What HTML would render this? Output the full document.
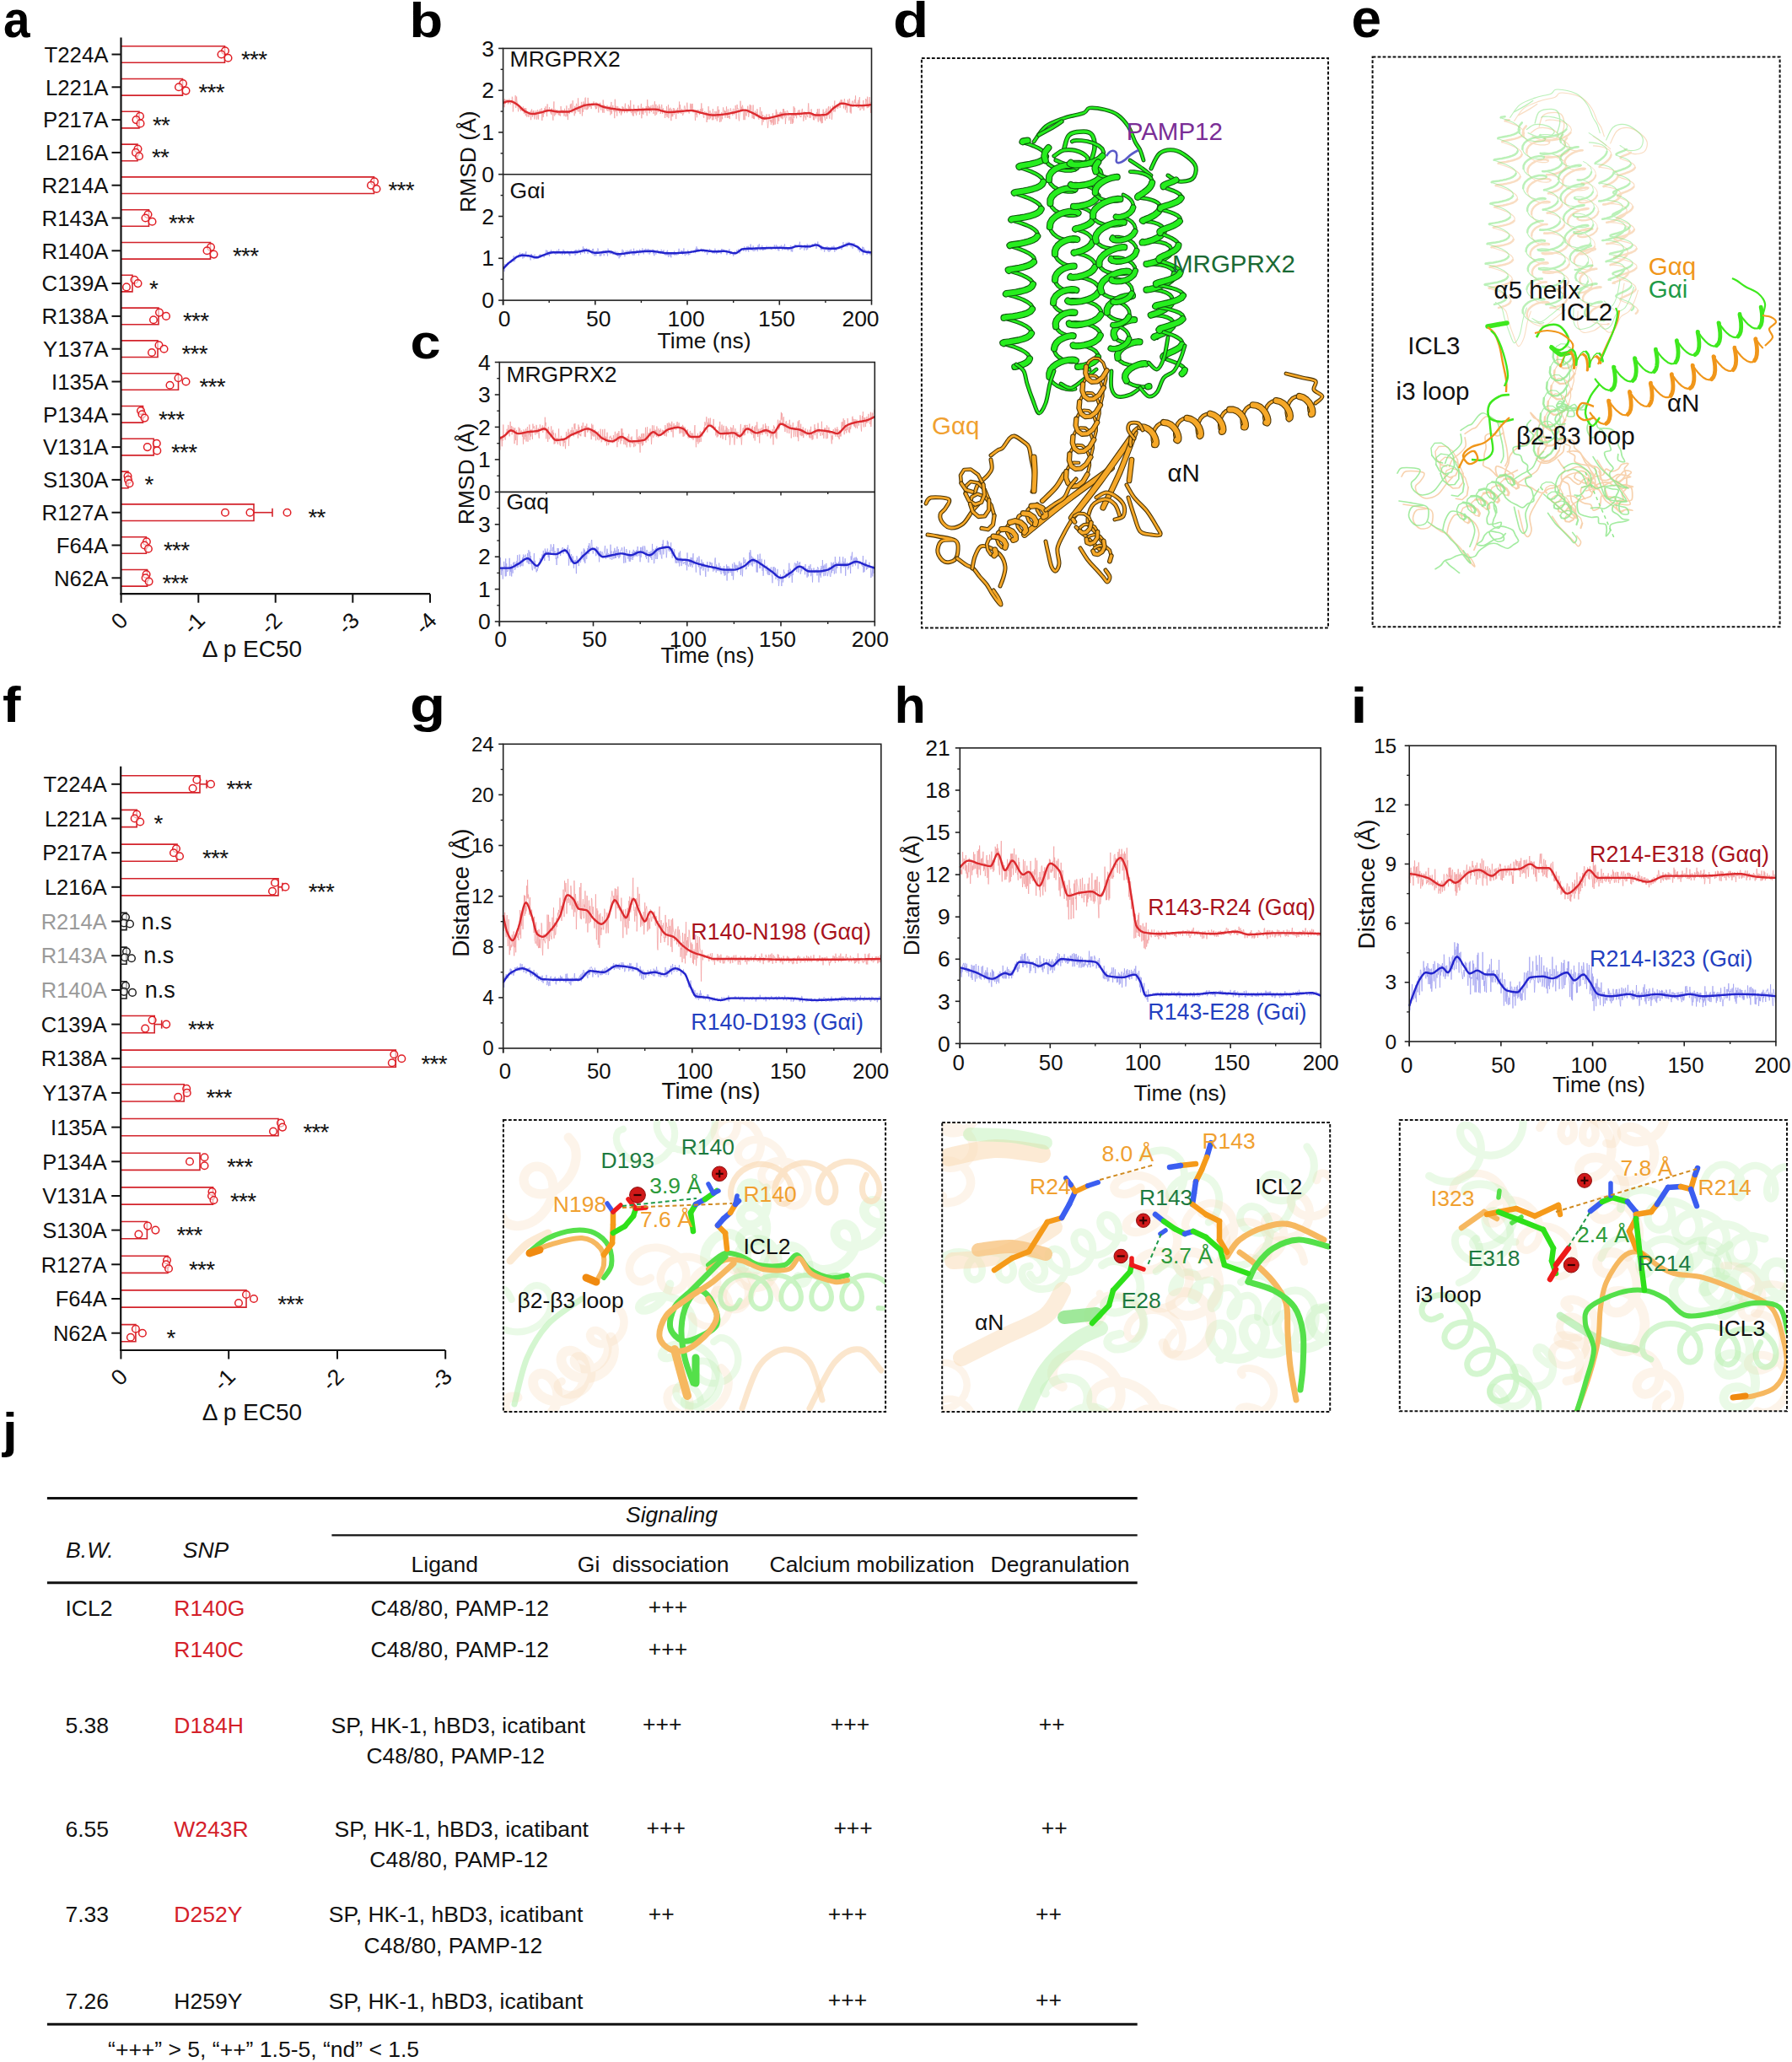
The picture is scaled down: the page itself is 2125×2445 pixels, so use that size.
<!DOCTYPE html>
<html><head><meta charset="utf-8"><title>Figure</title>
<style>html,body{margin:0;padding:0;background:#fff;overflow:hidden;}svg{display:block;}
text{font-family:'Liberation Sans', Arial, sans-serif;}</style></head>
<body><svg width="2125" height="2445" viewBox="0 0 2125 2445" fill="#111">
<rect width="2125" height="2445" fill="#fff"/>
<text x="0" y="0" font-size="61" font-weight="bold" fill="#000" transform="translate(4.0,43.7) scale(0.93,1)">a</text>
<text x="128.5" y="73.7" font-size="25.8" text-anchor="end">T224A</text>
<line x1="132.5" y1="64.5" x2="143.5" y2="64.5" stroke="#111" stroke-width="2"/>
<path d="M143.5,54.7 H266.5 V74.3 H143.5" stroke="#d3232b" stroke-width="1.6" fill="none"/>
<circle cx="267.0" cy="60.2" r="4.3" stroke="#e01f26" stroke-width="1.5" fill="#fff" fill-opacity="0.6"/>
<circle cx="262.5" cy="64.5" r="4.3" stroke="#e01f26" stroke-width="1.5" fill="#fff" fill-opacity="0.6"/>
<circle cx="270.5" cy="68.8" r="4.3" stroke="#e01f26" stroke-width="1.5" fill="#fff" fill-opacity="0.6"/>
<text x="286.0" y="80.0" font-size="28" letter-spacing="-0.8">***</text>
<text x="128.5" y="112.5" font-size="25.8" text-anchor="end">L221A</text>
<line x1="132.5" y1="103.3" x2="143.5" y2="103.3" stroke="#111" stroke-width="2"/>
<path d="M143.5,93.5 H216.5 V113.1 H143.5" stroke="#d3232b" stroke-width="1.6" fill="none"/>
<circle cx="217.0" cy="99.0" r="4.3" stroke="#e01f26" stroke-width="1.5" fill="#fff" fill-opacity="0.6"/>
<circle cx="212.0" cy="103.3" r="4.3" stroke="#e01f26" stroke-width="1.5" fill="#fff" fill-opacity="0.6"/>
<circle cx="220.5" cy="107.6" r="4.3" stroke="#e01f26" stroke-width="1.5" fill="#fff" fill-opacity="0.6"/>
<text x="235.5" y="118.8" font-size="28" letter-spacing="-0.8">***</text>
<text x="128.5" y="151.3" font-size="25.8" text-anchor="end">P217A</text>
<line x1="132.5" y1="142.1" x2="143.5" y2="142.1" stroke="#111" stroke-width="2"/>
<path d="M143.5,132.3 H165.0 V151.9 H143.5" stroke="#d3232b" stroke-width="1.6" fill="none"/>
<circle cx="166.0" cy="137.8" r="4.3" stroke="#e01f26" stroke-width="1.5" fill="#fff" fill-opacity="0.6"/>
<circle cx="161.5" cy="142.1" r="4.3" stroke="#e01f26" stroke-width="1.5" fill="#fff" fill-opacity="0.6"/>
<circle cx="166.5" cy="146.4" r="4.3" stroke="#e01f26" stroke-width="1.5" fill="#fff" fill-opacity="0.6"/>
<text x="181.0" y="157.6" font-size="28" letter-spacing="-0.8">**</text>
<text x="128.5" y="190.1" font-size="25.8" text-anchor="end">L216A</text>
<line x1="132.5" y1="180.9" x2="143.5" y2="180.9" stroke="#111" stroke-width="2"/>
<path d="M143.5,171.1 H163.0 V190.7 H143.5" stroke="#d3232b" stroke-width="1.6" fill="none"/>
<circle cx="163.5" cy="176.6" r="4.3" stroke="#e01f26" stroke-width="1.5" fill="#fff" fill-opacity="0.6"/>
<circle cx="161.0" cy="180.9" r="4.3" stroke="#e01f26" stroke-width="1.5" fill="#fff" fill-opacity="0.6"/>
<circle cx="165.0" cy="185.2" r="4.3" stroke="#e01f26" stroke-width="1.5" fill="#fff" fill-opacity="0.6"/>
<text x="180.0" y="196.4" font-size="28" letter-spacing="-0.8">**</text>
<text x="128.5" y="228.9" font-size="25.8" text-anchor="end">R214A</text>
<line x1="132.5" y1="219.7" x2="143.5" y2="219.7" stroke="#111" stroke-width="2"/>
<path d="M143.5,209.9 H443.5 V229.5 H143.5" stroke="#d3232b" stroke-width="1.6" fill="none"/>
<circle cx="444.0" cy="215.4" r="4.3" stroke="#e01f26" stroke-width="1.5" fill="#fff" fill-opacity="0.6"/>
<circle cx="440.0" cy="219.7" r="4.3" stroke="#e01f26" stroke-width="1.5" fill="#fff" fill-opacity="0.6"/>
<circle cx="446.5" cy="224.0" r="4.3" stroke="#e01f26" stroke-width="1.5" fill="#fff" fill-opacity="0.6"/>
<text x="460.5" y="235.2" font-size="28" letter-spacing="-0.8">***</text>
<text x="128.5" y="267.7" font-size="25.8" text-anchor="end">R143A</text>
<line x1="132.5" y1="258.5" x2="143.5" y2="258.5" stroke="#111" stroke-width="2"/>
<path d="M143.5,248.7 H176.5 V268.3 H143.5" stroke="#d3232b" stroke-width="1.6" fill="none"/>
<circle cx="175.5" cy="254.2" r="4.3" stroke="#e01f26" stroke-width="1.5" fill="#fff" fill-opacity="0.6"/>
<circle cx="172.5" cy="258.5" r="4.3" stroke="#e01f26" stroke-width="1.5" fill="#fff" fill-opacity="0.6"/>
<circle cx="180.5" cy="262.8" r="4.3" stroke="#e01f26" stroke-width="1.5" fill="#fff" fill-opacity="0.6"/>
<text x="200.0" y="274.0" font-size="28" letter-spacing="-0.8">***</text>
<text x="128.5" y="306.5" font-size="25.8" text-anchor="end">R140A</text>
<line x1="132.5" y1="297.3" x2="143.5" y2="297.3" stroke="#111" stroke-width="2"/>
<path d="M143.5,287.5 H249.5 V307.1 H143.5" stroke="#d3232b" stroke-width="1.6" fill="none"/>
<circle cx="250.0" cy="293.0" r="4.3" stroke="#e01f26" stroke-width="1.5" fill="#fff" fill-opacity="0.6"/>
<circle cx="245.5" cy="297.3" r="4.3" stroke="#e01f26" stroke-width="1.5" fill="#fff" fill-opacity="0.6"/>
<circle cx="253.5" cy="301.6" r="4.3" stroke="#e01f26" stroke-width="1.5" fill="#fff" fill-opacity="0.6"/>
<text x="276.0" y="312.8" font-size="28" letter-spacing="-0.8">***</text>
<text x="128.5" y="345.3" font-size="25.8" text-anchor="end">C139A</text>
<line x1="132.5" y1="336.1" x2="143.5" y2="336.1" stroke="#111" stroke-width="2"/>
<path d="M143.5,326.3 H157.0 V345.9 H143.5" stroke="#d3232b" stroke-width="1.6" fill="none"/>
<circle cx="159.5" cy="331.8" r="4.3" stroke="#e01f26" stroke-width="1.5" fill="#fff" fill-opacity="0.6"/>
<circle cx="163.5" cy="336.1" r="4.3" stroke="#e01f26" stroke-width="1.5" fill="#fff" fill-opacity="0.6"/>
<circle cx="150.0" cy="340.4" r="4.3" stroke="#e01f26" stroke-width="1.5" fill="#fff" fill-opacity="0.6"/>
<text x="177.0" y="351.6" font-size="28" letter-spacing="-0.8">*</text>
<text x="128.5" y="384.1" font-size="25.8" text-anchor="end">R138A</text>
<line x1="132.5" y1="374.9" x2="143.5" y2="374.9" stroke="#111" stroke-width="2"/>
<path d="M143.5,365.1 H188.0 V384.7 H143.5" stroke="#d3232b" stroke-width="1.6" fill="none"/>
<circle cx="189.0" cy="370.6" r="4.3" stroke="#e01f26" stroke-width="1.5" fill="#fff" fill-opacity="0.6"/>
<circle cx="197.0" cy="374.9" r="4.3" stroke="#e01f26" stroke-width="1.5" fill="#fff" fill-opacity="0.6"/>
<circle cx="182.0" cy="379.2" r="4.3" stroke="#e01f26" stroke-width="1.5" fill="#fff" fill-opacity="0.6"/>
<text x="217.0" y="390.4" font-size="28" letter-spacing="-0.8">***</text>
<text x="128.5" y="422.9" font-size="25.8" text-anchor="end">Y137A</text>
<line x1="132.5" y1="413.7" x2="143.5" y2="413.7" stroke="#111" stroke-width="2"/>
<path d="M143.5,403.9 H187.0 V423.5 H143.5" stroke="#d3232b" stroke-width="1.6" fill="none"/>
<circle cx="188.5" cy="409.4" r="4.3" stroke="#e01f26" stroke-width="1.5" fill="#fff" fill-opacity="0.6"/>
<circle cx="194.5" cy="413.7" r="4.3" stroke="#e01f26" stroke-width="1.5" fill="#fff" fill-opacity="0.6"/>
<circle cx="180.0" cy="418.0" r="4.3" stroke="#e01f26" stroke-width="1.5" fill="#fff" fill-opacity="0.6"/>
<text x="215.5" y="429.2" font-size="28" letter-spacing="-0.8">***</text>
<text x="128.5" y="461.7" font-size="25.8" text-anchor="end">I135A</text>
<line x1="132.5" y1="452.5" x2="143.5" y2="452.5" stroke="#111" stroke-width="2"/>
<path d="M143.5,442.7 H211.5 V462.3 H143.5" stroke="#d3232b" stroke-width="1.6" fill="none"/>
<circle cx="211.5" cy="448.2" r="4.3" stroke="#e01f26" stroke-width="1.5" fill="#fff" fill-opacity="0.6"/>
<circle cx="220.5" cy="452.5" r="4.3" stroke="#e01f26" stroke-width="1.5" fill="#fff" fill-opacity="0.6"/>
<circle cx="201.5" cy="456.8" r="4.3" stroke="#e01f26" stroke-width="1.5" fill="#fff" fill-opacity="0.6"/>
<text x="236.5" y="468.0" font-size="28" letter-spacing="-0.8">***</text>
<text x="128.5" y="500.5" font-size="25.8" text-anchor="end">P134A</text>
<line x1="132.5" y1="491.3" x2="143.5" y2="491.3" stroke="#111" stroke-width="2"/>
<path d="M143.5,481.5 H169.5 V501.1 H143.5" stroke="#d3232b" stroke-width="1.6" fill="none"/>
<circle cx="167.0" cy="487.0" r="4.3" stroke="#e01f26" stroke-width="1.5" fill="#fff" fill-opacity="0.6"/>
<circle cx="168.5" cy="491.3" r="4.3" stroke="#e01f26" stroke-width="1.5" fill="#fff" fill-opacity="0.6"/>
<circle cx="171.5" cy="495.6" r="4.3" stroke="#e01f26" stroke-width="1.5" fill="#fff" fill-opacity="0.6"/>
<text x="188.0" y="506.8" font-size="28" letter-spacing="-0.8">***</text>
<text x="128.5" y="539.3" font-size="25.8" text-anchor="end">V131A</text>
<line x1="132.5" y1="530.1" x2="143.5" y2="530.1" stroke="#111" stroke-width="2"/>
<path d="M143.5,520.3 H182.3 V539.9 H143.5" stroke="#d3232b" stroke-width="1.6" fill="none"/>
<circle cx="185.8" cy="525.8" r="4.3" stroke="#e01f26" stroke-width="1.5" fill="#fff" fill-opacity="0.6"/>
<circle cx="174.8" cy="530.1" r="4.3" stroke="#e01f26" stroke-width="1.5" fill="#fff" fill-opacity="0.6"/>
<circle cx="186.3" cy="534.4" r="4.3" stroke="#e01f26" stroke-width="1.5" fill="#fff" fill-opacity="0.6"/>
<text x="203.0" y="545.6" font-size="28" letter-spacing="-0.8">***</text>
<text x="128.5" y="578.1" font-size="25.8" text-anchor="end">S130A</text>
<line x1="132.5" y1="568.9" x2="143.5" y2="568.9" stroke="#111" stroke-width="2"/>
<path d="M143.5,559.1 H152.0 V578.7 H143.5" stroke="#d3232b" stroke-width="1.6" fill="none"/>
<circle cx="151.5" cy="564.6" r="4.3" stroke="#e01f26" stroke-width="1.5" fill="#fff" fill-opacity="0.6"/>
<circle cx="152.0" cy="568.9" r="4.3" stroke="#e01f26" stroke-width="1.5" fill="#fff" fill-opacity="0.6"/>
<circle cx="153.5" cy="573.2" r="4.3" stroke="#e01f26" stroke-width="1.5" fill="#fff" fill-opacity="0.6"/>
<text x="171.5" y="584.4" font-size="28" letter-spacing="-0.8">*</text>
<text x="128.5" y="616.9" font-size="25.8" text-anchor="end">R127A</text>
<line x1="132.5" y1="607.7" x2="143.5" y2="607.7" stroke="#111" stroke-width="2"/>
<path d="M143.5,597.9 H301.0 V617.5 H143.5" stroke="#d3232b" stroke-width="1.6" fill="none"/>
<line x1="301.0" y1="607.7" x2="323.0" y2="607.7" stroke="#d3232b" stroke-width="1.6"/>
<line x1="323.0" y1="602.7" x2="323.0" y2="612.7" stroke="#d3232b" stroke-width="1.6"/>
<circle cx="267.0" cy="607.7" r="4.3" stroke="#e01f26" stroke-width="1.5" fill="#fff" fill-opacity="0.6"/>
<circle cx="296.5" cy="607.7" r="4.3" stroke="#e01f26" stroke-width="1.5" fill="#fff" fill-opacity="0.6"/>
<circle cx="340.5" cy="607.7" r="4.3" stroke="#e01f26" stroke-width="1.5" fill="#fff" fill-opacity="0.6"/>
<text x="365.5" y="623.2" font-size="28" letter-spacing="-0.8">**</text>
<text x="128.5" y="655.7" font-size="25.8" text-anchor="end">F64A</text>
<line x1="132.5" y1="646.5" x2="143.5" y2="646.5" stroke="#111" stroke-width="2"/>
<path d="M143.5,636.7 H173.4 V656.3 H143.5" stroke="#d3232b" stroke-width="1.6" fill="none"/>
<circle cx="173.9" cy="642.2" r="4.3" stroke="#e01f26" stroke-width="1.5" fill="#fff" fill-opacity="0.6"/>
<circle cx="171.4" cy="646.5" r="4.3" stroke="#e01f26" stroke-width="1.5" fill="#fff" fill-opacity="0.6"/>
<circle cx="175.9" cy="650.8" r="4.3" stroke="#e01f26" stroke-width="1.5" fill="#fff" fill-opacity="0.6"/>
<text x="194.0" y="662.0" font-size="28" letter-spacing="-0.8">***</text>
<text x="128.5" y="694.5" font-size="25.8" text-anchor="end">N62A</text>
<line x1="132.5" y1="685.3" x2="143.5" y2="685.3" stroke="#111" stroke-width="2"/>
<path d="M143.5,675.5 H174.6 V695.1 H143.5" stroke="#d3232b" stroke-width="1.6" fill="none"/>
<circle cx="173.6" cy="681.0" r="4.3" stroke="#e01f26" stroke-width="1.5" fill="#fff" fill-opacity="0.6"/>
<circle cx="172.6" cy="685.3" r="4.3" stroke="#e01f26" stroke-width="1.5" fill="#fff" fill-opacity="0.6"/>
<circle cx="176.6" cy="689.6" r="4.3" stroke="#e01f26" stroke-width="1.5" fill="#fff" fill-opacity="0.6"/>
<text x="192.5" y="700.8" font-size="28" letter-spacing="-0.8">***</text>
<line x1="143.5" y1="44.4" x2="143.5" y2="705.2" stroke="#111" stroke-width="2.2"/>
<line x1="142.5" y1="704.2" x2="510.0" y2="704.2" stroke="#111" stroke-width="2.2"/>
<line x1="143.6" y1="704.2" x2="143.6" y2="714.7" stroke="#111" stroke-width="2"/>
<text x="0" y="0" font-size="26.5" text-anchor="end" transform="translate(153.1,737.2) rotate(-45)">0</text>
<line x1="235.3" y1="704.2" x2="235.3" y2="714.7" stroke="#111" stroke-width="2"/>
<text x="0" y="0" font-size="26.5" text-anchor="end" transform="translate(244.8,737.2) rotate(-45)">-1</text>
<line x1="326.7" y1="704.2" x2="326.7" y2="714.7" stroke="#111" stroke-width="2"/>
<text x="0" y="0" font-size="26.5" text-anchor="end" transform="translate(336.2,737.2) rotate(-45)">-2</text>
<line x1="418.3" y1="704.2" x2="418.3" y2="714.7" stroke="#111" stroke-width="2"/>
<text x="0" y="0" font-size="26.5" text-anchor="end" transform="translate(427.8,737.2) rotate(-45)">-3</text>
<line x1="510.0" y1="704.2" x2="510.0" y2="714.7" stroke="#111" stroke-width="2"/>
<text x="0" y="0" font-size="26.5" text-anchor="end" transform="translate(519.5,737.2) rotate(-45)">-4</text>
<text x="299.0" y="778.5" font-size="28" text-anchor="middle">Δ p EC50</text>
<text x="0" y="0" font-size="60" font-weight="bold" fill="#000" transform="translate(3.0,856.2) scale(1.08,1)">f</text>
<text x="126.7" y="939.0" font-size="25.5" text-anchor="end">T224A</text>
<line x1="132.2" y1="929.8" x2="143.2" y2="929.8" stroke="#111" stroke-width="2"/>
<path d="M143.2,919.7 H237.0 V939.9 H143.2" stroke="#d3232b" stroke-width="1.6" fill="none"/>
<line x1="237.0" y1="929.8" x2="245.0" y2="929.8" stroke="#d3232b" stroke-width="1.6"/>
<line x1="245.0" y1="924.8" x2="245.0" y2="934.8" stroke="#d3232b" stroke-width="1.6"/>
<circle cx="233.4" cy="924.8" r="4.3" stroke="#e01f26" stroke-width="1.5" fill="#fff" fill-opacity="0.6"/>
<circle cx="228.6" cy="934.8" r="4.3" stroke="#e01f26" stroke-width="1.5" fill="#fff" fill-opacity="0.6"/>
<circle cx="250.0" cy="929.8" r="4.3" stroke="#e01f26" stroke-width="1.5" fill="#fff" fill-opacity="0.6"/>
<text x="268.4" y="945.3" font-size="28" letter-spacing="-0.8">***</text>
<text x="126.7" y="979.7" font-size="25.5" text-anchor="end">L221A</text>
<line x1="132.2" y1="970.5" x2="143.2" y2="970.5" stroke="#111" stroke-width="2"/>
<path d="M143.2,960.4 H162.2 V980.6 H143.2" stroke="#d3232b" stroke-width="1.6" fill="none"/>
<circle cx="162.2" cy="965.5" r="4.3" stroke="#e01f26" stroke-width="1.5" fill="#fff" fill-opacity="0.6"/>
<circle cx="159.7" cy="970.5" r="4.3" stroke="#e01f26" stroke-width="1.5" fill="#fff" fill-opacity="0.6"/>
<circle cx="166.2" cy="974.5" r="4.3" stroke="#e01f26" stroke-width="1.5" fill="#fff" fill-opacity="0.6"/>
<text x="182.5" y="986.0" font-size="28" letter-spacing="-0.8">*</text>
<text x="126.7" y="1020.4" font-size="25.5" text-anchor="end">P217A</text>
<line x1="132.2" y1="1011.2" x2="143.2" y2="1011.2" stroke="#111" stroke-width="2"/>
<path d="M143.2,1001.1 H210.0 V1021.3 H143.2" stroke="#d3232b" stroke-width="1.6" fill="none"/>
<circle cx="209.0" cy="1006.2" r="4.3" stroke="#e01f26" stroke-width="1.5" fill="#fff" fill-opacity="0.6"/>
<circle cx="206.0" cy="1011.2" r="4.3" stroke="#e01f26" stroke-width="1.5" fill="#fff" fill-opacity="0.6"/>
<circle cx="213.0" cy="1015.2" r="4.3" stroke="#e01f26" stroke-width="1.5" fill="#fff" fill-opacity="0.6"/>
<text x="240.0" y="1026.7" font-size="28" letter-spacing="-0.8">***</text>
<text x="126.7" y="1061.0" font-size="25.5" text-anchor="end">L216A</text>
<line x1="132.2" y1="1051.8" x2="143.2" y2="1051.8" stroke="#111" stroke-width="2"/>
<path d="M143.2,1041.7 H330.0 V1061.9 H143.2" stroke="#d3232b" stroke-width="1.6" fill="none"/>
<line x1="330.0" y1="1051.8" x2="335.0" y2="1051.8" stroke="#d3232b" stroke-width="1.6"/>
<line x1="335.0" y1="1046.8" x2="335.0" y2="1056.8" stroke="#d3232b" stroke-width="1.6"/>
<circle cx="326.0" cy="1046.8" r="4.3" stroke="#e01f26" stroke-width="1.5" fill="#fff" fill-opacity="0.6"/>
<circle cx="323.0" cy="1056.8" r="4.3" stroke="#e01f26" stroke-width="1.5" fill="#fff" fill-opacity="0.6"/>
<circle cx="338.4" cy="1051.8" r="4.3" stroke="#e01f26" stroke-width="1.5" fill="#fff" fill-opacity="0.6"/>
<text x="365.7" y="1067.3" font-size="28" letter-spacing="-0.8">***</text>
<text x="126.7" y="1101.7" font-size="25.5" text-anchor="end" fill="#9a9a9a">R214A</text>
<line x1="132.2" y1="1092.5" x2="143.2" y2="1092.5" stroke="#111" stroke-width="2"/>
<path d="M143.2,1082.4 H150.0 V1102.6 H143.2" stroke="#222" stroke-width="1.6" fill="none"/>
<circle cx="149.0" cy="1087.5" r="4.3" stroke="#222" stroke-width="1.5" fill="#fff" fill-opacity="0.6"/>
<circle cx="147.0" cy="1094.5" r="4.3" stroke="#222" stroke-width="1.5" fill="#fff" fill-opacity="0.6"/>
<circle cx="154.0" cy="1095.5" r="4.3" stroke="#222" stroke-width="1.5" fill="#fff" fill-opacity="0.6"/>
<text x="167.7" y="1101.5" font-size="27">n.s</text>
<text x="126.7" y="1142.4" font-size="25.5" text-anchor="end" fill="#9a9a9a">R143A</text>
<line x1="132.2" y1="1133.2" x2="143.2" y2="1133.2" stroke="#111" stroke-width="2"/>
<path d="M143.2,1123.1 H150.0 V1143.3 H143.2" stroke="#222" stroke-width="1.6" fill="none"/>
<circle cx="150.0" cy="1128.2" r="4.3" stroke="#222" stroke-width="1.5" fill="#fff" fill-opacity="0.6"/>
<circle cx="148.0" cy="1135.2" r="4.3" stroke="#222" stroke-width="1.5" fill="#fff" fill-opacity="0.6"/>
<circle cx="156.0" cy="1136.2" r="4.3" stroke="#222" stroke-width="1.5" fill="#fff" fill-opacity="0.6"/>
<text x="170.3" y="1142.2" font-size="27">n.s</text>
<text x="126.7" y="1183.1" font-size="25.5" text-anchor="end" fill="#9a9a9a">R140A</text>
<line x1="132.2" y1="1173.9" x2="143.2" y2="1173.9" stroke="#111" stroke-width="2"/>
<path d="M143.2,1163.8 H150.0 V1184.0 H143.2" stroke="#222" stroke-width="1.6" fill="none"/>
<circle cx="149.0" cy="1168.9" r="4.3" stroke="#222" stroke-width="1.5" fill="#fff" fill-opacity="0.6"/>
<circle cx="147.0" cy="1175.9" r="4.3" stroke="#222" stroke-width="1.5" fill="#fff" fill-opacity="0.6"/>
<circle cx="157.0" cy="1176.9" r="4.3" stroke="#222" stroke-width="1.5" fill="#fff" fill-opacity="0.6"/>
<text x="171.8" y="1182.9" font-size="27">n.s</text>
<text x="126.7" y="1223.8" font-size="25.5" text-anchor="end">C139A</text>
<line x1="132.2" y1="1214.6" x2="143.2" y2="1214.6" stroke="#111" stroke-width="2"/>
<path d="M143.2,1204.5 H183.2 V1224.7 H143.2" stroke="#d3232b" stroke-width="1.6" fill="none"/>
<line x1="183.2" y1="1214.6" x2="191.7" y2="1214.6" stroke="#d3232b" stroke-width="1.6"/>
<line x1="191.7" y1="1209.6" x2="191.7" y2="1219.6" stroke="#d3232b" stroke-width="1.6"/>
<circle cx="180.6" cy="1209.6" r="4.3" stroke="#e01f26" stroke-width="1.5" fill="#fff" fill-opacity="0.6"/>
<circle cx="172.2" cy="1219.6" r="4.3" stroke="#e01f26" stroke-width="1.5" fill="#fff" fill-opacity="0.6"/>
<circle cx="197.2" cy="1214.6" r="4.3" stroke="#e01f26" stroke-width="1.5" fill="#fff" fill-opacity="0.6"/>
<text x="223.0" y="1230.1" font-size="28" letter-spacing="-0.8">***</text>
<text x="126.7" y="1264.4" font-size="25.5" text-anchor="end">R138A</text>
<line x1="132.2" y1="1255.2" x2="143.2" y2="1255.2" stroke="#111" stroke-width="2"/>
<path d="M143.2,1245.1 H469.3 V1265.3 H143.2" stroke="#d3232b" stroke-width="1.6" fill="none"/>
<circle cx="467.3" cy="1250.2" r="4.3" stroke="#e01f26" stroke-width="1.5" fill="#fff" fill-opacity="0.6"/>
<circle cx="464.8" cy="1260.2" r="4.3" stroke="#e01f26" stroke-width="1.5" fill="#fff" fill-opacity="0.6"/>
<circle cx="476.3" cy="1255.2" r="4.3" stroke="#e01f26" stroke-width="1.5" fill="#fff" fill-opacity="0.6"/>
<text x="499.5" y="1270.7" font-size="28" letter-spacing="-0.8">***</text>
<text x="126.7" y="1305.1" font-size="25.5" text-anchor="end">Y137A</text>
<line x1="132.2" y1="1295.9" x2="143.2" y2="1295.9" stroke="#111" stroke-width="2"/>
<path d="M143.2,1285.8 H218.2 V1306.0 H143.2" stroke="#d3232b" stroke-width="1.6" fill="none"/>
<circle cx="221.2" cy="1290.9" r="4.3" stroke="#e01f26" stroke-width="1.5" fill="#fff" fill-opacity="0.6"/>
<circle cx="211.2" cy="1300.9" r="4.3" stroke="#e01f26" stroke-width="1.5" fill="#fff" fill-opacity="0.6"/>
<circle cx="221.7" cy="1295.9" r="4.3" stroke="#e01f26" stroke-width="1.5" fill="#fff" fill-opacity="0.6"/>
<text x="244.4" y="1311.4" font-size="28" letter-spacing="-0.8">***</text>
<text x="126.7" y="1345.8" font-size="25.5" text-anchor="end">I135A</text>
<line x1="132.2" y1="1336.6" x2="143.2" y2="1336.6" stroke="#111" stroke-width="2"/>
<path d="M143.2,1326.5 H330.0 V1346.7 H143.2" stroke="#d3232b" stroke-width="1.6" fill="none"/>
<circle cx="333.0" cy="1331.6" r="4.3" stroke="#e01f26" stroke-width="1.5" fill="#fff" fill-opacity="0.6"/>
<circle cx="324.0" cy="1341.6" r="4.3" stroke="#e01f26" stroke-width="1.5" fill="#fff" fill-opacity="0.6"/>
<circle cx="335.0" cy="1336.6" r="4.3" stroke="#e01f26" stroke-width="1.5" fill="#fff" fill-opacity="0.6"/>
<text x="359.4" y="1352.1" font-size="28" letter-spacing="-0.8">***</text>
<text x="126.7" y="1386.5" font-size="25.5" text-anchor="end">P134A</text>
<line x1="132.2" y1="1377.3" x2="143.2" y2="1377.3" stroke="#111" stroke-width="2"/>
<path d="M143.2,1367.2 H237.0 V1387.4 H143.2" stroke="#d3232b" stroke-width="1.6" fill="none"/>
<circle cx="242.5" cy="1372.3" r="4.3" stroke="#e01f26" stroke-width="1.5" fill="#fff" fill-opacity="0.6"/>
<circle cx="225.0" cy="1377.3" r="4.3" stroke="#e01f26" stroke-width="1.5" fill="#fff" fill-opacity="0.6"/>
<circle cx="242.5" cy="1382.3" r="4.3" stroke="#e01f26" stroke-width="1.5" fill="#fff" fill-opacity="0.6"/>
<text x="269.0" y="1392.8" font-size="28" letter-spacing="-0.8">***</text>
<text x="126.7" y="1427.2" font-size="25.5" text-anchor="end">V131A</text>
<line x1="132.2" y1="1418.0" x2="143.2" y2="1418.0" stroke="#111" stroke-width="2"/>
<path d="M143.2,1407.9 H252.5 V1428.1 H143.2" stroke="#d3232b" stroke-width="1.6" fill="none"/>
<circle cx="251.5" cy="1413.0" r="4.3" stroke="#e01f26" stroke-width="1.5" fill="#fff" fill-opacity="0.6"/>
<circle cx="251.0" cy="1418.0" r="4.3" stroke="#e01f26" stroke-width="1.5" fill="#fff" fill-opacity="0.6"/>
<circle cx="253.5" cy="1423.0" r="4.3" stroke="#e01f26" stroke-width="1.5" fill="#fff" fill-opacity="0.6"/>
<text x="273.0" y="1433.5" font-size="28" letter-spacing="-0.8">***</text>
<text x="126.7" y="1467.8" font-size="25.5" text-anchor="end">S130A</text>
<line x1="132.2" y1="1458.6" x2="143.2" y2="1458.6" stroke="#111" stroke-width="2"/>
<path d="M143.2,1448.5 H174.4 V1468.7 H143.2" stroke="#d3232b" stroke-width="1.6" fill="none"/>
<circle cx="175.2" cy="1453.6" r="4.3" stroke="#e01f26" stroke-width="1.5" fill="#fff" fill-opacity="0.6"/>
<circle cx="164.4" cy="1463.6" r="4.3" stroke="#e01f26" stroke-width="1.5" fill="#fff" fill-opacity="0.6"/>
<circle cx="184.4" cy="1458.6" r="4.3" stroke="#e01f26" stroke-width="1.5" fill="#fff" fill-opacity="0.6"/>
<text x="209.4" y="1474.1" font-size="28" letter-spacing="-0.8">***</text>
<text x="126.7" y="1508.5" font-size="25.5" text-anchor="end">R127A</text>
<line x1="132.2" y1="1499.3" x2="143.2" y2="1499.3" stroke="#111" stroke-width="2"/>
<path d="M143.2,1489.2 H199.0 V1509.4 H143.2" stroke="#d3232b" stroke-width="1.6" fill="none"/>
<circle cx="198.0" cy="1494.3" r="4.3" stroke="#e01f26" stroke-width="1.5" fill="#fff" fill-opacity="0.6"/>
<circle cx="197.0" cy="1499.3" r="4.3" stroke="#e01f26" stroke-width="1.5" fill="#fff" fill-opacity="0.6"/>
<circle cx="200.0" cy="1504.3" r="4.3" stroke="#e01f26" stroke-width="1.5" fill="#fff" fill-opacity="0.6"/>
<text x="224.0" y="1514.8" font-size="28" letter-spacing="-0.8">***</text>
<text x="126.7" y="1549.2" font-size="25.5" text-anchor="end">F64A</text>
<line x1="132.2" y1="1540.0" x2="143.2" y2="1540.0" stroke="#111" stroke-width="2"/>
<path d="M143.2,1529.9 H292.0 V1550.1 H143.2" stroke="#d3232b" stroke-width="1.6" fill="none"/>
<circle cx="292.0" cy="1535.0" r="4.3" stroke="#e01f26" stroke-width="1.5" fill="#fff" fill-opacity="0.6"/>
<circle cx="283.0" cy="1545.0" r="4.3" stroke="#e01f26" stroke-width="1.5" fill="#fff" fill-opacity="0.6"/>
<circle cx="301.0" cy="1540.0" r="4.3" stroke="#e01f26" stroke-width="1.5" fill="#fff" fill-opacity="0.6"/>
<text x="329.2" y="1555.5" font-size="28" letter-spacing="-0.8">***</text>
<text x="126.7" y="1589.9" font-size="25.5" text-anchor="end">N62A</text>
<line x1="132.2" y1="1580.7" x2="143.2" y2="1580.7" stroke="#111" stroke-width="2"/>
<path d="M143.2,1570.6 H160.9 V1590.8 H143.2" stroke="#d3232b" stroke-width="1.6" fill="none"/>
<circle cx="160.9" cy="1575.7" r="4.3" stroke="#e01f26" stroke-width="1.5" fill="#fff" fill-opacity="0.6"/>
<circle cx="154.9" cy="1585.7" r="4.3" stroke="#e01f26" stroke-width="1.5" fill="#fff" fill-opacity="0.6"/>
<circle cx="168.9" cy="1580.7" r="4.3" stroke="#e01f26" stroke-width="1.5" fill="#fff" fill-opacity="0.6"/>
<text x="197.4" y="1596.2" font-size="28" letter-spacing="-0.8">*</text>
<line x1="143.2" y1="908.8" x2="143.2" y2="1602.0" stroke="#111" stroke-width="2.2"/>
<line x1="142.2" y1="1601.0" x2="528.2" y2="1601.0" stroke="#111" stroke-width="2.2"/>
<line x1="143.4" y1="1601.0" x2="143.4" y2="1611.5" stroke="#111" stroke-width="2"/>
<text x="0" y="0" font-size="26.5" text-anchor="end" transform="translate(152.9,1634.0) rotate(-45)">0</text>
<line x1="271.2" y1="1601.0" x2="271.2" y2="1611.5" stroke="#111" stroke-width="2"/>
<text x="0" y="0" font-size="26.5" text-anchor="end" transform="translate(280.7,1634.0) rotate(-45)">-1</text>
<line x1="400.0" y1="1601.0" x2="400.0" y2="1611.5" stroke="#111" stroke-width="2"/>
<text x="0" y="0" font-size="26.5" text-anchor="end" transform="translate(409.5,1634.0) rotate(-45)">-2</text>
<line x1="528.2" y1="1601.0" x2="528.2" y2="1611.5" stroke="#111" stroke-width="2"/>
<text x="0" y="0" font-size="26.5" text-anchor="end" transform="translate(537.7,1634.0) rotate(-45)">-3</text>
<text x="299.0" y="1684.0" font-size="28" text-anchor="middle">Δ p EC50</text>
<text x="0" y="0" font-size="58" font-weight="bold" fill="#000" transform="translate(485.5,43.5) scale(1.12,1)">b</text>
<path d="M596.6,120.5l0.5,-2.4 0.5,2 0.5,7.1 0.4,-10.1 0.5,1.9 0.5,4.2 0.5,-5.1 0.5,0.8 0.5,0.2 0.5,1.1 0.4,-2.4 0.5,5.7 0.5,-2.6 0.5,1.4 0.5,-4.9 0.5,2.5 0.5,1.5 0.4,2.2 0.5,-2.3 0.5,-1.1 0.5,1.3 0.5,-6.8 0.5,1.4 0.5,16.4 0.4,-2.9 0.5,-7.4 0.5,1.3 0.5,-2.5 0.5,0.3 0.5,-8.2 0.5,14.8 0.5,-2.9 0.4,-10.5 0.5,6.6 0.5,0.2 0.5,5.6 0.5,5.4 0.5,-7.7 0.5,0.6 0.4,3.3 0.5,1.1 0.5,-2.2 0.5,4.4 0.5,-3.3 0.5,1 0.5,1.5 0.4,0.7 0.5,-4.4 0.5,-0.9 0.5,2.9 0.5,5.5 0.5,-6.6 0.5,5.9 0.4,-6 0.5,9 0.5,-8.7 0.5,4.5 0.5,5.7 0.5,-3.9 0.5,-1.5 0.4,-0.7 0.5,5.8 0.5,0.7 0.5,-5.6 0.5,3.1 0.5,-3 0.5,-2.2 0.4,10.9 0.5,-8.4 0.5,-4.3 0.5,6.9 0.5,2.3 0.5,-7 0.5,2.2 0.4,-3 0.5,5.6 0.5,5 0.5,-6.2 0.5,1.4 0.5,-5.6 0.5,2.5 0.5,8.1 0.4,-2.1 0.5,-9.4 0.5,0.8 0.5,10.6 0.5,-7.8 0.5,-2.1 0.5,-0.2 0.4,-1.9 0.5,2.7 0.5,1.4 0.5,0.7 0.5,-6.1 0.5,14.7 0.5,-9.6 0.4,-0.9 0.5,6.4 0.5,-8 0.5,4.2 0.5,-6.9 0.5,4.3 0.5,-3.7 0.4,-2.6 0.5,3.6 0.5,5.5 0.5,2.8 0.5,-14.7 0.5,8.3 0.5,-2 0.4,0.7 0.5,1.5 0.5,-4.7 0.5,3.7 0.5,0.1 0.5,3.4 0.5,-5.3 0.4,6.8 0.5,-7.5 0.5,2.4 0.5,7.6 0.5,4.3 0.5,-13.7 0.5,-8.6 0.4,16 0.5,1.2 0.5,-8.1 0.5,6.5 0.5,-1.4 0.5,-0.7 0.5,-3.9 0.4,4.3 0.5,-3 0.5,2 0.5,3 0.5,-2.3 0.5,2.8 0.5,-4.3 0.5,5.1 0.4,-0.2 0.5,-11.4 0.5,6.8 0.5,0 0.5,-2.5 0.5,4.1 0.5,-0.8 0.4,-3 0.5,0.7 0.5,6.4 0.5,-8.9 0.5,6.4 0.5,2.1 0.5,1.1 0.4,-4.1 0.5,-9 0.5,12.5 0.5,-6 0.5,10.3 0.5,-9.6 0.5,-4.1 0.4,5 0.5,1.7 0.5,-4 0.5,-7.4 0.5,5.1 0.5,-6 0.5,7.7 0.4,3.3 0.5,-2.3 0.5,-12.3 0.5,10.8 0.5,0.4 0.5,-1.2 0.5,8.1 0.4,-11.5 0.5,6.1 0.5,2.5 0.5,-8.3 0.5,-3.3 0.5,3.5 0.5,1.3 0.4,4.7 0.5,-16 0.5,7.5 0.5,8.8 0.5,-1.8 0.5,-4.1 0.5,8.5 0.5,-9.3 0.4,2.6 0.5,-7.7 0.5,1 0.5,15.7 0.5,-12 0.5,7.3 0.5,-12.4 0.4,4 0.5,-1.8 0.5,7.1 0.5,-13.1 0.5,-1 0.5,13.8 0.5,0.8 0.4,-2.7 0.5,-3 0.5,5.5 0.5,-14.1 0.5,12.6 0.5,-3 0.5,-3.7 0.4,5.1 0.5,-1.9 0.5,1.4 0.5,-1.9 0.5,4.6 0.5,-3.4 0.5,-1 0.4,0.5 0.5,-1.8 0.5,1.6 0.5,-4.7 0.5,4.8 0.5,-0.9 0.5,2.4 0.4,-0.7 0.5,3.4 0.5,-8 0.5,7.6 0.5,-1.7 0.5,-4.8 0.5,-0.1 0.4,3.8 0.5,7.4 0.5,-10.8 0.5,1 0.5,3.9 0.5,-5.8 0.5,6.8 0.5,2.1 0.4,-5.3 0.5,1.5 0.5,-1.6 0.5,8.3 0.5,-15.1 0.5,11 0.5,4.3 0.4,-9.5 0.5,4.4 0.5,-2.9 0.5,3.1 0.5,-1.2 0.5,1.9 0.5,1.4 0.4,-6.3 0.5,5.3 0.5,1.9 0.5,-4.2 0.5,-1.5 0.5,3.1 0.5,2.9 0.4,-6.6 0.5,10.8 0.5,-3.2 0.5,-12.3 0.5,13.9 0.5,-6.1 0.5,0.4 0.4,-4.2 0.5,6.7 0.5,0.3 0.5,-4.2 0.5,12.5 0.5,-22.5 0.5,14.8 0.4,0.2 0.5,-7 0.5,4.1 0.5,7.8 0.5,-10.7 0.5,-0.9 0.5,5.5 0.4,-0.3 0.5,-3.3 0.5,6.3 0.5,-6 0.5,1.1 0.5,4 0.5,3.3 0.4,-5.2 0.5,2.9 0.5,-8.3 0.5,3.8 0.5,-2.8 0.5,2.9 0.5,-0.5 0.5,4.7 0.4,-6.5 0.5,-5 0.5,9.3 0.5,-3.6 0.5,3 0.5,2.5 0.5,-0.1 0.4,-3.8 0.5,1.9 0.5,-7.7 0.5,6.4 0.5,-1.5 0.5,-2.8 0.5,5.6 0.4,-12.9 0.5,14.4 0.5,0.8 0.5,-2 0.5,-1.2 0.5,5.8 0.5,-6.2 0.4,7.3 0.5,-13.7 0.5,6.6 0.5,2.5 0.5,1.2 0.5,-2.4 0.5,-0.7 0.4,5.4 0.5,-2.3 0.5,-3.3 0.5,1.4 0.5,-6.5 0.5,-0.9 0.5,5 0.4,-2.1 0.5,8.1 0.5,-3.5 0.5,-2.4 0.5,-2.3 0.5,-5 0.5,17.4 0.4,-11.4 0.5,6 0.5,-7.6 0.5,8.6 0.5,-3.7 0.5,-3.2 0.5,-0.5 0.5,1.1 0.4,3.8 0.5,-1.1 0.5,-6.4 0.5,3.9 0.5,7.5 0.5,-19.2 0.5,9.8 0.4,-2.1 0.5,5.4 0.5,-5.2 0.5,8.4 0.5,-7.3 0.5,4.7 0.5,-5.2 0.4,-1.5 0.5,7.8 0.5,-3.1 0.5,-0.4 0.5,-5.2 0.5,2.2 0.5,8.6 0.4,-7.5 0.5,-1.3 0.5,-6.1 0.5,17 0.5,-5 0.5,-8.4 0.5,12.1 0.4,-0.6 0.5,-7.6 0.5,-2.1 0.5,7.6 0.5,-5.3 0.5,2.1 0.5,-6.2 0.4,7 0.5,-4.3 0.5,8.6 0.5,-3.1 0.5,-0.2 0.5,-7.8 0.5,5 0.4,6.1 0.5,-6.3 0.5,-0.2 0.5,4.1 0.5,0.8 0.5,-0.2 0.5,6.8 0.4,-8.3 0.5,-0.1 0.5,5 0.5,-10.6 0.5,13 0.5,-3.6 0.5,-0.3 0.5,-11 0.4,16.1 0.5,-9.5 0.5,-1.9 0.5,2.5 0.5,-3.6 0.5,9.8 0.5,5.7 0.4,-13.7 0.5,8.8 0.5,-4 0.5,3.8 0.5,-10 0.5,0.8 0.5,7 0.4,-7.3 0.5,3.5 0.5,1.1 0.5,-0.9 0.5,8.8 0.5,-11.4 0.5,1.3 0.4,2.9 0.5,-6.1 0.5,7.2 0.5,-4.1 0.5,-0.6 0.5,-9.8 0.5,13.8 0.4,-10.1 0.5,7 0.5,1.6 0.5,2.1 0.5,-5.7 0.5,2.4 0.5,5.1 0.4,0.1 0.5,-2.6 0.5,0.4 0.5,-7.9 0.5,-1.3 0.5,2.2 0.5,2.2 0.4,3.5 0.5,-2.2 0.5,-3.8 0.5,-5.6 0.5,5.4 0.5,5.3 0.5,-1.4 0.5,2.3 0.4,1.3 0.5,-2.7 0.5,-1.7 0.5,-7.4 0.5,8 0.5,-5.8 0.5,-1.8 0.4,7.6 0.5,-7.9 0.5,5.1 0.5,5.2 0.5,-3 0.5,1.2 0.5,1.2 0.4,0 0.5,10.4 0.5,-13 0.5,6 0.5,-3.7 0.5,6.9 0.5,-7.9 0.4,-1.4 0.5,2.2 0.5,-0.4 0.5,-1.3 0.5,5.8 0.5,-1.8 0.5,-3.2 0.4,-2 0.5,2.8 0.5,-9.6 0.5,12 0.5,-4.8 0.5,-1.1 0.5,6.4 0.4,3.2 0.5,1.7 0.5,-5.9 0.5,-2 0.5,1.8 0.5,0.6 0.5,2.6 0.4,-4.1 0.5,12.2 0.5,-10.5 0.5,1 0.5,6.4 0.5,-15.8 0.5,11.4 0.5,3.4 0.4,0.6 0.5,-10.3 0.5,9.1 0.5,-2.8 0.5,-3.7 0.5,1.5 0.5,7 0.4,-3 0.5,-10.3 0.5,13.3 0.5,-2.1 0.5,-3 0.5,-4.3 0.5,-1 0.4,1.2 0.5,8.1 0.5,-9 0.5,1.6 0.5,9.7 0.5,-14.1 0.5,-3.4 0.4,13.7 0.5,-3.7 0.5,-6.1 0.5,12.9 0.5,2.2 0.5,-8.3 0.5,1.8 0.4,5.7 0.5,-11 0.5,1.4 0.5,6.7 0.5,-8.1 0.5,-5.9 0.5,2.9 0.4,0.9 0.5,4.3 0.5,-4.4 0.5,8.7 0.5,-7.8 0.5,3.7 0.5,-9.3 0.4,6.7 0.5,6.9 0.5,-5.6 0.5,-4.9 0.5,10.4 0.5,-2.7 0.5,0.9 0.4,3.1 0.5,-11.1 0.5,-1.6 0.5,2.1 0.5,2.4 0.5,1.3 0.5,-1.5 0.5,4.3 0.4,-7.4 0.5,-0.8 0.5,0.4 0.5,6.5 0.5,-2.9 0.5,1 0.5,-8.8 0.4,7.1 0.5,9.1 0.5,-10.4 0.5,-6.8 0.5,5.3 0.5,-1 0.5,6 0.4,6.4 0.5,2.7 0.5,-6.2 0.5,-5.2 0.5,-12.3 0.5,8.4 0.5,4.5 0.4,-5.9 0.5,5.4 0.5,-7.4 0.5,2.2 0.5,7.8 0.5,7.5 0.5,-6.9 0.4,-5.2 0.5,12.1 0.5,-10 0.5,0 0.5,5 0.5,0.4 0.5,-4.5 0.4,0.6 0.5,-8 0.5,4.2 0.5,8.9 0.5,-3 0.5,-6.8 0.5,-5.1 0.4,7 0.5,0.6 0.5,-6.7 0.5,8.7 0.5,1.5 0.5,5.2 0.5,-3.8 0.5,-11.9 0.4,16.3 0.5,-6.2 0.5,6.6 0.5,-6.6 0.5,-3.2 0.5,5.3 0.5,1.4 0.4,-5.1 0.5,1.5 0.5,-5.4 0.5,4.5 0.5,5.1 0.5,2 0.5,1 0.4,-5.6 0.5,2.2 0.5,-11.2 0.5,3.7 0.5,9.4 0.5,0.8 0.5,-8.9 0.4,16.2 0.5,-6.2 0.5,-6.1 0.5,8.4 0.5,-1.8 0.5,-0.5 0.5,-4.6 0.4,2.4 0.5,-1.2 0.5,-0.9 0.5,2.5 0.5,-4.9 0.5,8.2 0.5,3.1 0.4,5.1 0.5,-4.4 0.5,-4.9 0.5,-7.2 0.5,3.7 0.5,3.4 0.5,2 0.4,-2.6 0.5,6 0.5,-6 0.5,3.7 0.5,-4.4 0.5,-6.8 0.5,14.2 0.4,-8.8 0.5,8.3 0.5,-10.4 0.5,4 0.5,5.9 0.5,-9.9 0.5,-7.8 0.5,7.5 0.4,-4.8 0.5,5.4 0.5,9.2 0.5,-12 0.5,4 0.5,4.5 0.5,-10.2 0.4,2.1 0.5,3.5 0.5,-6.4 0.5,7.7 0.5,-6.9 0.5,6.9 0.5,-6.7 0.4,7.7 0.5,-12.1 0.5,5.4 0.5,-5.4 0.5,10.1 0.5,-1.6 0.5,-5.9 0.4,15.3 0.5,-6.8 0.5,-0.5 0.5,-6.5 0.5,-2.3 0.5,1 0.5,0.8 0.4,5.8 0.5,2.9 0.5,1.4 0.5,-1.6 0.5,-3.5 0.5,0.3 0.5,8.8 0.4,-2.7 0.5,-6.6 0.5,-3.6 0.5,12.9 0.5,-6.1 0.5,4.7 0.5,-19.4 0.4,14 0.5,-12.5 0.5,0.6 0.5,5.7 0.5,3.8 0.5,-3.2 0.5,5.8 0.5,-6.4 0.4,1.1 0.5,-2.3 0.5,-1.9 0.5,0.9 0.5,5 0.5,-6.5 0.5,8.2 0.4,0.4 0.5,-1.2 0.5,1.5 0.5,-2.8 0.5,-5.8 0.5,-1.6 0.5,5.8 0.4,-1.4 0.5,10.4 0.5,-4.1 0.5,-7.3 0.5,0.8 0.5,6.1 0.5,-0.8 0.4,3.6 0.5,-7 0.5,1.9 0.5,-0.4 0.5,2.4 0.5,-9.1 0.5,-7.4 0.4,6.3 0.5,4.8 0.5,6.4 0.5,-4 0.5,3.8 0.5,-7.2 0.5,-3.2 0.4,4.1 0.5,4.4 0.5,-0.8 0.5,-2.4 0.5,7.6 0.5,-6.9 0.5,7.1 0.4,-3.7 0.5,-0.4 0.5,-2.6 0.5,4.6 0.5,0 0.5,-7.2 0.5,2.5 0.5,-6.5 0.4,11.9 0.5,3.6 0.5,-12.2 0.5,-3.5 0.5,11 0.5,3.2 0.5,-6.3 0.4,7.6 0.5,-6.4 0.5,8.3 0.5,-8.8 0.5,8.4 0.5,-8.4 0.5,-7.9 0.4,8 0.5,-4.7 0.5,6.3 0.5,1.1 0.5,2.6 0.5,-11.4 0.5,4.8 0.4,-7.6 0.5,12.3 0.5,-4.6 0.5,-1.7 0.5,-6.3 0.5,-2.2 0.5,10.6 0.4,1.7 0.5,2.2 0.5,-14.3 0.5,5.9 0.5,2 0.5,-3.2 0.5,10.7 0.4,-4.2 0.5,-12.4 0.5,1.9 0.5,0.7 0.5,4.7 0.5,-7.5 0.5,-5.6 0.4,13.1 0.5,-5.9 0.5,1.7 0.5,-3.9 0.5,1.2 0.5,0.4 0.5,3 0.4,-4.2 0.5,2.4 0.5,-2.4 0.5,0.9 0.5,-5 0.5,7.2 0.5,-3.2 0.5,-6.4 0.4,5.6 0.5,-5.7 0.5,0.8 0.5,2.6 0.5,0.9 0.5,-0.6 0.5,6.6 0.4,-7.5 0.5,-3.8 0.5,3.4 0.5,9.7 0.5,-8.1 0.5,5.4 0.5,-2.9 0.4,8.9 0.5,-4.3 0.5,-11.2 0.5,6.4 0.5,-3.7 0.5,0.8 0.5,-4.7 0.4,2.5 0.5,14 0.5,-8.7 0.5,9.9 0.5,-7.5 0.5,-5.1 0.5,-2.3 0.4,-0.2 0.5,7.4 0.5,-3.1 0.5,1 0.5,-5.2 0.5,-1.5 0.5,4.5 0.4,-9.2 0.5,11.8 0.5,1.7 0.5,-4.4 0.5,-0.7 0.5,1 0.5,5.3 0.4,-9.5 0.5,9 0.5,-9.3 0.5,-3.2 0.5,15.8 0.5,-1.3 0.5,0.1 0.5,-5.6 0.4,0.8 0.5,-0.9 0.5,4.8 0.5,-5.5 0.5,-4.4 0.5,12.2 0.5,-5.1 0.4,-2 0.5,1.6 0.5,0.3 0.5,-8.9 0.5,2.2 0.5,-0.6 0.5,9.6 0.4,-13.5 0.5,8.4 0.5,4.7 0.5,-1.7 0.5,0.6 0.5,-11.7 0.5,8.5 0.4,0.7 0.5,9.7 0.5,-13 0.5,8" stroke="#f29a9c" stroke-width="0.9" fill="none" stroke-linejoin="round" opacity="0.8"/>
<path d="M596.6,122.1l1.5,-0.8 1.4,-0.5 1.5,-0.4 1.4,-0.2 1.5,-0.1 1.5,0 1.4,0.2 1.5,0.6 1.5,0.8 1.4,0.9 1.5,1 1.4,1 1.5,1.1 1.5,1.4 1.4,1.5 1.5,1.4 1.4,1.2 1.5,0.9 1.5,0.7 1.4,0.7 1.5,0.6 1.4,0.5 1.5,0.3 1.5,0.1 1.4,0 1.5,-0.2 1.5,-0.3 1.4,-0.3 1.5,-0.4 1.4,-0.3 1.5,-0.3 1.5,-0.4 1.4,-0.5 1.5,-0.4 1.4,-0.4 1.5,-0.3 1.5,-0.1 1.4,0 1.5,0.1 1.4,0.3 1.5,0.3 1.5,0.3 1.4,0.2 1.5,0.2 1.5,0 1.4,0 1.5,0 1.4,0 1.5,0 1.5,0 1.4,0 1.5,0 1.4,0 1.5,-0.3 1.5,-0.5 1.4,-0.6 1.5,-0.7 1.4,-0.7 1.5,-0.7 1.5,-0.5 1.4,-0.6 1.5,-0.7 1.5,-0.6 1.4,-0.6 1.5,-0.6 1.4,-0.4 1.5,-0.4 1.5,-0.2 1.4,-0.2 1.5,-0.1 1.4,-0.2 1.5,-0.1 1.5,-0.1 1.4,-0.1 1.5,0 1.5,0.2 1.4,0.4 1.5,0.5 1.4,0.6 1.5,0.7 1.5,0.5 1.4,0.5 1.5,0.3 1.4,0.3 1.5,0.3 1.5,0.3 1.4,0.3 1.5,0.2 1.4,0.2 1.5,0.2 1.5,0.2 1.4,0.3 1.5,0.2 1.5,0.2 1.4,0.2 1.5,0.2 1.4,0.1 1.5,0 1.5,0.1 1.4,-0.1 1.5,0 1.4,0 1.5,0 1.5,-0.1 1.4,0 1.5,0 1.4,-0.1 1.5,0 1.5,-0.1 1.4,0 1.5,-0.1 1.5,0 1.4,-0.1 1.5,0 1.4,-0.1 1.5,-0.1 1.5,0 1.4,-0.1 1.5,0 1.4,-0.1 1.5,0 1.5,0 1.4,0 1.5,0.1 1.5,0.2 1.4,0.3 1.5,0.4 1.4,0.5 1.5,0.4 1.5,0.4 1.4,0.4 1.5,0.3 1.4,0.3 1.5,0.1 1.5,0 1.4,0 1.5,-0.1 1.4,-0.1 1.5,-0.1 1.5,-0.2 1.4,-0.1 1.5,-0.2 1.5,-0.1 1.4,-0.1 1.5,-0.1 1.4,-0.2 1.5,-0.1 1.5,-0.2 1.4,-0.1 1.5,-0.1 1.4,-0.1 1.5,0 1.5,0 1.4,0.1 1.5,0.3 1.4,0.3 1.5,0.4 1.5,0.5 1.4,0.4 1.5,0.4 1.5,0.4 1.4,0.3 1.5,0.4 1.4,0.3 1.5,0.4 1.5,0.3 1.4,0.4 1.5,0.2 1.4,0.2 1.5,0.1 1.5,0 1.4,0 1.5,-0.1 1.4,-0.1 1.5,-0.1 1.5,-0.1 1.4,-0.2 1.5,-0.1 1.5,-0.2 1.4,-0.2 1.5,-0.2 1.4,-0.2 1.5,-0.3 1.5,-0.3 1.4,-0.3 1.5,-0.3 1.4,-0.3 1.5,-0.3 1.5,-0.4 1.4,-0.4 1.5,-0.4 1.5,-0.4 1.4,-0.4 1.5,-0.4 1.4,-0.2 1.5,0 1.5,0.1 1.4,0.4 1.5,0.5 1.4,0.7 1.5,0.7 1.5,0.7 1.4,0.6 1.5,0.7 1.4,0.7 1.5,0.9 1.5,0.9 1.4,0.9 1.5,0.7 1.5,0.7 1.4,0.5 1.5,0.2 1.4,0 1.5,-0.1 1.5,-0.3 1.4,-0.2 1.5,-0.4 1.4,-0.3 1.5,-0.4 1.5,-0.4 1.4,-0.3 1.5,-0.3 1.4,-0.4 1.5,-0.4 1.5,-0.4 1.4,-0.4 1.5,-0.3 1.5,-0.3 1.4,-0.1 1.5,-0.1 1.4,0 1.5,-0.1 1.5,0 1.4,0 1.5,-0.1 1.4,0 1.5,0 1.5,-0.1 1.4,-0.1 1.5,0 1.5,-0.1 1.4,-0.2 1.5,-0.1 1.4,-0.2 1.5,-0.1 1.5,-0.1 1.4,-0.1 1.5,-0.1 1.4,0.2 1.5,0.4 1.5,0.6 1.4,0.6 1.5,0.5 1.4,0.2 1.5,0 1.5,0 1.4,0 1.5,-0.1 1.5,-0.1 1.4,-0.1 1.5,-0.1 1.4,-0.2 1.5,-0.6 1.5,-1.1 1.4,-1.4 1.5,-1.5 1.4,-1.6 1.5,-1.4 1.5,-1.1 1.4,-1 1.5,-1 1.4,-1 1.5,-0.8 1.5,-0.6 1.4,-0.2 1.5,0.1 1.5,0.2 1.4,0.3 1.5,0.4 1.4,0.4 1.5,0.4 1.5,0.4 1.4,0.2 1.5,0.1 1.4,0 1.5,0 1.5,0 1.4,0 1.5,0 1.4,0 1.5,0 1.5,0 1.4,-0.1 1.5,-0.1 1.5,-0.1 1.4,-0.1 1.5,-0.2 1.4,-0.2 1.5,-0.2" stroke="#dc2a2e" stroke-width="2.4" fill="none" stroke-linejoin="round"/>
<path d="M596.6,318.4l0.5,0.8 0.5,-0.7 0.5,3.5 0.4,-9 0.5,0.8 0.5,2.4 0.5,-2.7 0.5,0.5 0.5,1.2 0.5,-3.5 0.4,2.1 0.5,-1.6 0.5,1.6 0.5,-2.9 0.5,0.7 0.5,-1.7 0.5,1.9 0.4,-1.8 0.5,1.7 0.5,-3.8 0.5,0.9 0.5,-0.7 0.5,-0.5 0.5,2.5 0.4,-4 0.5,-2.9 0.5,7 0.5,-0.2 0.5,-0.8 0.5,-5 0.5,1 0.5,-2.2 0.4,0.4 0.5,0.8 0.5,-0.5 0.5,0.7 0.5,-2.3 0.5,3.7 0.5,-1.6 0.4,-1.5 0.5,-3.2 0.5,5 0.5,0.5 0.5,-1 0.5,-3.1 0.5,2.4 0.4,-3.1 0.5,6.4 0.5,-6 0.5,0.2 0.5,4.9 0.5,-3.1 0.5,-2.1 0.4,2.3 0.5,-1.8 0.5,-2.7 0.5,4.2 0.5,1.2 0.5,0.5 0.5,-2.3 0.4,1.7 0.5,0 0.5,-0.1 0.5,-1.4 0.5,3.5 0.5,1 0.5,1.9 0.4,-7.1 0.5,2.4 0.5,-2.7 0.5,5 0.5,-0.2 0.5,-2.3 0.5,1.3 0.4,2.5 0.5,-0.7 0.5,-5.1 0.5,2.9 0.5,-0.1 0.5,1.4 0.5,0.9 0.5,-3.2 0.4,1.9 0.5,1.2 0.5,-1.3 0.5,1.4 0.5,-2.4 0.5,-2 0.5,3.7 0.4,-4.7 0.5,3.9 0.5,-1.8 0.5,1.7 0.5,-1.4 0.5,-0.8 0.5,0.8 0.4,0.3 0.5,-0.2 0.5,0.1 0.5,1.4 0.5,-2.8 0.5,-1.5 0.5,-1.2 0.4,0.4 0.5,-3.8 0.5,4.1 0.5,1.3 0.5,-4.8 0.5,5.7 0.5,-4.2 0.4,3.7 0.5,-2.8 0.5,4.5 0.5,-5.9 0.5,2 0.5,1.5 0.5,-5.3 0.4,1.7 0.5,1.4 0.5,1.5 0.5,-1.4 0.5,0.3 0.5,-1.8 0.5,-0.2 0.4,3 0.5,-0.3 0.5,0 0.5,1.6 0.5,-0.6 0.5,-1.9 0.5,-1.5 0.4,-1.3 0.5,4.2 0.5,-2.7 0.5,2 0.5,-5 0.5,4.2 0.5,-1.1 0.5,2.9 0.4,-0.3 0.5,-2 0.5,1.2 0.5,-1.8 0.5,4.1 0.5,-4.4 0.5,3.1 0.4,-5.2 0.5,4 0.5,-2.8 0.5,5 0.5,-3.6 0.5,2.6 0.5,-0.8 0.4,-1 0.5,0.7 0.5,0 0.5,-2.7 0.5,0.7 0.5,1.5 0.5,2.5 0.4,-1.1 0.5,-1.2 0.5,3.8 0.5,-5.7 0.5,1.5 0.5,0.4 0.5,-2.4 0.4,0.6 0.5,0.8 0.5,2.4 0.5,-2.6 0.5,-0.1 0.5,2.4 0.5,-3.9 0.4,1.1 0.5,4.9 0.5,-6.7 0.5,5.2 0.5,-4.8 0.5,-0.6 0.5,5 0.4,-0.5 0.5,-2.1 0.5,0.6 0.5,-3.6 0.5,1.5 0.5,1.9 0.5,-1.8 0.5,5 0.4,-4.8 0.5,-1.2 0.5,2 0.5,1.7 0.5,-3.4 0.5,-4 0.5,4.5 0.4,2.5 0.5,-5.2 0.5,6.6 0.5,-4.8 0.5,2.1 0.5,-3 0.5,3.5 0.4,-4.2 0.5,2.1 0.5,4.1 0.5,0.6 0.5,-3.1 0.5,-3.1 0.5,2.5 0.4,0.3 0.5,0.8 0.5,-1.7 0.5,0.9 0.5,0.4 0.5,2.7 0.5,-4.2 0.4,-1.3 0.5,6.6 0.5,-7 0.5,3.3 0.5,2.5 0.5,2.9 0.5,-5.1 0.4,0.2 0.5,2.3 0.5,2.4 0.5,-5.8 0.5,3.3 0.5,-0.2 0.5,-6.2 0.4,0.9 0.5,2.3 0.5,2.8 0.5,-2.3 0.5,5.8 0.5,-4.8 0.5,1.7 0.5,2.6 0.4,-1.1 0.5,-4.3 0.5,2.5 0.5,-1.9 0.5,-1.4 0.5,3.3 0.5,2.7 0.4,-0.9 0.5,-3 0.5,-2.2 0.5,1.7 0.5,-1.6 0.5,3.6 0.5,-1.5 0.4,0.6 0.5,3.6 0.5,-8.9 0.5,2 0.5,3.2 0.5,0 0.5,-1.5 0.4,2.8 0.5,-3.7 0.5,3.5 0.5,-1.7 0.5,1.5 0.5,-0.9 0.5,1.9 0.4,-0.4 0.5,0.2 0.5,-0.3 0.5,-0.6 0.5,-0.5 0.5,-2.6 0.5,1.6 0.4,2.3 0.5,-1.8 0.5,2.9 0.5,-4.2 0.5,1.8 0.5,3.8 0.5,-4.2 0.4,-0.1 0.5,6.7 0.5,-3.7 0.5,-0.6 0.5,2.9 0.5,-1.8 0.5,-0.2 0.4,-3 0.5,0.4 0.5,-4.7 0.5,5.9 0.5,-3.1 0.5,-1.2 0.5,2.8 0.5,2.8 0.4,1.4 0.5,-2.4 0.5,-3.1 0.5,-1.7 0.5,1.9 0.5,1.6 0.5,1.1 0.4,-4.8 0.5,0.3 0.5,3.7 0.5,-1 0.5,1.8 0.5,-5 0.5,2.1 0.4,0.9 0.5,-4 0.5,4.5 0.5,0 0.5,1.6 0.5,0 0.5,0.9 0.4,-4.4 0.5,-3.6 0.5,8 0.5,-3.9 0.5,-0.6 0.5,2.7 0.5,-2.4 0.4,2.6 0.5,-4.7 0.5,3.6 0.5,-1.5 0.5,-1.2 0.5,2.2 0.5,3.4 0.4,-3.3 0.5,-4 0.5,3 0.5,-1.9 0.5,3.7 0.5,-2.3 0.5,-1.2 0.4,1.3 0.5,-3.8 0.5,4.2 0.5,1.6 0.5,1.2 0.5,-5.6 0.5,2.4 0.5,-2.2 0.4,1.1 0.5,-2.3 0.5,0.6 0.5,3.3 0.5,-1.3 0.5,-1.7 0.5,4.6 0.4,-5.3 0.5,0.4 0.5,0.5 0.5,5.8 0.5,-4.5 0.5,2.9 0.5,-2.4 0.4,1.3 0.5,-1.3 0.5,1.2 0.5,-2.6 0.5,-0.7 0.5,5 0.5,-4.4 0.4,5.8 0.5,1.3 0.5,-4.9 0.5,-0.2 0.5,-0.8 0.5,4.2 0.5,-3 0.4,-0.3 0.5,-2.2 0.5,2.8 0.5,-0.6 0.5,2.5 0.5,-1.5 0.5,0.6 0.4,-2.2 0.5,3.4 0.5,-0.2 0.5,-2.7 0.5,-2.4 0.5,1 0.5,2.2 0.4,1.3 0.5,-2.8 0.5,1.2 0.5,-2.3 0.5,2.9 0.5,3 0.5,-1.1 0.4,-1 0.5,2.4 0.5,-4.9 0.5,0.9 0.5,4.1 0.5,-6 0.5,3.1 0.5,5 0.4,-5.2 0.5,0.9 0.5,1.4 0.5,2.3 0.5,-4 0.5,-0.5 0.5,5.7 0.4,-6.2 0.5,-0.1 0.5,2.1 0.5,-1.2 0.5,0.8 0.5,1.1 0.5,-1 0.4,-3.4 0.5,5.6 0.5,-3.4 0.5,0.1 0.5,1.7 0.5,-0.5 0.5,1.9 0.4,-1.1 0.5,-1.8 0.5,-0.6 0.5,2.4 0.5,-7 0.5,6.3 0.5,-1.4 0.4,0.6 0.5,0.4 0.5,-3.5 0.5,3.6 0.5,-3.7 0.5,0.4 0.5,4.3 0.4,-4.2 0.5,3.3 0.5,-6.5 0.5,5.9 0.5,1.1 0.5,1.9 0.5,-1.2 0.4,-1.5 0.5,0.8 0.5,0.4 0.5,-1.1 0.5,-1 0.5,-3.3 0.5,6.2 0.5,-2.3 0.4,0.7 0.5,1.1 0.5,-0.6 0.5,-0.8 0.5,-3.3 0.5,1.7 0.5,0.6 0.4,-2.4 0.5,0.6 0.5,0.9 0.5,-1.3 0.5,2.3 0.5,-3 0.5,0.2 0.4,1.7 0.5,1.5 0.5,-5.5 0.5,2.7 0.5,-5.1 0.5,6.4 0.5,-4.5 0.4,3.9 0.5,-1.4 0.5,-1.2 0.5,3.2 0.5,-1.5 0.5,-0.6 0.5,0.1 0.4,-1 0.5,-0.9 0.5,0.4 0.5,1.1 0.5,1.2 0.5,1.6 0.5,-0.8 0.4,-0.4 0.5,-2.3 0.5,2.1 0.5,1.8 0.5,-3.7 0.5,2.9 0.5,0 0.4,-1 0.5,-1.3 0.5,5.8 0.5,-2.5 0.5,-2.5 0.5,1.1 0.5,1.1 0.5,-0.6 0.4,-3.8 0.5,3.8 0.5,-2.3 0.5,-0.1 0.5,0.5 0.5,0.3 0.5,1.8 0.4,0.4 0.5,1.1 0.5,-3.4 0.5,2 0.5,0.3 0.5,1.2 0.5,-5.9 0.4,2.2 0.5,1.7 0.5,1.1 0.5,1.6 0.5,-3.6 0.5,0 0.5,2.2 0.4,-4 0.5,0.7 0.5,3.4 0.5,-0.8 0.5,-0.3 0.5,-1.2 0.5,0.6 0.4,2.9 0.5,-6.2 0.5,2.3 0.5,-1.9 0.5,0 0.5,2.9 0.5,-1.1 0.4,-0.9 0.5,0 0.5,1.9 0.5,0.9 0.5,-1.2 0.5,1.7 0.5,-0.4 0.4,3.1 0.5,-4.2 0.5,2.4 0.5,-0.8 0.5,-0.9 0.5,-0.6 0.5,-3 0.4,3.5 0.5,3.3 0.5,-2.9 0.5,1.6 0.5,-1.9 0.5,2.3 0.5,0.2 0.5,-0.3 0.4,0.3 0.5,2.5 0.5,-2.3 0.5,-1.2 0.5,-2.4 0.5,3 0.5,0.1 0.4,-1.9 0.5,-0.1 0.5,-2.4 0.5,1.8 0.5,0.9 0.5,-3.1 0.5,-0.8 0.4,3.6 0.5,-1.6 0.5,3.2 0.5,-3 0.5,0.7 0.5,-1.7 0.5,0.3 0.4,-0.8 0.5,-0.4 0.5,-1.3 0.5,0.5 0.5,1.5 0.5,1.4 0.5,-5.1 0.4,-0.4 0.5,3.7 0.5,-2 0.5,4.1 0.5,0 0.5,-2.6 0.5,-3.5 0.4,5 0.5,-0.5 0.5,-4.8 0.5,6.9 0.5,-5.1 0.5,0.3 0.5,1.4 0.4,-0.8 0.5,-4.9 0.5,7.4 0.5,-0.5 0.5,-1.3 0.5,0.9 0.5,1.3 0.5,-5.9 0.4,2.8 0.5,3.9 0.5,-2.1 0.5,-2.3 0.5,0 0.5,3.7 0.5,-2.7 0.4,-0.7 0.5,-0.3 0.5,0 0.5,4.4 0.5,-7.3 0.5,3.2 0.5,-3.2 0.4,-1.6 0.5,5.5 0.5,2.1 0.5,-4.2 0.5,2.1 0.5,0.5 0.5,1.2 0.4,-5.5 0.5,4.3 0.5,1.9 0.5,-1.9 0.5,1.4 0.5,-2.7 0.5,1.2 0.4,1.2 0.5,-3.3 0.5,2.5 0.5,-2.8 0.5,-1.1 0.5,3.2 0.5,0.6 0.4,-1.7 0.5,-1.4 0.5,1.8 0.5,-0.3 0.5,0.3 0.5,-0.7 0.5,-0.6 0.4,2.6 0.5,-0.5 0.5,-1 0.5,2.3 0.5,-2.5 0.5,-0.8 0.5,1.1 0.4,1.1 0.5,0.4 0.5,-5.1 0.5,1.7 0.5,4 0.5,-0.5 0.5,-5.3 0.5,0.6 0.4,2.7 0.5,-2 0.5,5.2 0.5,-2.9 0.5,-1.5 0.5,5.2 0.5,-2.2 0.4,-3.1 0.5,-0.7 0.5,3.5 0.5,-1.8 0.5,-2.6 0.5,4 0.5,1.9 0.4,-2.5 0.5,0.7 0.5,-3.3 0.5,2.3 0.5,1.9 0.5,-6.3 0.5,5.8 0.4,-1.9 0.5,-0.4 0.5,-0.2 0.5,1.2 0.5,-0.8 0.5,1.4 0.5,2.8 0.4,-2.5 0.5,-0.1 0.5,0 0.5,-0.7 0.5,1.4 0.5,-3.9 0.5,-0.6 0.4,7.4 0.5,-4.6 0.5,1.3 0.5,3.6 0.5,-6.2 0.5,1.9 0.5,-0.6 0.4,0.4 0.5,-3.7 0.5,-0.4 0.5,1.8 0.5,-1.4 0.5,1.9 0.5,-0.6 0.5,1.7 0.4,-1.6 0.5,1.5 0.5,-2.2 0.5,-0.9 0.5,-0.4 0.5,-0.3 0.5,-2.8 0.4,9.4 0.5,-4.2 0.5,-1.1 0.5,2.1 0.5,1.8 0.5,-2.8 0.5,0.7 0.4,0.7 0.5,-0.7 0.5,0.7 0.5,3.5 0.5,-6.7 0.5,2.7 0.5,1.3 0.4,-2.4 0.5,4.5 0.5,0.4 0.5,-7.6 0.5,6.7 0.5,-2.9 0.5,-0.7 0.4,-2.4 0.5,0.3 0.5,2 0.5,1.7 0.5,-0.7 0.5,-2.8 0.5,-0.4 0.4,0.8 0.5,2.2 0.5,-3.5 0.5,2.7 0.5,-0.1 0.5,-0.4 0.5,-1.9 0.4,0.5 0.5,-1.6 0.5,-0.6 0.5,1.5 0.5,5.6 0.5,-1.2 0.5,-3.6 0.5,0.5 0.4,-4.2 0.5,4.6 0.5,0.5 0.5,-1.9 0.5,0.1 0.5,1 0.5,0.8 0.4,4.7 0.5,-1.2 0.5,-4.1 0.5,5.5 0.5,-4.4 0.5,0.9 0.5,-0.3 0.4,-0.2 0.5,0.8 0.5,5.4 0.5,-2.3 0.5,-0.7 0.5,-3 0.5,3 0.4,0.3 0.5,-0.7 0.5,-3.3 0.5,5.5 0.5,-0.1 0.5,-4 0.5,5.5 0.4,-4.8 0.5,1.5 0.5,2.3 0.5,-2.3 0.5,1.2 0.5,-2.3 0.5,-0.4 0.4,-2.2 0.5,3 0.5,-0.3 0.5,1.4 0.5,-4.6 0.5,1.4 0.5,5.9 0.4,-5.2 0.5,2.4 0.5,-1.3 0.5,2.6 0.5,-4.4 0.5,1.1 0.5,1.2 0.4,-1.6 0.5,-0.4 0.5,1.1 0.5,-1 0.5,-1.5 0.5,2.7 0.5,-1.7 0.5,1.9 0.4,-1.7 0.5,3.3 0.5,-5.3 0.5,3.2 0.5,-4.7 0.5,-2.4 0.5,5.4 0.4,-1 0.5,-1 0.5,1.7 0.5,0.3 0.5,-3 0.5,-1.8 0.5,1.8 0.4,3.6 0.5,-1.1 0.5,-1.8 0.5,-3.3 0.5,2.1 0.5,-0.2 0.5,-1.7 0.4,2.8 0.5,-0.2 0.5,0.3 0.5,3.2 0.5,-4.3 0.5,0.2 0.5,-0.9 0.4,6.7 0.5,-2.8 0.5,-3.3 0.5,1.4 0.5,-1.9 0.5,4.7 0.5,-1.9 0.4,2 0.5,-1.7 0.5,1.8 0.5,-1.8 0.5,0.4 0.5,-0.2 0.5,5.3 0.4,-5.1 0.5,1.4 0.5,3.3 0.5,2.8 0.5,-4 0.5,-0.7 0.5,2.4 0.5,1.5 0.4,-2.1 0.5,0.5 0.5,-4.2 0.5,9.9 0.5,-9.5 0.5,1.7 0.5,3 0.4,-2.6 0.5,3.2 0.5,-1.6 0.5,3.4 0.5,-1.5 0.5,2.3 0.5,1.2 0.4,-2.6 0.5,0.9 0.5,-2.4 0.5,-1.4 0.5,2.9 0.5,-0.4 0.5,-0.2 0.4,3.7 0.5,-3.8 0.5,0.5 0.5,0.1" stroke="#9c9cf0" stroke-width="0.9" fill="none" stroke-linejoin="round" opacity="0.8"/>
<path d="M596.6,318.8l1.5,-1.7 1.4,-1.5 1.5,-1.5 1.4,-1.4 1.5,-1.3 1.5,-1.1 1.4,-1.1 1.5,-1.2 1.5,-1.1 1.4,-1.1 1.5,-1 1.4,-0.8 1.5,-0.6 1.5,-0.4 1.4,-0.2 1.5,0 1.4,0.1 1.5,0.1 1.5,0.1 1.4,0.1 1.5,0.1 1.4,0.3 1.5,0.4 1.5,0.4 1.4,0.5 1.5,0.3 1.5,0.1 1.4,-0.2 1.5,-0.4 1.4,-0.6 1.5,-0.7 1.5,-0.6 1.4,-0.5 1.5,-0.5 1.4,-0.5 1.5,-0.6 1.5,-0.5 1.4,-0.4 1.5,-0.3 1.4,-0.2 1.5,0 1.5,0 1.4,0 1.5,0 1.5,0 1.4,0 1.5,0 1.4,0 1.5,0 1.5,0 1.4,0 1.5,0 1.4,0 1.5,0 1.5,-0.1 1.4,0 1.5,-0.1 1.4,-0.1 1.5,-0.1 1.5,-0.1 1.4,-0.2 1.5,-0.3 1.5,-0.4 1.4,-0.3 1.5,-0.4 1.4,-0.2 1.5,-0.2 1.5,0.1 1.4,0.3 1.5,0.5 1.4,0.6 1.5,0.6 1.5,0.5 1.4,0.3 1.5,0.1 1.5,0 1.4,-0.1 1.5,-0.1 1.4,-0.2 1.5,-0.2 1.5,-0.2 1.4,-0.2 1.5,-0.1 1.4,-0.2 1.5,-0.1 1.5,-0.1 1.4,0.1 1.5,0.3 1.4,0.6 1.5,0.8 1.5,0.6 1.4,0.5 1.5,0.1 1.5,0 1.4,-0.1 1.5,-0.2 1.4,-0.1 1.5,-0.2 1.5,-0.3 1.4,-0.2 1.5,-0.2 1.4,-0.2 1.5,-0.2 1.5,-0.2 1.4,-0.1 1.5,-0.1 1.4,-0.2 1.5,-0.1 1.5,-0.2 1.4,-0.1 1.5,-0.1 1.5,-0.1 1.4,-0.2 1.5,-0.1 1.4,-0.1 1.5,0 1.5,-0.1 1.4,0 1.5,-0.1 1.4,0 1.5,0.1 1.5,0.1 1.4,0.2 1.5,0.2 1.5,0.2 1.4,0.2 1.5,0.3 1.4,0.2 1.5,0.2 1.5,0.3 1.4,0.2 1.5,0.1 1.4,0.1 1.5,0.1 1.5,0 1.4,0 1.5,0 1.4,0 1.5,-0.1 1.5,0 1.4,-0.1 1.5,-0.1 1.5,-0.1 1.4,0 1.5,-0.1 1.4,-0.1 1.5,-0.1 1.5,-0.1 1.4,-0.1 1.5,-0.1 1.4,-0.2 1.5,-0.2 1.5,-0.3 1.4,-0.2 1.5,-0.3 1.4,-0.3 1.5,-0.3 1.5,-0.2 1.4,-0.2 1.5,-0.2 1.5,-0.1 1.4,0 1.5,0.1 1.4,0.2 1.5,0.1 1.5,0.2 1.4,0.3 1.5,0.2 1.4,0.1 1.5,0.2 1.5,0.1 1.4,0 1.5,0 1.4,-0.1 1.5,-0.1 1.5,-0.1 1.4,0 1.5,-0.1 1.5,-0.1 1.4,0.1 1.5,0.1 1.4,0.3 1.5,0.4 1.5,0.4 1.4,0.4 1.5,0.4 1.4,0.3 1.5,0.1 1.5,-0.1 1.4,-0.7 1.5,-1.1 1.5,-1.2 1.4,-1.1 1.5,-0.7 1.4,-0.1 1.5,-0.2 1.5,-0.1 1.4,-0.1 1.5,-0.1 1.4,0 1.5,-0.1 1.5,0 1.4,-0.1 1.5,0 1.4,-0.1 1.5,0 1.5,-0.1 1.4,0 1.5,0 1.5,-0.1 1.4,0 1.5,-0.1 1.4,0 1.5,-0.1 1.5,0 1.4,-0.1 1.5,0 1.4,0 1.5,-0.1 1.5,0 1.4,0 1.5,0 1.4,0 1.5,0 1.5,0 1.4,0 1.5,0.1 1.5,0.1 1.4,0.1 1.5,0.1 1.4,0 1.5,0 1.5,-0.1 1.4,-0.4 1.5,-0.5 1.4,-0.5 1.5,-0.4 1.5,-0.4 1.4,-0.1 1.5,0 1.5,0 1.4,0.1 1.5,0.1 1.4,0 1.5,0.1 1.5,0.1 1.4,0 1.5,0.1 1.4,-0.1 1.5,-0.4 1.5,-0.5 1.4,-0.4 1.5,-0.4 1.4,-0.2 1.5,0.2 1.5,0.6 1.4,0.9 1.5,1 1.5,0.8 1.4,0.4 1.5,0.1 1.4,0.1 1.5,0.1 1.5,0.1 1.4,0 1.5,0.1 1.4,0 1.5,0 1.5,0 1.4,-0.1 1.5,-0.3 1.4,-0.4 1.5,-0.5 1.5,-0.6 1.4,-0.5 1.5,-0.5 1.5,-0.7 1.4,-0.6 1.5,-0.6 1.4,-0.5 1.5,-0.1 1.5,0.1 1.4,0.3 1.5,0.5 1.4,0.7 1.5,0.6 1.5,0.7 1.4,0.9 1.5,1.1 1.4,1.3 1.5,1.2 1.5,1 1.4,0.5 1.5,0.3 1.5,0.2 1.4,0.2 1.5,0.2 1.4,0.1 1.5,0" stroke="#2224cc" stroke-width="2.4" fill="none" stroke-linejoin="round"/>
<rect x="596.6" y="57.4" width="436.9" height="298.7" fill="none" stroke="#222" stroke-width="1.6"/>
<line x1="596.6" y1="206.7" x2="1033.5" y2="206.7" stroke="#222" stroke-width="1.6"/>
<line x1="591.1" y1="206.7" x2="596.6" y2="206.7" stroke="#222" stroke-width="1.6"/>
<text x="586.1" y="215.8" font-size="26.5" text-anchor="end">0</text>
<line x1="591.1" y1="156.9" x2="596.6" y2="156.9" stroke="#222" stroke-width="1.6"/>
<text x="586.1" y="166.1" font-size="26.5" text-anchor="end">1</text>
<line x1="591.1" y1="107.2" x2="596.6" y2="107.2" stroke="#222" stroke-width="1.6"/>
<text x="586.1" y="116.3" font-size="26.5" text-anchor="end">2</text>
<line x1="591.1" y1="57.4" x2="596.6" y2="57.4" stroke="#222" stroke-width="1.6"/>
<text x="586.1" y="66.5" font-size="26.5" text-anchor="end">3</text>
<line x1="593.6" y1="181.8" x2="596.6" y2="181.8" stroke="#222" stroke-width="1.4"/>
<line x1="593.6" y1="132.1" x2="596.6" y2="132.1" stroke="#222" stroke-width="1.4"/>
<line x1="593.6" y1="82.3" x2="596.6" y2="82.3" stroke="#222" stroke-width="1.4"/>
<line x1="591.1" y1="356.1" x2="596.6" y2="356.1" stroke="#222" stroke-width="1.6"/>
<text x="586.1" y="365.2" font-size="26.5" text-anchor="end">0</text>
<line x1="591.1" y1="306.3" x2="596.6" y2="306.3" stroke="#222" stroke-width="1.6"/>
<text x="586.1" y="315.4" font-size="26.5" text-anchor="end">1</text>
<line x1="591.1" y1="256.5" x2="596.6" y2="256.5" stroke="#222" stroke-width="1.6"/>
<text x="586.1" y="265.6" font-size="26.5" text-anchor="end">2</text>
<line x1="593.6" y1="331.2" x2="596.6" y2="331.2" stroke="#222" stroke-width="1.4"/>
<line x1="593.6" y1="281.4" x2="596.6" y2="281.4" stroke="#222" stroke-width="1.4"/>
<line x1="593.6" y1="231.6" x2="596.6" y2="231.6" stroke="#222" stroke-width="1.4"/>
<line x1="596.6" y1="356.1" x2="596.6" y2="361.6" stroke="#222" stroke-width="1.6"/>
<line x1="705.8" y1="356.1" x2="705.8" y2="361.6" stroke="#222" stroke-width="1.6"/>
<line x1="815.0" y1="356.1" x2="815.0" y2="361.6" stroke="#222" stroke-width="1.6"/>
<line x1="924.3" y1="356.1" x2="924.3" y2="361.6" stroke="#222" stroke-width="1.6"/>
<line x1="1033.5" y1="356.1" x2="1033.5" y2="361.6" stroke="#222" stroke-width="1.6"/>
<line x1="651.2" y1="356.1" x2="651.2" y2="359.1" stroke="#222" stroke-width="1.4"/>
<line x1="760.4" y1="356.1" x2="760.4" y2="359.1" stroke="#222" stroke-width="1.4"/>
<line x1="869.7" y1="356.1" x2="869.7" y2="359.1" stroke="#222" stroke-width="1.4"/>
<line x1="978.9" y1="356.1" x2="978.9" y2="359.1" stroke="#222" stroke-width="1.4"/>
<text x="598.0" y="386.8" font-size="26.5" text-anchor="middle">0</text>
<text x="709.8" y="386.8" font-size="26.5" text-anchor="middle">50</text>
<text x="813.6" y="386.8" font-size="26.5" text-anchor="middle">100</text>
<text x="921.0" y="386.8" font-size="26.5" text-anchor="middle">150</text>
<text x="1020.5" y="386.8" font-size="26.5" text-anchor="middle">200</text>
<line x1="596.6" y1="356.1" x2="596.6" y2="361.6" stroke="#222" stroke-width="1.6"/>
<text x="835.0" y="413.3" font-size="26.5" text-anchor="middle">Time (ns)</text>
<text x="564.5" y="191.7" font-size="26.5" text-anchor="middle" transform="rotate(-90 564.5 191.7)">RMSD (Å)</text>
<text x="604.6" y="78.6" font-size="26.5">MRGPRX2</text>
<text x="604.6" y="234.6" font-size="26.5">Gαi</text>
<text x="0" y="0" font-size="58" font-weight="bold" fill="#000" transform="translate(486.5,424.8) scale(1.12,1)">c</text>
<path d="M592.3,508.9l0.5,24.6 0.5,-16.3 0.5,5.1 0.5,-0.9 0.5,-1.5 0.5,9.4 0.5,-9.9 0.5,3.1 0.5,-19 0.4,12.5 0.5,2.8 0.5,-0.7 0.5,1.7 0.5,1.8 0.5,-4 0.5,-5.2 0.5,3.3 0.5,-7 0.5,5.7 0.5,-1.8 0.5,-8.7 0.5,4.8 0.5,5.2 0.5,3.5 0.5,-9.8 0.5,-7.7 0.5,11.8 0.5,-0.1 0.5,-6.6 0.4,10.4 0.5,-3 0.5,-6.1 0.5,1.9 0.5,2.9 0.5,-2.8 0.5,17.9 0.5,-19.1 0.5,4.7 0.5,10.3 0.5,-10.2 0.5,-2 0.5,18 0.5,-8.1 0.5,-5.8 0.5,0.4 0.5,-7.8 0.5,3.5 0.5,2.9 0.5,-5 0.4,7.1 0.5,-2.4 0.5,-2.1 0.5,0 0.5,4.2 0.5,2.9 0.5,-5.5 0.5,14.5 0.5,-17.3 0.5,1 0.5,10.8 0.5,-9.2 0.5,5.9 0.5,-9.4 0.5,15 0.5,-6.2 0.5,-8.8 0.5,-2.5 0.5,17.8 0.5,-9 0.4,-4.5 0.5,5 0.5,-11.9 0.5,18.4 0.5,-11.8 0.5,7.5 0.5,-8.5 0.5,2.9 0.5,1.8 0.5,7.2 0.5,-18.3 0.5,4.9 0.5,0 0.5,-2.1 0.5,4.2 0.5,5.2 0.5,0.8 0.5,-5.3 0.5,-6.5 0.5,0.5 0.4,10 0.5,-1.6 0.5,-3.1 0.5,-2 0.5,9.6 0.5,2.5 0.5,-9.5 0.5,-6.8 0.5,2.3 0.5,2.7 0.5,2.6 0.5,-3.5 0.5,2.8 0.5,-5.9 0.5,8.5 0.5,-5.1 0.5,1.2 0.5,-3.5 0.5,5.2 0.5,-16 0.4,10.1 0.5,-3.9 0.5,19.5 0.5,-8.7 0.5,2 0.5,-5.5 0.5,15.7 0.5,-17.9 0.5,1.2 0.5,13.4 0.5,-1.2 0.5,-0.4 0.5,-4 0.5,-2.6 0.5,-7 0.5,12.8 0.5,-6.7 0.5,6.1 0.5,-7.9 0.5,6.1 0.4,-2.8 0.5,13.7 0.5,-4.4 0.5,3.7 0.5,-12.3 0.5,4.6 0.5,5.2 0.5,0.8 0.5,-5.1 0.5,6.4 0.5,1.2 0.5,-7.7 0.5,-10.7 0.5,14.6 0.5,1.6 0.5,3.3 0.5,0.8 0.5,-10.1 0.5,-1.8 0.5,4.5 0.4,-1.8 0.5,1.1 0.5,-0.2 0.5,8.9 0.5,-5.9 0.5,-3.2 0.5,4.6 0.5,-1.8 0.5,9.2 0.5,-10.6 0.5,-9.7 0.5,9.5 0.5,-1.7 0.5,-5.5 0.5,0.5 0.5,-6 0.5,20.1 0.5,-16.2 0.5,6.9 0.5,-0.9 0.4,-6.8 0.5,-1.6 0.5,0 0.5,4.5 0.5,-8.1 0.5,10 0.5,-1 0.5,-5.3 0.5,7.1 0.5,-14.8 0.5,5.9 0.5,-6.4 0.5,11.6 0.5,1.7 0.5,-3.1 0.5,-3.3 0.5,3 0.5,-1.5 0.5,9.2 0.5,-16.2 0.4,12.1 0.5,-9.5 0.5,8.9 0.5,1.5 0.5,-1.6 0.5,2.4 0.5,-7.4 0.5,-5 0.5,4.4 0.5,-2.7 0.5,-5.6 0.5,7.1 0.5,0.2 0.5,2.4 0.5,7 0.5,-12.9 0.5,13.4 0.5,-13.1 0.5,3.5 0.5,-6.2 0.4,6.4 0.5,4 0.5,-6.3 0.5,4.9 0.5,-1.9 0.5,-1.1 0.5,1.1 0.5,0.5 0.5,3.6 0.5,-3.2 0.5,10.7 0.5,-18.6 0.5,14.1 0.5,-12.2 0.5,-0.6 0.5,13.8 0.5,-7.1 0.5,1.7 0.5,5.3 0.5,-8.2 0.4,5.6 0.5,7.4 0.5,-7.7 0.5,-0.2 0.5,-0.9 0.5,7.7 0.5,-9.5 0.5,-0.1 0.5,10.6 0.5,-2.1 0.5,-2.6 0.5,3.1 0.5,-11.9 0.5,8.7 0.5,6.9 0.5,-0.8 0.5,-3.6 0.5,-10.7 0.5,11.9 0.5,-1.5 0.4,-1.8 0.5,3.2 0.5,-12.3 0.5,15.4 0.5,-6.7 0.5,3.4 0.5,-2.3 0.5,9.9 0.5,-15.7 0.5,10.3 0.5,-0.6 0.5,5.3 0.5,-0.9 0.5,-6.9 0.5,-2.1 0.5,1.3 0.5,-2.4 0.5,2.8 0.5,3.7 0.5,-4.3 0.4,1.3 0.5,3.7 0.5,1.4 0.5,-9.2 0.5,5.5 0.5,2.9 0.5,-6 0.5,-6.7 0.5,11.1 0.5,-1 0.5,-0.1 0.5,-7.7 0.5,16.1 0.5,-12.2 0.5,-4.8 0.5,10.5 0.5,-12.7 0.5,4.8 0.5,5.6 0.5,-4.2 0.4,9.2 0.5,-5.3 0.5,-12.9 0.5,14.6 0.5,-14.6 0.5,10.5 0.5,-5.7 0.5,5.4 0.5,8.5 0.5,-4.6 0.5,-3.8 0.5,7.5 0.5,1.4 0.5,-8.8 0.5,5.8 0.5,6 0.5,-5.1 0.5,-8 0.5,7.5 0.5,-7.3 0.4,-2.9 0.5,8.2 0.5,6.5 0.5,1 0.5,-0.7 0.5,-11 0.5,3.3 0.5,-4.4 0.5,8.2 0.5,-4 0.5,4.2 0.5,-0.8 0.5,5.1 0.5,-5.5 0.5,1.1 0.5,3.4 0.5,-0.9 0.5,-3.6 0.5,-1 0.5,-14.7 0.4,9 0.5,8.3 0.5,-7.6 0.5,2.2 0.5,5.6 0.5,-9.7 0.5,10 0.5,9.8 0.5,-18.4 0.5,7.6 0.5,-11.4 0.5,11.4 0.5,2.8 0.5,-14.8 0.5,14 0.5,-7 0.5,-6.8 0.5,7.1 0.5,0.8 0.5,-1.2 0.4,-13.9 0.5,17.9 0.5,-8.1 0.5,-0.3 0.5,-10.1 0.5,13.8 0.5,2.5 0.5,-9.5 0.5,5.5 0.5,-4.3 0.5,0.3 0.5,-6.2 0.5,9.3 0.5,-3.5 0.5,12.8 0.5,-9.3 0.5,-13.3 0.5,11.7 0.5,2.5 0.5,0.3 0.4,-14.3 0.5,7.1 0.5,4.8 0.5,-6.8 0.5,2.6 0.5,-2.3 0.5,8 0.5,-12.4 0.5,7.5 0.5,3.2 0.5,2.4 0.5,-10.5 0.5,3.3 0.5,6.1 0.5,-7.4 0.5,2.6 0.5,-4.4 0.5,2.7 0.5,4.4 0.5,0 0.4,-2.6 0.5,-3.1 0.5,3 0.5,-2.5 0.5,5.1 0.5,-0.9 0.5,2.6 0.5,-12.9 0.5,6.1 0.5,3.1 0.5,4.2 0.5,-6.7 0.5,-8.9 0.5,5.1 0.5,6.1 0.5,-11.7 0.5,-0.2 0.5,7.6 0.5,-4.4 0.5,-2.2 0.4,3.2 0.5,-1.4 0.5,8.2 0.5,-12.4 0.5,6.7 0.5,4.1 0.5,7.9 0.5,-14.9 0.5,-1.6 0.5,7.1 0.5,-4.4 0.5,2.7 0.5,-3.5 0.5,5.9 0.5,-2.1 0.5,-6.3 0.5,-1.4 0.5,6.3 0.5,0.1 0.5,-0.6 0.4,-4.5 0.5,11.4 0.5,1.6 0.5,-7.8 0.5,6.8 0.5,-2.7 0.5,-3.5 0.5,-1.9 0.5,8.5 0.5,-9.9 0.5,14 0.5,-12.3 0.5,11.8 0.5,-0.7 0.5,-10.3 0.5,6.2 0.5,2.8 0.5,-1.2 0.5,-4.1 0.5,3.5 0.4,0.6 0.5,-5.1 0.5,10.3 0.5,-0.7 0.5,0.9 0.5,-1.1 0.5,-6.2 0.5,-1.3 0.5,7.3 0.5,0.6 0.5,-5.4 0.5,6.7 0.5,-6.6 0.5,0.6 0.5,7.7 0.5,-3.4 0.5,0.2 0.5,-9.9 0.5,-4.6 0.5,14.4 0.4,-0.6 0.5,12.4 0.5,-13.4 0.5,1.1 0.5,5.8 0.5,-10 0.5,12.6 0.5,-7.3 0.5,-2 0.5,7.3 0.5,-11.7 0.5,-1.4 0.5,12.7 0.5,-0.4 0.5,-11.4 0.5,2.8 0.5,2.6 0.5,-2.6 0.5,-1.7 0.5,-0.6 0.4,-5.9 0.5,1.6 0.5,-8.2 0.5,1.4 0.5,3.1 0.5,-2.8 0.5,-7.7 0.5,8.5 0.5,9.9 0.5,-11.7 0.5,3.8 0.5,-8.6 0.5,8 0.5,-2.4 0.5,1.1 0.5,-7.2 0.5,8.2 0.5,2.6 0.5,-2.8 0.5,4.4 0.4,-2.9 0.5,1.3 0.5,-1 0.5,-8.5 0.5,13.1 0.5,-1.9 0.5,1.8 0.5,-4.1 0.5,10.5 0.5,-2.1 0.5,-3 0.5,7.3 0.5,-6.3 0.5,2.9 0.5,2.3 0.5,-7 0.5,-4.7 0.5,6.3 0.5,-12.1 0.5,11.8 0.4,7.5 0.5,-3.4 0.5,-9.1 0.5,-3.2 0.5,10.8 0.5,6.4 0.5,-12.7 0.5,-3.2 0.5,10.6 0.5,-3.5 0.5,0.6 0.5,-2.8 0.5,12.2 0.5,-16.7 0.5,11.2 0.5,-9.4 0.5,6.3 0.5,2.5 0.5,-1.4 0.5,-5.6 0.4,9.5 0.5,-2.7 0.5,12 0.5,-4.8 0.5,-16.3 0.5,3.9 0.5,3.2 0.5,-6.4 0.5,11.4 0.5,-4.8 0.5,-9.7 0.5,4 0.5,17.3 0.5,2.1 0.5,-8.3 0.5,-11 0.5,8.6 0.5,-1 0.5,-4 0.5,8.4 0.4,-5.5 0.5,-2.7 0.5,2.1 0.5,0.7 0.5,2.1 0.5,-2 0.5,4.6 0.5,-9.5 0.5,-7.1 0.5,17.4 0.5,7.2 0.5,-10.1 0.5,-4.9 0.5,-4.4 0.5,-0.9 0.5,9.3 0.5,-0.6 0.5,-11.8 0.5,12 0.5,-12.3 0.4,5.6 0.5,-4.7 0.5,0 0.5,-0.5 0.5,-0.2 0.5,9.8 0.5,-6.8 0.5,1.7 0.5,-1.4 0.5,-4.8 0.5,8.4 0.5,2.7 0.5,0.4 0.5,-1 0.5,-6.4 0.5,8.8 0.5,-10.3 0.5,5 0.5,3.1 0.5,6.2 0.4,-8.2 0.5,-5.1 0.5,16.4 0.5,-15.8 0.5,-2.3 0.5,7.1 0.5,-0.8 0.5,-10.4 0.5,6.4 0.5,11.3 0.5,-9.4 0.5,5.2 0.5,-0.2 0.5,11.8 0.5,-17 0.5,7.3 0.5,-4.5 0.5,1.4 0.5,-5.6 0.5,6 0.4,2.5 0.5,-7.3 0.5,-4.9 0.5,9.2 0.5,-0.7 0.5,-2.7 0.5,4.2 0.5,-11.2 0.5,12.6 0.5,-9.9 0.5,8.3 0.5,-5 0.5,9.2 0.5,-2 0.5,-10 0.5,6.8 0.5,-0.8 0.5,2.8 0.5,-4.5 0.5,10.2 0.4,-1.3 0.5,-4.9 0.5,3.8 0.5,-0.5 0.5,-8.1 0.5,5.3 0.5,13.3 0.5,-23 0.5,3.2 0.5,-1.5 0.5,6.2 0.5,1.9 0.5,4.4 0.5,-6.7 0.5,8.5 0.5,-9 0.5,-10.2 0.5,-3.5 0.5,2.7 0.5,9.1 0.4,-8 0.5,6.3 0.5,-9.2 0.5,4.8 0.5,-5.4 0.5,-9.2 0.5,8.9 0.5,-7.5 0.5,15 0.5,-0.3 0.5,-8.8 0.5,-1.9 0.5,12.5 0.5,-3.1 0.5,8.4 0.5,-6.3 0.5,-5.6 0.5,-0.8 0.5,9.3 0.5,4.8 0.4,-9.3 0.5,-2 0.5,1.4 0.5,2 0.5,8.5 0.5,-16.2 0.5,10 0.5,0.6 0.5,-4.6 0.5,15.7 0.5,-11.2 0.5,0.5 0.5,-2.7 0.5,-5.1 0.5,4.8 0.5,12.4 0.5,-7.9 0.5,-2.9 0.5,0.4 0.5,7.7 0.4,2.2 0.5,-11.9 0.5,1.2 0.5,2 0.5,9.3 0.5,-18.8 0.5,23.7 0.5,-12 0.5,-13.1 0.5,12.3 0.5,-2 0.5,7.7 0.5,-13.4 0.5,14.5 0.5,-8.1 0.5,0.9 0.5,6.6 0.5,-10.2 0.5,12.7 0.5,-3.6 0.4,-3.3 0.5,2.4 0.5,-4.5 0.5,-2.2 0.5,6.8 0.5,1.6 0.5,0 0.5,-0.6 0.5,-6.2 0.5,5.7 0.5,-3.3 0.5,2.7 0.5,4.1 0.5,-9.2 0.5,10.1 0.5,-5.7 0.5,-8.1 0.5,13.7 0.5,-5.8 0.5,8 0.4,-6 0.5,5.1 0.5,-6.4 0.5,0.7 0.5,-3.9 0.5,-8 0.5,13 0.5,-8.5 0.5,3.6 0.5,0.8 0.5,3 0.5,5.1 0.5,-10.2 0.5,-8.4 0.5,6.1 0.5,5.5 0.5,-4.8 0.5,4.3 0.5,1 0.5,3.2 0.4,-1.3 0.5,-3.8 0.5,-12.1 0.5,11.9 0.5,4.5 0.5,-2.2 0.5,-2 0.5,8 0.5,-9.8 0.5,-3 0.5,2.1 0.5,-1.5 0.5,10.3 0.5,2.3 0.5,-16 0.5,1.1 0.5,14.3 0.5,-9.4 0.5,1.1 0.5,-4.7 0.4,3.9 0.5,3.9 0.5,-3.7 0.5,0.3 0.5,1.2 0.5,9.8 0.5,4.2 0.5,-9.7 0.5,4.7 0.5,-10 0.5,-2.3 0.5,2.7 0.5,3.6 0.5,-2.6 0.5,-5.4 0.5,10.4 0.5,-8.7 0.5,1.2 0.5,2.5 0.5,-6.4 0.4,11.7 0.5,-9.1 0.5,9.9 0.5,-1.2 0.5,3.4 0.5,-10.6 0.5,7 0.5,-5.8 0.5,5.9 0.5,-12.5 0.5,-4.7 0.5,8.1 0.5,-8.2 0.5,5.2 0.5,-9.2 0.5,10.6 0.5,8.4 0.5,-17 0.5,8.3 0.5,4.4 0.4,-2.4 0.5,4.9 0.5,-8.1 0.5,4.7 0.5,-14 0.5,4.2 0.5,12.3 0.5,-1.1 0.5,-5.2 0.5,7.1 0.5,-10 0.5,5.6 0.5,-2.4 0.5,-1.4 0.5,-1.5 0.5,-9.4 0.5,-0.5 0.5,5.6 0.5,-2.5 0.5,8.5 0.4,-6.3 0.5,7.2 0.5,-9.2 0.5,10.5 0.5,-1.6 0.5,-5.3 0.5,-3.1 0.5,10.6 0.5,-4.9 0.5,-3.7 0.5,-0.6 0.5,5.7 0.5,-5.2 0.5,1.9 0.5,-9 0.5,4.5 0.5,10 0.5,4.7 0.5,-12.5 0.5,-5.9 0.4,5.4 0.5,-10.5 0.5,13.8 0.5,4.7 0.5,-11.5 0.5,3.4 0.5,-3.3 0.5,11 0.5,-8.5 0.5,4.2 0.5,-7.9 0.5,7.3 0.5,0 0.5,-0.3 0.5,-10.1 0.5,6.5 0.5,0.7 0.5,4.5 0.5,0.6 0.5,-14.4 0.4,17.4 0.5,-5.4 0.5,-8.2 0.5,-3.2 0.5,6.9 0.5,-5.3 0.5,-0.1 0.5,-1.5 0.5,-2.5 0.5,-1.6" stroke="#f29a9c" stroke-width="0.9" fill="none" stroke-linejoin="round" opacity="0.8"/>
<path d="M592.3,519.9l1.5,-0.7 1.5,-0.8 1.5,-0.9 1.5,-0.9 1.4,-1.2 1.5,-1.5 1.5,-1.7 1.5,-1.4 1.5,-0.5 1.5,0.3 1.5,0.7 1.5,1 1.4,0.9 1.5,0.7 1.5,0.2 1.5,0 1.5,-0.2 1.5,-0.3 1.5,-0.3 1.5,-0.4 1.5,-0.3 1.4,-0.3 1.5,-0.2 1.5,-0.1 1.5,-0.2 1.5,-0.1 1.5,-0.1 1.5,-0.2 1.5,-0.1 1.4,-0.3 1.5,-0.3 1.5,-0.6 1.5,-0.6 1.5,-0.6 1.5,-0.4 1.5,-0.1 1.5,0.7 1.5,1.5 1.4,1.9 1.5,1.8 1.5,1.7 1.5,2 1.5,1.9 1.5,1.5 1.5,0.4 1.5,0 1.4,-0.1 1.5,-0.1 1.5,-0.2 1.5,-0.2 1.5,-0.2 1.5,-0.5 1.5,-0.8 1.5,-0.9 1.5,-1.1 1.4,-1 1.5,-0.8 1.5,-0.7 1.5,-0.6 1.5,-0.7 1.5,-0.6 1.5,-0.6 1.5,-0.6 1.5,-0.6 1.4,-0.7 1.5,-0.7 1.5,-0.6 1.5,-0.6 1.5,-0.3 1.5,-0.2 1.5,0.1 1.5,0.4 1.4,0.6 1.5,0.8 1.5,0.8 1.5,0.9 1.5,1 1.5,1.3 1.5,1.5 1.5,1.6 1.5,1.3 1.4,1 1.5,0.8 1.5,0.6 1.5,0.7 1.5,0.5 1.5,0.5 1.5,0.3 1.5,0.2 1.4,0.1 1.5,-0.5 1.5,-0.7 1.5,-1 1.5,-1.1 1.5,-1 1.5,-0.8 1.5,-0.3 1.5,0.2 1.4,0.6 1.5,0.9 1.5,1.1 1.5,1 1.5,0.9 1.5,0.6 1.5,0.1 1.5,0 1.4,-0.1 1.5,-0.1 1.5,-0.1 1.5,-0.1 1.5,-0.2 1.5,-0.2 1.5,-0.2 1.5,-0.3 1.5,-0.2 1.4,-0.6 1.5,-1.3 1.5,-1.7 1.5,-1.8 1.5,-1.8 1.5,-1.4 1.5,-0.9 1.5,-0.1 1.4,0.8 1.5,1.3 1.5,1.1 1.5,0.6 1.5,-0.3 1.5,-0.7 1.5,-1.1 1.5,-1.2 1.5,-1.3 1.4,-1.1 1.5,-0.9 1.5,-0.6 1.5,-0.4 1.5,-0.5 1.5,-0.3 1.5,-0.4 1.5,-0.2 1.4,-0.2 1.5,-0.1 1.5,0.1 1.5,0.3 1.5,0.4 1.5,0.5 1.5,0.7 1.5,1.5 1.5,2.2 1.4,2.2 1.5,2 1.5,1.1 1.5,0.2 1.5,0 1.5,0 1.5,0 1.5,0 1.5,0 1.4,-0.1 1.5,-0.9 1.5,-1.6 1.5,-2 1.5,-2.2 1.5,-2.3 1.5,-1.9 1.5,-1.5 1.4,-0.9 1.5,0 1.5,0.7 1.5,1.1 1.5,1.5 1.5,1.6 1.5,1.5 1.5,1.4 1.5,1.1 1.4,0.6 1.5,0 1.5,0 1.5,-0.1 1.5,-0.1 1.5,-0.1 1.5,-0.1 1.5,-0.1 1.4,-0.1 1.5,-0.1 1.5,0 1.5,0 1.5,0.6 1.5,1.1 1.5,1.3 1.5,0.8 1.5,-0.3 1.4,-1.3 1.5,-2 1.5,-2.2 1.5,-1.9 1.5,-1 1.5,0 1.5,0.5 1.5,0.8 1.4,1 1.5,1 1.5,0.8 1.5,0.6 1.5,0.2 1.5,-0.2 1.5,-0.5 1.5,-0.5 1.5,-0.6 1.4,-0.6 1.5,-0.5 1.5,-0.2 1.5,0.1 1.5,0.5 1.5,0.7 1.5,0.8 1.5,0.6 1.4,0.4 1.5,-0.5 1.5,-1.7 1.5,-2.5 1.5,-2.7 1.5,-2.2 1.5,-1.1 1.5,0 1.5,0.5 1.4,0.7 1.5,0.9 1.5,0.9 1.5,0.8 1.5,0.8 1.5,0.4 1.5,0.3 1.5,0.3 1.4,0.2 1.5,0.2 1.5,0.2 1.5,0.2 1.5,0.4 1.5,0.4 1.5,0.7 1.5,0.8 1.5,0.8 1.4,0.8 1.5,0.7 1.5,0.4 1.5,0 1.5,-0.3 1.5,-0.5 1.5,-0.8 1.5,-0.7 1.5,-0.7 1.4,-0.6 1.5,-0.2 1.5,0 1.5,0.1 1.5,0.1 1.5,0.1 1.5,0.2 1.5,0.2 1.4,0.3 1.5,0.2 1.5,0.3 1.5,0.3 1.5,0.2 1.5,0.5 1.5,0.6 1.5,0.5 1.5,0.2 1.4,-0.3 1.5,-0.9 1.5,-1.5 1.5,-1.7 1.5,-1.7 1.5,-1.7 1.5,-1.3 1.5,-0.8 1.4,-0.7 1.5,-0.6 1.5,-0.5 1.5,-0.5 1.5,-0.4 1.5,-0.4 1.5,-0.4 1.5,-0.3 1.5,-0.3 1.4,-0.2 1.5,-0.2 1.5,-0.2 1.5,-0.3 1.5,-0.3 1.5,-0.3 1.5,-0.5 1.5,-0.5 1.4,-0.6 1.5,-0.6 1.5,-0.7 1.5,-0.8 1.5,-0.8" stroke="#dc2a2e" stroke-width="2.4" fill="none" stroke-linejoin="round"/>
<path d="M592.3,676.9l0.5,-2.4 0.5,-13.5 0.5,9.3 0.5,11.5 0.5,-8.1 0.5,3.1 0.5,-3.9 0.5,13.7 0.5,-14.2 0.4,0.1 0.5,-6.7 0.5,6.3 0.5,-1 0.5,12.4 0.5,-21.1 0.5,20.8 0.5,-15.1 0.5,7.2 0.5,2.7 0.5,-1.1 0.5,0.1 0.5,-5.3 0.5,2.5 0.5,-12.4 0.5,20.9 0.5,-9.3 0.5,4.4 0.5,-8.5 0.5,14.2 0.4,-9 0.5,-3 0.5,8.2 0.5,-12.6 0.5,3.8 0.5,-4.4 0.5,-0.1 0.5,9.4 0.5,-1.2 0.5,-3.3 0.5,-5 0.5,-0.8 0.5,7.5 0.5,-14.8 0.5,14.7 0.5,-1.3 0.5,-2 0.5,-0.9 0.5,-11.2 0.5,12.4 0.4,2.4 0.5,-7.9 0.5,6.6 0.5,-3.3 0.5,-2.3 0.5,-4.1 0.5,10 0.5,-13.8 0.5,8.3 0.5,-3 0.5,-3.7 0.5,0.7 0.5,-2.3 0.5,4.2 0.5,0.8 0.5,-1.8 0.5,6.4 0.5,-11 0.5,9.9 0.5,2.5 0.4,-16.3 0.5,11.2 0.5,5.6 0.5,-14.8 0.5,11.4 0.5,-6.4 0.5,9.9 0.5,-2.3 0.5,7.8 0.5,1.7 0.5,-4.1 0.5,-3.9 0.5,-3.8 0.5,-8.5 0.5,18.6 0.5,-9.8 0.5,8.5 0.5,-2 0.5,6.9 0.5,0.1 0.4,-3.5 0.5,2 0.5,-6.2 0.5,3.1 0.5,-6.5 0.5,1.1 0.5,-0.8 0.5,-5.7 0.5,2.2 0.5,1.9 0.5,-0.7 0.5,-0.8 0.5,-7 0.5,0.5 0.5,1.2 0.5,-6.2 0.5,9 0.5,-6 0.5,9 0.5,-14.4 0.4,5.9 0.5,-0.8 0.5,-2.2 0.5,3 0.5,1.2 0.5,-7.2 0.5,5.4 0.5,5.2 0.5,-6.7 0.5,10.7 0.5,-6.8 0.5,-5.7 0.5,3.9 0.5,-11 0.5,3.7 0.5,4.2 0.5,0.4 0.5,-2.2 0.5,-2.9 0.5,9.1 0.4,-12.5 0.5,8 0.5,2.5 0.5,-2.4 0.5,0.8 0.5,8.7 0.5,-1.4 0.5,8.6 0.5,-11.8 0.5,-8.2 0.5,12.1 0.5,-12 0.5,4.7 0.5,1.2 0.5,-0.5 0.5,-0.8 0.5,4.4 0.5,-3.1 0.5,-1.5 0.5,-3.6 0.4,-1.2 0.5,0.4 0.5,-1 0.5,7.7 0.5,-3.2 0.5,-2.8 0.5,-0.7 0.5,3.1 0.5,-2 0.5,4.3 0.5,0.9 0.5,-1.8 0.5,-5.2 0.5,6.1 0.5,-9.2 0.5,9.3 0.5,15 0.5,-9.8 0.5,-9.5 0.5,9.3 0.4,3.3 0.5,3.1 0.5,-10 0.5,2.5 0.5,2.5 0.5,1.9 0.5,-4.4 0.5,3.6 0.5,10.6 0.5,-9.7 0.5,3 0.5,1.4 0.5,-4.5 0.5,3.5 0.5,12.8 0.5,-21 0.5,2.2 0.5,5.4 0.5,0.8 0.5,-3.5 0.4,7 0.5,-8.5 0.5,2.2 0.5,0 0.5,2.3 0.5,-1.8 0.5,-9.5 0.5,-1.7 0.5,3.6 0.5,2.3 0.5,3.6 0.5,-8.4 0.5,-4.9 0.5,15.8 0.5,-14.4 0.5,16.3 0.5,-9.6 0.5,-4 0.5,8.2 0.5,0.3 0.4,-8.9 0.5,-3.9 0.5,6.3 0.5,-9.5 0.5,10.2 0.5,-13.1 0.5,3.6 0.5,3.3 0.5,-2.2 0.5,1.1 0.5,-7.8 0.5,-2 0.5,8.1 0.5,3.4 0.5,5 0.5,-2.1 0.5,-3.8 0.5,0.8 0.5,0 0.5,0.1 0.4,-2 0.5,9.7 0.5,-1.1 0.5,-10.2 0.5,2.1 0.5,7.4 0.5,-8.5 0.5,10.5 0.5,-1.5 0.5,8.5 0.5,-12.8 0.5,4.8 0.5,-4.9 0.5,2.3 0.5,3.4 0.5,-0.1 0.5,-5 0.5,6.9 0.5,-0.1 0.5,-1.1 0.4,-3.7 0.5,-0.7 0.5,-5 0.5,-3.4 0.5,6.5 0.5,9.4 0.5,-6.3 0.5,2.2 0.5,-8.1 0.5,5.5 0.5,5.1 0.5,-5.2 0.5,1 0.5,3.2 0.5,-0.2 0.5,3.1 0.5,-17.5 0.5,11.9 0.5,-4.3 0.5,10.6 0.4,-0.5 0.5,-4.7 0.5,-0.1 0.5,-4.9 0.5,8.9 0.5,-7.8 0.5,-5 0.5,12 0.5,-9.2 0.5,9.2 0.5,-6.6 0.5,-0.2 0.5,-7 0.5,12.1 0.5,-4.4 0.5,-4.5 0.5,11 0.5,-5.9 0.5,4.3 0.5,-0.9 0.4,-7 0.5,-0.1 0.5,-0.2 0.5,-3.2 0.5,0.5 0.5,7.3 0.5,0.8 0.5,-2.1 0.5,12.1 0.5,-19.5 0.5,11.7 0.5,2.1 0.5,5.2 0.5,-14.6 0.5,-1.7 0.5,3 0.5,1.3 0.5,2.6 0.5,4.8 0.5,-5.9 0.4,1 0.5,7.9 0.5,-13.1 0.5,13.4 0.5,-9 0.5,6.4 0.5,-1.2 0.5,-0.7 0.5,-7.1 0.5,9.6 0.5,-5.4 0.5,-6.8 0.5,8.8 0.5,-3.5 0.5,-3.7 0.5,6 0.5,-5.5 0.5,5.4 0.5,-7.1 0.5,3 0.4,4.7 0.5,-11.9 0.5,7.3 0.5,0.8 0.5,3.1 0.5,-2.4 0.5,-1.9 0.5,11.4 0.5,-17.4 0.5,12.1 0.5,-4.7 0.5,-7.6 0.5,5.2 0.5,-0.9 0.5,-5.7 0.5,6.5 0.5,-0.4 0.5,2.8 0.5,-8.8 0.5,3.8 0.4,9.1 0.5,-6.1 0.5,8.7 0.5,-10.9 0.5,2.3 0.5,4.3 0.5,1.4 0.5,7.1 0.5,-12.7 0.5,4.4 0.5,1 0.5,-5.2 0.5,6.8 0.5,-8.2 0.5,7.9 0.5,2.9 0.5,-19.1 0.5,12.6 0.5,0.4 0.5,-6.7 0.4,17 0.5,-0.5 0.5,-13.5 0.5,4.5 0.5,-8.6 0.5,12.9 0.5,-10.5 0.5,-4.8 0.5,15.2 0.5,-4.1 0.5,-6.7 0.5,-0.9 0.5,3 0.5,-5.1 0.5,0.6 0.5,7.8 0.5,-6.3 0.5,5.8 0.5,3.9 0.5,1.6 0.4,-17.3 0.5,5.7 0.5,-10.5 0.5,17 0.5,-5.6 0.5,-3.5 0.5,2.3 0.5,-3.3 0.5,1.7 0.5,3.7 0.5,8.6 0.5,-6.7 0.5,-13.7 0.5,4.8 0.5,-3.1 0.5,9.8 0.5,-1.9 0.5,3.7 0.5,-5.9 0.5,2.2 0.4,-1.3 0.5,-5.8 0.5,13.7 0.5,-7 0.5,11.6 0.5,-11.6 0.5,8.7 0.5,-0.9 0.5,-0.1 0.5,-6.6 0.5,9.2 0.5,3.2 0.5,4.1 0.5,-6.6 0.5,6.2 0.5,0.6 0.5,-4 0.5,-3.4 0.5,7 0.5,-6.9 0.4,-5.4 0.5,16.3 0.5,-14.2 0.5,-3.9 0.5,13.7 0.5,-6 0.5,10 0.5,-8.5 0.5,3.3 0.5,-3.1 0.5,6.1 0.5,-0.4 0.5,-1.9 0.5,1.4 0.5,-0.5 0.5,-2 0.5,4.6 0.5,-4.8 0.5,-3 0.5,14 0.4,-20.9 0.5,13.2 0.5,2 0.5,1.2 0.5,-2.3 0.5,-0.3 0.5,-5.3 0.5,8.2 0.5,-11.3 0.5,9.5 0.5,-7.4 0.5,-1.8 0.5,11.7 0.5,-11.2 0.5,-5.4 0.5,13.2 0.5,-4.9 0.5,3.7 0.5,-0.9 0.5,1.4 0.4,1.8 0.5,8.2 0.5,-14.9 0.5,4.5 0.5,-7.4 0.5,2.2 0.5,2.1 0.5,7.2 0.5,-13 0.5,3.1 0.5,17.4 0.5,2.3 0.5,-10.4 0.5,2.8 0.5,-11.1 0.5,9.1 0.5,-3.9 0.5,-2.1 0.5,10 0.5,-9.2 0.4,4.6 0.5,-2.4 0.5,1.3 0.5,5.8 0.5,7.2 0.5,-13.1 0.5,-0.3 0.5,2.1 0.5,-6.6 0.5,7.3 0.5,4.3 0.5,-4.2 0.5,-0.7 0.5,-0.2 0.5,-6.3 0.5,3.3 0.5,-2.6 0.5,2.3 0.5,4 0.5,-5.9 0.4,6.6 0.5,-2.5 0.5,6.3 0.5,-5.4 0.5,2.3 0.5,1.8 0.5,-12.3 0.5,-2.7 0.5,6.9 0.5,10.6 0.5,-9.5 0.5,3.1 0.5,4.4 0.5,-2.6 0.5,1 0.5,1.9 0.5,-9.7 0.5,9.7 0.5,-0.1 0.5,-5.9 0.4,7.1 0.5,2.6 0.5,-1.6 0.5,-6.5 0.5,0.6 0.5,0.5 0.5,3.8 0.5,2.3 0.5,-9 0.5,11.7 0.5,-6.1 0.5,5.5 0.5,-4.6 0.5,-1.2 0.5,-6.9 0.5,19.1 0.5,-17.1 0.5,8.5 0.5,-5.9 0.5,-2.6 0.4,7.9 0.5,-3.4 0.5,-2.9 0.5,3.1 0.5,3 0.5,-4.6 0.5,0.4 0.5,8 0.5,-14.3 0.5,5.7 0.5,13.2 0.5,-7.9 0.5,-12.8 0.5,0.7 0.5,6.5 0.5,-4.3 0.5,6.7 0.5,-6.6 0.5,3.2 0.5,-1 0.4,6.3 0.5,-7.9 0.5,5 0.5,-2.9 0.5,-6.2 0.5,-0.8 0.5,7 0.5,-4.1 0.5,13.5 0.5,-14.7 0.5,0.9 0.5,4.3 0.5,11 0.5,-8.8 0.5,-3.4 0.5,-10.3 0.5,7.2 0.5,-1.3 0.5,0.7 0.5,-4.2 0.4,12 0.5,-1.9 0.5,1.2 0.5,-4.9 0.5,-0.1 0.5,-2.8 0.5,5.2 0.5,-6 0.5,4.3 0.5,-15.3 0.5,12.9 0.5,-15.7 0.5,4.2 0.5,13.9 0.5,-10.9 0.5,1.6 0.5,10.6 0.5,-10.8 0.5,3.6 0.5,-2.2 0.4,6.2 0.5,-3.9 0.5,-2.2 0.5,3.2 0.5,2.4 0.5,-2 0.5,12.6 0.5,-14.6 0.5,14.8 0.5,-21.2 0.5,8.8 0.5,-1.7 0.5,-1.6 0.5,10.8 0.5,-17.2 0.5,17.3 0.5,-7.6 0.5,1 0.5,-4.6 0.5,6.9 0.4,7.3 0.5,-8.3 0.5,14.2 0.5,-11 0.5,1.7 0.5,-9.8 0.5,9.5 0.5,1.2 0.5,1.9 0.5,0.9 0.5,-1.2 0.5,-5.4 0.5,9.9 0.5,-5.1 0.5,6.6 0.5,-6.1 0.5,-1.3 0.5,7.3 0.5,-2.9 0.5,-3 0.4,-3 0.5,-0.6 0.5,10.8 0.5,-0.3 0.5,8.4 0.5,-16.5 0.5,-2.6 0.5,5.6 0.5,-5.6 0.5,10.6 0.5,0.1 0.5,-9.4 0.5,13.4 0.5,-7.6 0.5,1.5 0.5,1.5 0.5,-7.5 0.5,13.4 0.5,-1.9 0.5,8.6 0.4,-5 0.5,-2.5 0.5,-0.4 0.5,-5.9 0.5,2.6 0.5,4.8 0.5,6.5 0.5,-10.7 0.5,-1.5 0.5,7.8 0.5,-2.1 0.5,-13 0.5,3.4 0.5,-0.5 0.5,1.8 0.5,2.3 0.5,3 0.5,-5.7 0.5,3.5 0.5,0.7 0.4,-2.3 0.5,0 0.5,-5.8 0.5,9.5 0.5,-17.7 0.5,17.3 0.5,-3.2 0.5,-7.2 0.5,8.6 0.5,-2.1 0.5,-3 0.5,12.7 0.5,-10.8 0.5,1.8 0.5,-4 0.5,-4.2 0.5,-1.2 0.5,-4.8 0.5,-0.1 0.5,1.6 0.4,5 0.5,-5.9 0.5,9.9 0.5,-4.8 0.5,-8.1 0.5,3.1 0.5,10.7 0.5,-4.2 0.5,-7.6 0.5,1.4 0.5,-2.3 0.5,14.4 0.5,-2.4 0.5,-4.9 0.5,3.9 0.5,-1.9 0.5,-2.5 0.5,-1.4 0.5,2.8 0.5,-3.2 0.4,3.5 0.5,-0.6 0.5,7.3 0.5,-12.3 0.5,5.7 0.5,-0.7 0.5,1.6 0.5,9.2 0.5,-10.7 0.5,6.4 0.5,2.9 0.5,-12.5 0.5,8 0.5,-3 0.5,-3 0.5,-3.7 0.5,14 0.5,-2.1 0.5,-7.1 0.5,6.8 0.4,9.7 0.5,-13.8 0.5,-0.4 0.5,-2.9 0.5,2.8 0.5,3.4 0.5,-3.3 0.5,1.3 0.5,-1.9 0.5,0.4 0.5,-0.5 0.5,6.9 0.5,-10.3 0.5,1 0.5,0.2 0.5,17.1 0.5,-13.7 0.5,1.2 0.5,4.3 0.5,-7.9 0.4,10.4 0.5,-13.8 0.5,4.2 0.5,4.4 0.5,-15.6 0.5,10.5 0.5,-3.7 0.5,12.4 0.5,-9.3 0.5,-4.5 0.5,1.4 0.5,11.9 0.5,-13.6 0.5,-1.2 0.5,3.7 0.5,6.1 0.5,5.5 0.5,-3.1 0.5,-1.9 0.5,-4.4 0.4,-1.7 0.5,6.3 0.5,4.2 0.5,1.3 0.5,-3.5 0.5,-13.7 0.5,12.6 0.5,-9 0.5,-2.1 0.5,8.8 0.5,-10.3 0.5,5.4 0.5,8.5 0.5,-5 0.5,-15.5 0.5,4.9 0.5,14.8 0.5,-12.7 0.5,3.7 0.5,3 0.4,-3.2 0.5,-0.5 0.5,0.2 0.5,-4.3 0.5,2.3 0.5,-8.2 0.5,5.4 0.5,7.5 0.5,6.7 0.5,-9.6 0.5,2 0.5,-5.9 0.5,0.1 0.5,-6 0.5,12.3 0.5,-6.6 0.5,6.1 0.5,-0.3 0.5,-9.6 0.5,20.6 0.4,-12.4 0.5,1.3 0.5,-3.5 0.5,-1.4 0.5,3.5 0.5,5.1 0.5,-7.1 0.5,5.1 0.5,-4 0.5,-1.7 0.5,-0.4 0.5,12.7 0.5,-20.5 0.5,4.3 0.5,-6 0.5,-3.2 0.5,17.2 0.5,-2.1 0.5,-4.3 0.5,-3.6 0.4,7.1 0.5,-1.1 0.5,-7.1 0.5,9.8 0.5,-5.5 0.5,-4.4 0.5,6.9 0.5,-5.2 0.5,4.6 0.5,7.6 0.5,-5.1 0.5,-1.6 0.5,0.9 0.5,-1.6 0.5,-1.7 0.5,0.8 0.5,0.8 0.5,3.3 0.5,-0.8 0.5,1 0.4,1.3 0.5,-12.8 0.5,19.9 0.5,-10.5 0.5,9.7 0.5,-5 0.5,-6.8 0.5,5.6 0.5,-8.2 0.5,12 0.5,-3.1 0.5,1.9 0.5,-3.1 0.5,1.9 0.5,0.5 0.5,-2.2 0.5,-4.9 0.5,5 0.5,0.7 0.5,2 0.4,10.7 0.5,-2.4 0.5,-3.9 0.5,-5.3 0.5,10 0.5,-12.7 0.5,9.1 0.5,-0.7 0.5,-1.8 0.5,-5.9" stroke="#9c9cf0" stroke-width="0.9" fill="none" stroke-linejoin="round" opacity="0.8"/>
<path d="M592.3,673.6l1.5,0 1.5,0 1.5,0 1.5,0 1.4,0 1.5,0 1.5,0 1.5,0 1.5,-0.3 1.5,-0.6 1.5,-0.7 1.5,-0.8 1.4,-0.9 1.5,-0.9 1.5,-0.8 1.5,-0.9 1.5,-1.1 1.5,-1.1 1.5,-1.2 1.5,-1 1.5,-0.7 1.4,-0.4 1.5,0.1 1.5,0.8 1.5,1.4 1.5,1.7 1.5,1.8 1.5,1.5 1.5,1.1 1.4,0.3 1.5,-0.8 1.5,-2 1.5,-2.6 1.5,-2.9 1.5,-2.8 1.5,-2.1 1.5,-1.2 1.5,-0.1 1.4,0.1 1.5,0.1 1.5,0.1 1.5,0.2 1.5,0.1 1.5,0.1 1.5,0 1.5,-0.3 1.4,-0.6 1.5,-0.8 1.5,-1 1.5,-0.8 1.5,-0.7 1.5,-0.4 1.5,0.4 1.5,1.6 1.5,2.5 1.4,3 1.5,3 1.5,2.6 1.5,1.8 1.5,0.5 1.5,-0.5 1.5,-1 1.5,-1.4 1.5,-1.6 1.4,-1.7 1.5,-1.7 1.5,-1.4 1.5,-1.2 1.5,-1.3 1.5,-1.4 1.5,-1.3 1.5,-1.2 1.4,-0.9 1.5,-0.6 1.5,-0.1 1.5,0.7 1.5,1.4 1.5,1.8 1.5,1.9 1.5,1.8 1.5,1.3 1.4,0.7 1.5,0 1.5,-0.2 1.5,-0.2 1.5,-0.3 1.5,-0.4 1.5,-0.3 1.5,-0.3 1.4,-0.3 1.5,-0.3 1.5,-0.3 1.5,-0.4 1.5,-0.3 1.5,-0.3 1.5,-0.2 1.5,0 1.5,0 1.4,0.2 1.5,0.4 1.5,0.4 1.5,0.3 1.5,0.3 1.5,0.2 1.5,0.1 1.5,-0.4 1.4,-0.5 1.5,-0.7 1.5,-0.8 1.5,-0.7 1.5,-0.5 1.5,-0.3 1.5,0.2 1.5,0.4 1.5,0.7 1.4,0.8 1.5,0.7 1.5,0.6 1.5,0.4 1.5,0 1.5,-0.5 1.5,-1.1 1.5,-1.3 1.4,-1.4 1.5,-1.4 1.5,-1.1 1.5,-0.8 1.5,-0.4 1.5,-0.4 1.5,-0.3 1.5,-0.3 1.5,-0.2 1.4,-0.2 1.5,-0.1 1.5,0.1 1.5,1.3 1.5,2.1 1.5,2.8 1.5,2.8 1.5,2.6 1.4,2 1.5,0.9 1.5,0.1 1.5,0.1 1.5,0.1 1.5,0.1 1.5,0.1 1.5,0 1.5,0.2 1.4,0.1 1.5,0.4 1.5,0.5 1.5,0.5 1.5,0.7 1.5,0.6 1.5,0.6 1.5,0.5 1.5,0.4 1.4,0.5 1.5,0.4 1.5,0.4 1.5,0.4 1.5,0.4 1.5,0.4 1.5,0.3 1.5,0.4 1.4,0.3 1.5,0.3 1.5,0.3 1.5,0.3 1.5,0.3 1.5,0.3 1.5,0.3 1.5,0.4 1.5,0.4 1.4,0.4 1.5,0.4 1.5,0.2 1.5,0.1 1.5,0.1 1.5,0 1.5,0 1.5,0 1.4,0 1.5,0 1.5,0 1.5,0 1.5,-0.2 1.5,-0.3 1.5,-0.5 1.5,-0.6 1.5,-0.6 1.4,-0.7 1.5,-0.7 1.5,-0.8 1.5,-1.1 1.5,-1.3 1.5,-1.4 1.5,-1.4 1.5,-1 1.4,-0.8 1.5,-0.2 1.5,0.3 1.5,0.5 1.5,0.8 1.5,0.9 1.5,1 1.5,1.1 1.5,0.9 1.4,0.9 1.5,1 1.5,1 1.5,1.1 1.5,1 1.5,1.1 1.5,1.1 1.5,1 1.4,1.2 1.5,1.3 1.5,1.4 1.5,1.3 1.5,1.1 1.5,0.8 1.5,0.3 1.5,0 1.5,-0.5 1.4,-0.6 1.5,-0.9 1.5,-1 1.5,-1 1.5,-1 1.5,-1 1.5,-1.1 1.5,-1.3 1.4,-1.3 1.5,-1.4 1.5,-1.1 1.5,-0.8 1.5,-0.4 1.5,0.2 1.5,0.7 1.5,0.9 1.5,1.2 1.4,1.1 1.5,0.9 1.5,0.6 1.5,0.2 1.5,0 1.5,0 1.5,0 1.5,0 1.5,0 1.4,0 1.5,0 1.5,-0.1 1.5,-0.1 1.5,-0.2 1.5,-0.3 1.5,-0.3 1.5,-0.3 1.4,-0.4 1.5,-0.4 1.5,-0.7 1.5,-0.9 1.5,-1.1 1.5,-1 1.5,-1 1.5,-0.6 1.5,-0.3 1.4,0 1.5,0 1.5,0 1.5,0 1.5,0 1.5,0 1.5,0 1.5,0 1.4,-0.4 1.5,-0.6 1.5,-0.7 1.5,-0.7 1.5,-0.7 1.5,-0.5 1.5,-0.2 1.5,0.1 1.5,0.3 1.4,0.5 1.5,0.6 1.5,0.7 1.5,0.7 1.5,0.6 1.5,0.5 1.5,0.6 1.5,0.5 1.4,0.5 1.5,0.5 1.5,0.5 1.5,0.5 1.5,0.5" stroke="#2224cc" stroke-width="2.4" fill="none" stroke-linejoin="round"/>
<rect x="592.3" y="429.5" width="445.0" height="307.5" fill="none" stroke="#222" stroke-width="1.6"/>
<line x1="592.3" y1="583.4" x2="1037.3" y2="583.4" stroke="#222" stroke-width="1.6"/>
<line x1="586.8" y1="583.4" x2="592.3" y2="583.4" stroke="#222" stroke-width="1.6"/>
<text x="581.8" y="592.5" font-size="26.5" text-anchor="end">0</text>
<line x1="586.8" y1="544.9" x2="592.3" y2="544.9" stroke="#222" stroke-width="1.6"/>
<text x="581.8" y="554.1" font-size="26.5" text-anchor="end">1</text>
<line x1="586.8" y1="506.4" x2="592.3" y2="506.4" stroke="#222" stroke-width="1.6"/>
<text x="581.8" y="515.6" font-size="26.5" text-anchor="end">2</text>
<line x1="586.8" y1="468.0" x2="592.3" y2="468.0" stroke="#222" stroke-width="1.6"/>
<text x="581.8" y="477.1" font-size="26.5" text-anchor="end">3</text>
<line x1="586.8" y1="429.5" x2="592.3" y2="429.5" stroke="#222" stroke-width="1.6"/>
<text x="581.8" y="438.6" font-size="26.5" text-anchor="end">4</text>
<line x1="589.3" y1="564.2" x2="592.3" y2="564.2" stroke="#222" stroke-width="1.4"/>
<line x1="589.3" y1="525.7" x2="592.3" y2="525.7" stroke="#222" stroke-width="1.4"/>
<line x1="589.3" y1="487.2" x2="592.3" y2="487.2" stroke="#222" stroke-width="1.4"/>
<line x1="589.3" y1="448.7" x2="592.3" y2="448.7" stroke="#222" stroke-width="1.4"/>
<line x1="586.8" y1="737.0" x2="592.3" y2="737.0" stroke="#222" stroke-width="1.6"/>
<text x="581.8" y="746.1" font-size="26.5" text-anchor="end">0</text>
<line x1="586.8" y1="698.6" x2="592.3" y2="698.6" stroke="#222" stroke-width="1.6"/>
<text x="581.8" y="707.7" font-size="26.5" text-anchor="end">1</text>
<line x1="586.8" y1="660.2" x2="592.3" y2="660.2" stroke="#222" stroke-width="1.6"/>
<text x="581.8" y="669.3" font-size="26.5" text-anchor="end">2</text>
<line x1="586.8" y1="621.8" x2="592.3" y2="621.8" stroke="#222" stroke-width="1.6"/>
<text x="581.8" y="630.9" font-size="26.5" text-anchor="end">3</text>
<line x1="589.3" y1="717.8" x2="592.3" y2="717.8" stroke="#222" stroke-width="1.4"/>
<line x1="589.3" y1="679.4" x2="592.3" y2="679.4" stroke="#222" stroke-width="1.4"/>
<line x1="589.3" y1="641.0" x2="592.3" y2="641.0" stroke="#222" stroke-width="1.4"/>
<line x1="589.3" y1="602.6" x2="592.3" y2="602.6" stroke="#222" stroke-width="1.4"/>
<line x1="647.9" y1="583.4" x2="647.9" y2="585.9" stroke="#222" stroke-width="1.4"/>
<line x1="703.5" y1="583.4" x2="703.5" y2="587.4" stroke="#222" stroke-width="1.4"/>
<line x1="759.2" y1="583.4" x2="759.2" y2="585.9" stroke="#222" stroke-width="1.4"/>
<line x1="814.8" y1="583.4" x2="814.8" y2="587.4" stroke="#222" stroke-width="1.4"/>
<line x1="870.4" y1="583.4" x2="870.4" y2="585.9" stroke="#222" stroke-width="1.4"/>
<line x1="926.0" y1="583.4" x2="926.0" y2="587.4" stroke="#222" stroke-width="1.4"/>
<line x1="981.7" y1="583.4" x2="981.7" y2="585.9" stroke="#222" stroke-width="1.4"/>
<line x1="592.3" y1="737.0" x2="592.3" y2="742.5" stroke="#222" stroke-width="1.6"/>
<line x1="703.5" y1="737.0" x2="703.5" y2="742.5" stroke="#222" stroke-width="1.6"/>
<line x1="814.8" y1="737.0" x2="814.8" y2="742.5" stroke="#222" stroke-width="1.6"/>
<line x1="926.0" y1="737.0" x2="926.0" y2="742.5" stroke="#222" stroke-width="1.6"/>
<line x1="1037.3" y1="737.0" x2="1037.3" y2="742.5" stroke="#222" stroke-width="1.6"/>
<line x1="647.9" y1="737.0" x2="647.9" y2="740.0" stroke="#222" stroke-width="1.4"/>
<line x1="759.2" y1="737.0" x2="759.2" y2="740.0" stroke="#222" stroke-width="1.4"/>
<line x1="870.4" y1="737.0" x2="870.4" y2="740.0" stroke="#222" stroke-width="1.4"/>
<line x1="981.7" y1="737.0" x2="981.7" y2="740.0" stroke="#222" stroke-width="1.4"/>
<text x="593.6" y="766.8" font-size="26.5" text-anchor="middle">0</text>
<text x="705.0" y="766.8" font-size="26.5" text-anchor="middle">50</text>
<text x="815.8" y="766.8" font-size="26.5" text-anchor="middle">100</text>
<text x="921.8" y="766.8" font-size="26.5" text-anchor="middle">150</text>
<text x="1031.8" y="766.8" font-size="26.5" text-anchor="middle">200</text>
<line x1="592.3" y1="737.0" x2="592.3" y2="742.5" stroke="#222" stroke-width="1.6"/>
<text x="839.0" y="786.2" font-size="26.5" text-anchor="middle">Time (ns)</text>
<text x="561.5" y="562.0" font-size="26.5" text-anchor="middle" transform="rotate(-90 561.5 562.0)">RMSD (Å)</text>
<text x="600.4" y="452.8" font-size="26.5">MRGPRX2</text>
<text x="600.4" y="604.3" font-size="26.5">Gαq</text>
<text x="0" y="0" font-size="60" font-weight="bold" fill="#000" transform="translate(486.0,856.3) scale(1.15,1)">g</text>
<path d="M596.7,1094.8l0.5,9 0.5,-10.3 0.5,-5.4 0.5,-6.2 0.5,14.6 0.5,10.1 0.5,4.6 0.5,-16.8 0.5,-9.3 0.5,20.3 0.5,16.5 0.5,-2.2 0.5,-29.6 0.5,17.8 0.5,24.3 0.5,-19 0.5,13.8 0.5,-5.7 0.5,-1.1 0.5,3.1 0.5,-14.9 0.5,7.6 0.5,6.3 0.5,-12.3 0.5,-5.6 0.5,29 0.5,-17.7 0.5,7.6 0.5,-11 0.5,17 0.5,-22.1 0.5,-0.8 0.4,1.7 0.5,4 0.5,-5.8 0.5,7 0.5,1.7 0.5,-20.7 0.5,14.2 0.5,-29.4 0.5,3.3 0.5,30.4 0.5,-29.5 0.5,14.3 0.5,-15.9 0.5,-2.2 0.5,22.4 0.5,-23 0.5,-1.4 0.5,-16.1 0.5,24.6 0.5,-24 0.5,21.6 0.5,-9.5 0.5,6.3 0.5,-30.1 0.5,14.3 0.5,-21.5 0.5,22.5 0.5,-5 0.5,6 0.5,18 0.5,-5 0.5,-15.6 0.5,22.5 0.5,-5.6 0.5,4 0.5,-6.2 0.5,13.3 0.5,-0.7 0.5,-2.8 0.5,3.7 0.5,13.8 0.5,-19.1 0.5,28.5 0.5,0.7 0.5,2.8 0.5,-25.5 0.5,17.2 0.5,8.3 0.5,2.5 0.5,-18.3 0.5,18.1 0.5,3 0.5,-22.4 0.5,22.1 0.5,-10.3 0.5,10.6 0.5,-8.7 0.5,-4.5 0.5,-16.6 0.5,4.7 0.5,26.7 0.5,7 0.5,-19.6 0.5,1.7 0.4,-7.6 0.5,8.5 0.5,-0.1 0.5,2.6 0.5,-2.8 0.5,-8.6 0.5,6 0.5,-6.2 0.5,-22.2 0.5,16.5 0.5,24.2 0.5,-40.4 0.5,16.1 0.5,15 0.5,-22.8 0.5,10.1 0.5,7.1 0.5,-0.3 0.5,3.7 0.5,-13.1 0.5,-12.8 0.5,16.1 0.5,-9.6 0.5,-18.1 0.5,36.5 0.5,-18.4 0.5,6.1 0.5,8.3 0.5,-1.2 0.5,-12.9 0.5,-6.2 0.5,10.8 0.5,-7.8 0.5,-8.9 0.5,4.2 0.5,-7.8 0.5,4 0.5,-1.2 0.5,-17.1 0.5,17.2 0.5,0.7 0.5,-8.5 0.5,17.9 0.5,-8.8 0.5,-15.5 0.5,0.1 0.5,-13 0.5,16.6 0.5,15.9 0.5,-42.8 0.5,8.7 0.5,4.4 0.5,-10.5 0.5,15.1 0.5,21.4 0.5,-17.2 0.5,1 0.5,-25.2 0.5,28.7 0.5,-6.3 0.5,0.6 0.5,1.5 0.5,6.8 0.5,-3.3 0.4,-19.9 0.5,5.9 0.5,19.1 0.5,3.2 0.5,-14.8 0.5,10.4 0.5,-0.4 0.5,13.4 0.5,-42.8 0.5,13.5 0.5,23.8 0.5,-21.5 0.5,6.4 0.5,35.6 0.5,-21 0.5,-0.9 0.5,-11.6 0.5,9.9 0.5,-6.8 0.5,6.8 0.5,-5.5 0.5,-20.9 0.5,32.4 0.5,4.9 0.5,-42.3 0.5,43.1 0.5,-4.8 0.5,-7.3 0.5,-5.3 0.5,-6.6 0.5,7.8 0.5,15.2 0.5,-16.5 0.5,3.2 0.5,-19.5 0.5,22.8 0.5,16 0.5,-3.3 0.5,-29.8 0.5,0.4 0.5,43.1 0.5,-17.8 0.5,-6.4 0.5,-13.7 0.5,27.1 0.5,-19.5 0.5,-0.8 0.5,18.7 0.5,-5.4 0.5,-22.8 0.5,1.3 0.5,11.1 0.5,7 0.5,-9.2 0.5,15.9 0.5,-0.1 0.5,9.7 0.5,-10 0.5,1.5 0.5,-31.8 0.5,34.1 0.5,19.9 0.5,-37.2 0.5,18.5 0.4,-15.9 0.5,40.6 0.5,-27 0.5,-8.8 0.5,39.4 0.5,-14.7 0.5,-26.4 0.5,15.9 0.5,10.2 0.5,-8.7 0.5,2 0.5,-15.4 0.5,3 0.5,8.5 0.5,4.2 0.5,-7.8 0.5,-17.1 0.5,2.8 0.5,4.3 0.5,8.9 0.5,13.1 0.5,-7.7 0.5,-17 0.5,5.9 0.5,11.1 0.5,7.4 0.5,-22.1 0.5,3.9 0.5,-1.5 0.5,-1.9 0.5,-11.2 0.5,0.2 0.5,-9.7 0.5,-1.3 0.5,-6.4 0.5,4.9 0.5,1.6 0.5,6.5 0.5,-7.4 0.5,9.1 0.5,-10.5 0.5,-7.2 0.5,23.7 0.5,12.2 0.5,-35.1 0.5,14.9 0.5,-7.4 0.5,15.5 0.5,-25.9 0.5,13 0.5,11.4 0.5,3.8 0.5,-4.7 0.5,4.3 0.5,2.2 0.5,11 0.5,-27.7 0.5,16.6 0.5,-0.3 0.5,0.8 0.5,30.5 0.5,-33.7 0.5,11.2 0.5,0.3 0.4,-3.7 0.5,13.1 0.5,-21.5 0.5,18.7 0.5,2.3 0.5,9.4 0.5,-23.5 0.5,-8.2 0.5,14.8 0.5,9.4 0.5,-32.7 0.5,23.8 0.5,-29 0.5,13.1 0.5,5.9 0.5,-2.4 0.5,-14.9 0.5,8.4 0.5,-3.1 0.5,-14.7 0.5,-14.4 0.5,27.4 0.5,11.4 0.5,-0.7 0.5,13.8 0.5,-17.2 0.5,2.2 0.5,8.5 0.5,-20.9 0.5,39.1 0.5,-13.9 0.5,-38.7 0.5,13.2 0.5,7.5 0.5,2 0.5,-14.7 0.5,15.9 0.5,6.6 0.5,16.9 0.5,-12.7 0.5,9.1 0.5,0.8 0.5,1.2 0.5,-7 0.5,4.3 0.5,-13.8 0.5,27 0.5,-13.5 0.5,-24.3 0.5,21.8 0.5,-14.4 0.5,-0.1 0.5,-3.1 0.5,5.8 0.5,24.1 0.5,-14.7 0.5,0.1 0.5,12.8 0.5,-14.2 0.5,8.5 0.5,4.3 0.5,-23 0.5,3 0.5,7.9 0.5,3.5 0.4,-4.4 0.5,-1.1 0.5,0.9 0.5,-3.4 0.5,5.5 0.5,-8.9 0.5,-0.5 0.5,3.1 0.5,13.3 0.5,0.6 0.5,-11.5 0.5,8.6 0.5,-0.8 0.5,30.4 0.5,2.1 0.5,-34.5 0.5,0.8 0.5,-12 0.5,-6 0.5,21.7 0.5,3.3 0.5,18.1 0.5,-26.9 0.5,18.6 0.5,-12.5 0.5,4.3 0.5,-0.2 0.5,-6.8 0.5,17.3 0.5,-0.7 0.5,6.1 0.5,-5.3 0.5,-26.9 0.5,27.3 0.5,-18.4 0.5,4.6 0.5,1.3 0.5,-0.7 0.5,22 0.5,-16.5 0.5,-14.5 0.5,15.7 0.5,4.2 0.5,-12 0.5,7.9 0.5,16.9 0.5,-32.2 0.5,24.1 0.5,14.2 0.5,-39.9 0.5,10 0.5,5.7 0.5,0.1 0.5,11.1 0.5,-1.3 0.5,-11 0.5,-1.9 0.5,0.3 0.5,9.2 0.5,8.6 0.5,-2.8 0.5,-15.1 0.5,-3.4 0.5,22 0.4,2.1 0.5,-20.1 0.5,6.8 0.5,0.8 0.5,24.7 0.5,-10.7 0.5,2.1 0.5,-8.2 0.5,23.2 0.5,-35.1 0.5,12 0.5,-1.2 0.5,19.9 0.5,-13.6 0.5,-16 0.5,35.3 0.5,-22.1 0.5,-27.2 0.5,39.9 0.5,-17.8 0.5,14.2 0.5,-18.4 0.5,8.7 0.5,4 0.5,-21.1 0.5,2.5 0.5,6.5 0.5,6.7 0.5,17.4 0.5,-17.6 0.5,-0.6 0.5,11.8 0.5,-9.8 0.5,22.3 0.5,-12.8 0.5,14.3 0.5,-17.7 0.5,10.2 0.5,2 0.5,-8.2 0.5,-21 0.5,36.6 0.5,-7.2 0.5,-19.9 0.5,18.1 0.5,-26.2 0.5,18.8 0.5,1.7 0.5,-3.1 0.5,-16.4 0.5,13.2 0.5,1.8 0.5,3.3 0.5,34.4 0.5,-28.7 0.5,-8.5 0.5,4.2 0.5,7.7 0.5,-6.9 0.5,3.3 0.5,-2.2 0.5,3.5 0.5,-3.3 0.5,1.1 0.4,0.9 0.5,-1.6 0.5,2.3 0.5,-2.5 0.5,0.7 0.5,0.5 0.5,-2.4 0.5,7.7 0.5,0.5 0.5,-5.8 0.5,-0.7 0.5,-2.8 0.5,3.6 0.5,-0.1 0.5,4.8 0.5,-8.9 0.5,4.9 0.5,4.7 0.5,-0.3 0.5,-2.1 0.5,-1.1 0.5,7.9 0.5,-8.2 0.5,0.5 0.5,1.1 0.5,-1.2 0.5,-0.5 0.5,4 0.5,-8.6 0.5,6.5 0.5,1.9 0.5,-3.1 0.5,-3.5 0.5,8 0.5,0.5 0.5,0 0.5,-9.8 0.5,6 0.5,-0.5 0.5,2 0.5,0.4 0.5,2.9 0.5,-5.9 0.5,-0.3 0.5,6.1 0.5,-2.5 0.5,-0.8 0.5,-2 0.5,-0.7 0.5,-2.4 0.5,-0.6 0.5,0.8 0.5,-0.8 0.5,6.8 0.5,-1.7 0.5,-4.5 0.5,2.3 0.5,0.7 0.5,5.4 0.5,-0.3 0.5,-7 0.5,1 0.5,-1.5 0.5,3.6 0.4,3.5 0.5,-5.7 0.5,-1.8 0.5,-1.6 0.5,4.3 0.5,0.7 0.5,2.4 0.5,-6.3 0.5,-1.3 0.5,6.3 0.5,-2.4 0.5,0.5 0.5,1.8 0.5,5.2 0.5,-5.8 0.5,-2.6 0.5,5.5 0.5,-1.6 0.5,4.8 0.5,-10.5 0.5,2.1 0.5,1.2 0.5,0 0.5,1.9 0.5,-1.5 0.5,0.6 0.5,-0.2 0.5,-0.6 0.5,-0.4 0.5,-3.8 0.5,8.1 0.5,-4.7 0.5,2.4 0.5,1.4 0.5,3.4 0.5,-8.1 0.5,4.3 0.5,-0.6 0.5,-3.3 0.5,4.2 0.5,-3 0.5,0.3 0.5,-2.4 0.5,-0.6 0.5,5.1 0.5,-4.8 0.5,2.7 0.5,-0.5 0.5,0.8 0.5,-2.6 0.5,5.4 0.5,-4 0.5,-2.5 0.5,4 0.5,-6.3 0.5,7.3 0.5,-2.3 0.5,1.9 0.5,0.3 0.5,1.4 0.5,-1.6 0.5,-1.3 0.5,2.1 0.5,-4.6 0.5,-1 0.4,7.6 0.5,-6.4 0.5,1.7 0.5,-0.1 0.5,-6 0.5,3.4 0.5,2.4 0.5,0.4 0.5,6.4 0.5,-8 0.5,4.1 0.5,-2.4 0.5,0.2 0.5,-2.3 0.5,-2.9 0.5,2.8 0.5,-0.8 0.5,4.1 0.5,-1.8 0.5,0.1 0.5,5 0.5,-9.4 0.5,7.5 0.5,1.5 0.5,-7.8 0.5,-1.3 0.5,7.6 0.5,-0.2 0.5,-8.7 0.5,6.7 0.5,5.7 0.5,-3.7 0.5,-7 0.5,3.6 0.5,-0.2 0.5,-1.3 0.5,1.5 0.5,2.7 0.5,3.5 0.5,-5.5 0.5,0.3 0.5,1 0.5,-6.4 0.5,4.9 0.5,-4.4 0.5,5.6 0.5,-1.8 0.5,-0.5 0.5,6.1 0.5,-4.1 0.5,3.3 0.5,-5.2 0.5,4.5 0.5,-0.2 0.5,3.8 0.5,-3.5 0.5,-6.5 0.5,4.6 0.5,2.1 0.5,-0.8 0.5,-1.2 0.5,0 0.5,0.7 0.5,1.1 0.4,-3.8 0.5,-2.5 0.5,5.4 0.5,0.3 0.5,-4.7 0.5,7.2 0.5,-2.4 0.5,-0.6 0.5,1 0.5,-1.3 0.5,1.7 0.5,-3.2 0.5,4 0.5,1.5 0.5,0.8 0.5,-7.5 0.5,6.7 0.5,-5.9 0.5,-0.6 0.5,-0.4 0.5,2.7 0.5,1 0.5,-1.7 0.5,1.8 0.5,3.5 0.5,-8.5 0.5,2 0.5,-3.5 0.5,3.5 0.5,2.6 0.5,-2.4 0.5,-2.1 0.5,7 0.5,-1.2 0.5,0.3 0.5,-3.9 0.5,0 0.5,1 0.5,2.1 0.5,-0.6 0.5,-4.6 0.5,0.2 0.5,2.6 0.5,3.9 0.5,-5.2 0.5,0.9 0.5,0.1 0.5,-4 0.5,2.5 0.5,4.8 0.5,0 0.5,-6.3 0.5,3.1 0.5,-1.8 0.5,2.7 0.5,2.3 0.5,-3.5 0.5,-3.5 0.5,3.3 0.5,4 0.5,-2.2 0.5,0.5 0.5,-1.9 0.5,-2.3 0.4,-2.6 0.5,4.7 0.5,1.8 0.5,-1.4 0.5,0.2 0.5,1.2 0.5,-1.2 0.5,0 0.5,3.2 0.5,-4.6 0.5,2.4 0.5,1.7 0.5,-4 0.5,2.7 0.5,-6.1 0.5,3.5 0.5,1 0.5,2.3 0.5,-0.9 0.5,-3.4 0.5,4.7 0.5,-4.5 0.5,8.9 0.5,-5.4 0.5,-3.6 0.5,1.3 0.5,0.9 0.5,-2.7 0.5,5 0.5,-0.8 0.5,-1.8 0.5,-3 0.5,2.1 0.5,1.7 0.5,-1.3 0.5,2.1 0.5,2.1 0.5,3.8 0.5,-4.4 0.5,1.2 0.5,-2.5 0.5,1.7 0.5,-0.9 0.5,-3.5 0.5,0.9 0.5,0.3 0.5,-4.5 0.5,5.7 0.5,-0.2 0.5,-4.5 0.5,6.4 0.5,1.4 0.5,-11.2 0.5,5.9 0.5,-0.7 0.5,-0.1 0.5,-0.8 0.5,3.8 0.5,-1.1 0.5,2.8 0.5,-7.2 0.5,3.5 0.5,1.9 0.5,-3.1 0.4,-4.9 0.5,9.8 0.5,-5.3 0.5,-0.4 0.5,-0.3 0.5,5 0.5,-5.4 0.5,1.5 0.5,2.1 0.5,0.5 0.5,-1.6 0.5,-1.8 0.5,0.1 0.5,-3.8 0.5,5.3 0.5,-0.8 0.5,2.8 0.5,-3.3 0.5,1.8 0.5,1.9 0.5,2 0.5,-1.5 0.5,-2.8 0.5,-3.3 0.5,1.9 0.5,5.3 0.5,-1.9 0.5,-1.4 0.5,0.4 0.5,-0.4 0.5,-1.9 0.5,1.5 0.5,2.5 0.5,3.3 0.5,-4.2 0.5,3.6 0.5,-4.1 0.5,-1.3 0.5,4.5 0.5,-3.2 0.5,0.6 0.5,-7.9 0.5,5.8 0.5,6.3 0.5,-6.3 0.5,0.1 0.5,1.7 0.5,0.5 0.5,-2.7 0.5,-0.1 0.5,0.6 0.5,3.9 0.5,-0.9 0.5,2.4 0.5,-0.2 0.5,-2.5 0.5,1.3 0.5,-1.7 0.5,-7.8 0.5,5.4 0.5,3.7 0.5,3.5 0.5,-7.6 0.5,5.6 0.4,2.1 0.5,-12 0.5,7.3 0.5,-2.5 0.5,-6.1 0.5,6.6 0.5,0.4 0.5,-0.6 0.5,-0.7 0.5,3.8 0.5,-1.7 0.5,-3.6 0.5,3.8 0.5,2.9 0.5,-0.3 0.5,-0.9 0.5,-2.5 0.5,-1.3 0.5,0 0.5,-2 0.5,3.8 0.5,-3.8 0.5,2.3 0.5,-1.1 0.5,6.9 0.5,-8.4 0.5,7.5 0.5,-1.1 0.5,-5.2 0.5,6.1 0.5,-8.8 0.5,4.3 0.5,3.2" stroke="#f29a9c" stroke-width="0.9" fill="none" stroke-linejoin="round" opacity="0.8"/>
<path d="M596.7,1085.2l1.5,7.9 1.5,6.8 1.5,4.9 1.5,3.5 1.5,3.1 1.5,2.3 1.5,1.4 1.5,-0.2 1.5,-2.3 1.5,-3.8 1.5,-4.4 1.5,-4.3 1.5,-5.1 1.5,-6.4 1.5,-6.7 1.5,-6 1.5,-4.2 1.5,-1.5 1.5,1.3 1.5,3.2 1.5,4.2 1.5,4.5 1.5,4.5 1.5,5.9 1.5,6.3 1.5,5.1 1.5,2.6 1.5,1.1 1.5,0.9 1.5,0.6 1.5,0.3 1.5,-0.1 1.5,-0.7 1.5,-1.2 1.5,-1.5 1.5,-1.7 1.5,-1.7 1.4,-1.6 1.5,-1.7 1.5,-1.9 1.5,-2.1 1.5,-2.3 1.5,-2.4 1.5,-2.7 1.5,-2.9 1.5,-4.2 1.5,-5.4 1.5,-5.8 1.5,-5.1 1.5,-3.5 1.5,-1 1.5,0.4 1.5,0.9 1.5,1.3 1.5,1.4 1.5,1.9 1.5,3.1 1.5,3.5 1.5,2.9 1.5,1.2 1.5,0.3 1.5,0.2 1.5,0.2 1.5,0.2 1.5,0.2 1.5,0.4 1.5,1.1 1.5,1.8 1.5,2.1 1.5,2.2 1.5,2 1.5,1.5 1.5,1.4 1.5,1.3 1.5,1.3 1.5,0.9 1.5,0.7 1.5,0.1 1.5,-0.7 1.5,-1.2 1.5,-1.7 1.5,-2 1.5,-2.6 1.5,-4.3 1.5,-5.1 1.5,-5 1.5,-3.9 1.5,-2 1.5,0.6 1.5,2.1 1.5,2.9 1.5,3 1.5,2.7 1.5,2.9 1.5,3.1 1.5,2.4 1.5,1.3 1.5,-1.2 1.5,-3.8 1.5,-5.3 1.5,-5.6 1.5,-4.4 1.5,-2.2 1.5,1 1.5,3.2 1.5,4.3 1.5,4.3 1.5,3.3 1.5,3.5 1.5,3.4 1.5,2.7 1.5,1.3 1.4,-1.2 1.5,-3.3 1.5,-4 1.5,-2.9 1.5,-0.5 1.5,1.4 1.5,2.5 1.5,3.1 1.5,3.4 1.5,3 1.5,2.4 1.5,2.4 1.5,2.5 1.5,2.2 1.5,2 1.5,1.5 1.5,0.9 1.5,0.5 1.5,0.5 1.5,0.4 1.5,0.4 1.5,0.5 1.5,0.7 1.5,1.1 1.5,1.4 1.5,1.5 1.5,1.7 1.5,1.6 1.5,1.5 1.5,1.3 1.5,1.2 1.5,1.2 1.5,1.1 1.5,1 1.5,1 1.5,0.9 1.5,0.8 1.5,0.7 1.5,0.6 1.5,0.6 1.5,0.5 1.5,0.5 1.5,0.4 1.5,0.5 1.5,0.4 1.5,0.5 1.5,0.4 1.5,0.6 1.5,0.5 1.5,0.6 1.5,0.5 1.5,0.5 1.5,0.4 1.5,0.3 1.5,0.1 1.5,0 1.5,0 1.5,0 1.5,0 1.5,0 1.5,0 1.5,0 1.5,0 1.5,0 1.5,0 1.5,0 1.5,0 1.5,0 1.5,0 1.5,0 1.5,0 1.5,0 1.5,0 1.5,0 1.4,0 1.5,0 1.5,0 1.5,0 1.5,0 1.5,0 1.5,0 1.5,0 1.5,0 1.5,0.1 1.5,0 1.5,0 1.5,0 1.5,0 1.5,0 1.5,0.1 1.5,0 1.5,0 1.5,0.1 1.5,0 1.5,0 1.5,0.1 1.5,0 1.5,0 1.5,0.1 1.5,0 1.5,0.1 1.5,0 1.5,0 1.5,0.1 1.5,0 1.5,0 1.5,0 1.5,0.1 1.5,0 1.5,0 1.5,0 1.5,0 1.5,0 1.5,0 1.5,0 1.5,0 1.5,0 1.5,0 1.5,0 1.5,0 1.5,0 1.5,0 1.5,0 1.5,0 1.5,0 1.5,0 1.5,0 1.5,0 1.5,0 1.5,0 1.5,0 1.5,0 1.5,0 1.5,0 1.5,0 1.5,0 1.5,0 1.5,0 1.5,0 1.5,0 1.5,0 1.5,0 1.5,0 1.5,0 1.5,0 1.5,0 1.5,0 1.5,0 1.5,0 1.4,0 1.5,0 1.5,-0.1 1.5,0 1.5,0 1.5,0 1.5,0 1.5,0 1.5,0 1.5,0 1.5,-0.1 1.5,0 1.5,0 1.5,0 1.5,0 1.5,0 1.5,-0.1 1.5,0 1.5,0 1.5,0 1.5,0 1.5,-0.1 1.5,0 1.5,0 1.5,0 1.5,-0.1 1.5,0 1.5,0 1.5,0 1.5,0 1.5,-0.1 1.5,0 1.5,0 1.5,0 1.5,-0.1 1.5,0 1.5,0 1.5,-0.1" stroke="#dc2a2e" stroke-width="2.4" fill="none" stroke-linejoin="round"/>
<path d="M596.7,1161.7l0.5,-3 0.5,12.2 0.5,-8 0.5,-4.2 0.5,-1.8 0.5,1.3 0.5,-3.2 0.5,2.9 0.5,-1.5 0.5,0.5 0.5,3.2 0.5,-1.3 0.5,-4.2 0.5,2.3 0.5,-6 0.5,-0.5 0.5,-1.9 0.5,5.1 0.5,-4.5 0.5,6.6 0.5,-2.1 0.5,-1.5 0.5,-0.9 0.5,5.4 0.5,0.1 0.5,-6.5 0.5,3.4 0.5,-6.5 0.5,2.2 0.5,0 0.5,-2.4 0.5,0.2 0.4,3 0.5,-4 0.5,4.7 0.5,-1.1 0.5,1.3 0.5,-4 0.5,1.5 0.5,2.6 0.5,-8.6 0.5,7 0.5,1.2 0.5,-3.6 0.5,-4 0.5,5.7 0.5,-2.5 0.5,2 0.5,4.7 0.5,-6.7 0.5,-0.5 0.5,3.9 0.5,-0.5 0.5,4.7 0.5,0.3 0.5,-3.2 0.5,-2.8 0.5,3.6 0.5,-2.1 0.5,-1.7 0.5,2.9 0.5,-1.2 0.5,-2.4 0.5,8.4 0.5,-5.7 0.5,7.9 0.5,-6.5 0.5,1 0.5,2.5 0.5,1.9 0.5,-2.8 0.5,1.4 0.5,-5.4 0.5,7.6 0.5,-3.9 0.5,5.1 0.5,-1.8 0.5,0.7 0.5,-4.6 0.5,8.7 0.5,-2.9 0.5,-4.4 0.5,5.9 0.5,2.6 0.5,-4.7 0.5,2 0.5,-3 0.5,5.5 0.5,-3.1 0.5,-1.2 0.5,-0.9 0.5,6.6 0.5,-7.5 0.5,7.1 0.5,1.9 0.5,-1.7 0.4,-3.3 0.5,1.5 0.5,-2.3 0.5,-0.1 0.5,0.6 0.5,1.7 0.5,-6.2 0.5,12.2 0.5,-1.5 0.5,-3.6 0.5,2.3 0.5,3.9 0.5,-5.3 0.5,-0.1 0.5,5.1 0.5,-9.9 0.5,-1.3 0.5,0.2 0.5,5.3 0.5,-2 0.5,0.8 0.5,-0.9 0.5,2.7 0.5,-3.3 0.5,2.3 0.5,-4 0.5,0.5 0.5,-1.2 0.5,8.5 0.5,0.7 0.5,-6.7 0.5,3 0.5,-3 0.5,0.3 0.5,0.4 0.5,-2.2 0.5,1.1 0.5,0.2 0.5,4.1 0.5,-7.8 0.5,4.8 0.5,-3 0.5,2.4 0.5,-2.9 0.5,3.4 0.5,-0.2 0.5,0.2 0.5,2.6 0.5,-0.4 0.5,-1.3 0.5,-0.1 0.5,2.6 0.5,-10 0.5,10 0.5,-2 0.5,-8.3 0.5,9.3 0.5,-4.3 0.5,0.4 0.5,2.6 0.5,3.6 0.5,0.4 0.5,-4.6 0.5,-1.3 0.4,7.7 0.5,-6.9 0.5,2.4 0.5,-4.6 0.5,2.1 0.5,3 0.5,-1.2 0.5,-1.4 0.5,-3.9 0.5,-3.8 0.5,9.5 0.5,-2 0.5,-1.8 0.5,2 0.5,-2 0.5,0.7 0.5,1.2 0.5,2.4 0.5,-2.9 0.5,-2.2 0.5,2.4 0.5,-4.5 0.5,1.5 0.5,3 0.5,-6 0.5,8.2 0.5,-7.3 0.5,-2.6 0.5,5.9 0.5,-1 0.5,-8.4 0.5,2.6 0.5,2.4 0.5,0 0.5,-2.6 0.5,1.4 0.5,3.8 0.5,-3.6 0.5,-1 0.5,3.9 0.5,3.1 0.5,-6 0.5,-4.8 0.5,6.5 0.5,-4.2 0.5,3.8 0.5,-8.3 0.5,0 0.5,-0.5 0.5,0 0.5,1.7 0.5,0.1 0.5,10.2 0.5,-8.4 0.5,2.5 0.5,-0.5 0.5,2.8 0.5,-7.5 0.5,3.5 0.5,5 0.5,-5.9 0.5,1.8 0.5,3.1 0.5,-2.2 0.4,1.6 0.5,4.6 0.5,-2.2 0.5,-6 0.5,0.6 0.5,0.3 0.5,4.4 0.5,-1.6 0.5,1.9 0.5,-5.7 0.5,4.6 0.5,0.7 0.5,-6.6 0.5,3.2 0.5,1.4 0.5,1 0.5,-5.5 0.5,-1.7 0.5,5.4 0.5,0.2 0.5,2.3 0.5,-9.1 0.5,0.1 0.5,0.8 0.5,0.8 0.5,7.8 0.5,-1.5 0.5,-6.5 0.5,2.2 0.5,-2 0.5,2 0.5,0 0.5,-4.8 0.5,3.4 0.5,-1.6 0.5,-1.1 0.5,-0.2 0.5,-3 0.5,-0.9 0.5,8 0.5,-3.5 0.5,0.9 0.5,-4.3 0.5,5.4 0.5,-5.6 0.5,0.2 0.5,5.2 0.5,-0.1 0.5,-2.3 0.5,2.6 0.5,-4.4 0.5,-1.7 0.5,7.5 0.5,-2.1 0.5,-1.9 0.5,1.1 0.5,-6 0.5,4.9 0.5,-1.1 0.5,4.1 0.5,-7.9 0.5,4.2 0.5,-1.8 0.5,2.1 0.4,6.7 0.5,-1.5 0.5,-0.8 0.5,-5.3 0.5,3.1 0.5,-2.8 0.5,0.5 0.5,0.2 0.5,-1.9 0.5,2.3 0.5,5.6 0.5,-2.9 0.5,-6.9 0.5,8.3 0.5,-7.2 0.5,-0.8 0.5,6.9 0.5,-2.8 0.5,5.4 0.5,-6.4 0.5,4.7 0.5,1.7 0.5,-2.6 0.5,0.3 0.5,0.5 0.5,-2.2 0.5,1.2 0.5,1.6 0.5,-4.6 0.5,-4.2 0.5,3 0.5,6.9 0.5,1.2 0.5,-4.4 0.5,2.9 0.5,-0.4 0.5,6.4 0.5,-11.5 0.5,9.7 0.5,-5.9 0.5,11 0.5,-0.1 0.5,-8.6 0.5,-1.7 0.5,-0.3 0.5,12 0.5,-8.2 0.5,-1.8 0.5,0.6 0.5,2.5 0.5,4.7 0.5,-4.1 0.5,-0.4 0.5,-2.8 0.5,-0.5 0.5,-1.8 0.5,1.3 0.5,5.6 0.5,-1.2 0.5,-2.1 0.5,-1.9 0.5,2.6 0.5,-4.8 0.5,4.9 0.5,1.5 0.4,-3.2 0.5,1.9 0.5,1.1 0.5,1.4 0.5,-8.6 0.5,1.5 0.5,7.5 0.5,-7.4 0.5,-0.2 0.5,4.1 0.5,-2.6 0.5,-5.1 0.5,6 0.5,-0.3 0.5,-1.9 0.5,6.6 0.5,0.8 0.5,0.6 0.5,-3.8 0.5,-2.7 0.5,5.3 0.5,1.7 0.5,-4.7 0.5,1.8 0.5,-2.8 0.5,2.3 0.5,0.2 0.5,-0.3 0.5,-0.3 0.5,2.9 0.5,0.4 0.5,-8.2 0.5,-3.1 0.5,4.1 0.5,8 0.5,-5.3 0.5,-3.8 0.5,8.2 0.5,-3.8 0.5,-0.6 0.5,1.2 0.5,-0.6 0.5,-6 0.5,4.1 0.5,-1.1 0.5,-6.2 0.5,7.4 0.5,2.9 0.5,-8.1 0.5,-4.3 0.5,5.1 0.5,-0.5 0.5,4.7 0.5,-1.2 0.5,-2.6 0.5,-4.1 0.5,2 0.5,3.7 0.5,1.8 0.5,-0.4 0.5,0.6 0.5,-5.2 0.5,4.4 0.5,-0.7 0.4,-3.3 0.5,-3.2 0.5,5.6 0.5,-0.9 0.5,1.7 0.5,6.2 0.5,-5.2 0.5,1.4 0.5,0.1 0.5,-1.4 0.5,2.9 0.5,-5 0.5,4.7 0.5,-0.6 0.5,0 0.5,2.1 0.5,-1.6 0.5,0.6 0.5,1.5 0.5,5.3 0.5,1.8 0.5,0.5 0.5,-0.5 0.5,7 0.5,-1.8 0.5,2.2 0.5,-0.3 0.5,1.8 0.5,-9.6 0.5,7.6 0.5,-0.4 0.5,7 0.5,0.5 0.5,-0.3 0.5,-4.8 0.5,1.6 0.5,7.1 0.5,-2.9 0.5,-3.9 0.5,10 0.5,-2.2 0.5,-4.3 0.5,1.8 0.5,5.3 0.5,-7.5 0.5,1.7 0.5,0.9 0.5,5.9 0.5,-3.2 0.5,-4.4 0.5,2.6 0.5,-6.3 0.5,8.6 0.5,-5.3 0.5,5 0.5,-1.8 0.5,1 0.5,2 0.5,-3.7 0.5,4.2 0.5,-0.8 0.5,-1.3 0.5,2.4 0.5,0.7 0.4,-2.5 0.5,0.5 0.5,-0.2 0.5,-1.1 0.5,-3.1 0.5,4.6 0.5,-4.2 0.5,3.4 0.5,0.7 0.5,3.8 0.5,-1.5 0.5,-2.5 0.5,-0.4 0.5,2.3 0.5,-1.6 0.5,-0.8 0.5,3.9 0.5,0.2 0.5,-0.9 0.5,-0.9 0.5,-2.4 0.5,1.1 0.5,2.7 0.5,-1.4 0.5,0.6 0.5,-0.4 0.5,-1.5 0.5,-0.2 0.5,2.8 0.5,0.2 0.5,0.2 0.5,-0.2 0.5,-0.1 0.5,-0.3 0.5,0.5 0.5,0.9 0.5,0.1 0.5,-1.9 0.5,-3.6 0.5,2.7 0.5,-0.2 0.5,0.3 0.5,0.7 0.5,-3.4 0.5,3.3 0.5,0.9 0.5,0.2 0.5,-2.3 0.5,1.6 0.5,-0.3 0.5,-0.1 0.5,0.5 0.5,-2.3 0.5,2.6 0.5,-6 0.5,7.2 0.5,-1.8 0.5,-2.2 0.5,-0.6 0.5,1.2 0.5,-1 0.5,0.2 0.5,0.1 0.5,-0.7 0.4,0.5 0.5,0.5 0.5,0.1 0.5,-1.6 0.5,1.6 0.5,-1.1 0.5,-1.5 0.5,1.8 0.5,-1.3 0.5,2.5 0.5,-1.1 0.5,0.7 0.5,-0.6 0.5,-0.4 0.5,-1.4 0.5,2.6 0.5,0.5 0.5,-1.5 0.5,2.7 0.5,-2.1 0.5,-1.9 0.5,1.9 0.5,-0.3 0.5,-0.3 0.5,-1.3 0.5,2.1 0.5,-0.6 0.5,4.2 0.5,-3.1 0.5,-1.8 0.5,1.3 0.5,0.9 0.5,-2.5 0.5,2.7 0.5,-0.8 0.5,-1.6 0.5,1.9 0.5,-1.1 0.5,0.3 0.5,1.8 0.5,-1 0.5,-0.2 0.5,0.4 0.5,-2.6 0.5,1.7 0.5,0.9 0.5,1.1 0.5,-1.6 0.5,-2.4 0.5,2.4 0.5,-1.6 0.5,0.5 0.5,1.4 0.5,0.7 0.5,-2.3 0.5,4.6 0.5,-4.6 0.5,2.6 0.5,-3.1 0.5,1.9 0.5,-0.4 0.5,-1.8 0.5,3.1 0.5,-1.6 0.5,0.6 0.4,-4.5 0.5,2.9 0.5,0.7 0.5,0.1 0.5,0.9 0.5,-1.5 0.5,1.3 0.5,-0.6 0.5,-0.1 0.5,2.3 0.5,-0.3 0.5,-2 0.5,0.3 0.5,-1.9 0.5,5.5 0.5,-3.9 0.5,-1.3 0.5,1.5 0.5,0.6 0.5,-0.5 0.5,0.1 0.5,-1.5 0.5,3.3 0.5,0.1 0.5,-2.7 0.5,0.5 0.5,0 0.5,-2.6 0.5,1.8 0.5,1.7 0.5,-1.4 0.5,0.2 0.5,2.2 0.5,-1.5 0.5,-0.6 0.5,1.6 0.5,-2.8 0.5,2 0.5,-1.6 0.5,-1 0.5,4.4 0.5,-0.3 0.5,-2.8 0.5,1.1 0.5,-1 0.5,-1.8 0.5,3.3 0.5,-2 0.5,1.6 0.5,0.6 0.5,-1.7 0.5,0.4 0.5,-1.3 0.5,1.2 0.5,-0.9 0.5,0.6 0.5,3.3 0.5,-2 0.5,-0.1 0.5,-3.6 0.5,4.7 0.5,-1.8 0.5,0.9 0.5,2.1 0.4,-0.9 0.5,-2.8 0.5,1.5 0.5,-1.9 0.5,0.8 0.5,0.1 0.5,1.3 0.5,-0.5 0.5,-1 0.5,0.7 0.5,3.8 0.5,-3.4 0.5,-0.9 0.5,-1 0.5,0.4 0.5,5.3 0.5,-5 0.5,3.5 0.5,-1.4 0.5,-2.8 0.5,-0.3 0.5,1.3 0.5,0.6 0.5,1.4 0.5,-2.7 0.5,2.2 0.5,0 0.5,-1.9 0.5,2.2 0.5,-1.3 0.5,3.9 0.5,-3.8 0.5,3.4 0.5,-3.1 0.5,0.3 0.5,-3.3 0.5,0.3 0.5,7.3 0.5,-4.4 0.5,1.3 0.5,-1.6 0.5,0.7 0.5,0.3 0.5,1 0.5,-1.9 0.5,0.7 0.5,2.8 0.5,-3.8 0.5,2.5 0.5,-2.2 0.5,3.2 0.5,-2.4 0.5,1 0.5,-1.4 0.5,-0.7 0.5,2.5 0.5,-0.8 0.5,-0.1 0.5,-1.8 0.5,4.1 0.5,-2.8 0.5,0.9 0.5,1.8 0.5,-1.3 0.4,0.5 0.5,-2.6 0.5,3.1 0.5,-3 0.5,2.2 0.5,-1.7 0.5,3.6 0.5,-1.4 0.5,-1.4 0.5,1.6 0.5,0.9 0.5,-2.3 0.5,-1.2 0.5,-1.6 0.5,3.1 0.5,0.7 0.5,-0.4 0.5,-2.1 0.5,-0.2 0.5,3.5 0.5,-3.5 0.5,0.5 0.5,0.6 0.5,-0.6 0.5,-2.4 0.5,0.5 0.5,0.4 0.5,2.8 0.5,-2.4 0.5,4.5 0.5,-3.9 0.5,0.3 0.5,-0.4 0.5,2.8 0.5,-3.6 0.5,0.2 0.5,1.6 0.5,2.4 0.5,-2.6 0.5,1.7 0.5,1.1 0.5,-1.3 0.5,-4.6 0.5,5.7 0.5,-1.7 0.5,-0.8 0.5,-1.2 0.5,2.9 0.5,0 0.5,0.2 0.5,-2.2 0.5,-1.4 0.5,3.6 0.5,-1.6 0.5,-1.6 0.5,1.2 0.5,1.8 0.5,-1.9 0.5,3 0.5,-1.7 0.5,-2.3 0.5,-0.2 0.5,0.7 0.5,-0.5 0.4,3.3 0.5,-1.3 0.5,-2.5 0.5,-1.9 0.5,2.7 0.5,2 0.5,0.1 0.5,-3.3 0.5,-1.2 0.5,4.8 0.5,-2 0.5,-1.9 0.5,-0.1 0.5,2.9 0.5,-0.5 0.5,-1 0.5,2.3 0.5,0.8 0.5,-1.4 0.5,-2.9 0.5,0.2 0.5,0.9 0.5,2.5 0.5,1.2 0.5,-1.4 0.5,-1.6 0.5,-1.5 0.5,2.9 0.5,-1.4 0.5,2.8 0.5,0.4 0.5,-3.1 0.5,1.8 0.5,-0.2 0.5,1.8 0.5,-6.2 0.5,5.5 0.5,-2.7 0.5,2.3 0.5,-1.7 0.5,-2.5 0.5,1.6 0.5,0.2 0.5,-1.2 0.5,0.6 0.5,-1.3 0.5,4.3 0.5,-6.3 0.5,4 0.5,0.5 0.5,-1.3 0.5,0.1 0.5,0.8 0.5,-1.3 0.5,3.2 0.5,0.5 0.5,-1.6 0.5,-3.7 0.5,2 0.5,0.8 0.5,1 0.5,-1 0.5,-1.7 0.5,2.5 0.4,0.1 0.5,-1.6 0.5,-0.3 0.5,0.8 0.5,-2.1 0.5,2 0.5,1.7 0.5,1.9 0.5,-0.5 0.5,-2.6 0.5,-3 0.5,2 0.5,-1.3 0.5,0.5 0.5,0 0.5,1.1 0.5,0.7 0.5,2 0.5,-1.1 0.5,-1.8 0.5,-1 0.5,0.5 0.5,0.8 0.5,4.2 0.5,-5.2 0.5,2.3 0.5,-0.4 0.5,-1.3 0.5,-2.6 0.5,0.5 0.5,1.2 0.5,3 0.5,-1.1" stroke="#9c9cf0" stroke-width="0.9" fill="none" stroke-linejoin="round" opacity="0.8"/>
<path d="M596.7,1164.8l1.5,-2.3 1.5,-2.3 1.5,-2.1 1.5,-1.9 1.5,-1.5 1.5,-1.1 1.5,-1 1.5,-0.8 1.5,-0.8 1.5,-0.8 1.5,-0.6 1.5,-0.6 1.5,-0.4 1.5,-0.2 1.5,-0.1 1.5,0.2 1.5,0.4 1.5,0.5 1.5,0.7 1.5,0.8 1.5,0.8 1.5,0.8 1.5,0.8 1.5,1 1.5,1.1 1.5,1.2 1.5,1.2 1.5,1.1 1.5,0.9 1.5,0.8 1.5,0.4 1.5,0.2 1.5,0.1 1.5,0.1 1.5,0 1.5,0.1 1.5,0.1 1.4,0 1.5,0.1 1.5,0 1.5,0.1 1.5,0 1.5,0 1.5,0 1.5,0 1.5,0 1.5,0 1.5,0 1.5,0 1.5,0 1.5,0 1.5,0 1.5,0 1.5,0 1.5,0 1.5,0 1.5,0 1.5,0 1.5,0 1.5,0 1.5,-0.5 1.5,-1 1.5,-1.5 1.5,-1.7 1.5,-1.8 1.5,-1.6 1.5,-1.3 1.5,-0.9 1.5,-0.2 1.5,0.1 1.5,0.1 1.5,0.2 1.5,0.2 1.5,0.2 1.5,0.2 1.5,0.2 1.5,0.1 1.5,0.2 1.5,0 1.5,-0.1 1.5,-0.4 1.5,-0.8 1.5,-0.9 1.5,-1 1.5,-1.1 1.5,-1 1.5,-0.9 1.5,-0.8 1.5,-0.4 1.5,-0.1 1.5,0 1.5,0.1 1.5,0.1 1.5,0.1 1.5,0.2 1.5,0.1 1.5,0.2 1.5,0.3 1.5,0.2 1.5,0.3 1.5,0.2 1.5,0.3 1.5,0.4 1.5,0.3 1.5,0.4 1.5,0.6 1.5,1 1.5,1.1 1.5,1.1 1.5,1 1.5,0.7 1.5,0.3 1.4,0 1.5,-0.2 1.5,-0.3 1.5,-0.3 1.5,-0.3 1.5,-0.2 1.5,-0.1 1.5,-0.1 1.5,0.2 1.5,0.4 1.5,0.4 1.5,0.4 1.5,0.5 1.5,0.3 1.5,0.1 1.5,-0.2 1.5,-0.6 1.5,-0.9 1.5,-1.1 1.5,-1.1 1.5,-1.1 1.5,-0.9 1.5,-0.6 1.5,-0.3 1.5,0.1 1.5,0.4 1.5,0.6 1.5,0.8 1.5,1 1.5,1.2 1.5,1.2 1.5,1.6 1.5,2.9 1.5,3.8 1.5,4 1.5,3.4 1.5,3.3 1.5,3.4 1.5,3 1.5,2 1.5,0.5 1.5,0.3 1.5,0.2 1.5,0.2 1.5,0.1 1.5,0.1 1.5,0.1 1.5,0.1 1.5,0.2 1.5,0.2 1.5,0.3 1.5,0.3 1.5,0.4 1.5,0.4 1.5,0.4 1.5,0.3 1.5,0.3 1.5,0.3 1.5,0.1 1.5,0.1 1.5,-0.1 1.5,-0.3 1.5,-0.4 1.5,-0.5 1.5,-0.4 1.5,-0.4 1.5,-0.1 1.5,-0.1 1.5,0 1.5,0 1.5,0 1.5,0 1.5,0 1.5,0 1.4,0 1.5,0 1.5,0 1.5,0 1.5,0 1.5,0 1.5,0 1.5,0 1.5,0 1.5,0 1.5,0 1.5,0 1.5,0 1.5,0 1.5,0 1.5,0 1.5,0 1.5,0 1.5,0 1.5,0 1.5,0 1.5,0 1.5,0 1.5,0 1.5,0 1.5,0 1.5,0 1.5,0 1.5,0 1.5,0 1.5,0 1.5,0 1.5,0 1.5,0 1.5,0 1.5,0 1.5,0 1.5,0 1.5,0 1.5,0.1 1.5,0 1.5,0.1 1.5,0.1 1.5,0.1 1.5,0.1 1.5,0.2 1.5,0.1 1.5,0.1 1.5,0.2 1.5,0.1 1.5,0.2 1.5,0.1 1.5,0.2 1.5,0.1 1.5,0.1 1.5,0.1 1.5,0.1 1.5,0.1 1.5,0.1 1.5,0 1.5,0 1.5,0 1.5,0 1.5,-0.1 1.5,0 1.5,0 1.5,-0.1 1.5,0 1.5,-0.1 1.5,-0.1 1.5,0 1.5,-0.1 1.5,-0.1 1.5,0 1.5,-0.1 1.4,-0.1 1.5,-0.1 1.5,0 1.5,-0.1 1.5,-0.1 1.5,-0.1 1.5,0 1.5,-0.1 1.5,0 1.5,-0.1 1.5,0 1.5,-0.1 1.5,0 1.5,0 1.5,0 1.5,0 1.5,0 1.5,0 1.5,0 1.5,0 1.5,0 1.5,0 1.5,0 1.5,0 1.5,0 1.5,0 1.5,0 1.5,0 1.5,0 1.5,0 1.5,0 1.5,0 1.5,0 1.5,0 1.5,0 1.5,0 1.5,0 1.5,0" stroke="#2224cc" stroke-width="2.4" fill="none" stroke-linejoin="round"/>
<rect x="596.7" y="882.3" width="448.1" height="360.7" fill="none" stroke="#222" stroke-width="1.6"/>
<line x1="591.2" y1="1243.0" x2="596.7" y2="1243.0" stroke="#222" stroke-width="1.6"/>
<text x="585.7" y="1251.3" font-size="24" text-anchor="end">0</text>
<line x1="591.2" y1="1182.9" x2="596.7" y2="1182.9" stroke="#222" stroke-width="1.6"/>
<text x="585.7" y="1191.2" font-size="24" text-anchor="end">4</text>
<line x1="591.2" y1="1122.8" x2="596.7" y2="1122.8" stroke="#222" stroke-width="1.6"/>
<text x="585.7" y="1131.0" font-size="24" text-anchor="end">8</text>
<line x1="591.2" y1="1062.7" x2="596.7" y2="1062.7" stroke="#222" stroke-width="1.6"/>
<text x="585.7" y="1070.9" font-size="24" text-anchor="end">12</text>
<line x1="591.2" y1="1002.5" x2="596.7" y2="1002.5" stroke="#222" stroke-width="1.6"/>
<text x="585.7" y="1010.8" font-size="24" text-anchor="end">16</text>
<line x1="591.2" y1="942.4" x2="596.7" y2="942.4" stroke="#222" stroke-width="1.6"/>
<text x="585.7" y="950.7" font-size="24" text-anchor="end">20</text>
<line x1="591.2" y1="882.3" x2="596.7" y2="882.3" stroke="#222" stroke-width="1.6"/>
<text x="585.7" y="890.6" font-size="24" text-anchor="end">24</text>
<line x1="593.7" y1="1212.9" x2="596.7" y2="1212.9" stroke="#222" stroke-width="1.4"/>
<line x1="593.7" y1="1152.8" x2="596.7" y2="1152.8" stroke="#222" stroke-width="1.4"/>
<line x1="593.7" y1="1092.7" x2="596.7" y2="1092.7" stroke="#222" stroke-width="1.4"/>
<line x1="593.7" y1="1032.6" x2="596.7" y2="1032.6" stroke="#222" stroke-width="1.4"/>
<line x1="593.7" y1="972.5" x2="596.7" y2="972.5" stroke="#222" stroke-width="1.4"/>
<line x1="593.7" y1="912.4" x2="596.7" y2="912.4" stroke="#222" stroke-width="1.4"/>
<line x1="596.7" y1="1243.0" x2="596.7" y2="1248.5" stroke="#222" stroke-width="1.6"/>
<line x1="708.7" y1="1243.0" x2="708.7" y2="1248.5" stroke="#222" stroke-width="1.6"/>
<line x1="820.8" y1="1243.0" x2="820.8" y2="1248.5" stroke="#222" stroke-width="1.6"/>
<line x1="932.8" y1="1243.0" x2="932.8" y2="1248.5" stroke="#222" stroke-width="1.6"/>
<line x1="1044.8" y1="1243.0" x2="1044.8" y2="1248.5" stroke="#222" stroke-width="1.6"/>
<line x1="652.7" y1="1243.0" x2="652.7" y2="1246.0" stroke="#222" stroke-width="1.4"/>
<line x1="764.7" y1="1243.0" x2="764.7" y2="1246.0" stroke="#222" stroke-width="1.4"/>
<line x1="876.8" y1="1243.0" x2="876.8" y2="1246.0" stroke="#222" stroke-width="1.4"/>
<line x1="988.8" y1="1243.0" x2="988.8" y2="1246.0" stroke="#222" stroke-width="1.4"/>
<text x="598.9" y="1278.9" font-size="25.8" text-anchor="middle">0</text>
<text x="710.3" y="1278.9" font-size="25.8" text-anchor="middle">50</text>
<text x="823.9" y="1278.9" font-size="25.8" text-anchor="middle">100</text>
<text x="934.4" y="1278.9" font-size="25.8" text-anchor="middle">150</text>
<text x="1032.6" y="1278.9" font-size="25.8" text-anchor="middle">200</text>
<line x1="596.7" y1="1243.0" x2="596.7" y2="1248.5" stroke="#222" stroke-width="1.6"/>
<text x="843.0" y="1303.4" font-size="28" text-anchor="middle">Time (ns)</text>
<text x="556.0" y="1058.6" font-size="27.7" text-anchor="middle" transform="rotate(-90 556.0 1058.6)">Distance (Å)</text>
<text x="819.3" y="1113.6" font-size="26.8" fill="#a8121c">R140-N198 (Gαq)</text>
<text x="819.3" y="1220.6" font-size="26.8" fill="#2340c0">R140-D193 (Gαi)</text>
<text x="0" y="0" font-size="61" font-weight="bold" fill="#000" transform="translate(1060.5,857.4) scale(1.0,1)">h</text>
<path d="M1138.3,1028.8l0.5,-3.9 0.5,5.6 0.4,6.1 0.5,-5.3 0.5,5.3 0.5,-13.9 0.4,-12.5 0.5,19.4 0.5,0.9 0.5,-12.5 0.4,1 0.5,2.4 0.5,10.9 0.5,-10.2 0.4,-8.1 0.5,21.8 0.5,-9.8 0.5,15.5 0.4,-6.8 0.5,5.8 0.5,-17.5 0.5,11.2 0.4,-16.7 0.5,1.3 0.5,3.7 0.5,25.4 0.5,-21.4 0.4,-5.2 0.5,-1.6 0.5,18 0.5,-11.3 0.4,5.6 0.5,-1.6 0.5,-20.1 0.5,20.4 0.4,-8.2 0.5,-9.7 0.5,16.1 0.5,1.1 0.4,-8.3 0.5,0.7 0.5,14.2 0.5,-14 0.4,-13.7 0.5,31.7 0.5,-26 0.5,-7.4 0.4,23.9 0.5,-28.5 0.5,13.6 0.5,21.4 0.5,-13.7 0.4,-5.4 0.5,8.5 0.5,-9.4 0.5,8.3 0.4,-7.9 0.5,-8.2 0.5,23 0.5,-9.4 0.4,7.4 0.5,-6.3 0.5,14.4 0.5,-6.5 0.4,-4.1 0.5,-11.7 0.5,-2.6 0.5,26.9 0.4,-5.6 0.5,-15.5 0.5,28.7 0.5,-16.5 0.4,-3.9 0.5,-14.7 0.5,6.2 0.5,11 0.4,0.5 0.5,-1.6 0.5,-19.8 0.5,20.5 0.5,-2.2 0.4,-8.2 0.5,14.1 0.5,-10.4 0.5,8.7 0.4,-13.2 0.5,3.4 0.5,-18.6 0.5,4.4 0.4,6.4 0.5,-8.4 0.5,10.3 0.5,-15.6 0.4,11.3 0.5,-6.4 0.5,20.7 0.5,-17 0.4,23 0.5,4.9 0.5,-11.6 0.5,-4.5 0.4,-3.3 0.5,-20.9 0.5,35 0.5,13.3 0.5,-21.3 0.4,-1.6 0.5,8.5 0.5,1.5 0.5,-6.8 0.4,0.4 0.5,17.2 0.5,-10.4 0.5,-1.4 0.4,11.4 0.5,-14.8 0.5,11.4 0.5,-20.7 0.4,7.6 0.5,0.2 0.5,6.4 0.5,-6.1 0.4,19.5 0.5,-10.4 0.5,-17 0.5,26.2 0.4,-32.9 0.5,27.6 0.5,-27.5 0.5,17.2 0.5,-17.6 0.4,7.2 0.5,18.3 0.5,-16 0.5,-15.4 0.4,16.9 0.5,2.9 0.5,-0.5 0.5,9.6 0.4,-21.6 0.5,18.7 0.5,-4.5 0.5,9 0.4,-0.9 0.5,8 0.5,-26.6 0.5,16.2 0.4,-11.3 0.5,11.2 0.5,8.4 0.5,-3.3 0.4,3.2 0.5,-5.6 0.5,4.6 0.5,-0.5 0.5,12 0.4,-6.1 0.5,-26.8 0.5,25.2 0.5,3.9 0.4,-15.4 0.5,-11.9 0.5,30.7 0.5,-13.9 0.4,4.3 0.5,11.9 0.5,-27.4 0.5,24.1 0.4,-17.4 0.5,8.8 0.5,17.9 0.5,-20.2 0.4,-4.1 0.5,10.8 0.5,1.7 0.5,-27.2 0.4,20.6 0.5,-8 0.5,4.3 0.5,5.3 0.5,1.5 0.4,-11.4 0.5,11 0.5,-0.7 0.5,-1 0.4,-11.6 0.5,6.3 0.5,-19.9 0.5,35.1 0.4,9.7 0.5,-24.6 0.5,-17.2 0.5,30.3 0.4,-6.9 0.5,-2.2 0.5,-0.3 0.5,-0.8 0.4,15 0.5,-21.5 0.5,29.6 0.5,-23.4 0.4,3.3 0.5,-14.9 0.5,-2 0.5,3.1 0.5,27.4 0.4,4.6 0.5,-28.6 0.5,18.5 0.5,-12.4 0.4,-10.7 0.5,25.5 0.5,3.5 0.5,-23.8 0.4,-2.4 0.5,1.8 0.5,-4.3 0.5,8.6 0.4,6 0.5,-15.5 0.5,7.9 0.5,6.7 0.4,-23.8 0.5,5.9 0.5,-5.1 0.5,15.1 0.4,-3.5 0.5,3.8 0.5,-1 0.5,-11.6 0.4,10.9 0.5,-12.1 0.5,0.5 0.5,-17.9 0.5,37.4 0.4,-24.3 0.5,11 0.5,-0.4 0.5,16.1 0.4,-9.6 0.5,-13.2 0.5,9.5 0.5,-1.3 0.4,4.6 0.5,-15.1 0.5,13.3 0.5,24.2 0.4,-15.7 0.5,14.8 0.5,7.9 0.5,-21.2 0.4,-18.7 0.5,15.5 0.5,14.9 0.5,-0.8 0.4,-20.6 0.5,12.4 0.5,3.1 0.5,2.9 0.5,15.5 0.4,-21.2 0.5,4.4 0.5,5.2 0.5,2.4 0.4,-2.9 0.5,14 0.5,-18.4 0.5,26.2 0.4,-11.9 0.5,-1.4 0.5,28.1 0.5,-46.9 0.4,2.8 0.5,20.8 0.5,-13.5 0.5,4.2 0.4,32.2 0.5,-31.1 0.5,3.3 0.5,-1.8 0.4,12.5 0.5,-8.9 0.5,25.1 0.5,-41.3 0.5,9.1 0.4,3.5 0.5,-16.8 0.5,22.4 0.5,-1.9 0.4,15.3 0.5,-36.9 0.5,6.5 0.5,0.3 0.4,2.6 0.5,6 0.5,-1.3 0.5,5 0.4,0.6 0.5,-4.1 0.5,-15.8 0.5,10.3 0.4,6.5 0.5,1.5 0.5,4.6 0.5,-24.3 0.4,11.8 0.5,4.7 0.5,4.4 0.5,8.2 0.5,-11.3 0.4,-10.3 0.5,13.7 0.5,-1.9 0.5,-0.1 0.4,-3.7 0.5,18.5 0.5,-14.8 0.5,10.1 0.4,-22.4 0.5,18 0.5,-14.7 0.5,-10.3 0.4,19.9 0.5,3.1 0.5,-8.6 0.5,2.1 0.4,10.7 0.5,-15.8 0.5,-16.8 0.5,24.7 0.4,-0.4 0.5,9.3 0.5,-14.6 0.5,17.2 0.5,-1.2 0.4,-26.9 0.5,25.3 0.5,-21.2 0.5,-4.5 0.4,14 0.5,-2.8 0.5,-14.9 0.5,23.7 0.4,4.5 0.5,8.6 0.5,12.5 0.5,-42.8 0.4,5.8 0.5,20.7 0.5,-0.9 0.5,-3.8 0.4,-8.8 0.5,5 0.5,-5.1 0.5,-1.6 0.4,5.5 0.5,-3.8 0.5,-3.8 0.5,2 0.5,-7.7 0.4,-21.7 0.5,17.9 0.5,4.4 0.5,17.4 0.4,-24 0.5,23.8 0.5,-7.3 0.5,-26 0.4,0.3 0.5,8 0.5,25.4 0.5,-25.3 0.4,23.2 0.5,-36 0.5,-18.5 0.5,21.1 0.4,9.9 0.5,-1.3 0.5,-8.6 0.5,0.3 0.4,9.6 0.5,-3.7 0.5,1.7 0.5,-25.5 0.4,-0.4 0.5,-1.2 0.5,16 0.5,-11.5 0.5,6.2 0.4,2 0.5,-1.3 0.5,9.8 0.5,0.9 0.4,-24.8 0.5,10.2 0.5,-4.8 0.5,-8.8 0.4,29.4 0.5,-10.5 0.5,-10.4 0.5,-2.3 0.4,8.6 0.5,-14.8 0.5,9.5 0.5,16.1 0.4,-2.2 0.5,-17.9 0.5,4.8 0.5,26.7 0.4,-34 0.5,9.3 0.5,-6.8 0.5,20 0.5,0.4 0.4,10.6 0.5,-37.9 0.5,31.6 0.5,-16.8 0.4,26.7 0.5,-6.1 0.5,22.7 0.5,-11.2 0.4,-11.9 0.5,26.8 0.5,-22.1 0.5,10.8 0.4,22 0.5,-7.5 0.5,2.5 0.5,-1.2 0.4,8.6 0.5,6.6 0.5,-2.3 0.5,28.2 0.4,-11.1 0.5,-10.5 0.5,-7.5 0.5,28.4 0.5,-14.9 0.4,8.4 0.5,-11.8 0.5,-3.1 0.5,15.5 0.4,-21.3 0.5,25.2 0.5,-27.7 0.5,22.7 0.4,6.1 0.5,-14.1 0.5,8.4 0.5,-7.9 0.4,7.4 0.5,11.5 0.5,-10.4 0.5,-1.5 0.4,-9.7 0.5,20.4 0.5,-9.3 0.5,18.4 0.4,-25.7 0.5,18.9 0.5,7.9 0.5,-18.8 0.5,-12.6 0.4,28.6 0.5,-4.6 0.5,-3.7 0.5,4.3 0.4,-16.4 0.5,13 0.5,-0.9 0.5,-9.2 0.4,3.4 0.5,-2.9 0.5,3.5 0.5,0.7 0.4,1.6 0.5,-9.2 0.5,5.5 0.5,-1.4 0.4,0.8 0.5,-0.5 0.5,0.3 0.5,-4.6 0.4,7.4 0.5,1.3 0.5,-1.3 0.5,0.8 0.5,-5.2 0.4,-0.2 0.5,4.5 0.5,1.1 0.5,-2.6 0.4,-4.4 0.5,10 0.5,-7.8 0.5,4 0.4,-5.3 0.5,5.3 0.5,-2 0.5,3 0.4,-1.3 0.5,-6.1 0.5,1.6 0.5,3 0.4,1.2 0.5,2.5 0.5,-3.8 0.5,-0.9 0.4,0.1 0.5,0 0.5,6.2 0.5,-6.3 0.5,-0.1 0.4,-3.4 0.5,1.9 0.5,1.6 0.5,1.6 0.4,-1.8 0.5,1.3 0.5,0.3 0.5,-1.7 0.4,2.4 0.5,-4.2 0.5,1.8 0.5,-1 0.4,1.1 0.5,1.3 0.5,0.5 0.5,-1.8 0.4,0.7 0.5,-1.9 0.5,0.5 0.5,3.4 0.4,-3.6 0.5,3.5 0.5,-1.9 0.5,-0.8 0.4,4.4 0.5,-5.5 0.5,-0.2 0.5,0.8 0.5,0.6 0.4,-0.1 0.5,1.5 0.5,-1.8 0.5,0.6 0.4,-1.6 0.5,3.2 0.5,-3.6 0.5,0.2 0.4,0.7 0.5,0.7 0.5,-2.5 0.5,5.6 0.4,-6.7 0.5,1.9 0.5,-0.1 0.5,-0.3 0.4,2.6 0.5,-1 0.5,-2.2 0.5,0.5 0.4,0.5 0.5,4.3 0.5,-5.1 0.5,-1.6 0.5,0.5 0.4,1.9 0.5,4.5 0.5,-6.2 0.5,1.4 0.4,7.3 0.5,-1.8 0.5,-0.8 0.5,-0.4 0.4,-1.7 0.5,-4.7 0.5,4.1 0.5,-1.5 0.4,-3.7 0.5,-1.6 0.5,6.3 0.5,0.4 0.4,2.6 0.5,-1.4 0.5,-2.8 0.5,0.1 0.4,0.8 0.5,-2.2 0.5,4.4 0.5,-2.4 0.5,-1.2 0.4,0.4 0.5,-1.2 0.5,1.7 0.5,1.8 0.4,-1.6 0.5,3.4 0.5,1.6 0.5,-5.5 0.4,1.7 0.5,-0.9 0.5,7.3 0.5,-8.9 0.4,4 0.5,0.7 0.5,3.5 0.5,-4.8 0.4,-3.1 0.5,-0.7 0.5,4.5 0.5,-1.4 0.4,-0.7 0.5,7.2 0.5,-6.1 0.5,-1.7 0.5,-0.3 0.4,-2.5 0.5,1.4 0.5,2.1 0.5,0 0.4,-1.2 0.5,3.3 0.5,-1.2 0.5,-2.4 0.4,-2.6 0.5,5.3 0.5,-0.3 0.5,-0.6 0.4,-2.9 0.5,3.5 0.5,-3.8 0.5,6.1 0.4,0.9 0.5,-2.9 0.5,-2.5 0.5,-0.7 0.4,6.4 0.5,-1.5 0.5,-3.2 0.5,2.5 0.5,2.1 0.4,-6.5 0.5,1.3 0.5,0 0.5,2.4 0.4,-3.9 0.5,3.2 0.5,-3.5 0.5,5 0.4,-2.4 0.5,-0.5 0.5,2.2 0.5,-3.5 0.4,1 0.5,2.9 0.5,-2.6 0.5,1 0.4,-3.2 0.5,3.8 0.5,-0.6 0.5,-4.2 0.4,-2.6 0.5,0.5 0.5,4.8 0.5,-0.4 0.5,-3.4 0.4,4.1 0.5,2.1 0.5,-2.8 0.5,-0.9 0.4,3.2 0.5,2 0.5,-0.6 0.5,-5.3 0.4,3.5 0.5,-1.6 0.5,-0.9 0.5,-1 0.4,2.3 0.5,-2.1 0.5,4 0.5,-1.9 0.4,1.7 0.5,-5.4 0.5,2.9 0.5,1.8 0.4,-1 0.5,2.8 0.5,-5.3 0.5,5.8 0.4,-1.3 0.5,-1.6 0.5,-7.2 0.5,4.1 0.5,1 0.4,-0.1 0.5,-3.3 0.5,5.9 0.5,0.5 0.4,-3.8 0.5,2 0.5,-0.3 0.5,3.1 0.4,-5.9 0.5,0.7 0.5,3 0.5,-0.2 0.4,6.9 0.5,-6.5 0.5,2.2 0.5,-1.5 0.4,-0.5 0.5,2.6 0.5,3.5 0.5,-5.1 0.4,2.8 0.5,-1 0.5,0.7 0.5,-0.7 0.5,1.2 0.4,-5.1 0.5,2.4 0.5,-2.2 0.5,-2.2 0.4,4.9 0.5,4.6 0.5,-2.3 0.5,0.8 0.4,-1.8 0.5,-1.5 0.5,5.2 0.5,-5.9 0.4,4.7 0.5,-4.7 0.5,1 0.5,0.5 0.4,-0.6 0.5,-2.5 0.5,3.8 0.5,2.8 0.4,-4.4 0.5,-4.7 0.5,0.5 0.5,0.8 0.5,1.5 0.4,3.4 0.5,-4.2 0.5,2.6 0.5,0 0.4,0.5 0.5,-1 0.5,1.3 0.5,-1 0.4,2.5 0.5,-1.8 0.5,-6.7 0.5,-0.8 0.4,7.1 0.5,-2 0.5,-0.5 0.5,4.5 0.4,-2.3 0.5,-4.1 0.5,10.1 0.5,-6.9 0.4,-3.6 0.5,5.6 0.5,-2 0.5,1.5 0.5,-5 0.4,8.5 0.5,-3.2 0.5,-0.4 0.5,-3 0.4,0.2 0.5,-2 0.5,7.4 0.5,-5.9 0.4,2.6 0.5,-0.7 0.5,-1.4 0.5,3.7 0.4,2.9 0.5,-4.3 0.5,2.8 0.5,-2.1 0.4,-2.6 0.5,0.2 0.5,-3.2 0.5,4.5 0.4,3.3 0.5,-1.9 0.5,-5.2 0.5,6.3 0.5,-4.1 0.4,2.7 0.5,3.3 0.5,-6.7 0.5,2.1 0.4,-1.2 0.5,0.6 0.5,-1.3 0.5,1.5 0.4,-3 0.5,0 0.5,2.1 0.5,0 0.4,4.4 0.5,0.6 0.5,-3.4 0.5,-1.1 0.4,3.9 0.5,-7.5 0.5,3.8 0.5,3.3 0.4,1.3 0.5,-3.6 0.5,-3.8 0.5,4.9 0.5,-2 0.4,1.8 0.5,-3 0.5,3.2 0.5,-1.7 0.4,-2.5 0.5,-4 0.5,8.9 0.5,-1.3 0.4,0.9 0.5,-4 0.5,4.8 0.5,-1.6 0.4,-1.2 0.5,3.2 0.5,0 0.5,-2 0.4,4 0.5,-1.6 0.5,-2.6 0.5,-1.4 0.4,0.9 0.5,3.9 0.5,-3.2 0.5,-3.2 0.4,0.6 0.5,1.9 0.5,1.7 0.5,-3.8 0.5,3.1 0.4,1.5 0.5,-0.9 0.5,-5.7 0.5,3.1 0.4,-2.3 0.5,4.1 0.5,-3.6 0.5,5.4 0.4,-4 0.5,-5.2 0.5,4.3 0.5,3.2 0.4,-1 0.5,-1.1 0.5,-2.2 0.5,4.3 0.4,3.2 0.5,-3.7 0.5,-0.7 0.5,-0.2 0.4,-3.1 0.5,2.6 0.5,-1.3 0.5,4.8 0.5,-4.9 0.4,-3 0.5,3.3 0.5,1.3 0.5,0.3 0.4,-4.1 0.5,6.8 0.5,-2 0.5,-1.4 0.4,-0.7 0.5,3 0.5,-1.9 0.5,1.5 0.4,-1 0.5,0.7 0.5,2.5 0.5,-2.8 0.4,-2.2 0.5,4.6 0.5,-1.8 0.5,-2.2 0.4,4.3 0.5,-3.1 0.5,3.2" stroke="#f29a9c" stroke-width="0.9" fill="none" stroke-linejoin="round" opacity="0.8"/>
<path d="M1138.3,1028.8l1.4,-1.9 1.5,-1.6 1.4,-1.5 1.4,-1.3 1.5,-1 1.4,-0.7 1.4,-0.3 1.4,0 1.5,0.2 1.4,0.4 1.4,0.5 1.5,0.6 1.4,0.6 1.4,0.5 1.5,0.5 1.4,0.4 1.4,0.4 1.5,0.3 1.4,0.4 1.4,0.3 1.5,0.4 1.4,0.4 1.4,0.3 1.4,0.2 1.5,0.2 1.4,-0.4 1.4,-2.2 1.5,-3.4 1.4,-3.7 1.4,-3.3 1.5,-1.8 1.4,0.4 1.4,2.9 1.5,4.6 1.4,4.9 1.4,4.3 1.5,2.5 1.4,-0.1 1.4,-1.8 1.4,-2.7 1.5,-2.9 1.4,-2.4 1.4,-1.5 1.5,0.2 1.4,1.2 1.4,2 1.5,2.6 1.4,2.7 1.4,2.7 1.5,2.4 1.4,1.8 1.4,1 1.4,-0.2 1.5,-0.8 1.4,-1.1 1.4,-0.9 1.5,-0.3 1.4,0.8 1.4,1.7 1.5,2.3 1.4,2.7 1.4,2.8 1.5,2.6 1.4,2.1 1.4,1.3 1.5,0.3 1.4,-1.3 1.4,-2.7 1.4,-3.8 1.5,-4.3 1.4,-4.4 1.4,-4.1 1.5,-3.4 1.4,-2.1 1.4,-0.5 1.5,0.3 1.4,0.6 1.4,1 1.5,1.3 1.4,1.4 1.4,1.6 1.5,1.7 1.4,2.4 1.4,4.1 1.4,5.2 1.5,5.6 1.4,5.3 1.4,4.4 1.5,2.8 1.4,0.6 1.4,-0.1 1.5,-0.3 1.4,-0.4 1.4,-0.5 1.5,-0.5 1.4,-0.5 1.4,-0.4 1.4,-0.4 1.5,-0.3 1.4,-0.2 1.4,-0.2 1.5,-0.2 1.4,-0.2 1.4,-0.2 1.5,-0.2 1.4,-0.1 1.4,-0.2 1.5,0 1.4,-0.1 1.4,0.2 1.5,0.6 1.4,0.9 1.4,1 1.4,0.9 1.5,0.9 1.4,0.5 1.4,-0.1 1.5,-1.6 1.4,-2.9 1.4,-3.9 1.5,-4.3 1.4,-4.5 1.4,-4.1 1.5,-3.4 1.4,-2.8 1.4,-2.9 1.5,-3 1.4,-3 1.4,-2.6 1.4,-2.4 1.5,-1.8 1.4,-1.2 1.4,-0.5 1.5,0.7 1.4,2.1 1.4,3.1 1.5,3.7 1.4,4.2 1.4,6.2 1.5,8 1.4,8.6 1.4,8.3 1.4,8.9 1.5,10.2 1.4,9.4 1.4,6.6 1.5,2.7 1.4,1.7 1.4,1.4 1.5,1.1 1.4,0.8 1.4,0.6 1.5,0.3 1.4,0.2 1.4,0.3 1.5,0.2 1.4,0.2 1.4,0.1 1.4,0.2 1.5,0.1 1.4,0.1 1.4,0 1.5,0.1 1.4,0 1.4,0 1.5,0 1.4,0 1.4,-0.1 1.5,-0.1 1.4,0 1.4,-0.1 1.4,-0.1 1.5,-0.1 1.4,-0.1 1.4,-0.1 1.5,-0.2 1.4,-0.1 1.4,-0.1 1.5,-0.1 1.4,-0.1 1.4,-0.1 1.5,-0.1 1.4,0 1.4,-0.1 1.5,0 1.4,0 1.4,-0.1 1.4,0.1 1.5,0 1.4,0 1.4,0.1 1.5,0.1 1.4,0.1 1.4,0 1.5,0.1 1.4,0.1 1.4,0.2 1.5,0.1 1.4,0.1 1.4,0.1 1.5,0.1 1.4,0.1 1.4,0.1 1.4,0.1 1.5,0.1 1.4,0 1.4,0.1 1.5,0 1.4,0 1.4,0 1.5,0 1.4,-0.1 1.4,-0.1 1.5,-0.2 1.4,-0.1 1.4,-0.2 1.4,-0.2 1.5,-0.1 1.4,-0.2 1.4,-0.2 1.5,-0.2 1.4,-0.2 1.4,-0.2 1.5,-0.1 1.4,-0.1 1.4,-0.2 1.5,0 1.4,-0.1 1.4,0 1.5,0.1 1.4,0.3 1.4,0.4 1.4,0.4 1.5,0.5 1.4,0.5 1.4,0.4 1.5,0.4 1.4,0.2 1.4,0.1 1.5,0 1.4,0 1.4,0 1.5,-0.1 1.4,0 1.4,-0.1 1.5,-0.1 1.4,-0.1 1.4,-0.1 1.4,-0.1 1.5,-0.1 1.4,-0.2 1.4,-0.1 1.5,-0.1 1.4,-0.1 1.4,-0.1 1.5,-0.1 1.4,0 1.4,-0.1 1.5,-0.1 1.4,0 1.4,0 1.4,0 1.5,0 1.4,0 1.4,0 1.5,0 1.4,0 1.4,0 1.5,0 1.4,0 1.4,0 1.5,0 1.4,0 1.4,0 1.5,0 1.4,0 1.4,0 1.4,0 1.5,0.1 1.4,0 1.4,0 1.5,0 1.4,0 1.4,0.1 1.5,0 1.4,0 1.4,0 1.5,0.1 1.4,0 1.4,0 1.5,0.1 1.4,0 1.4,0.1 1.4,0 1.5,0.1 1.4,0 1.4,0.1 1.5,0 1.4,0.1" stroke="#dc2a2e" stroke-width="2.4" fill="none" stroke-linejoin="round"/>
<path d="M1138.3,1155.4l0.5,-1.8 0.5,0.3 0.4,-4.6 0.5,9.3 0.5,-9.8 0.5,3.7 0.4,-8.5 0.5,-0.2 0.5,-1.9 0.5,3 0.4,4 0.5,-4.1 0.5,-2.9 0.5,10.2 0.4,-5.8 0.5,3.2 0.5,-6.8 0.5,10.8 0.4,-2.4 0.5,-2.9 0.5,0.6 0.5,9 0.4,-9.2 0.5,2.4 0.5,0.7 0.5,-0.2 0.5,-1.6 0.4,9.6 0.5,-15.6 0.5,11.5 0.5,6.6 0.4,-10 0.5,-7 0.5,9.4 0.5,-9.5 0.4,0.1 0.5,11.5 0.5,7.6 0.5,-5.5 0.4,-15.5 0.5,13.9 0.5,3.5 0.5,-0.6 0.4,-6.1 0.5,0.4 0.5,-9.2 0.5,4.9 0.4,9.2 0.5,-3.3 0.5,4.8 0.5,-5.4 0.5,4.6 0.4,1.8 0.5,-15.3 0.5,10.1 0.5,-2.7 0.4,-8.6 0.5,8.5 0.5,4.4 0.5,-0.5 0.4,3.9 0.5,-8.3 0.5,6.8 0.5,-9.5 0.4,10 0.5,-7.6 0.5,8.4 0.5,-14 0.4,11.5 0.5,-5.4 0.5,9.1 0.5,-3.8 0.4,6.9 0.5,-4.1 0.5,-3.6 0.5,-4.7 0.4,4.8 0.5,5.6 0.5,6.7 0.5,-20.8 0.5,9.2 0.4,-7.9 0.5,12.1 0.5,-10.9 0.5,6 0.4,2 0.5,4.3 0.5,-6.2 0.5,3.8 0.4,-1.5 0.5,6.3 0.5,-5.6 0.5,-3.3 0.4,6.3 0.5,-6.5 0.5,-3.1 0.5,11.6 0.4,-6.2 0.5,-0.4 0.5,-7.6 0.5,5.8 0.4,-0.5 0.5,0.2 0.5,-2.9 0.5,0.8 0.5,4.6 0.4,-14.9 0.5,8.6 0.5,6.9 0.5,-2.2 0.4,-4.7 0.5,-2.4 0.5,9.1 0.5,-9.5 0.4,9.8 0.5,-2.5 0.5,-7.6 0.5,-3.8 0.4,8.6 0.5,1.2 0.5,-7.2 0.5,11.1 0.4,-6.2 0.5,0.3 0.5,-3.5 0.5,3.3 0.4,2.5 0.5,-4.3 0.5,7.7 0.5,-9.6 0.5,6.3 0.4,0.3 0.5,-3.4 0.5,-2.8 0.5,-4 0.4,3.3 0.5,-5.4 0.5,-2.2 0.5,4.1 0.4,3.1 0.5,-9.7 0.5,2.1 0.5,10.4 0.4,-5.9 0.5,5.4 0.5,-4.6 0.5,-3.6 0.4,4.7 0.5,-9.9 0.5,0.8 0.5,0.3 0.4,-5.9 0.5,8.4 0.5,-0.3 0.5,-10.7 0.5,15.5 0.4,-9.5 0.5,9.6 0.5,-7.2 0.5,-8.7 0.4,8.7 0.5,4.9 0.5,-14.7 0.5,13.7 0.4,-1.5 0.5,-2.3 0.5,7.7 0.5,-11.4 0.4,-2.3 0.5,4.1 0.5,2.1 0.5,2.3 0.4,-4.7 0.5,16.3 0.5,-11.5 0.5,-1.7 0.4,10.6 0.5,-11.2 0.5,2.7 0.5,-0.4 0.5,-0.5 0.4,-2 0.5,0.7 0.5,7.2 0.5,-4.1 0.4,0.6 0.5,-0.8 0.5,10.5 0.5,-6.9 0.4,-8.8 0.5,-0.7 0.5,-1.6 0.5,2.1 0.4,9.3 0.5,0.9 0.5,-0.9 0.5,-4.4 0.4,3.2 0.5,-12.8 0.5,4.3 0.5,9.6 0.4,-6.7 0.5,6.2 0.5,-3.2 0.5,6.7 0.5,-4.7 0.4,7.1 0.5,-11.4 0.5,-5 0.5,12.2 0.4,-4.1 0.5,-2.9 0.5,-0.6 0.5,0.5 0.4,2.1 0.5,-6 0.5,3.3 0.5,6.8 0.4,6.5 0.5,1.1 0.5,-14.9 0.5,4.7 0.4,-7.6 0.5,4.7 0.5,8.7 0.5,-7 0.4,-4 0.5,9.9 0.5,-1.7 0.5,-10.6 0.4,16.2 0.5,-3.2 0.5,-10.3 0.5,3.6 0.5,5.9 0.4,1 0.5,-9.5 0.5,-4 0.5,1.3 0.4,1.4 0.5,-5.6 0.5,4.9 0.5,4.8 0.4,-13.9 0.5,14.8 0.5,-5.6 0.5,-0.7 0.4,-7.3 0.5,10 0.5,-2.5 0.5,6.9 0.4,-9.9 0.5,-0.5 0.5,-1 0.5,7.4 0.4,-5.4 0.5,-0.6 0.5,2.5 0.5,-0.4 0.5,-6.4 0.4,8.2 0.5,-2.9 0.5,4.8 0.5,-1.2 0.4,0.7 0.5,-2.5 0.5,1.2 0.5,3.3 0.4,-8.5 0.5,7.9 0.5,-6 0.5,4.2 0.4,-1.1 0.5,0.5 0.5,-6.9 0.5,4 0.4,-3.8 0.5,6.8 0.5,-0.5 0.5,-8.6 0.4,15.3 0.5,-3.5 0.5,-3.3 0.5,-9.3 0.5,11.5 0.4,4.5 0.5,-14.7 0.5,8.6 0.5,-0.3 0.4,-8.6 0.5,10.5 0.5,2.4 0.5,-8.8 0.4,6.3 0.5,-8.4 0.5,3.6 0.5,10.7 0.4,-4.7 0.5,-3.5 0.5,3.2 0.5,-8.2 0.4,13.4 0.5,-2.3 0.5,-3.6 0.5,-6 0.4,11 0.5,-4.2 0.5,0.4 0.5,3.7 0.5,-5.2 0.4,3.6 0.5,-3.2 0.5,-3.4 0.5,5.6 0.4,-0.1 0.5,0.5 0.5,-0.6 0.5,3.4 0.4,-1.8 0.5,-6 0.5,4.7 0.5,-16.5 0.4,16.3 0.5,-6 0.5,9.3 0.5,-12.9 0.4,6.4 0.5,-0.1 0.5,-6.6 0.5,7.1 0.4,4.9 0.5,-1.2 0.5,0.2 0.5,-3.9 0.5,-8 0.4,3.1 0.5,-0.6 0.5,2.7 0.5,2.7 0.4,7.4 0.5,-4.7 0.5,0.7 0.5,-3.5 0.4,-2.7 0.5,3 0.5,6.5 0.5,-11.7 0.4,2.7 0.5,8.3 0.5,-1.2 0.5,-1.3 0.4,3.3 0.5,1.7 0.5,-2.1 0.5,4.9 0.4,-2 0.5,9.2 0.5,0.7 0.5,-15 0.5,15.9 0.4,-8.8 0.5,1.3 0.5,1 0.5,6.5 0.4,-9.4 0.5,3.4 0.5,3.5 0.5,5.2 0.4,-5.4 0.5,1.8 0.5,3.2 0.5,-7.6 0.4,-0.9 0.5,-1.1 0.5,3.4 0.5,0.4 0.4,-5 0.5,1.8 0.5,-7.2 0.5,8.2 0.4,9.5 0.5,-11.3 0.5,-6.3 0.5,9.7 0.4,2.2 0.5,1.9 0.5,-11.7 0.5,9.9 0.5,0.3 0.4,-2.5 0.5,8.1 0.5,-5.4 0.5,4.7 0.4,-5.2 0.5,-6.2 0.5,1.2 0.5,13.3 0.4,-12.8 0.5,5.7 0.5,5.9 0.5,-10.4 0.4,3.7 0.5,-7.7 0.5,19 0.5,-13.3 0.4,-0.2 0.5,-0.1 0.5,-3.7 0.5,6.4 0.4,-11.8 0.5,6.5 0.5,0.8 0.5,14.1 0.5,-2.6 0.4,-16.4 0.5,5 0.5,-6.6 0.5,9.9 0.4,-1.4 0.5,-3.5 0.5,6.3 0.5,-10.1 0.4,11.3 0.5,-6.4 0.5,2.1 0.5,-3.1 0.4,-4.3 0.5,10.9 0.5,-7.5 0.5,1.4 0.4,-3.4 0.5,3.9 0.5,2.1 0.5,-4.7 0.4,-3.9 0.5,2.4 0.5,3.2 0.5,-9 0.5,17.5 0.4,-4.3 0.5,-0.8 0.5,-4.1 0.5,7.5 0.4,-2.2 0.5,-1.3 0.5,-6.4 0.5,13.2 0.4,6.1 0.5,-12.3 0.5,18.4 0.5,-7.6 0.4,-10 0.5,9.6 0.5,2.2 0.5,3 0.4,3.1 0.5,-3.1 0.5,6.5 0.5,-14.6 0.4,11.1 0.5,3.6 0.5,3 0.5,-4.5 0.5,-3.5 0.4,3.5 0.5,6.5 0.5,-4.3 0.5,6.9 0.4,-14.7 0.5,3.4 0.5,2.2 0.5,0.7 0.4,1.4 0.5,-0.8 0.5,-1.9 0.5,1.6 0.4,-1.1 0.5,0.5 0.5,-0.1 0.5,-0.2 0.4,-1.3 0.5,2.2 0.5,-2.4 0.5,3 0.4,-0.4 0.5,0.2 0.5,-2.7 0.5,1.9 0.5,-2.6 0.4,3.7 0.5,-2.4 0.5,-0.4 0.5,-0.9 0.4,3 0.5,-1.9 0.5,1.9 0.5,0.2 0.4,-1.7 0.5,3.2 0.5,-0.8 0.5,-4.5 0.4,3.8 0.5,-2.7 0.5,2.2 0.5,1.9 0.4,-2 0.5,-2.2 0.5,1.5 0.5,0.5 0.4,-0.6 0.5,1.4 0.5,-2.5 0.5,0.7 0.5,2.2 0.4,-3.3 0.5,-0.3 0.5,2.3 0.5,-0.6 0.4,0.9 0.5,1.5 0.5,-3.5 0.5,3 0.4,-2.6 0.5,1.8 0.5,0.8 0.5,-2.7 0.4,0.6 0.5,-2.7 0.5,3.2 0.5,-0.3 0.4,0 0.5,0.6 0.5,-2.6 0.5,-0.3 0.4,1.4 0.5,2.8 0.5,-2.4 0.5,0.6 0.4,0.9 0.5,2 0.5,-4.3 0.5,-0.5 0.5,1.5 0.4,-0.3 0.5,-2.1 0.5,-0.3 0.5,2.8 0.4,4.9 0.5,-5.7 0.5,1 0.5,-1.7 0.4,2.8 0.5,0.8 0.5,-2.5 0.5,1.3 0.4,2 0.5,-3.2 0.5,0.5 0.5,2.6 0.4,-3.3 0.5,1.7 0.5,-0.4 0.5,-1.1 0.4,3.2 0.5,-2 0.5,2.6 0.5,-2.1 0.5,-1.5 0.4,0.8 0.5,0.3 0.5,-1.5 0.5,1.7 0.4,2 0.5,-4.4 0.5,1.4 0.5,-1 0.4,2 0.5,-0.5 0.5,1.1 0.5,2 0.4,-2.4 0.5,0.2 0.5,-3.6 0.5,5.8 0.4,-3.2 0.5,0.3 0.5,-0.1 0.5,0.1 0.4,-0.6 0.5,-1.1 0.5,4.1 0.5,-4.1 0.5,1.8 0.4,1.2 0.5,1.4 0.5,-0.1 0.5,-3 0.4,1.7 0.5,0 0.5,-1.1 0.5,-0.9 0.4,0.8 0.5,1 0.5,-0.9 0.5,-0.8 0.4,1.4 0.5,-3.3 0.5,-0.7 0.5,-0.1 0.4,2.6 0.5,0 0.5,0.9 0.5,-3.9 0.4,3.1 0.5,-4.5 0.5,7 0.5,-3.9 0.5,2 0.4,-2.2 0.5,-0.5 0.5,-2.4 0.5,3.4 0.4,-1.5 0.5,2.1 0.5,1.3 0.5,-0.8 0.4,-2.7 0.5,0.9 0.5,2.9 0.5,-2.9 0.4,-0.5 0.5,3 0.5,-3.9 0.5,4.3 0.4,-0.9 0.5,2.8 0.5,-4.6 0.5,-1.9 0.4,2.9 0.5,-1.3 0.5,-0.8 0.5,2.2 0.5,-2.1 0.4,1.5 0.5,-2.5 0.5,0 0.5,3.1 0.4,0.2 0.5,-4 0.5,4.6 0.5,-3.4 0.4,2.6 0.5,1.3 0.5,-4.8 0.5,2.2 0.4,2.4 0.5,-1.3 0.5,0.9 0.5,0.4 0.4,-1.4 0.5,-1.2 0.5,3.4 0.5,-3.1 0.4,3.2 0.5,-2.2 0.5,2.3 0.5,-0.2 0.5,-3.1 0.4,-0.7 0.5,0.3 0.5,1.7 0.5,0.3 0.4,-0.7 0.5,-4.1 0.5,3.8 0.5,0.8 0.4,0.6 0.5,-0.2 0.5,-1.5 0.5,0.1 0.4,4.9 0.5,-7.4 0.5,2.8 0.5,0.9 0.4,-4.5 0.5,7 0.5,-0.5 0.5,-3.9 0.4,1.9 0.5,-1.5 0.5,-0.5 0.5,-1 0.4,1.9 0.5,2.2 0.5,3.2 0.5,-4.4 0.5,3.2 0.4,-3 0.5,1.5 0.5,-2 0.5,0.8 0.4,-0.1 0.5,2.3 0.5,-2.6 0.5,1.5 0.4,-1.7 0.5,1.3 0.5,-4.7 0.5,4.9 0.4,2.3 0.5,-1.7 0.5,2.1 0.5,-8 0.4,2 0.5,3.4 0.5,-1 0.5,2 0.4,-0.2 0.5,-3.4 0.5,0.9 0.5,2 0.5,-0.1 0.4,-1.9 0.5,-0.4 0.5,2.5 0.5,1.5 0.4,-4.4 0.5,2.7 0.5,1.9 0.5,-2.8 0.4,-0.7 0.5,-1.2 0.5,2.3 0.5,-1.2 0.4,2.6 0.5,-2 0.5,2.5 0.5,-3.6 0.4,0.7 0.5,2.9 0.5,-1.5 0.5,-3.9 0.4,4.6 0.5,1 0.5,-2.3 0.5,-0.8 0.5,-1.1 0.4,1.6 0.5,0.6 0.5,-0.4 0.5,-2.7 0.4,2.6 0.5,-1.2 0.5,3.9 0.5,-2.4 0.4,-0.4 0.5,-1.9 0.5,0.9 0.5,0.4 0.4,-1.4 0.5,1.5 0.5,-4.1 0.5,5.9 0.4,-1.7 0.5,-2.9 0.5,1.8 0.5,0.8 0.4,-1.2 0.5,-1.4 0.5,2.9 0.5,0.6 0.5,-3.7 0.4,2.7 0.5,-2.9 0.5,3.5 0.5,-0.5 0.4,3.3 0.5,-3.9 0.5,4.4 0.5,-2 0.4,-3 0.5,1 0.5,2.4 0.5,-1.2 0.4,3.8 0.5,-3.1 0.5,1 0.5,-2.2 0.4,0.6 0.5,-2.8 0.5,1.6 0.5,0.6 0.4,-0.3 0.5,2.1 0.5,-1.5 0.5,3 0.5,1 0.4,-3.7 0.5,-2.1 0.5,3.7 0.5,-2.8 0.4,3.6 0.5,-2.9 0.5,-0.1 0.5,0 0.4,2.5 0.5,-3.4 0.5,-0.2 0.5,0.2 0.4,-2.9 0.5,4.4 0.5,-0.9 0.5,-1.7 0.4,4.2 0.5,-0.7 0.5,-3.4 0.5,2.4 0.4,0.8 0.5,-2.2 0.5,3.1 0.5,-2.6 0.5,2 0.4,-0.7 0.5,3.2 0.5,-4.7 0.5,-0.1 0.4,0.7 0.5,0.8 0.5,-1.5 0.5,-2.2 0.4,1 0.5,2.6 0.5,-1.6 0.5,0.8 0.4,-1.4 0.5,2.2 0.5,-3.8 0.5,5.1 0.4,-1 0.5,-2.3 0.5,-2.3 0.5,5.6 0.4,-3 0.5,-1 0.5,-3.3 0.5,6.8 0.4,-4.4 0.5,3.1 0.5,-0.8 0.5,-2.1 0.5,1.4 0.4,2.4 0.5,-2 0.5,0.3 0.5,-1 0.4,1.8 0.5,-0.4 0.5,-0.6 0.5,-0.7 0.4,0.3 0.5,-1 0.5,-0.4 0.5,0.5 0.4,1.7 0.5,1.5 0.5,-1.2 0.5,-0.3 0.4,-0.7 0.5,-2 0.5,1.3 0.5,3.3 0.4,-0.9 0.5,-2 0.5,0.2 0.5,1.4 0.5,1 0.4,-2.2 0.5,-1.2 0.5,0.3 0.5,2.9 0.4,-1.6 0.5,-0.3 0.5,1.3 0.5,-1.3 0.4,1.1 0.5,-2.5 0.5,-1 0.5,0.2 0.4,1.2 0.5,1.2 0.5,0.4 0.5,-1.7 0.4,3.1 0.5,-1.1 0.5,1.3 0.5,-2.8 0.4,3.3 0.5,0.1 0.5,4.1" stroke="#9c9cf0" stroke-width="0.9" fill="none" stroke-linejoin="round" opacity="0.8"/>
<path d="M1138.3,1147.3l1.4,0.3 1.5,0.4 1.4,0.4 1.4,0.4 1.5,0.4 1.4,0.4 1.4,0.4 1.4,0.5 1.5,0.4 1.4,0.5 1.4,0.4 1.5,0.5 1.4,0.5 1.4,0.6 1.5,0.7 1.4,0.7 1.4,0.7 1.5,0.8 1.4,0.7 1.4,0.7 1.5,0.7 1.4,0.6 1.4,0.6 1.4,0.4 1.5,0.4 1.4,0.2 1.4,0 1.5,-0.2 1.4,-0.5 1.4,-0.7 1.5,-0.8 1.4,-1 1.4,-0.9 1.5,-0.9 1.4,-0.8 1.4,-0.5 1.5,-0.3 1.4,0 1.4,0.4 1.4,0.6 1.5,0.5 1.4,0.1 1.4,-0.9 1.5,-2.1 1.4,-2.7 1.4,-3 1.5,-2.8 1.4,-2.2 1.4,-1.2 1.5,-0.1 1.4,0.1 1.4,0 1.4,0.1 1.5,0.2 1.4,0.2 1.4,0.2 1.5,0.2 1.4,0.2 1.4,0.3 1.5,0.2 1.4,0.5 1.4,0.7 1.5,0.8 1.4,0.7 1.4,0.5 1.5,0.1 1.4,-0.4 1.4,-0.6 1.4,-0.9 1.5,-0.7 1.4,-0.6 1.4,-0.1 1.5,0.6 1.4,1 1.4,1.1 1.5,0.6 1.4,-0.2 1.4,-1 1.5,-1.4 1.4,-1.6 1.4,-1.6 1.5,-1.4 1.4,-0.9 1.4,-0.2 1.4,0 1.5,0 1.4,0.1 1.4,0.1 1.5,0.2 1.4,0.1 1.4,0.2 1.5,0.1 1.4,0.2 1.4,0.2 1.5,0.1 1.4,0.2 1.4,0.1 1.4,0.1 1.5,0.1 1.4,0.1 1.4,0.1 1.5,0.1 1.4,0 1.4,0.1 1.5,0.1 1.4,0.1 1.4,0.1 1.5,0.1 1.4,0.1 1.4,0.2 1.5,0.2 1.4,0.2 1.4,0.5 1.4,1.1 1.5,1.7 1.4,2 1.4,2.2 1.5,2.2 1.4,2.2 1.4,1.9 1.5,1.6 1.4,1 1.4,0.4 1.5,0.2 1.4,0.3 1.4,0.2 1.5,0.2 1.4,0.1 1.4,0.2 1.4,0.1 1.5,0.1 1.4,0.1 1.4,0 1.5,0.1 1.4,-0.1 1.4,-0.1 1.5,-0.3 1.4,-0.4 1.4,-0.4 1.5,-0.5 1.4,-0.5 1.4,-0.4 1.4,-0.4 1.5,-0.2 1.4,-0.1 1.4,0.6 1.5,1.7 1.4,2.2 1.4,2.6 1.5,2.8 1.4,4.5 1.4,5 1.5,4 1.4,1.7 1.4,-0.1 1.5,-0.1 1.4,-0.2 1.4,-0.2 1.4,-0.2 1.5,-0.3 1.4,-0.2 1.4,-0.2 1.5,-0.1 1.4,-0.1 1.4,0 1.5,0 1.4,0 1.4,0 1.5,0 1.4,0 1.4,0 1.4,0 1.5,0 1.4,0 1.4,0 1.5,0 1.4,0 1.4,0 1.5,0 1.4,0 1.4,0 1.5,0 1.4,0 1.4,0 1.5,0 1.4,0 1.4,0 1.4,0 1.5,0 1.4,0 1.4,0 1.5,0 1.4,0 1.4,0 1.5,0 1.4,-0.1 1.4,-0.1 1.5,-0.1 1.4,-0.1 1.4,-0.2 1.5,-0.1 1.4,-0.2 1.4,-0.1 1.4,-0.2 1.5,-0.2 1.4,-0.1 1.4,-0.1 1.5,-0.1 1.4,0 1.4,0 1.5,0 1.4,0.1 1.4,0 1.5,0 1.4,0.1 1.4,0 1.4,0.1 1.5,0.1 1.4,0 1.4,0.1 1.5,0.1 1.4,0.1 1.4,0 1.5,0.1 1.4,0.1 1.4,0.1 1.5,0.1 1.4,0.1 1.4,0 1.5,0.1 1.4,0.1 1.4,0 1.4,0.1 1.5,0 1.4,0.1 1.4,0 1.5,0.1 1.4,0 1.4,0 1.5,0 1.4,0 1.4,0 1.5,0 1.4,0 1.4,0 1.5,0 1.4,0 1.4,0 1.4,0 1.5,0 1.4,0 1.4,0 1.5,0 1.4,0 1.4,0 1.5,0 1.4,0 1.4,0 1.5,0 1.4,0 1.4,0 1.4,0 1.5,0 1.4,0 1.4,0 1.5,0 1.4,0 1.4,0 1.5,0 1.4,0 1.4,-0.1 1.5,0 1.4,-0.1 1.4,0 1.5,-0.1 1.4,-0.1 1.4,-0.1 1.4,-0.1 1.5,-0.1 1.4,-0.1 1.4,-0.1 1.5,-0.1 1.4,-0.1 1.4,-0.1 1.5,-0.1 1.4,-0.1 1.4,-0.1 1.5,-0.1 1.4,0 1.4,-0.1 1.5,0 1.4,0 1.4,0.2 1.4,0.4 1.5,0.4 1.4,0.6 1.4,0.5 1.5,0.7 1.4,0.6" stroke="#2224cc" stroke-width="2.4" fill="none" stroke-linejoin="round"/>
<rect x="1138.3" y="886.9" width="427.9" height="350.5" fill="none" stroke="#222" stroke-width="1.6"/>
<line x1="1132.8" y1="1237.4" x2="1138.3" y2="1237.4" stroke="#222" stroke-width="1.6"/>
<text x="1126.8" y="1246.5" font-size="26.5" text-anchor="end">0</text>
<line x1="1132.8" y1="1187.3" x2="1138.3" y2="1187.3" stroke="#222" stroke-width="1.6"/>
<text x="1126.8" y="1196.5" font-size="26.5" text-anchor="end">3</text>
<line x1="1132.8" y1="1137.3" x2="1138.3" y2="1137.3" stroke="#222" stroke-width="1.6"/>
<text x="1126.8" y="1146.4" font-size="26.5" text-anchor="end">6</text>
<line x1="1132.8" y1="1087.2" x2="1138.3" y2="1087.2" stroke="#222" stroke-width="1.6"/>
<text x="1126.8" y="1096.3" font-size="26.5" text-anchor="end">9</text>
<line x1="1132.8" y1="1037.1" x2="1138.3" y2="1037.1" stroke="#222" stroke-width="1.6"/>
<text x="1126.8" y="1046.3" font-size="26.5" text-anchor="end">12</text>
<line x1="1132.8" y1="987.0" x2="1138.3" y2="987.0" stroke="#222" stroke-width="1.6"/>
<text x="1126.8" y="996.2" font-size="26.5" text-anchor="end">15</text>
<line x1="1132.8" y1="937.0" x2="1138.3" y2="937.0" stroke="#222" stroke-width="1.6"/>
<text x="1126.8" y="946.1" font-size="26.5" text-anchor="end">18</text>
<line x1="1132.8" y1="886.9" x2="1138.3" y2="886.9" stroke="#222" stroke-width="1.6"/>
<text x="1126.8" y="896.0" font-size="26.5" text-anchor="end">21</text>
<line x1="1135.3" y1="1212.4" x2="1138.3" y2="1212.4" stroke="#222" stroke-width="1.4"/>
<line x1="1135.3" y1="1162.3" x2="1138.3" y2="1162.3" stroke="#222" stroke-width="1.4"/>
<line x1="1135.3" y1="1112.2" x2="1138.3" y2="1112.2" stroke="#222" stroke-width="1.4"/>
<line x1="1135.3" y1="1062.2" x2="1138.3" y2="1062.2" stroke="#222" stroke-width="1.4"/>
<line x1="1135.3" y1="1012.1" x2="1138.3" y2="1012.1" stroke="#222" stroke-width="1.4"/>
<line x1="1135.3" y1="962.0" x2="1138.3" y2="962.0" stroke="#222" stroke-width="1.4"/>
<line x1="1135.3" y1="911.9" x2="1138.3" y2="911.9" stroke="#222" stroke-width="1.4"/>
<line x1="1138.3" y1="1237.4" x2="1138.3" y2="1242.9" stroke="#222" stroke-width="1.6"/>
<line x1="1245.3" y1="1237.4" x2="1245.3" y2="1242.9" stroke="#222" stroke-width="1.6"/>
<line x1="1352.2" y1="1237.4" x2="1352.2" y2="1242.9" stroke="#222" stroke-width="1.6"/>
<line x1="1459.2" y1="1237.4" x2="1459.2" y2="1242.9" stroke="#222" stroke-width="1.6"/>
<line x1="1566.2" y1="1237.4" x2="1566.2" y2="1242.9" stroke="#222" stroke-width="1.6"/>
<line x1="1191.8" y1="1237.4" x2="1191.8" y2="1240.4" stroke="#222" stroke-width="1.4"/>
<line x1="1298.8" y1="1237.4" x2="1298.8" y2="1240.4" stroke="#222" stroke-width="1.4"/>
<line x1="1405.7" y1="1237.4" x2="1405.7" y2="1240.4" stroke="#222" stroke-width="1.4"/>
<line x1="1512.7" y1="1237.4" x2="1512.7" y2="1240.4" stroke="#222" stroke-width="1.4"/>
<text x="1136.8" y="1269.0" font-size="25.8" text-anchor="middle">0</text>
<text x="1246.2" y="1269.0" font-size="25.8" text-anchor="middle">50</text>
<text x="1355.3" y="1269.0" font-size="25.8" text-anchor="middle">100</text>
<text x="1460.8" y="1269.0" font-size="25.8" text-anchor="middle">150</text>
<text x="1566.2" y="1269.0" font-size="25.8" text-anchor="middle">200</text>
<line x1="1138.3" y1="1237.4" x2="1138.3" y2="1242.9" stroke="#222" stroke-width="1.6"/>
<text x="1399.5" y="1305.2" font-size="26.3" text-anchor="middle">Time (ns)</text>
<text x="1090.5" y="1061.6" font-size="26" text-anchor="middle" transform="rotate(-90 1090.5 1061.6)">Distance (Å)</text>
<text x="1361.3" y="1084.6" font-size="26.8" fill="#a8121c">R143-R24 (Gαq)</text>
<text x="1361.3" y="1208.7" font-size="26.8" fill="#2340c0">R143-E28 (Gαi)</text>
<text x="0" y="0" font-size="60" font-weight="bold" fill="#000" transform="translate(1601.5,856.6) scale(1.2,1)">i</text>
<path d="M1671.2,1041.5l0.5,-6.9 0.5,12.5 0.5,-15.1 0.4,-3.2 0.5,10.5 0.5,-5.7 0.5,1.2 0.5,4.3 0.5,3.1 0.4,7.8 0.5,-22.5 0.5,9.6 0.5,-16.7 0.5,11.1 0.5,3.7 0.4,0.7 0.5,-7.8 0.5,12.5 0.5,-13.5 0.5,13 0.5,-3.7 0.4,11.3 0.5,-25.2 0.5,16.1 0.5,2 0.5,-7.7 0.5,11.3 0.4,9.4 0.5,-7.3 0.5,-11.1 0.5,10.5 0.5,5.3 0.5,-8 0.4,5.9 0.5,-13.1 0.5,3.6 0.5,-3 0.5,2.9 0.5,3 0.4,-2.3 0.5,-6.6 0.5,14.9 0.5,-2.7 0.5,1.5 0.5,-4.7 0.4,3.6 0.5,-17.1 0.5,20.3 0.5,-0.4 0.5,-4.8 0.5,-6 0.4,6.3 0.5,4.8 0.5,-0.7 0.5,-2.6 0.5,-8.4 0.5,13.1 0.4,-5.4 0.5,3.8 0.5,-5.8 0.5,-0.1 0.5,12.5 0.5,-24.9 0.4,14.8 0.5,4.9 0.5,2.9 0.5,-3.9 0.5,-1.6 0.5,-3.4 0.4,4.2 0.5,-2.9 0.5,14 0.5,-5.4 0.5,1.9 0.5,-7.5 0.4,-1.7 0.5,12.7 0.5,-8.4 0.5,-5.8 0.5,-1.2 0.5,13.3 0.5,-11 0.4,1.3 0.5,4.7 0.5,-16 0.5,19.7 0.5,-6 0.5,-5.3 0.4,0.8 0.5,2.1 0.5,-10.7 0.5,-1 0.5,2.9 0.5,-1.1 0.4,6.5 0.5,6.9 0.5,-22.2 0.5,11.1 0.5,-11.6 0.5,15.5 0.4,-15.3 0.5,16 0.5,-7.1 0.5,10 0.5,-15 0.5,-1.6 0.4,13.3 0.5,4.1 0.5,-4.1 0.5,2.1 0.5,-12.3 0.5,6.4 0.4,16.3 0.5,-20.2 0.5,25.4 0.5,-25.8 0.5,22.3 0.5,-12.6 0.4,-5.6 0.5,-10 0.5,21.9 0.5,-15.6 0.5,19.3 0.5,-1.1 0.4,-20.4 0.5,14.3 0.5,-7.8 0.5,-4.1 0.5,5.5 0.5,-3 0.4,0.5 0.5,-1.1 0.5,-6.9 0.5,1.2 0.5,3.5 0.5,-4.4 0.4,9.1 0.5,1 0.5,4.1 0.5,-15.1 0.5,-6 0.5,9.7 0.4,13.2 0.5,-10 0.5,-6.7 0.5,0.9 0.5,1.1 0.5,-6 0.4,0.2 0.5,14.7 0.5,-11.8 0.5,7.6 0.5,-6.6 0.5,-6.7 0.4,-4 0.5,7.2 0.5,-1.6 0.5,8.3 0.5,-6 0.5,9.9 0.4,-6.1 0.5,-4.6 0.5,-2.1 0.5,23 0.5,-19.6 0.5,-6.5 0.5,6.8 0.4,13.2 0.5,-12.6 0.5,-0.3 0.5,4.4 0.5,-3 0.5,10 0.4,-17.7 0.5,5.5 0.5,6.5 0.5,-4.9 0.5,-12.7 0.5,30.7 0.4,1.3 0.5,0.3 0.5,-30 0.5,20.9 0.5,-5.1 0.5,-5.3 0.4,6.4 0.5,-9.8 0.5,14.3 0.5,-9.5 0.5,17.6 0.5,-0.1 0.4,-22.4 0.5,7.4 0.5,0.7 0.5,0.4 0.5,-3.6 0.5,-2.8 0.4,15 0.5,-13 0.5,13.3 0.5,-7.3 0.5,2.8 0.5,-16 0.4,16.4 0.5,-5 0.5,5.6 0.5,2.9 0.5,-13.6 0.5,2.9 0.4,0 0.5,-3.4 0.5,12.8 0.5,-13.4 0.5,12.5 0.5,-9.9 0.4,3.2 0.5,-3.3 0.5,-3.2 0.5,4 0.5,5.8 0.5,-12.4 0.4,-1.9 0.5,3 0.5,-2.4 0.5,18.3 0.5,-12.1 0.5,1.2 0.4,12 0.5,-13.6 0.5,0.8 0.5,9.7 0.5,-4.4 0.5,-6.1 0.4,-3.4 0.5,-0.7 0.5,1.7 0.5,10 0.5,-3.8 0.5,-3 0.4,3.4 0.5,-2.5 0.5,-5.9 0.5,0.1 0.5,3.6 0.5,8.3 0.5,-4.2 0.4,-7 0.5,-2 0.5,-1.2 0.5,13.8 0.5,-3.9 0.5,4.9 0.4,9.1 0.5,-9.9 0.5,9.8 0.5,-26.1 0.5,6 0.5,5.3 0.4,-2.7 0.5,-2.3 0.5,-8.8 0.5,6.4 0.5,-5 0.5,6.8 0.4,-5.4 0.5,-1 0.5,3.4 0.5,5.8 0.5,-7 0.5,9.7 0.4,-12 0.5,19 0.5,-5.5 0.5,-17 0.5,14.9 0.5,-4 0.4,7.7 0.5,-2.6 0.5,-2.7 0.5,4 0.5,-14.8 0.5,12.4 0.4,3.2 0.5,-15.8 0.5,2.3 0.5,19.6 0.5,-11.8 0.5,-10.5 0.4,11.3 0.5,-3.5 0.5,-0.4 0.5,13 0.5,-9.2 0.5,-10.9 0.4,-4.6 0.5,9.9 0.5,0.2 0.5,-4.2 0.5,2.6 0.5,-2 0.4,9.3 0.5,-5.6 0.5,-2.8 0.5,-0.2 0.5,14.5 0.5,-15.2 0.4,5 0.5,0.1 0.5,13 0.5,-11.6 0.5,10.9 0.5,6.4 0.4,-17 0.5,0.8 0.5,-0.4 0.5,-0.8 0.5,5.8 0.5,1.2 0.4,-11.2 0.5,-5.4 0.5,-5.9 0.5,11.5 0.5,-0.2 0.5,-11.5 0.4,22.4 0.5,-3.6 0.5,-3.8 0.5,11.9 0.5,-16.5 0.5,-4 0.5,18.5 0.4,-2.9 0.5,-11.2 0.5,-2.9 0.5,19.7 0.5,-14.4 0.5,5 0.4,10.7 0.5,-9.3 0.5,1 0.5,-4.4 0.5,0.5 0.5,2.2 0.4,-0.7 0.5,0.5 0.5,-3.9 0.5,-2.5 0.5,-1 0.5,14.6 0.4,0.1 0.5,0 0.5,-16.4 0.5,10.7 0.5,9.1 0.5,3.5 0.4,0 0.5,-5.8 0.5,5 0.5,-2.9 0.5,-7.9 0.5,11.4 0.4,-6.5 0.5,16.4 0.5,-11.6 0.5,1.1 0.5,8.7 0.5,-14.3 0.4,9.8 0.5,5.3 0.5,-1.8 0.5,-7.3 0.5,16.1 0.5,-9.2 0.4,8.1 0.5,-7 0.5,5.7 0.5,-2.2 0.5,-4.8 0.5,5.4 0.4,-2.8 0.5,-0.4 0.5,12.7 0.5,-8.8 0.5,1.5 0.5,-3.7 0.4,-3.6 0.5,-4.2 0.5,0.5 0.5,18 0.5,-8.6 0.5,-1.4 0.4,-4.9 0.5,0.7 0.5,16.1 0.5,-11.4 0.5,12.7 0.5,-8.5 0.4,2.6 0.5,-2.4 0.5,-14.8 0.5,13.5 0.5,-0.7 0.5,-4.5 0.4,-6.6 0.5,17.7 0.5,-22.3 0.5,15.2 0.5,1 0.5,-7.8 0.5,4.6 0.4,-21.8 0.5,10.7 0.5,9.3 0.5,-3 0.5,15.1 0.5,-21.9 0.4,15.3 0.5,-10.2 0.5,-10.4 0.5,17.6 0.5,-8.8 0.5,2 0.4,-3.1 0.5,6 0.5,-18 0.5,11.6 0.5,-6.3 0.5,-9.5 0.4,-3.7 0.5,1.9 0.5,21.6 0.5,-13.4 0.5,-0.4 0.5,1.5 0.4,0.1 0.5,-2 0.5,-7.9 0.5,6.5 0.5,5.6 0.5,1.4 0.4,-11.3 0.5,12.3 0.5,-15.7 0.5,8.2 0.5,0.4 0.5,-4.4 0.4,4.4 0.5,6.1 0.5,1 0.5,9.2 0.5,-30.6 0.5,13.7 0.4,18.7 0.5,-27.5 0.5,21 0.5,-22.2 0.5,2 0.5,6.6 0.4,6.2 0.5,6.1 0.5,-11.8 0.5,9.1 0.5,-9.8 0.5,9 0.4,8.5 0.5,-5.7 0.5,-5 0.5,3.6 0.5,-4.1 0.5,6.9 0.4,-16.7 0.5,12.6 0.5,-3.9 0.5,8.3 0.5,-9.5 0.5,-2.7 0.4,3.6 0.5,3.2 0.5,2.5 0.5,-5.7 0.5,0.1 0.5,7 0.4,-4.9 0.5,-2 0.5,5 0.5,-5.3 0.5,3.3 0.5,-6.4 0.4,10.2 0.5,-6.7 0.5,1.5 0.5,7.5 0.5,-3.6 0.5,-0.3 0.5,-6.7 0.4,6.6 0.5,-3 0.5,-0.6 0.5,-9.1 0.5,10.5 0.5,-8.1 0.4,7.9 0.5,5.3 0.5,-2.9 0.5,-9.3 0.5,7.6 0.5,4.2 0.4,-2.1 0.5,-10.6 0.5,6.3 0.5,-0.4 0.5,-5.6 0.5,13.1 0.4,-8.4 0.5,3.9 0.5,-1.6 0.5,2.4 0.5,-3 0.5,-4.2 0.4,0.1 0.5,-2.9 0.5,4.4 0.5,7.5 0.5,5.3 0.5,-13.7 0.4,-3.7 0.5,5.9 0.5,4.1 0.5,-2.5 0.5,-4.4 0.5,8.9 0.4,-4.6 0.5,4.2 0.5,-0.1 0.5,-9.7 0.5,2.8 0.5,-3.2 0.4,4.3 0.5,1.1 0.5,-4.9 0.5,4.1 0.5,-3 0.5,11.7 0.4,-6.6 0.5,7.3 0.5,-5.6 0.5,-5.5 0.5,4.2 0.5,4.4 0.4,-5.7 0.5,-1.2 0.5,2.9 0.5,-3.2 0.5,-1.1 0.5,-0.3 0.4,6.1 0.5,0.2 0.5,1.2 0.5,-1.9 0.5,-4.2 0.5,4.6 0.4,-10 0.5,12.1 0.5,-4 0.5,-3.9 0.5,2.7 0.5,4.5 0.4,-3.7 0.5,3.1 0.5,-5.3 0.5,8.1 0.5,-5.8 0.5,5 0.5,0.7 0.4,-6.7 0.5,2.8 0.5,1.8 0.5,-4.7 0.5,4.6 0.5,3.9 0.4,-6.6 0.5,6.9 0.5,-7.3 0.5,5.4 0.5,-1 0.5,-3.9 0.4,4.6 0.5,5.4 0.5,-4.7 0.5,-3.4 0.5,1.5 0.5,-0.1 0.4,3.9 0.5,-3.2 0.5,-3.8 0.5,-0.6 0.5,5.9 0.5,-1 0.4,0.7 0.5,-7.3 0.5,6.1 0.5,-2 0.5,1.8 0.5,0.1 0.4,-3.1 0.5,-0.9 0.5,2.1 0.5,-6.8 0.5,4.4 0.5,-3.2 0.4,-6.8 0.5,0.6 0.5,7.2 0.5,0.5 0.5,0.7 0.5,-3.4 0.4,9.4 0.5,-4.5 0.5,-2.3 0.5,2.2 0.5,0.7 0.5,-8.7 0.4,10.2 0.5,-4 0.5,0.5 0.5,-0.5 0.5,2.1 0.5,-6.8 0.4,7.4 0.5,-6.6 0.5,7.2 0.5,-5.6 0.5,4.6 0.5,-5 0.4,-3.5 0.5,8.6 0.5,-8 0.5,6.8 0.5,1.2 0.5,-5.5 0.4,-1.5 0.5,2.3 0.5,-0.7 0.5,1.3 0.5,1.8 0.5,6.1 0.4,-6.7 0.5,1.3 0.5,-12.4 0.5,12.8 0.5,-10.6 0.5,5.2 0.4,3.9 0.5,-4 0.5,3.4 0.5,-5.8 0.5,6.4 0.5,-6.9 0.5,9.3 0.4,-4.4 0.5,0.7 0.5,3.1 0.5,-2.2 0.5,-1.2 0.5,4.5 0.4,2.7 0.5,-9 0.5,4.7 0.5,-8.8 0.5,0 0.5,7.7 0.4,-3.1 0.5,-0.7 0.5,-0.7 0.5,0.8 0.5,-0.9 0.5,4.8 0.4,-1.6 0.5,-5 0.5,-5.1 0.5,13.3 0.5,-1.4 0.5,-3.4 0.4,4.1 0.5,0.8 0.5,-4.2 0.5,4.1 0.5,-11.4 0.5,10.3 0.4,-5 0.5,8 0.5,-4.2 0.5,-4.3 0.5,1 0.5,-0.4 0.4,4.6 0.5,-2.9 0.5,1.5 0.5,4.5 0.5,-9.5 0.5,6.8 0.4,-1.7 0.5,-4.1 0.5,0.8 0.5,-7.3 0.5,10 0.5,-5.7 0.4,5.8 0.5,-0.5 0.5,-3.9 0.5,1.5 0.5,4.4 0.5,-1.6 0.4,-1 0.5,-5.6 0.5,9.2 0.5,-3.7 0.5,-1.5 0.5,1.8 0.4,2.4 0.5,-5 0.5,6.6 0.5,-10.8 0.5,17.1 0.5,-2.5 0.4,-7.9 0.5,-1.8 0.5,0.6 0.5,3.9 0.5,-1.6 0.5,-0.7 0.4,3.4 0.5,-1.9 0.5,2.1 0.5,-7.9 0.5,2.7 0.5,11.3 0.5,-8.4 0.4,0.3 0.5,-0.5 0.5,-2.3 0.5,2.4 0.5,0.5 0.5,-3.4 0.4,2 0.5,-0.6 0.5,-0.3 0.5,0.9 0.5,3.5 0.5,-3.3 0.4,-5.5 0.5,7.7 0.5,-0.2 0.5,-1.5 0.5,-0.2 0.5,-6.6 0.4,6.2 0.5,-5.5 0.5,1.4 0.5,1.3 0.5,8.5 0.5,-8.3 0.4,-0.7 0.5,-2.6 0.5,12.1 0.5,-9 0.5,-3 0.5,6.7 0.4,-2.3 0.5,-3.4 0.5,5 0.5,-3 0.5,5.2 0.5,-5 0.4,-0.5 0.5,0.4 0.5,8 0.5,-7.2 0.5,2.4 0.5,-3.6 0.4,2.5 0.5,1.8 0.5,-6.7 0.5,8 0.5,-2.7 0.5,-6 0.4,2.7 0.5,-1.9 0.5,6.9 0.5,-4.4 0.5,8.1 0.5,-0.8 0.4,-8.9 0.5,6.1 0.5,-4.3 0.5,3.9 0.5,-5.6 0.5,-0.1 0.4,5.9 0.5,0 0.5,5.9 0.5,-8 0.5,-0.8 0.5,1.8 0.4,-5.3 0.5,2.9 0.5,-0.4 0.5,2.4 0.5,3.3 0.5,-5.9 0.4,-2.9 0.5,-1.4 0.5,4 0.5,5.4 0.5,0.7 0.5,-5.9 0.4,4.7 0.5,-2.6 0.5,1 0.5,0.7 0.5,0.9 0.5,-4.9 0.5,-0.8 0.4,-2.5 0.5,5.7 0.5,-1.1 0.5,6.8 0.5,-7.4 0.5,-4 0.4,8.1 0.5,-4.6 0.5,3.9 0.5,-3.8 0.5,-0.7 0.5,8.3 0.4,-2 0.5,-0.4 0.5,-2 0.5,-0.9 0.5,0.2 0.5,-0.2 0.4,-0.1 0.5,3.2 0.5,-6.4 0.5,2.2 0.5,-0.9 0.5,2.1 0.4,6.1 0.5,-7 0.5,4.4 0.5,1.1 0.5,-13.1 0.5,6.4 0.4,5 0.5,-4.6 0.5,-1 0.5,3.3 0.5,2.4 0.5,-5.2 0.4,0.9 0.5,0.3 0.5,7 0.5,-6 0.5,-6 0.5,11.8 0.4,-6.7 0.5,5.7 0.5,-1 0.5,-1.3 0.5,-8.2 0.5,8.8 0.4,-7.1 0.5,9.6 0.5,-5.9 0.5,2.6 0.5,1.4 0.5,-0.7 0.4,-5.9 0.5,3.6 0.5,-1 0.5,2.2 0.5,-1.5 0.5,0.3 0.4,-1.5 0.5,3.6 0.5,1.7 0.5,-0.4 0.5,0.1 0.5,-3.9 0.4,5.1 0.5,-5.8 0.5,-5.8 0.5,5.3 0.5,2.5 0.5,-3.3 0.4,2.4 0.5,1 0.5,1.8 0.5,-2.9" stroke="#f29a9c" stroke-width="0.9" fill="none" stroke-linejoin="round" opacity="0.8"/>
<path d="M1671.2,1036.2l1.5,0.1 1.4,0.1 1.5,0.2 1.4,0.2 1.5,0.2 1.4,0.3 1.5,0.3 1.4,0.4 1.5,0.4 1.4,0.3 1.5,0.5 1.4,0.4 1.5,0.4 1.5,0.5 1.4,0.4 1.5,0.6 1.4,0.8 1.5,0.9 1.4,1 1.5,1.1 1.4,1 1.5,1 1.4,1 1.5,0.8 1.4,0.6 1.5,0.4 1.5,0.1 1.4,-0.6 1.5,-1.3 1.4,-1.7 1.5,-1.7 1.4,-1.3 1.5,-0.4 1.4,0.6 1.5,1 1.4,1.2 1.5,0.7 1.4,0 1.5,-0.5 1.5,-0.8 1.4,-1.1 1.5,-1.3 1.4,-1.5 1.5,-1.5 1.4,-1.5 1.5,-1.4 1.4,-1.2 1.5,-1.1 1.4,-0.7 1.5,-0.5 1.4,-0.5 1.5,-0.4 1.5,-0.4 1.4,-0.3 1.5,-0.3 1.4,-0.1 1.5,-0.1 1.4,0.3 1.5,0.5 1.4,0.8 1.5,0.9 1.4,1 1.5,1 1.4,0.9 1.5,0.8 1.5,0.6 1.4,0.2 1.5,-0.1 1.4,-0.7 1.5,-1.2 1.4,-1.3 1.5,-1.3 1.4,-1.2 1.5,-0.9 1.4,-0.3 1.5,-0.1 1.4,-0.2 1.5,0 1.5,-0.1 1.4,-0.1 1.5,0 1.4,-0.1 1.5,0 1.4,0 1.5,-0.1 1.4,-0.1 1.5,0 1.4,-0.1 1.5,-0.1 1.4,-0.2 1.5,-0.4 1.5,-0.7 1.4,-0.8 1.5,-1 1.4,-0.9 1.5,-0.8 1.4,-0.7 1.5,-0.4 1.4,0 1.5,0.5 1.4,1 1.5,1.2 1.4,1 1.5,0.7 1.5,0.2 1.4,0 1.5,0 1.4,0 1.5,0 1.4,0 1.5,0 1.4,0 1.5,0 1.4,0.1 1.5,0.9 1.4,1.9 1.5,2.4 1.5,2.8 1.4,2.9 1.5,2.8 1.4,2.4 1.5,2.1 1.4,2.5 1.5,2.5 1.4,2.4 1.5,2 1.4,1.6 1.5,0.9 1.4,0.2 1.5,-0.4 1.5,-0.6 1.4,-0.9 1.5,-1.2 1.4,-1.2 1.5,-1.4 1.4,-1.5 1.5,-1.4 1.4,-1.5 1.5,-2 1.4,-2.5 1.5,-2.8 1.4,-2.8 1.5,-2.7 1.5,-2.3 1.4,-1.7 1.5,-1 1.4,0 1.5,0.8 1.4,1.5 1.5,1.7 1.4,1.9 1.5,1.7 1.4,1.1 1.5,0.5 1.4,0 1.5,0 1.5,0 1.4,0 1.5,0 1.4,0 1.5,0 1.4,0 1.5,0 1.4,0 1.5,0 1.4,0 1.5,0 1.4,0 1.5,0 1.5,0 1.4,0 1.5,0 1.4,0 1.5,0 1.4,0 1.5,0 1.4,0 1.5,0 1.4,0 1.5,0 1.4,0.1 1.5,0.3 1.5,0.3 1.4,0.3 1.5,0.5 1.4,0.4 1.5,0.5 1.4,0.5 1.5,0.4 1.4,0.4 1.5,0.4 1.4,0.3 1.5,0.2 1.4,0.1 1.5,-0.1 1.5,-0.2 1.4,-0.3 1.5,-0.5 1.4,-0.5 1.5,-0.7 1.4,-0.7 1.5,-0.7 1.4,-0.7 1.5,-0.6 1.4,-0.6 1.5,-0.6 1.4,-0.4 1.5,-0.3 1.5,-0.1 1.4,0 1.5,0 1.4,0 1.5,0 1.4,0 1.5,0 1.4,0 1.5,0 1.4,0 1.5,0 1.4,0 1.5,0 1.5,0 1.4,0 1.5,0 1.4,0 1.5,0 1.4,0 1.5,0 1.4,0 1.5,0 1.4,0 1.5,0 1.4,0 1.5,0 1.5,0 1.4,0 1.5,0 1.4,0 1.5,0 1.4,-0.1 1.5,0 1.4,0 1.5,-0.1 1.4,0 1.5,-0.1 1.4,-0.1 1.5,0 1.5,-0.1 1.4,-0.1 1.5,-0.1 1.4,-0.2 1.5,-0.1 1.4,-0.1 1.5,-0.1 1.4,-0.1 1.5,-0.1 1.4,-0.1 1.5,-0.2 1.4,-0.1 1.5,-0.1 1.5,-0.1 1.4,-0.1 1.5,0 1.4,-0.1 1.5,-0.1 1.4,0 1.5,-0.1 1.4,0 1.5,0 1.4,0 1.5,0.1 1.4,0.2 1.5,0.2 1.5,0.3 1.4,0.3 1.5,0.3 1.4,0.3 1.5,0.3 1.4,0.3 1.5,0.3 1.4,0.3 1.5,0.3 1.4,0.2 1.5,0.1 1.4,0.1 1.5,0.1 1.5,0.2 1.4,0.1 1.5,0.1 1.4,0.1 1.5,0.1 1.4,0.1 1.5,0 1.4,0.1 1.5,0.1 1.4,0 1.5,0.1 1.4,0 1.5,0" stroke="#dc2a2e" stroke-width="2.4" fill="none" stroke-linejoin="round"/>
<path d="M1671.2,1203.7l0.5,-5.2 0.5,-1 0.5,-11.8 0.4,3.6 0.5,-5.1 0.5,-8.5 0.5,-8.7 0.5,9.5 0.5,7.8 0.4,-0.3 0.5,1.3 0.5,-5.9 0.5,-4.1 0.5,7.8 0.5,0.4 0.4,-15.3 0.5,20 0.5,-17.6 0.5,-7.1 0.5,12.8 0.5,0.1 0.4,-4.5 0.5,-14.8 0.5,6.7 0.5,16.2 0.5,-15 0.5,-14.8 0.4,-0.4 0.5,2.7 0.5,11.7 0.5,11.2 0.5,-20.5 0.5,2.8 0.4,-3.1 0.5,-15 0.5,12.9 0.5,-1.4 0.5,-3.5 0.5,8.2 0.4,3.9 0.5,0.7 0.5,-14.7 0.5,2.6 0.5,9.9 0.5,-16.1 0.4,9.7 0.5,15.1 0.5,-19 0.5,7.4 0.5,11.8 0.5,-18 0.4,8.5 0.5,14.7 0.5,-23.8 0.5,27.3 0.5,-9.1 0.5,-8.5 0.4,-6.8 0.5,-8.4 0.5,20.2 0.5,0.3 0.5,-23.8 0.5,6.1 0.4,20.6 0.5,5.8 0.5,-17.9 0.5,0.4 0.5,4.8 0.5,-15.3 0.4,-2.3 0.5,13.7 0.5,-3.1 0.5,-9.3 0.5,9.5 0.5,18.4 0.4,-22.5 0.5,8 0.5,-12.3 0.5,8.1 0.5,-3.2 0.5,-7 0.5,6.4 0.4,5.3 0.5,4.1 0.5,-26.3 0.5,6.6 0.5,15.9 0.5,6.6 0.4,-15.4 0.5,12.1 0.5,-5.4 0.5,-7.4 0.5,7 0.5,2.7 0.4,3.4 0.5,-4.1 0.5,0.8 0.5,-19.7 0.5,5.9 0.5,11.5 0.4,-12 0.5,6.8 0.5,14.6 0.5,-14.7 0.5,-12.1 0.5,14.4 0.4,-16.3 0.5,11 0.5,-4.4 0.5,10.8 0.5,-33 0.5,14.9 0.4,-6.2 0.5,13.7 0.5,9.5 0.5,-26.6 0.5,18.8 0.5,-23.1 0.4,18.1 0.5,-17.3 0.5,23.6 0.5,10.7 0.5,-23.5 0.5,8.2 0.4,0.1 0.5,-9.5 0.5,19.8 0.5,4.9 0.5,-0.4 0.5,5.9 0.4,2.1 0.5,-4.3 0.5,-2.3 0.5,-4.3 0.5,8.1 0.5,-9.8 0.4,-7.9 0.5,10.4 0.5,-5.4 0.5,-3.9 0.5,6.9 0.5,-0.9 0.4,11.7 0.5,9.5 0.5,-12.6 0.5,-1.2 0.5,-13.6 0.5,18.2 0.4,-19.9 0.5,39.5 0.5,-20.5 0.5,1.7 0.5,-1.2 0.5,1.2 0.4,-4.9 0.5,-16.7 0.5,29.6 0.5,-25.7 0.5,12.2 0.5,-2.3 0.4,23.9 0.5,-24.1 0.5,-5.2 0.5,29.3 0.5,-17.8 0.5,2.3 0.5,-28.8 0.4,30.2 0.5,-32.7 0.5,47 0.5,-8.1 0.5,-17 0.5,25.7 0.4,0.3 0.5,-20.3 0.5,-3.5 0.5,-1.3 0.5,-0.7 0.5,9.8 0.4,-32.7 0.5,32.8 0.5,-9.4 0.5,16.8 0.5,-6 0.5,12.7 0.4,-20.5 0.5,6.1 0.5,5.9 0.5,9.7 0.5,-24.8 0.5,1.8 0.4,-4.5 0.5,8.9 0.5,-7.6 0.5,-2.2 0.5,3.9 0.5,-9 0.4,15.4 0.5,-3.6 0.5,20.8 0.5,-39.2 0.5,27.6 0.5,-10.5 0.4,-3 0.5,13.9 0.5,-7.5 0.5,-7.1 0.5,9 0.5,0.9 0.4,0.5 0.5,4.2 0.5,-4.7 0.5,-4.6 0.5,-0.1 0.5,-5.5 0.4,10.9 0.5,6.3 0.5,-12.3 0.5,5.6 0.5,-22.4 0.5,25.7 0.4,-2.6 0.5,2.1 0.5,-2.7 0.5,17.2 0.5,-7.9 0.5,-2.1 0.4,-14.3 0.5,18 0.5,-4.6 0.5,6.8 0.5,18.9 0.5,-31.5 0.4,0.7 0.5,0.2 0.5,25.7 0.5,-15.6 0.5,1.3 0.5,17 0.4,-19.5 0.5,10.5 0.5,-0.1 0.5,10.6 0.5,-7.4 0.5,-1.5 0.5,8 0.4,-15.2 0.5,-12.1 0.5,13 0.5,-6.2 0.5,-0.7 0.5,1.6 0.4,9.1 0.5,15.1 0.5,-22 0.5,6.7 0.5,1.3 0.5,-11.5 0.4,1.8 0.5,20.6 0.5,-17.5 0.5,5.5 0.5,-10.5 0.5,7.6 0.4,-9.2 0.5,15.4 0.5,-10.5 0.5,8.8 0.5,-3.9 0.5,-13.3 0.4,-1.1 0.5,20.5 0.5,-11 0.5,11.4 0.5,2 0.5,-8.9 0.4,8.2 0.5,-17 0.5,8.3 0.5,-2.5 0.5,-10.3 0.5,-11.4 0.4,19.6 0.5,13.1 0.5,-15.9 0.5,-4.6 0.5,-11.9 0.5,10.7 0.4,7.5 0.5,-18.3 0.5,-2.2 0.5,11.9 0.5,-5.2 0.5,-1.1 0.4,-22 0.5,30.8 0.5,-2 0.5,-3.1 0.5,-8.1 0.5,9.8 0.4,-0.8 0.5,-11 0.5,-10.6 0.5,20.7 0.5,1.5 0.5,0.1 0.4,14.8 0.5,-6.7 0.5,-13 0.5,0 0.5,-23.8 0.5,13.1 0.4,4.5 0.5,-6.8 0.5,20.6 0.5,-0.8 0.5,1.7 0.5,-5.8 0.4,-27.4 0.5,28.4 0.5,3.7 0.5,-6.7 0.5,-7.8 0.5,-15 0.4,14.8 0.5,20 0.5,-3.3 0.5,-6.2 0.5,-3.2 0.5,-12.3 0.5,25.7 0.4,-18.6 0.5,8.6 0.5,-8.1 0.5,12.5 0.5,7.3 0.5,-24.9 0.4,8.8 0.5,21.9 0.5,-25.6 0.5,16.8 0.5,-8.6 0.5,-0.7 0.4,13.1 0.5,-23.8 0.5,16 0.5,-8.6 0.5,-1.1 0.5,-0.2 0.4,2.4 0.5,-23.1 0.5,35.7 0.5,-2.4 0.5,-1.3 0.5,-17.8 0.4,0.8 0.5,9.3 0.5,-2 0.5,18.5 0.5,-30.8 0.5,16.4 0.4,-3.6 0.5,3.9 0.5,-9.6 0.5,8.2 0.5,-3.6 0.5,0 0.4,16.4 0.5,-10.1 0.5,-10.1 0.5,-0.2 0.5,2.1 0.5,-13.2 0.4,26.1 0.5,5.6 0.5,-14.3 0.5,-16.6 0.5,12.6 0.5,17.2 0.4,-33.6 0.5,10.5 0.5,19.4 0.5,-6.6 0.5,-9.2 0.5,6.4 0.4,-4.2 0.5,-6.4 0.5,5.2 0.5,-13.3 0.5,15.9 0.5,-15.9 0.4,21 0.5,6.3 0.5,14.9 0.5,-16.3 0.5,-8.6 0.5,-7.7 0.4,35.6 0.5,-24.4 0.5,25.7 0.5,-31.8 0.5,12.4 0.5,-7.7 0.4,-14.5 0.5,16.6 0.5,2.6 0.5,-11.4 0.5,1.3 0.5,9.8 0.5,13.5 0.4,-12.7 0.5,12.5 0.5,-18.7 0.5,-4.1 0.5,4.6 0.5,-17.9 0.4,28.7 0.5,-15.6 0.5,3.2 0.5,11.5 0.5,-16.8 0.5,-3.6 0.4,-3.1 0.5,12.3 0.5,-8 0.5,12.5 0.5,-21 0.5,3.5 0.4,9.7 0.5,-0.4 0.5,13 0.5,-10.1 0.5,4.3 0.5,-5.2 0.4,16.7 0.5,-30.4 0.5,16.1 0.5,-8 0.5,6.4 0.5,8.3 0.4,-21 0.5,8.5 0.5,26.2 0.5,-13.5 0.5,2.8 0.5,6.5 0.4,-28.1 0.5,34 0.5,-25.9 0.5,32.6 0.5,-29.3 0.5,19.5 0.4,21.3 0.5,-27.4 0.5,-1.2 0.5,14.3 0.5,-18.7 0.5,27.6 0.4,-26.9 0.5,5.8 0.5,-11.4 0.5,21.7 0.5,-12.3 0.5,14.4 0.4,-13.6 0.5,5.8 0.5,-5.3 0.5,20.4 0.5,-17.2 0.5,1.3 0.4,-11 0.5,16.7 0.5,-0.7 0.5,-4.1 0.5,0.7 0.5,15.7 0.4,-11.4 0.5,-5.8 0.5,6.3 0.5,7.8 0.5,-7.7 0.5,-1.5 0.4,4.8 0.5,-5.2 0.5,6.1 0.5,-4.6 0.5,0.3 0.5,-10.3 0.4,7.3 0.5,-4.7 0.5,5.4 0.5,7 0.5,0.1 0.5,-9.9 0.5,12.2 0.4,0 0.5,-9.5 0.5,5.5 0.5,1.6 0.5,-14.3 0.5,12.9 0.4,-7.7 0.5,3.3 0.5,-0.9 0.5,0.4 0.5,-5 0.5,-2.5 0.4,12.3 0.5,-12.6 0.5,8.8 0.5,-0.3 0.5,-4.4 0.5,6.2 0.4,1.8 0.5,-12.5 0.5,10.6 0.5,7.8 0.5,2.4 0.5,-15 0.4,2.3 0.5,-9.7 0.5,14.8 0.5,0.1 0.5,-6.4 0.5,-6.7 0.4,-0.5 0.5,7 0.5,3.4 0.5,-4.1 0.5,-7.1 0.5,8.1 0.4,-1.2 0.5,-1.6 0.5,6.9 0.5,-9.9 0.5,-5.9 0.5,7.7 0.4,2.8 0.5,2.3 0.5,-0.4 0.5,-3.9 0.5,-1.1 0.5,7 0.4,-0.5 0.5,-1.1 0.5,3.5 0.5,-10.3 0.5,11.7 0.5,-6.6 0.4,-4.1 0.5,10.3 0.5,-0.6 0.5,-3.4 0.5,-3.2 0.5,1.8 0.4,0.8 0.5,-12.5 0.5,15.9 0.5,0.6 0.5,-6.7 0.5,2.7 0.4,-4.2 0.5,-0.7 0.5,17.1 0.5,-0.9 0.5,-13.6 0.5,3.1 0.4,-1.7 0.5,6 0.5,-8.8 0.5,5.2 0.5,-4 0.5,-1.9 0.5,-5.6 0.4,10.6 0.5,-4.5 0.5,-9.4 0.5,20.2 0.5,-10.7 0.5,11.3 0.4,2.5 0.5,-17.6 0.5,10.9 0.5,-4.3 0.5,2.4 0.5,-6.6 0.4,11.7 0.5,-1.5 0.5,-13.3 0.5,5.7 0.5,6.9 0.5,-2.9 0.4,10.9 0.5,-11.8 0.5,5.1 0.5,-1.9 0.5,-12.7 0.5,10.4 0.4,0.4 0.5,2.5 0.5,-9.2 0.5,0.6 0.5,7.1 0.5,4.2 0.4,-7.4 0.5,-1.8 0.5,10.9 0.5,-16.1 0.5,10.6 0.5,-5.2 0.4,4.6 0.5,-0.1 0.5,-8.6 0.5,4.3 0.5,8.3 0.5,-9.5 0.4,-2.4 0.5,5.2 0.5,-6.4 0.5,10.4 0.5,-9.6 0.5,3.8 0.4,0.4 0.5,-1.6 0.5,-1 0.5,5.3 0.5,-4.2 0.5,6.2 0.4,-6 0.5,-4.1 0.5,0.6 0.5,9.9 0.5,-2.3 0.5,-4.4 0.4,0.3 0.5,6.9 0.5,-4.8 0.5,-0.8 0.5,-5.8 0.5,6.7 0.4,1.7 0.5,5.1 0.5,1.6 0.5,-11.7 0.5,4.4 0.5,2.7 0.4,-7.3 0.5,2.6 0.5,3 0.5,-4.2 0.5,5.8 0.5,-5.8 0.4,1.7 0.5,4.1 0.5,-0.2 0.5,1.7 0.5,-8.4 0.5,5.2 0.5,4.5 0.4,-9 0.5,-0.8 0.5,4.3 0.5,-1.1 0.5,2.9 0.5,1.1 0.4,-7.5 0.5,10 0.5,2 0.5,-1.1 0.5,-11.3 0.5,9.8 0.4,-4.1 0.5,4.9 0.5,-1.3 0.5,-4.4 0.5,-0.3 0.5,-10.8 0.4,11.1 0.5,-2.6 0.5,-9 0.5,3 0.5,3.9 0.5,-1.5 0.4,4.8 0.5,0.3 0.5,-2 0.5,5.6 0.5,-13.1 0.5,8.9 0.4,-2.9 0.5,5.5 0.5,3.7 0.5,2.8 0.5,4.4 0.5,-16.3 0.4,12.1 0.5,-6.1 0.5,-2.6 0.5,-5 0.5,7.9 0.5,1.2 0.4,-2.4 0.5,-4.1 0.5,16.3 0.5,-16.1 0.5,-1.3 0.5,11.4 0.4,-10.7 0.5,6 0.5,-0.6 0.5,-4.1 0.5,10.6 0.5,-11.8 0.4,8 0.5,-7.6 0.5,4.4 0.5,-1.8 0.5,5.7 0.5,-4 0.4,12.5 0.5,-9.2 0.5,3.7 0.5,-6.9 0.5,4.8 0.5,-17.1 0.4,16.5 0.5,6.6 0.5,-16.8 0.5,7.5 0.5,-4.4 0.5,2.2 0.4,4.3 0.5,-1 0.5,2.5 0.5,-4.9 0.5,-4 0.5,10.1 0.5,-11.8 0.4,2 0.5,10 0.5,-2.9 0.5,-6.2 0.5,0.5 0.5,-10.4 0.4,11.9 0.5,-5 0.5,7.4 0.5,-7.7 0.5,5.1 0.5,0.3 0.4,-1.4 0.5,0.6 0.5,8.8 0.5,-12 0.5,9.4 0.5,-10.1 0.4,0.8 0.5,-0.3 0.5,6.6 0.5,-4.6 0.5,-2.2 0.5,6.3 0.4,4.8 0.5,-16.4 0.5,10 0.5,1.3 0.5,2.5 0.5,1.2 0.4,6.7 0.5,-7.6 0.5,0 0.5,-1.1 0.5,-14.5 0.5,10.5 0.4,-0.7 0.5,-0.4 0.5,4.3 0.5,-10.7 0.5,0.3 0.5,10.1 0.4,-10.5 0.5,2.7 0.5,-9.6 0.5,6.9 0.5,13.6 0.5,-5.1 0.4,-6.3 0.5,1.1 0.5,-3.5 0.5,7.1 0.5,-2 0.5,-6.3 0.4,4.5 0.5,3.2 0.5,-12.5 0.5,12.6 0.5,-1.2 0.5,6.3 0.4,-6.9 0.5,10.2 0.5,-16.8 0.5,19.3 0.5,-15.9 0.5,8.9 0.4,-6.2 0.5,-5.9 0.5,7.7 0.5,-2.5 0.5,5.9 0.5,-9.3 0.4,-0.3 0.5,10 0.5,-9 0.5,4.3 0.5,3 0.5,-6.9 0.4,9.8 0.5,-6.6 0.5,8.5 0.5,-5.5 0.5,5.3 0.5,-7.5 0.5,-3.7 0.4,-0.5 0.5,2.9 0.5,1.1 0.5,3.5 0.5,-0.3 0.5,2.9 0.4,-15.4 0.5,11 0.5,0.3 0.5,-1.4 0.5,5 0.5,-12.7 0.4,10.8 0.5,10 0.5,-21.4 0.5,2.9 0.5,2.8 0.5,5.9 0.4,-9.9 0.5,7.4 0.5,-1.3 0.5,-4.5 0.5,5.1 0.5,3.2 0.4,8.8 0.5,-16.9 0.5,17.5 0.5,-7.5 0.5,0.8 0.5,-1.7 0.4,-0.6 0.5,-4.4 0.5,4.2 0.5,11 0.5,-12.5 0.5,6.2 0.4,-4 0.5,4.6 0.5,-5.9 0.5,0.8 0.5,-5.5 0.5,1.8 0.4,-2.6 0.5,12.5 0.5,-14.6 0.5,9.7 0.5,-4.8 0.5,-1.2 0.4,-0.5 0.5,4.5 0.5,6.6 0.5,-11.4 0.5,-2.3 0.5,0.4 0.4,0.2 0.5,-2.5 0.5,3.6 0.5,6.8 0.5,-5.8 0.5,9.4 0.4,-5.3 0.5,-0.8 0.5,-13.1 0.5,15.3 0.5,-0.3 0.5,-4.9 0.4,1.4 0.5,11.3 0.5,2.8 0.5,-20 0.5,2.3 0.5,3 0.4,1.5 0.5,5 0.5,4.7 0.5,-9.8" stroke="#9c9cf0" stroke-width="0.9" fill="none" stroke-linejoin="round" opacity="0.8"/>
<path d="M1671.2,1192.9l1.5,-4.6 1.4,-4.4 1.5,-4.1 1.4,-3.8 1.5,-3.7 1.4,-3.5 1.5,-3.3 1.4,-3 1.5,-2.4 1.4,-2.2 1.5,-2 1.4,-1.7 1.5,-0.9 1.5,-0.1 1.4,0.3 1.5,0.3 1.4,0.4 1.5,0.1 1.4,-0.3 1.5,-0.6 1.4,-1 1.5,-1.1 1.4,-1.2 1.5,-1.1 1.4,-0.9 1.5,-0.6 1.5,-0.2 1.4,0.9 1.5,1.7 1.4,1.9 1.5,1.2 1.4,-0.2 1.5,-1.9 1.4,-3 1.5,-3.6 1.4,-3.7 1.5,-3.2 1.4,-2.3 1.5,-0.7 1.5,0.8 1.4,1.7 1.5,2.3 1.4,2.6 1.5,2.5 1.4,2.1 1.5,2.3 1.4,2.4 1.5,2 1.4,1.1 1.5,0 1.4,-0.5 1.5,-0.9 1.5,-0.8 1.4,-0.8 1.5,-0.4 1.4,0.1 1.5,0.5 1.4,0.8 1.5,0.9 1.4,0.9 1.5,0.8 1.4,0.5 1.5,0.2 1.4,0 1.5,0 1.5,0 1.4,0 1.5,0 1.4,0 1.5,0.9 1.4,1.8 1.5,2.4 1.4,2.6 1.5,2.5 1.4,1.9 1.5,1.9 1.4,1.9 1.5,1.6 1.5,1.1 1.4,0.5 1.5,0.4 1.4,0.4 1.5,0.3 1.4,0.3 1.5,0.2 1.4,0.2 1.5,0.1 1.4,0 1.5,-0.4 1.4,-1.3 1.5,-2 1.5,-2 1.4,-1.8 1.5,-2 1.4,-2.3 1.5,-2.2 1.4,-1.9 1.5,-1.2 1.4,-0.5 1.5,-0.2 1.4,-0.2 1.5,-0.1 1.4,-0.2 1.5,-0.1 1.5,-0.1 1.4,-0.1 1.5,0 1.4,-0.1 1.5,0 1.4,0.1 1.5,0.3 1.4,0.4 1.5,0.5 1.4,0.4 1.5,0.4 1.4,0.2 1.5,0 1.5,-0.2 1.4,-0.5 1.5,-0.6 1.4,-0.8 1.5,-0.8 1.4,-0.9 1.5,-0.9 1.4,-0.8 1.5,-0.6 1.4,-0.5 1.5,-0.3 1.4,0.1 1.5,1.2 1.5,2 1.4,2.3 1.5,2.1 1.4,1.4 1.5,0.1 1.4,-0.6 1.5,-1.1 1.4,-1.3 1.5,-1.4 1.4,-1.2 1.5,-1 1.4,-0.3 1.5,0.5 1.5,1.5 1.4,2 1.5,2 1.4,2 1.5,2.3 1.4,2.7 1.5,2.8 1.4,2.7 1.5,2.3 1.4,1.7 1.5,0.9 1.4,0.4 1.5,0.4 1.5,0.3 1.4,0.3 1.5,0.2 1.4,0.3 1.5,0.1 1.4,0.2 1.5,0.1 1.4,0 1.5,0 1.4,-0.1 1.5,-0.1 1.4,-0.1 1.5,-0.2 1.5,-0.2 1.4,-0.2 1.5,-0.3 1.4,-0.2 1.5,-0.2 1.4,-0.2 1.5,-0.2 1.4,-0.2 1.5,-0.1 1.4,0 1.5,0 1.4,0.2 1.5,0.4 1.5,0.5 1.4,0.4 1.5,0.4 1.4,0.3 1.5,0.1 1.4,0 1.5,-0.1 1.4,-0.2 1.5,-0.1 1.4,-0.2 1.5,-0.2 1.4,-0.3 1.5,-0.2 1.5,-0.2 1.4,-0.3 1.5,-0.1 1.4,-0.2 1.5,-0.1 1.4,-0.1 1.5,0 1.4,0 1.5,0.1 1.4,0.1 1.5,0.2 1.4,0.2 1.5,0.2 1.5,0.3 1.4,0.2 1.5,0.2 1.4,0.2 1.5,0.2 1.4,0.2 1.5,0.1 1.4,0.1 1.5,0 1.4,-0.1 1.5,-0.1 1.4,-0.2 1.5,-0.3 1.5,-0.2 1.4,-0.3 1.5,-0.3 1.4,-0.3 1.5,-0.2 1.4,-0.2 1.5,-0.1 1.4,0 1.5,0.1 1.4,0.2 1.5,0.2 1.4,0.3 1.5,0.4 1.5,0.3 1.4,0.3 1.5,0.2 1.4,0.2 1.5,0.1 1.4,0 1.5,0 1.4,0 1.5,-0.1 1.4,-0.1 1.5,0 1.4,-0.1 1.5,-0.1 1.5,-0.1 1.4,-0.1 1.5,-0.1 1.4,-0.1 1.5,-0.1 1.4,-0.1 1.5,-0.1 1.4,-0.2 1.5,-0.1 1.4,-0.1 1.5,-0.1 1.4,-0.1 1.5,-0.1 1.5,-0.1 1.4,-0.1 1.5,-0.1 1.4,0 1.5,-0.1 1.4,-0.1 1.5,0 1.4,0 1.5,0 1.4,0 1.5,0 1.4,0 1.5,0 1.5,0 1.4,0.1 1.5,0 1.4,0 1.5,0.1 1.4,0 1.5,0.1 1.4,0 1.5,0.1 1.4,0.1 1.5,0.1 1.4,0 1.5,0.1 1.5,0.1 1.4,0.1 1.5,0.1 1.4,0.1 1.5,0.1 1.4,0.1 1.5,0.2 1.4,0.1 1.5,0.1 1.4,0.2 1.5,0.1 1.4,0.2 1.5,0.1" stroke="#2224cc" stroke-width="2.4" fill="none" stroke-linejoin="round"/>
<rect x="1671.2" y="884.2" width="434.7" height="350.8" fill="none" stroke="#222" stroke-width="1.6"/>
<line x1="1665.7" y1="1235.0" x2="1671.2" y2="1235.0" stroke="#222" stroke-width="1.6"/>
<text x="1656.2" y="1243.5" font-size="24.5" text-anchor="end">0</text>
<line x1="1665.7" y1="1164.8" x2="1671.2" y2="1164.8" stroke="#222" stroke-width="1.6"/>
<text x="1656.2" y="1173.3" font-size="24.5" text-anchor="end">3</text>
<line x1="1665.7" y1="1094.7" x2="1671.2" y2="1094.7" stroke="#222" stroke-width="1.6"/>
<text x="1656.2" y="1103.1" font-size="24.5" text-anchor="end">6</text>
<line x1="1665.7" y1="1024.5" x2="1671.2" y2="1024.5" stroke="#222" stroke-width="1.6"/>
<text x="1656.2" y="1033.0" font-size="24.5" text-anchor="end">9</text>
<line x1="1665.7" y1="954.4" x2="1671.2" y2="954.4" stroke="#222" stroke-width="1.6"/>
<text x="1656.2" y="962.8" font-size="24.5" text-anchor="end">12</text>
<line x1="1665.7" y1="884.2" x2="1671.2" y2="884.2" stroke="#222" stroke-width="1.6"/>
<text x="1656.2" y="892.7" font-size="24.5" text-anchor="end">15</text>
<line x1="1668.2" y1="1199.9" x2="1671.2" y2="1199.9" stroke="#222" stroke-width="1.4"/>
<line x1="1668.2" y1="1129.8" x2="1671.2" y2="1129.8" stroke="#222" stroke-width="1.4"/>
<line x1="1668.2" y1="1059.6" x2="1671.2" y2="1059.6" stroke="#222" stroke-width="1.4"/>
<line x1="1668.2" y1="989.4" x2="1671.2" y2="989.4" stroke="#222" stroke-width="1.4"/>
<line x1="1668.2" y1="919.3" x2="1671.2" y2="919.3" stroke="#222" stroke-width="1.4"/>
<line x1="1671.2" y1="1235.0" x2="1671.2" y2="1240.5" stroke="#222" stroke-width="1.6"/>
<line x1="1779.9" y1="1235.0" x2="1779.9" y2="1240.5" stroke="#222" stroke-width="1.6"/>
<line x1="1888.6" y1="1235.0" x2="1888.6" y2="1240.5" stroke="#222" stroke-width="1.6"/>
<line x1="1997.2" y1="1235.0" x2="1997.2" y2="1240.5" stroke="#222" stroke-width="1.6"/>
<line x1="2105.9" y1="1235.0" x2="2105.9" y2="1240.5" stroke="#222" stroke-width="1.6"/>
<line x1="1725.5" y1="1235.0" x2="1725.5" y2="1238.0" stroke="#222" stroke-width="1.4"/>
<line x1="1834.2" y1="1235.0" x2="1834.2" y2="1238.0" stroke="#222" stroke-width="1.4"/>
<line x1="1942.9" y1="1235.0" x2="1942.9" y2="1238.0" stroke="#222" stroke-width="1.4"/>
<line x1="2051.6" y1="1235.0" x2="2051.6" y2="1238.0" stroke="#222" stroke-width="1.4"/>
<text x="1668.2" y="1272.3" font-size="25.8" text-anchor="middle">0</text>
<text x="1782.6" y="1272.3" font-size="25.8" text-anchor="middle">50</text>
<text x="1884.0" y="1272.3" font-size="25.8" text-anchor="middle">100</text>
<text x="1999.0" y="1272.3" font-size="25.8" text-anchor="middle">150</text>
<text x="2102.0" y="1272.3" font-size="25.8" text-anchor="middle">200</text>
<line x1="1671.2" y1="1235.0" x2="1671.2" y2="1240.5" stroke="#222" stroke-width="1.6"/>
<text x="1896.0" y="1294.7" font-size="26.3" text-anchor="middle">Time (ns)</text>
<text x="1630.0" y="1048.5" font-size="28" text-anchor="middle" transform="rotate(-90 1630.0 1048.5)">Distance (Å)</text>
<text x="1885.0" y="1021.5" font-size="26.9" fill="#a8121c">R214-E318 (Gαq)</text>
<text x="1885.0" y="1146.0" font-size="26.9" fill="#2340c0">R214-I323 (Gαi)</text>
<text x="0" y="0" font-size="59" font-weight="bold" fill="#000" transform="translate(1059.0,43.6) scale(1.17,1)">d</text>
<rect x="1092.9" y="68.9" width="482.1" height="675.7" fill="none" stroke="#111" stroke-width="2" stroke-dasharray="3.8,2.2"/>
<path d="M1226.0,168.0 C1228.3,165.0 1234.0,154.7 1240.0,150.0 C1246.0,145.3 1254.5,142.7 1262.0,140.0 C1269.5,137.3 1280.0,136.0 1285.0,134.0 C1290.0,132.0 1287.8,128.7 1292.0,128.0 C1296.2,127.3 1304.5,128.7 1310.0,130.0 C1315.5,131.3 1320.3,132.7 1325.0,136.0 C1329.7,139.3 1334.5,144.7 1338.0,150.0 C1341.5,155.3 1343.7,163.3 1346.0,168.0 C1348.3,172.7 1350.3,174.3 1352.0,178.0 C1353.7,181.7 1355.3,188.0 1356.0,190.0" stroke="#0e5a0e" stroke-width="4.800000000000001" fill="none" stroke-linecap="round" stroke-linejoin="round"/>
<path d="M1226.0,168.0 C1228.3,165.0 1234.0,154.7 1240.0,150.0 C1246.0,145.3 1254.5,142.7 1262.0,140.0 C1269.5,137.3 1280.0,136.0 1285.0,134.0 C1290.0,132.0 1287.8,128.7 1292.0,128.0 C1296.2,127.3 1304.5,128.7 1310.0,130.0 C1315.5,131.3 1320.3,132.7 1325.0,136.0 C1329.7,139.3 1334.5,144.7 1338.0,150.0 C1341.5,155.3 1343.7,163.3 1346.0,168.0 C1348.3,172.7 1350.3,174.3 1352.0,178.0 C1353.7,181.7 1355.3,188.0 1356.0,190.0" stroke="#26ee1e" stroke-width="2.6" fill="none" stroke-linecap="round" stroke-linejoin="round"/>
<path d="M1232.0,160.0 C1235.0,158.3 1245.5,152.7 1250.0,150.0 C1254.5,147.3 1257.5,145.0 1259.0,144.0" stroke="#0e5a0e" stroke-width="5.4" fill="none" stroke-linecap="round" stroke-linejoin="round"/>
<path d="M1232.0,160.0 C1235.0,158.3 1245.5,152.7 1250.0,150.0 C1254.5,147.3 1257.5,145.0 1259.0,144.0" stroke="#26ee1e" stroke-width="3.2" fill="none" stroke-linecap="round" stroke-linejoin="round"/>
<path d="M1262.0,176.0 C1263.0,173.3 1264.2,163.3 1268.0,160.0 C1271.8,156.7 1280.5,156.0 1285.0,156.0 C1289.5,156.0 1292.8,156.8 1295.0,160.0 C1297.2,163.2 1298.2,170.0 1298.0,175.0 C1297.8,180.0 1294.7,187.5 1294.0,190.0" stroke="#0e5a0e" stroke-width="5.6" fill="none" stroke-linecap="round" stroke-linejoin="round"/>
<path d="M1262.0,176.0 C1263.0,173.3 1264.2,163.3 1268.0,160.0 C1271.8,156.7 1280.5,156.0 1285.0,156.0 C1289.5,156.0 1292.8,156.8 1295.0,160.0 C1297.2,163.2 1298.2,170.0 1298.0,175.0 C1297.8,180.0 1294.7,187.5 1294.0,190.0" stroke="#26ee1e" stroke-width="3.4" fill="none" stroke-linecap="round" stroke-linejoin="round"/>
<path d="M1250.0,185.0 C1252.0,183.8 1257.0,178.8 1262.0,178.0 C1267.0,177.2 1275.3,178.3 1280.0,180.0 C1284.7,181.7 1289.7,185.5 1290.0,188.0 C1290.3,190.5 1286.2,193.8 1282.0,195.0 C1277.8,196.2 1270.0,195.8 1265.0,195.0 C1260.0,194.2 1254.2,190.8 1252.0,190.0" stroke="#0e5a0e" stroke-width="5.2" fill="none" stroke-linecap="round" stroke-linejoin="round"/>
<path d="M1250.0,185.0 C1252.0,183.8 1257.0,178.8 1262.0,178.0 C1267.0,177.2 1275.3,178.3 1280.0,180.0 C1284.7,181.7 1289.7,185.5 1290.0,188.0 C1290.3,190.5 1286.2,193.8 1282.0,195.0 C1277.8,196.2 1270.0,195.8 1265.0,195.0 C1260.0,194.2 1254.2,190.8 1252.0,190.0" stroke="#26ee1e" stroke-width="3.0" fill="none" stroke-linecap="round" stroke-linejoin="round"/>
<path d="M1365.0,200.0 C1366.7,197.0 1370.5,185.7 1375.0,182.0 C1379.5,178.3 1386.5,177.3 1392.0,178.0 C1397.5,178.7 1403.7,182.7 1408.0,186.0 C1412.3,189.3 1417.0,193.7 1418.0,198.0 C1419.0,202.3 1417.3,209.2 1414.0,212.0 C1410.7,214.8 1402.8,215.7 1398.0,215.0 C1393.2,214.3 1387.2,209.2 1385.0,208.0" stroke="#0e5a0e" stroke-width="5.0" fill="none" stroke-linecap="round" stroke-linejoin="round"/>
<path d="M1365.0,200.0 C1366.7,197.0 1370.5,185.7 1375.0,182.0 C1379.5,178.3 1386.5,177.3 1392.0,178.0 C1397.5,178.7 1403.7,182.7 1408.0,186.0 C1412.3,189.3 1417.0,193.7 1418.0,198.0 C1419.0,202.3 1417.3,209.2 1414.0,212.0 C1410.7,214.8 1402.8,215.7 1398.0,215.0 C1393.2,214.3 1387.2,209.2 1385.0,208.0" stroke="#26ee1e" stroke-width="2.8" fill="none" stroke-linecap="round" stroke-linejoin="round"/>
<path d="M1340.0,190.0 C1342.5,191.7 1350.8,197.0 1355.0,200.0 C1359.2,203.0 1363.3,206.7 1365.0,208.0" stroke="#0e5a0e" stroke-width="4.800000000000001" fill="none" stroke-linecap="round" stroke-linejoin="round"/>
<path d="M1340.0,190.0 C1342.5,191.7 1350.8,197.0 1355.0,200.0 C1359.2,203.0 1363.3,206.7 1365.0,208.0" stroke="#26ee1e" stroke-width="2.6" fill="none" stroke-linecap="round" stroke-linejoin="round"/>
<path d="M1212.5,168.1l1.5,0.8 2.9,1 4.1,1.4 4.7,1.8 4.8,2.1 4.2,2.5 3.2,2.6 1.8,2.6 0.2,2.7" stroke="#0e5a0e" stroke-width="4.9" fill="none" stroke-linecap="round" stroke-linejoin="round"/>
<path d="M1212.5,168.1l1.5,0.8 2.9,1 4.1,1.4 4.7,1.8 4.8,2.1 4.2,2.5 3.2,2.6 1.8,2.6 0.2,2.7" stroke="#26ee1e" stroke-width="2.7" fill="none" stroke-linecap="round" stroke-linejoin="round"/>
<path d="M1208.6,198l1.8,0.9 3.2,1.1 4.1,1.5 4.7,1.8 4.7,2.1 4.3,2.5 3.3,2.6 2,2.7 0.4,2.6" stroke="#0e5a0e" stroke-width="4.9" fill="none" stroke-linecap="round" stroke-linejoin="round"/>
<path d="M1208.6,198l1.8,0.9 3.2,1.1 4.1,1.5 4.7,1.8 4.7,2.1 4.3,2.5 3.3,2.6 2,2.7 0.4,2.6" stroke="#26ee1e" stroke-width="2.7" fill="none" stroke-linecap="round" stroke-linejoin="round"/>
<path d="M1202.8,228.7l1,0.6 2.5,0.9 3.8,1.3 4.7,1.6 5.1,1.9 4.9,2.3 4.4,2.5 3.3,2.7 1.8,2.7 0.3,2.7" stroke="#0e5a0e" stroke-width="4.9" fill="none" stroke-linecap="round" stroke-linejoin="round"/>
<path d="M1202.8,228.7l1,0.6 2.5,0.9 3.8,1.3 4.7,1.6 5.1,1.9 4.9,2.3 4.4,2.5 3.3,2.7 1.8,2.7 0.3,2.7" stroke="#26ee1e" stroke-width="2.7" fill="none" stroke-linecap="round" stroke-linejoin="round"/>
<path d="M1199.2,260.5l1.3,0.6 2.9,1 4,1.3 4.9,1.7 5.2,2 4.9,2.3 4.1,2.6 2.8,2.8 1.3,2.7 -0.4,2.6" stroke="#0e5a0e" stroke-width="4.9" fill="none" stroke-linecap="round" stroke-linejoin="round"/>
<path d="M1199.2,260.5l1.3,0.6 2.9,1 4,1.3 4.9,1.7 5.2,2 4.9,2.3 4.1,2.6 2.8,2.8 1.3,2.7 -0.4,2.6" stroke="#26ee1e" stroke-width="2.7" fill="none" stroke-linecap="round" stroke-linejoin="round"/>
<path d="M1197.5,291.1l1.1,0.7 2.6,0.9 4,1.3 4.8,1.7 5,2.1 4.7,2.3 3.8,2.6 2.5,2.7 0.8,2.7 -0.9,2.6" stroke="#0e5a0e" stroke-width="4.9" fill="none" stroke-linecap="round" stroke-linejoin="round"/>
<path d="M1197.5,291.1l1.1,0.7 2.6,0.9 4,1.3 4.8,1.7 5,2.1 4.7,2.3 3.8,2.6 2.5,2.7 0.8,2.7 -0.9,2.6" stroke="#26ee1e" stroke-width="2.7" fill="none" stroke-linecap="round" stroke-linejoin="round"/>
<path d="M1196.4,320.8l2.5,0.9 3.9,1.2 4.9,1.6 5.2,2.1 4.9,2.4 4,2.6 2.4,2.8 0.7,2.8" stroke="#0e5a0e" stroke-width="4.9" fill="none" stroke-linecap="round" stroke-linejoin="round"/>
<path d="M1196.4,320.8l2.5,0.9 3.9,1.2 4.9,1.6 5.2,2.1 4.9,2.4 4,2.6 2.4,2.8 0.7,2.8" stroke="#26ee1e" stroke-width="2.7" fill="none" stroke-linecap="round" stroke-linejoin="round"/>
<path d="M1192.9,348.5l1.5,0.6 3.3,1 4.7,1.4 5.5,1.8 5.6,2.2 4.9,2.6 3.7,2.8 2,2.9 -0.1,2.7" stroke="#0e5a0e" stroke-width="4.9" fill="none" stroke-linecap="round" stroke-linejoin="round"/>
<path d="M1192.9,348.5l1.5,0.6 3.3,1 4.7,1.4 5.5,1.8 5.6,2.2 4.9,2.6 3.7,2.8 2,2.9 -0.1,2.7" stroke="#26ee1e" stroke-width="2.7" fill="none" stroke-linecap="round" stroke-linejoin="round"/>
<path d="M1190.5,377l2,0.7 3.7,1 4.9,1.5 5.6,1.8 5.6,2.3 4.9,2.6 3.7,2.8 2,2.8 0.1,2.8" stroke="#0e5a0e" stroke-width="4.9" fill="none" stroke-linecap="round" stroke-linejoin="round"/>
<path d="M1190.5,377l2,0.7 3.7,1 4.9,1.5 5.6,1.8 5.6,2.3 4.9,2.6 3.7,2.8 2,2.8 0.1,2.8" stroke="#26ee1e" stroke-width="2.7" fill="none" stroke-linecap="round" stroke-linejoin="round"/>
<path d="M1190.2,407.2l2.4,0.9 3.8,1.2 4.8,1.5 5.1,2 5,2.2 4.3,2.5 3.2,2.7 1.9,2.7 0.2,2.6" stroke="#0e5a0e" stroke-width="4.9" fill="none" stroke-linecap="round" stroke-linejoin="round"/>
<path d="M1190.2,407.2l2.4,0.9 3.8,1.2 4.8,1.5 5.1,2 5,2.2 4.3,2.5 3.2,2.7 1.9,2.7 0.2,2.6" stroke="#26ee1e" stroke-width="2.7" fill="none" stroke-linecap="round" stroke-linejoin="round"/>
<path d="M1218.6,166.6l-3.7,0.5 -2.1,0.5 -0.3,0.5" stroke="#0e5a0e" stroke-width="8.2" fill="none" stroke-linecap="round" stroke-linejoin="round"/>
<path d="M1218.6,166.6l-3.7,0.5 -2.1,0.5 -0.3,0.5" stroke="#26ee1e" stroke-width="6.0" fill="none" stroke-linecap="round" stroke-linejoin="round"/>
<path d="M1239.9,185.6l-1.4,2.4 -3,2.2 -4.1,1.9 -4.9,1.5 -5.1,1.1 -4.8,0.9 -4.1,0.7 -2.8,0.5 -1.3,0.6 0.2,0.6" stroke="#0e5a0e" stroke-width="8.2" fill="none" stroke-linecap="round" stroke-linejoin="round"/>
<path d="M1239.9,185.6l-1.4,2.4 -3,2.2 -4.1,1.9 -4.9,1.5 -5.1,1.1 -4.8,0.9 -4.1,0.7 -2.8,0.5 -1.3,0.6 0.2,0.6" stroke="#26ee1e" stroke-width="6.0" fill="none" stroke-linecap="round" stroke-linejoin="round"/>
<path d="M1237.1,215.8l-1.1,2.5 -2.7,2.3 -3.9,2 -4.9,1.6 -5.3,1.3 -5.2,1 -4.6,0.7 -3.7,0.5 -2.2,0.5 -0.7,0.5" stroke="#0e5a0e" stroke-width="8.2" fill="none" stroke-linecap="round" stroke-linejoin="round"/>
<path d="M1237.1,215.8l-1.1,2.5 -2.7,2.3 -3.9,2 -4.9,1.6 -5.3,1.3 -5.2,1 -4.6,0.7 -3.7,0.5 -2.2,0.5 -0.7,0.5" stroke="#26ee1e" stroke-width="6.0" fill="none" stroke-linecap="round" stroke-linejoin="round"/>
<path d="M1234.6,247.9l-1.5,2.6 -3,2.3 -4.3,1.9 -5.1,1.6 -5.5,1.2 -5.4,0.9 -4.7,0.6 -3.5,0.5 -2,0.5 -0.4,0.5" stroke="#0e5a0e" stroke-width="8.2" fill="none" stroke-linecap="round" stroke-linejoin="round"/>
<path d="M1234.6,247.9l-1.5,2.6 -3,2.3 -4.3,1.9 -5.1,1.6 -5.5,1.2 -5.4,0.9 -4.7,0.6 -3.5,0.5 -2,0.5 -0.4,0.5" stroke="#26ee1e" stroke-width="6.0" fill="none" stroke-linecap="round" stroke-linejoin="round"/>
<path d="M1230.2,280.1l-2.1,2.5 -3.6,2.1 -4.7,1.7 -5.3,1.4 -5.3,1.1 -4.9,0.7 -3.7,0.5 -2.4,0.5 -0.7,0.5" stroke="#0e5a0e" stroke-width="8.2" fill="none" stroke-linecap="round" stroke-linejoin="round"/>
<path d="M1230.2,280.1l-2.1,2.5 -3.6,2.1 -4.7,1.7 -5.3,1.4 -5.3,1.1 -4.9,0.7 -3.7,0.5 -2.4,0.5 -0.7,0.5" stroke="#26ee1e" stroke-width="6.0" fill="none" stroke-linecap="round" stroke-linejoin="round"/>
<path d="M1225.9,310.7l-2.7,2.3 -4,2 -5,1.5 -5.3,1.2 -5.1,0.9 -4.2,0.6 -2.8,0.5 -1.1,0.4 0.7,0.7" stroke="#0e5a0e" stroke-width="8.2" fill="none" stroke-linecap="round" stroke-linejoin="round"/>
<path d="M1225.9,310.7l-2.7,2.3 -4,2 -5,1.5 -5.3,1.2 -5.1,0.9 -4.2,0.6 -2.8,0.5 -1.1,0.4 0.7,0.7" stroke="#26ee1e" stroke-width="6.0" fill="none" stroke-linecap="round" stroke-linejoin="round"/>
<path d="M1224.9,337.2l-1.3,2.5 -3,2.3 -4.5,1.9 -5.4,1.5 -5.7,1.1 -5.2,0.7 -4,0.5 -2.5,0.3 -0.4,0.5" stroke="#0e5a0e" stroke-width="8.2" fill="none" stroke-linecap="round" stroke-linejoin="round"/>
<path d="M1224.9,337.2l-1.3,2.5 -3,2.3 -4.5,1.9 -5.4,1.5 -5.7,1.1 -5.2,0.7 -4,0.5 -2.5,0.3 -0.4,0.5" stroke="#26ee1e" stroke-width="6.0" fill="none" stroke-linecap="round" stroke-linejoin="round"/>
<path d="M1224,366.5l-2.1,2.6 -3.8,2.2 -5.2,1.7 -5.8,1.3 -5.8,1 -5.1,0.5 -3.8,0.4 -1.9,0.4 0,0.4" stroke="#0e5a0e" stroke-width="8.2" fill="none" stroke-linecap="round" stroke-linejoin="round"/>
<path d="M1224,366.5l-2.1,2.6 -3.8,2.2 -5.2,1.7 -5.8,1.3 -5.8,1 -5.1,0.5 -3.8,0.4 -1.9,0.4 0,0.4" stroke="#26ee1e" stroke-width="6.0" fill="none" stroke-linecap="round" stroke-linejoin="round"/>
<path d="M1223,395.3l-1.7,2.5 -3.5,2.3 -4.7,1.8 -5.4,1.5 -5.6,1 -5.1,0.8 -4.1,0.5 -2.6,0.4 -1,0.5 0.9,0.6" stroke="#0e5a0e" stroke-width="8.2" fill="none" stroke-linecap="round" stroke-linejoin="round"/>
<path d="M1223,395.3l-1.7,2.5 -3.5,2.3 -4.7,1.8 -5.4,1.5 -5.6,1 -5.1,0.8 -4.1,0.5 -2.6,0.4 -1,0.5 0.9,0.6" stroke="#26ee1e" stroke-width="6.0" fill="none" stroke-linecap="round" stroke-linejoin="round"/>
<path d="M1220.9,425.5l-1.3,2.5 -2.8,2.2 -3.9,1.9 -4.7,1.6 -4.9,1.2" stroke="#0e5a0e" stroke-width="8.2" fill="none" stroke-linecap="round" stroke-linejoin="round"/>
<path d="M1220.9,425.5l-1.3,2.5 -2.8,2.2 -3.9,1.9 -4.7,1.6 -4.9,1.2" stroke="#26ee1e" stroke-width="6.0" fill="none" stroke-linecap="round" stroke-linejoin="round"/>
<path d="M1239.7,190.2l3.8,4.7 5.8,3.7 7,2.6 7.1,1.2 6.4,0 4.7,-1 2.4,-1.7 -0.1,-1.8" stroke="#0e5a0e" stroke-width="4.9" fill="none" stroke-linecap="round" stroke-linejoin="round"/>
<path d="M1239.7,190.2l3.8,4.7 5.8,3.7 7,2.6 7.1,1.2 6.4,0 4.7,-1 2.4,-1.7 -0.1,-1.8" stroke="#26ee1e" stroke-width="2.7" fill="none" stroke-linecap="round" stroke-linejoin="round"/>
<path d="M1243.9,213.2l1.9,4.5 3.8,3.9 5.2,3 5.9,2 5.7,0.8 4.7,0 3.2,-0.8 1.3,-1.2 -0.9,-1.2" stroke="#0e5a0e" stroke-width="4.9" fill="none" stroke-linecap="round" stroke-linejoin="round"/>
<path d="M1243.9,213.2l1.9,4.5 3.8,3.9 5.2,3 5.9,2 5.7,0.8 4.7,0 3.2,-0.8 1.3,-1.2 -0.9,-1.2" stroke="#26ee1e" stroke-width="2.7" fill="none" stroke-linecap="round" stroke-linejoin="round"/>
<path d="M1245.4,241.1l1.8,4.3 3.7,3.9 5,3 5.8,2.1 5.8,1.1 5.1,0.1 3.8,-0.6 2.1,-1.2 0,-1.3" stroke="#0e5a0e" stroke-width="4.9" fill="none" stroke-linecap="round" stroke-linejoin="round"/>
<path d="M1245.4,241.1l1.8,4.3 3.7,3.9 5,3 5.8,2.1 5.8,1.1 5.1,0.1 3.8,-0.6 2.1,-1.2 0,-1.3" stroke="#26ee1e" stroke-width="2.7" fill="none" stroke-linecap="round" stroke-linejoin="round"/>
<path d="M1244.9,269.1l1.4,4.3 2.9,3.9 4.2,3.3 5,2.5 5.2,1.6 4.9,0.9 4.1,0.1 3,-0.4 1.5,-0.6 0.1,-0.8" stroke="#0e5a0e" stroke-width="4.9" fill="none" stroke-linecap="round" stroke-linejoin="round"/>
<path d="M1244.9,269.1l1.4,4.3 2.9,3.9 4.2,3.3 5,2.5 5.2,1.6 4.9,0.9 4.1,0.1 3,-0.4 1.5,-0.6 0.1,-0.8" stroke="#26ee1e" stroke-width="2.7" fill="none" stroke-linecap="round" stroke-linejoin="round"/>
<path d="M1251,301.3l1.2,3.4 2.1,3.1 3,2.6 3.4,2.2 3.6,1.6 3.4,1 2.8,0.6 2.1,0.1 1.1,-0.1 -0.1,-0.1" stroke="#0e5a0e" stroke-width="4.9" fill="none" stroke-linecap="round" stroke-linejoin="round"/>
<path d="M1251,301.3l1.2,3.4 2.1,3.1 3,2.6 3.4,2.2 3.6,1.6 3.4,1 2.8,0.6 2.1,0.1 1.1,-0.1 -0.1,-0.1" stroke="#26ee1e" stroke-width="2.7" fill="none" stroke-linecap="round" stroke-linejoin="round"/>
<path d="M1251.1,332l1.1,3.7 2.5,3.4 3.7,2.8 4.4,2.2 4.6,1.3 4.2,0.4 3.2,-0.2 1.7,-0.7 -0.2,-0.9" stroke="#0e5a0e" stroke-width="4.9" fill="none" stroke-linecap="round" stroke-linejoin="round"/>
<path d="M1251.1,332l1.1,3.7 2.5,3.4 3.7,2.8 4.4,2.2 4.6,1.3 4.2,0.4 3.2,-0.2 1.7,-0.7 -0.2,-0.9" stroke="#26ee1e" stroke-width="2.7" fill="none" stroke-linecap="round" stroke-linejoin="round"/>
<path d="M1249.1,359.2l1.6,4.1 3.2,3.6 4.5,2.8 5.1,1.9 4.9,0.9 3.9,0.1 2.5,-0.5 0.7,-0.8 -1.1,-0.7" stroke="#0e5a0e" stroke-width="4.9" fill="none" stroke-linecap="round" stroke-linejoin="round"/>
<path d="M1249.1,359.2l1.6,4.1 3.2,3.6 4.5,2.8 5.1,1.9 4.9,0.9 3.9,0.1 2.5,-0.5 0.7,-0.8 -1.1,-0.7" stroke="#26ee1e" stroke-width="2.7" fill="none" stroke-linecap="round" stroke-linejoin="round"/>
<path d="M1252.1,387.2l1.8,3.4 2.9,2.9 3.6,2.2 3.7,1.6 3.5,0.9 2.8,0.4 1.7,-0.1 0.5,-0.2" stroke="#0e5a0e" stroke-width="4.9" fill="none" stroke-linecap="round" stroke-linejoin="round"/>
<path d="M1252.1,387.2l1.8,3.4 2.9,2.9 3.6,2.2 3.7,1.6 3.5,0.9 2.8,0.4 1.7,-0.1 0.5,-0.2" stroke="#26ee1e" stroke-width="2.7" fill="none" stroke-linecap="round" stroke-linejoin="round"/>
<path d="M1250.1,413.4l0.5,3.5 1.8,3.5 3,3 3.8,2.5 4.2,1.7 4.2,1.1 3.8,0.4 2.8,-0.2 1.5,-0.5 0.1,-0.8" stroke="#0e5a0e" stroke-width="4.9" fill="none" stroke-linecap="round" stroke-linejoin="round"/>
<path d="M1250.1,413.4l0.5,3.5 1.8,3.5 3,3 3.8,2.5 4.2,1.7 4.2,1.1 3.8,0.4 2.8,-0.2 1.5,-0.5 0.1,-0.8" stroke="#26ee1e" stroke-width="2.7" fill="none" stroke-linecap="round" stroke-linejoin="round"/>
<path d="M1244.4,447l1.8,4 3.2,3.6 4.3,3 5,2.2 5.1,1.4 4.7,0.6 3.8,-0.1 2.6,-0.6" stroke="#0e5a0e" stroke-width="4.9" fill="none" stroke-linecap="round" stroke-linejoin="round"/>
<path d="M1244.4,447l1.8,4 3.2,3.6 4.3,3 5,2.2 5.1,1.4 4.7,0.6 3.8,-0.1 2.6,-0.6" stroke="#26ee1e" stroke-width="2.7" fill="none" stroke-linecap="round" stroke-linejoin="round"/>
<path d="M1243.3,175.2l-3.8,4.7 -1.2,5.2 1.4,5.1" stroke="#0e5a0e" stroke-width="8.2" fill="none" stroke-linecap="round" stroke-linejoin="round"/>
<path d="M1243.3,175.2l-3.8,4.7 -1.2,5.2 1.4,5.1" stroke="#26ee1e" stroke-width="6.0" fill="none" stroke-linecap="round" stroke-linejoin="round"/>
<path d="M1276.8,197.9l-2.6,-1.4 -4.7,-0.7 -5.9,0.3 -6.3,1.6 -5.9,2.7 -4.5,3.8 -2.7,4.4 -0.3,4.6" stroke="#0e5a0e" stroke-width="8.2" fill="none" stroke-linecap="round" stroke-linejoin="round"/>
<path d="M1276.8,197.9l-2.6,-1.4 -4.7,-0.7 -5.9,0.3 -6.3,1.6 -5.9,2.7 -4.5,3.8 -2.7,4.4 -0.3,4.6" stroke="#26ee1e" stroke-width="6.0" fill="none" stroke-linecap="round" stroke-linejoin="round"/>
<path d="M1274.7,224.2l-2.8,-0.8 -4.4,-0.1 -5.3,0.8 -5.5,1.8 -5.1,2.9 -3.9,3.6 -2.2,4.3 -0.1,4.4" stroke="#0e5a0e" stroke-width="8.2" fill="none" stroke-linecap="round" stroke-linejoin="round"/>
<path d="M1274.7,224.2l-2.8,-0.8 -4.4,-0.1 -5.3,0.8 -5.5,1.8 -5.1,2.9 -3.9,3.6 -2.2,4.3 -0.1,4.4" stroke="#26ee1e" stroke-width="6.0" fill="none" stroke-linecap="round" stroke-linejoin="round"/>
<path d="M1278.5,252.5l-1.9,-1.2 -3.7,-0.6 -4.9,0.1 -5.6,1.1 -5.7,2 -5.1,3 -3.9,3.6 -2.3,4.2 -0.5,4.4" stroke="#0e5a0e" stroke-width="8.2" fill="none" stroke-linecap="round" stroke-linejoin="round"/>
<path d="M1278.5,252.5l-1.9,-1.2 -3.7,-0.6 -4.9,0.1 -5.6,1.1 -5.7,2 -5.1,3 -3.9,3.6 -2.3,4.2 -0.5,4.4" stroke="#26ee1e" stroke-width="6.0" fill="none" stroke-linecap="round" stroke-linejoin="round"/>
<path d="M1277.2,283.9l-1.4,-0.5 -2.6,-0.2 -3.5,0.3 -4.1,1 -4.1,1.6 -3.9,2.3 -3.2,2.8 -2.2,3.2 -1.2,3.5 0,3.4" stroke="#0e5a0e" stroke-width="8.2" fill="none" stroke-linecap="round" stroke-linejoin="round"/>
<path d="M1277.2,283.9l-1.4,-0.5 -2.6,-0.2 -3.5,0.3 -4.1,1 -4.1,1.6 -3.9,2.3 -3.2,2.8 -2.2,3.2 -1.2,3.5 0,3.4" stroke="#26ee1e" stroke-width="6.0" fill="none" stroke-linecap="round" stroke-linejoin="round"/>
<path d="M1273.6,315.7l-1.2,-0.1 -2.2,0.2 -3.2,0.6 -3.6,1.2 -3.9,1.8 -3.5,2.5 -2.8,3 -1.8,3.5 -0.3,3.6" stroke="#0e5a0e" stroke-width="8.2" fill="none" stroke-linecap="round" stroke-linejoin="round"/>
<path d="M1273.6,315.7l-1.2,-0.1 -2.2,0.2 -3.2,0.6 -3.6,1.2 -3.9,1.8 -3.5,2.5 -2.8,3 -1.8,3.5 -0.3,3.6" stroke="#26ee1e" stroke-width="6.0" fill="none" stroke-linecap="round" stroke-linejoin="round"/>
<path d="M1276.3,344l-1.9,-0.7 -3.6,-0.2 -4.7,0.6 -5.2,1.5 -5,2.5 -3.9,3.3 -2.4,4 -0.5,4.2" stroke="#0e5a0e" stroke-width="8.2" fill="none" stroke-linecap="round" stroke-linejoin="round"/>
<path d="M1276.3,344l-1.9,-0.7 -3.6,-0.2 -4.7,0.6 -5.2,1.5 -5,2.5 -3.9,3.3 -2.4,4 -0.5,4.2" stroke="#26ee1e" stroke-width="6.0" fill="none" stroke-linecap="round" stroke-linejoin="round"/>
<path d="M1274.4,370.6l-2.7,-0.3 -3.9,0.3 -4.5,1.2 -4.3,2.1 -3.7,2.7 -2.5,3.4 -1.1,3.6 0.4,3.6" stroke="#0e5a0e" stroke-width="8.2" fill="none" stroke-linecap="round" stroke-linejoin="round"/>
<path d="M1274.4,370.6l-2.7,-0.3 -3.9,0.3 -4.5,1.2 -4.3,2.1 -3.7,2.7 -2.5,3.4 -1.1,3.6 0.4,3.6" stroke="#26ee1e" stroke-width="6.0" fill="none" stroke-linecap="round" stroke-linejoin="round"/>
<path d="M1272.6,398.3l-0.8,-0.2 -2,0.1 -2.9,0.5 -3.6,1 -3.8,1.7 -3.6,2.2 -3,2.9 -2,3.3 -0.8,3.6" stroke="#0e5a0e" stroke-width="8.2" fill="none" stroke-linecap="round" stroke-linejoin="round"/>
<path d="M1272.6,398.3l-0.8,-0.2 -2,0.1 -2.9,0.5 -3.6,1 -3.8,1.7 -3.6,2.2 -3,2.9 -2,3.3 -0.8,3.6" stroke="#26ee1e" stroke-width="6.0" fill="none" stroke-linecap="round" stroke-linejoin="round"/>
<path d="M1275.8,427.6l-1.4,-0.7 -2.9,-0.3 -4,0.2 -4.8,0.9 -5.1,1.6 -4.8,2.5 -4.1,3.2 -3,3.7 -1.4,4.1 0.1,4.2" stroke="#0e5a0e" stroke-width="8.2" fill="none" stroke-linecap="round" stroke-linejoin="round"/>
<path d="M1275.8,427.6l-1.4,-0.7 -2.9,-0.3 -4,0.2 -4.8,0.9 -5.1,1.6 -4.8,2.5 -4.1,3.2 -3,3.7 -1.4,4.1 0.1,4.2" stroke="#26ee1e" stroke-width="6.0" fill="none" stroke-linecap="round" stroke-linejoin="round"/>
<path d="M1271.3,167.8l1.3,-0.8 3.9,-0.5 5.8,0.1 7.1,1.1 7.2,2 6.2,3 4.3,3.7 1.6,4.2 -1.3,4.2" stroke="#0e5a0e" stroke-width="4.9" fill="none" stroke-linecap="round" stroke-linejoin="round"/>
<path d="M1271.3,167.8l1.3,-0.8 3.9,-0.5 5.8,0.1 7.1,1.1 7.2,2 6.2,3 4.3,3.7 1.6,4.2 -1.3,4.2" stroke="#26ee1e" stroke-width="2.7" fill="none" stroke-linecap="round" stroke-linejoin="round"/>
<path d="M1269.9,192.8l4.1,-0.6 6.1,0.1 7.4,1 7.3,2.1 6.2,3.1 4,3.8 1.3,4.1 -1.7,4.1" stroke="#0e5a0e" stroke-width="4.9" fill="none" stroke-linecap="round" stroke-linejoin="round"/>
<path d="M1269.9,192.8l4.1,-0.6 6.1,0.1 7.4,1 7.3,2.1 6.2,3.1 4,3.8 1.3,4.1 -1.7,4.1" stroke="#26ee1e" stroke-width="2.7" fill="none" stroke-linecap="round" stroke-linejoin="round"/>
<path d="M1269.9,219.1l1.7,-0.7 4,-0.2 5.6,0.5 6.2,1.4 6,2.2 4.7,3 2.8,3.4 0.5,3.7" stroke="#0e5a0e" stroke-width="4.9" fill="none" stroke-linecap="round" stroke-linejoin="round"/>
<path d="M1269.9,219.1l1.7,-0.7 4,-0.2 5.6,0.5 6.2,1.4 6,2.2 4.7,3 2.8,3.4 0.5,3.7" stroke="#26ee1e" stroke-width="2.7" fill="none" stroke-linecap="round" stroke-linejoin="round"/>
<path d="M1273,244.8l1.3,-0.1 2.8,0.3 4,0.8 4.6,1.3 4.3,2 3.6,2.5 2.4,2.8 0.9,3.1 -0.8,3" stroke="#0e5a0e" stroke-width="4.9" fill="none" stroke-linecap="round" stroke-linejoin="round"/>
<path d="M1273,244.8l1.3,-0.1 2.8,0.3 4,0.8 4.6,1.3 4.3,2 3.6,2.5 2.4,2.8 0.9,3.1 -0.8,3" stroke="#26ee1e" stroke-width="2.7" fill="none" stroke-linecap="round" stroke-linejoin="round"/>
<path d="M1275.1,271.6l1.2,0.4 2.3,0.6 3.2,1 3.7,1.4 3.5,1.8 3.1,2.3 2.3,2.7 1,2.8 -0.2,2.9" stroke="#0e5a0e" stroke-width="4.9" fill="none" stroke-linecap="round" stroke-linejoin="round"/>
<path d="M1275.1,271.6l1.2,0.4 2.3,0.6 3.2,1 3.7,1.4 3.5,1.8 3.1,2.3 2.3,2.7 1,2.8 -0.2,2.9" stroke="#26ee1e" stroke-width="2.7" fill="none" stroke-linecap="round" stroke-linejoin="round"/>
<path d="M1273.7,299.8l1.7,0.3 2.9,0.5 3.9,1 4.3,1.4 4.3,2 3.8,2.5 2.7,2.9 1.3,3.1 -0.3,3.3" stroke="#0e5a0e" stroke-width="4.9" fill="none" stroke-linecap="round" stroke-linejoin="round"/>
<path d="M1273.7,299.8l1.7,0.3 2.9,0.5 3.9,1 4.3,1.4 4.3,2 3.8,2.5 2.7,2.9 1.3,3.1 -0.3,3.3" stroke="#26ee1e" stroke-width="2.7" fill="none" stroke-linecap="round" stroke-linejoin="round"/>
<path d="M1269.6,328.2l2.3,-0.2 4.1,0.1 5.3,0.7 6,1.4 5.9,2.2 5.1,2.8 3.6,3.4 1.6,3.8 -0.7,3.9" stroke="#0e5a0e" stroke-width="4.9" fill="none" stroke-linecap="round" stroke-linejoin="round"/>
<path d="M1269.6,328.2l2.3,-0.2 4.1,0.1 5.3,0.7 6,1.4 5.9,2.2 5.1,2.8 3.6,3.4 1.6,3.8 -0.7,3.9" stroke="#26ee1e" stroke-width="2.7" fill="none" stroke-linecap="round" stroke-linejoin="round"/>
<path d="M1266.2,356.7l1.7,-0.8 4,-0.5 5.9,0.2 7.1,1 7.3,1.9 6.4,2.8 4.8,3.6 2.4,4.1 -0.4,4.1" stroke="#0e5a0e" stroke-width="4.9" fill="none" stroke-linecap="round" stroke-linejoin="round"/>
<path d="M1266.2,356.7l1.7,-0.8 4,-0.5 5.9,0.2 7.1,1 7.3,1.9 6.4,2.8 4.8,3.6 2.4,4.1 -0.4,4.1" stroke="#26ee1e" stroke-width="2.7" fill="none" stroke-linecap="round" stroke-linejoin="round"/>
<path d="M1267.8,383.5l2.5,-0.8 4.9,-0.3 6.5,0.5 7.1,1.4 6.8,2.4 5.3,3.2 3.2,3.8 0.6,4" stroke="#0e5a0e" stroke-width="4.9" fill="none" stroke-linecap="round" stroke-linejoin="round"/>
<path d="M1267.8,383.5l2.5,-0.8 4.9,-0.3 6.5,0.5 7.1,1.4 6.8,2.4 5.3,3.2 3.2,3.8 0.6,4" stroke="#26ee1e" stroke-width="2.7" fill="none" stroke-linecap="round" stroke-linejoin="round"/>
<path d="M1272.6,409.4l2.1,-0.4 4.1,0.1 5.3,0.8 5.9,1.5 5.3,2.3 4.1,2.9 2.3,3.3 0.2,3.5" stroke="#0e5a0e" stroke-width="4.9" fill="none" stroke-linecap="round" stroke-linejoin="round"/>
<path d="M1272.6,409.4l2.1,-0.4 4.1,0.1 5.3,0.8 5.9,1.5 5.3,2.3 4.1,2.9 2.3,3.3 0.2,3.5" stroke="#26ee1e" stroke-width="2.7" fill="none" stroke-linecap="round" stroke-linejoin="round"/>
<path d="M1278.2,434.9l1.9,0.2 3.3,0.5 4.2,1.1 4.3,1.6" stroke="#0e5a0e" stroke-width="4.9" fill="none" stroke-linecap="round" stroke-linejoin="round"/>
<path d="M1278.2,434.9l1.9,0.2 3.3,0.5 4.2,1.1 4.3,1.6" stroke="#26ee1e" stroke-width="2.7" fill="none" stroke-linecap="round" stroke-linejoin="round"/>
<path d="M1307.4,184.8l-4.1,3.9 -6.3,3.2 -7.5,2.2 -7.7,1.2 -6.7,0.2 -4.6,-0.6 -1.8,-1 1.2,-1.1" stroke="#0e5a0e" stroke-width="8.2" fill="none" stroke-linecap="round" stroke-linejoin="round"/>
<path d="M1307.4,184.8l-4.1,3.9 -6.3,3.2 -7.5,2.2 -7.7,1.2 -6.7,0.2 -4.6,-0.6 -1.8,-1 1.2,-1.1" stroke="#26ee1e" stroke-width="6.0" fill="none" stroke-linecap="round" stroke-linejoin="round"/>
<path d="M1304.6,210.5l-4.3,3.7 -6.2,3 -7.1,1.9 -6.9,1 -5.7,0.2 -3.5,-0.5 -1,-0.7" stroke="#0e5a0e" stroke-width="8.2" fill="none" stroke-linecap="round" stroke-linejoin="round"/>
<path d="M1304.6,210.5l-4.3,3.7 -6.2,3 -7.1,1.9 -6.9,1 -5.7,0.2 -3.5,-0.5 -1,-0.7" stroke="#26ee1e" stroke-width="6.0" fill="none" stroke-linecap="round" stroke-linejoin="round"/>
<path d="M1301.4,232.4l-1.8,3.5 -3.6,3.2 -5,2.5 -5.5,1.8 -5.2,1 -4.1,0.5 -2.5,0 -0.7,-0.1" stroke="#0e5a0e" stroke-width="8.2" fill="none" stroke-linecap="round" stroke-linejoin="round"/>
<path d="M1301.4,232.4l-1.8,3.5 -3.6,3.2 -5,2.5 -5.5,1.8 -5.2,1 -4.1,0.5 -2.5,0 -0.7,-0.1" stroke="#26ee1e" stroke-width="6.0" fill="none" stroke-linecap="round" stroke-linejoin="round"/>
<path d="M1296.1,260.5l-2.1,2.9 -3.2,2.5 -3.9,2 -4,1.4 -3.5,1.1 -2.7,0.6 -1.5,0.4 -0.1,0.2" stroke="#0e5a0e" stroke-width="8.2" fill="none" stroke-linecap="round" stroke-linejoin="round"/>
<path d="M1296.1,260.5l-2.1,2.9 -3.2,2.5 -3.9,2 -4,1.4 -3.5,1.1 -2.7,0.6 -1.5,0.4 -0.1,0.2" stroke="#26ee1e" stroke-width="6.0" fill="none" stroke-linecap="round" stroke-linejoin="round"/>
<path d="M1295.2,287.5l-1.5,2.8 -2.6,2.5 -3.4,2.2 -3.8,1.8 -3.7,1.3 -3.3,0.8 -2.3,0.5 -1.1,0.2 0.2,0.2" stroke="#0e5a0e" stroke-width="8.2" fill="none" stroke-linecap="round" stroke-linejoin="round"/>
<path d="M1295.2,287.5l-1.5,2.8 -2.6,2.5 -3.4,2.2 -3.8,1.8 -3.7,1.3 -3.3,0.8 -2.3,0.5 -1.1,0.2 0.2,0.2" stroke="#26ee1e" stroke-width="6.0" fill="none" stroke-linecap="round" stroke-linejoin="round"/>
<path d="M1298.3,316.8l-1.9,3.2 -3.4,2.8 -4.5,2.4 -5.1,1.8 -5,1.2 -4.5,0.6 -3.2,0 -1.5,-0.2 0.4,-0.4" stroke="#0e5a0e" stroke-width="8.2" fill="none" stroke-linecap="round" stroke-linejoin="round"/>
<path d="M1298.3,316.8l-1.9,3.2 -3.4,2.8 -4.5,2.4 -5.1,1.8 -5,1.2 -4.5,0.6 -3.2,0 -1.5,-0.2 0.4,-0.4" stroke="#26ee1e" stroke-width="6.0" fill="none" stroke-linecap="round" stroke-linejoin="round"/>
<path d="M1302.8,346.3l-2.9,3.6 -4.8,3.2 -6.2,2.5 -6.7,1.6 -6.5,0.8 -5.2,0.1 -3.3,-0.6 -1,-0.8" stroke="#0e5a0e" stroke-width="8.2" fill="none" stroke-linecap="round" stroke-linejoin="round"/>
<path d="M1302.8,346.3l-2.9,3.6 -4.8,3.2 -6.2,2.5 -6.7,1.6 -6.5,0.8 -5.2,0.1 -3.3,-0.6 -1,-0.8" stroke="#26ee1e" stroke-width="6.0" fill="none" stroke-linecap="round" stroke-linejoin="round"/>
<path d="M1305.4,373.1l-3,4 -5.3,3.4 -6.8,2.5 -7.3,1.6 -6.7,0.7 -5.3,-0.2 -2.9,-0.7 -0.3,-0.9" stroke="#0e5a0e" stroke-width="8.2" fill="none" stroke-linecap="round" stroke-linejoin="round"/>
<path d="M1305.4,373.1l-3,4 -5.3,3.4 -6.8,2.5 -7.3,1.6 -6.7,0.7 -5.3,-0.2 -2.9,-0.7 -0.3,-0.9" stroke="#26ee1e" stroke-width="6.0" fill="none" stroke-linecap="round" stroke-linejoin="round"/>
<path d="M1304.7,397.7l-2.1,3.8 -4.3,3.4 -5.8,2.6 -6.4,1.8 -6,0.9 -4.6,0.1 -2.7,-0.3 -0.2,-0.6" stroke="#0e5a0e" stroke-width="8.2" fill="none" stroke-linecap="round" stroke-linejoin="round"/>
<path d="M1304.7,397.7l-2.1,3.8 -4.3,3.4 -5.8,2.6 -6.4,1.8 -6,0.9 -4.6,0.1 -2.7,-0.3 -0.2,-0.6" stroke="#26ee1e" stroke-width="6.0" fill="none" stroke-linecap="round" stroke-linejoin="round"/>
<path d="M1301.9,423.4l-1.9,3.3 -3.5,2.9 -4.5,2.2 -4.8,1.6 -4.3,1 -3.2,0.4 -1.6,0.1 0.1,0" stroke="#0e5a0e" stroke-width="8.2" fill="none" stroke-linecap="round" stroke-linejoin="round"/>
<path d="M1301.9,423.4l-1.9,3.3 -3.5,2.9 -4.5,2.2 -4.8,1.6 -4.3,1 -3.2,0.4 -1.6,0.1 0.1,0" stroke="#26ee1e" stroke-width="6.0" fill="none" stroke-linecap="round" stroke-linejoin="round"/>
<path d="M1299.5,203.4l2.8,3 4.1,2.3 4.8,1.5 4.9,0.7 4.3,0.1 3.1,-0.3 1.5,-0.5 -0.3,-0.3" stroke="#0e5a0e" stroke-width="4.9" fill="none" stroke-linecap="round" stroke-linejoin="round"/>
<path d="M1299.5,203.4l2.8,3 4.1,2.3 4.8,1.5 4.9,0.7 4.3,0.1 3.1,-0.3 1.5,-0.5 -0.3,-0.3" stroke="#26ee1e" stroke-width="2.7" fill="none" stroke-linecap="round" stroke-linejoin="round"/>
<path d="M1298.8,228.4l1.5,3.4 3.4,2.9 4.7,2.2 5.5,1.3 5.6,0.4 4.8,-0.2 3.4,-0.8 1.4,-0.9 -0.7,-0.6" stroke="#0e5a0e" stroke-width="4.9" fill="none" stroke-linecap="round" stroke-linejoin="round"/>
<path d="M1298.8,228.4l1.5,3.4 3.4,2.9 4.7,2.2 5.5,1.3 5.6,0.4 4.8,-0.2 3.4,-0.8 1.4,-0.9 -0.7,-0.6" stroke="#26ee1e" stroke-width="2.7" fill="none" stroke-linecap="round" stroke-linejoin="round"/>
<path d="M1296.1,256.6l2.1,3.9 4.2,3.1 5.8,2.3 6.6,1.2 6.6,0.3 5.7,-0.6 4,-1 2,-1.1 -0.3,-1" stroke="#0e5a0e" stroke-width="4.9" fill="none" stroke-linecap="round" stroke-linejoin="round"/>
<path d="M1296.1,256.6l2.1,3.9 4.2,3.1 5.8,2.3 6.6,1.2 6.6,0.3 5.7,-0.6 4,-1 2,-1.1 -0.3,-1" stroke="#26ee1e" stroke-width="2.7" fill="none" stroke-linecap="round" stroke-linejoin="round"/>
<path d="M1299.8,285.9l2.7,3.4 4.3,2.8 5.4,1.9 5.8,1 5.6,0.4 4.7,-0.3 3.3,-0.6 1.7,-0.8 -0.1,-0.5" stroke="#0e5a0e" stroke-width="4.9" fill="none" stroke-linecap="round" stroke-linejoin="round"/>
<path d="M1299.8,285.9l2.7,3.4 4.3,2.8 5.4,1.9 5.8,1 5.6,0.4 4.7,-0.3 3.3,-0.6 1.7,-0.8 -0.1,-0.5" stroke="#26ee1e" stroke-width="2.7" fill="none" stroke-linecap="round" stroke-linejoin="round"/>
<path d="M1303.5,313.8l1.8,3.6 3.4,3 4.9,2.3 5.6,1.5 6,0.7 5.5,0 4.5,-0.6 2.9,-0.9 1,-0.9" stroke="#0e5a0e" stroke-width="4.9" fill="none" stroke-linecap="round" stroke-linejoin="round"/>
<path d="M1303.5,313.8l1.8,3.6 3.4,3 4.9,2.3 5.6,1.5 6,0.7 5.5,0 4.5,-0.6 2.9,-0.9 1,-0.9" stroke="#26ee1e" stroke-width="2.7" fill="none" stroke-linecap="round" stroke-linejoin="round"/>
<path d="M1306.2,346.1l3.6,3.4 5.4,2.6 6.4,1.7 6.8,0.7 6.3,-0.2 5.1,-0.7 3.2,-1.2 1.1,-1.1 -1.1,-0.7" stroke="#0e5a0e" stroke-width="4.9" fill="none" stroke-linecap="round" stroke-linejoin="round"/>
<path d="M1306.2,346.1l3.6,3.4 5.4,2.6 6.4,1.7 6.8,0.7 6.3,-0.2 5.1,-0.7 3.2,-1.2 1.1,-1.1 -1.1,-0.7" stroke="#26ee1e" stroke-width="2.7" fill="none" stroke-linecap="round" stroke-linejoin="round"/>
<path d="M1312.8,370.6l2,3.5 3.8,2.9 5.1,2.2 5.6,1.3 5.6,0.5 4.9,-0.2 3.5,-0.5 1.9,-0.6 -0.1,-0.5" stroke="#0e5a0e" stroke-width="4.9" fill="none" stroke-linecap="round" stroke-linejoin="round"/>
<path d="M1312.8,370.6l2,3.5 3.8,2.9 5.1,2.2 5.6,1.3 5.6,0.5 4.9,-0.2 3.5,-0.5 1.9,-0.6 -0.1,-0.5" stroke="#26ee1e" stroke-width="2.7" fill="none" stroke-linecap="round" stroke-linejoin="round"/>
<path d="M1322.1,400.3l3.3,2.9 4.6,2.2 5.5,1.4 5.6,0.6 4.9,-0.1 3.7,-0.6 1.9,-0.7 -0.1,-0.6" stroke="#0e5a0e" stroke-width="4.9" fill="none" stroke-linecap="round" stroke-linejoin="round"/>
<path d="M1322.1,400.3l3.3,2.9 4.6,2.2 5.5,1.4 5.6,0.6 4.9,-0.1 3.7,-0.6 1.9,-0.7 -0.1,-0.6" stroke="#26ee1e" stroke-width="2.7" fill="none" stroke-linecap="round" stroke-linejoin="round"/>
<path d="M1325.5,424.6l2.7,3.5 4.5,2.8 5.8,1.8 6.2,0.9 5.9,0 4.6,-0.5 2.9,-0.9 0.7,-0.8" stroke="#0e5a0e" stroke-width="4.9" fill="none" stroke-linecap="round" stroke-linejoin="round"/>
<path d="M1325.5,424.6l2.7,3.5 4.5,2.8 5.8,1.8 6.2,0.9 5.9,0 4.6,-0.5 2.9,-0.9 0.7,-0.8" stroke="#26ee1e" stroke-width="2.7" fill="none" stroke-linecap="round" stroke-linejoin="round"/>
<path d="M1335.7,451.5l3.2,2.8 4.4,2.1 5,1.4 4.9,0.7 4.3,0.1 3.1,-0.1 1.7,-0.3 0.2,-0.1" stroke="#0e5a0e" stroke-width="4.9" fill="none" stroke-linecap="round" stroke-linejoin="round"/>
<path d="M1335.7,451.5l3.2,2.8 4.4,2.1 5,1.4 4.9,0.7 4.3,0.1 3.1,-0.1 1.7,-0.3 0.2,-0.1" stroke="#26ee1e" stroke-width="2.7" fill="none" stroke-linecap="round" stroke-linejoin="round"/>
<path d="M1302.2,192.3l-2.8,3.7 -0.9,3.8 1,3.6" stroke="#0e5a0e" stroke-width="8.2" fill="none" stroke-linecap="round" stroke-linejoin="round"/>
<path d="M1302.2,192.3l-2.8,3.7 -0.9,3.8 1,3.6" stroke="#26ee1e" stroke-width="6.0" fill="none" stroke-linecap="round" stroke-linejoin="round"/>
<path d="M1324.7,209.9l-2.1,0.1 -3.5,0.7 -4.6,1.4 -4.9,2.3 -4.6,2.9 -3.7,3.5 -2.2,3.8 -0.3,3.8" stroke="#0e5a0e" stroke-width="8.2" fill="none" stroke-linecap="round" stroke-linejoin="round"/>
<path d="M1324.7,209.9l-2.1,0.1 -3.5,0.7 -4.6,1.4 -4.9,2.3 -4.6,2.9 -3.7,3.5 -2.2,3.8 -0.3,3.8" stroke="#26ee1e" stroke-width="6.0" fill="none" stroke-linecap="round" stroke-linejoin="round"/>
<path d="M1328.4,236.1l-2.8,-0.2 -4.7,0.6 -5.7,1.5 -6.2,2.5 -5.7,3.4 -4.5,4 -2.5,4.4 -0.2,4.3" stroke="#0e5a0e" stroke-width="8.2" fill="none" stroke-linecap="round" stroke-linejoin="round"/>
<path d="M1328.4,236.1l-2.8,-0.2 -4.7,0.6 -5.7,1.5 -6.2,2.5 -5.7,3.4 -4.5,4 -2.5,4.4 -0.2,4.3" stroke="#26ee1e" stroke-width="6.0" fill="none" stroke-linecap="round" stroke-linejoin="round"/>
<path d="M1332.8,263.7l-2.6,-0.5 -4.4,0.4 -5.6,1.2 -6.1,2.2 -5.9,3.1 -4.8,3.7 -3.2,4.1 -1.3,4.1 0.9,3.9" stroke="#0e5a0e" stroke-width="8.2" fill="none" stroke-linecap="round" stroke-linejoin="round"/>
<path d="M1332.8,263.7l-2.6,-0.5 -4.4,0.4 -5.6,1.2 -6.1,2.2 -5.9,3.1 -4.8,3.7 -3.2,4.1 -1.3,4.1 0.9,3.9" stroke="#26ee1e" stroke-width="6.0" fill="none" stroke-linecap="round" stroke-linejoin="round"/>
<path d="M1333.2,293.2l-1.9,-0.2 -3.4,0.5 -4.6,1.1 -5,1.9 -5.1,2.7 -4.5,3.2 -3.4,3.7 -1.8,3.9 0,3.8" stroke="#0e5a0e" stroke-width="8.2" fill="none" stroke-linecap="round" stroke-linejoin="round"/>
<path d="M1333.2,293.2l-1.9,-0.2 -3.4,0.5 -4.6,1.1 -5,1.9 -5.1,2.7 -4.5,3.2 -3.4,3.7 -1.8,3.9 0,3.8" stroke="#26ee1e" stroke-width="6.0" fill="none" stroke-linecap="round" stroke-linejoin="round"/>
<path d="M1339.1,322.5l-1.1,-0.7 -3,-0.1 -4.6,0.6 -5.7,1.5 -6,2.5 -5.7,3.2 -4.6,3.9 -2.9,4.3 -0.8,4.3 1.5,4.1" stroke="#0e5a0e" stroke-width="8.2" fill="none" stroke-linecap="round" stroke-linejoin="round"/>
<path d="M1339.1,322.5l-1.1,-0.7 -3,-0.1 -4.6,0.6 -5.7,1.5 -6,2.5 -5.7,3.2 -4.6,3.9 -2.9,4.3 -0.8,4.3 1.5,4.1" stroke="#26ee1e" stroke-width="6.0" fill="none" stroke-linecap="round" stroke-linejoin="round"/>
<path d="M1343,350.6l-3.2,-0.1 -4.7,0.7 -5.7,1.6 -5.7,2.6 -5.1,3.3 -3.9,3.8 -2,4.1 0.1,4" stroke="#0e5a0e" stroke-width="8.2" fill="none" stroke-linecap="round" stroke-linejoin="round"/>
<path d="M1343,350.6l-3.2,-0.1 -4.7,0.7 -5.7,1.6 -5.7,2.6 -5.1,3.3 -3.9,3.8 -2,4.1 0.1,4" stroke="#26ee1e" stroke-width="6.0" fill="none" stroke-linecap="round" stroke-linejoin="round"/>
<path d="M1345.1,379.2l-1.8,0 -3.3,0.6 -4.3,1.3 -4.7,2.1 -4.4,2.8 -3.5,3.4 -2.2,3.7 -0.3,3.7 1.5,3.5" stroke="#0e5a0e" stroke-width="8.2" fill="none" stroke-linecap="round" stroke-linejoin="round"/>
<path d="M1345.1,379.2l-1.8,0 -3.3,0.6 -4.3,1.3 -4.7,2.1 -4.4,2.8 -3.5,3.4 -2.2,3.7 -0.3,3.7 1.5,3.5" stroke="#26ee1e" stroke-width="6.0" fill="none" stroke-linecap="round" stroke-linejoin="round"/>
<path d="M1351.5,405.4l-2.2,-0.2 -3.8,0.6 -5,1.5 -5.3,2.4 -4.8,3.2 -3.6,3.8 -1.7,4 0.4,3.9" stroke="#0e5a0e" stroke-width="8.2" fill="none" stroke-linecap="round" stroke-linejoin="round"/>
<path d="M1351.5,405.4l-2.2,-0.2 -3.8,0.6 -5,1.5 -5.3,2.4 -4.8,3.2 -3.6,3.8 -1.7,4 0.4,3.9" stroke="#26ee1e" stroke-width="6.0" fill="none" stroke-linecap="round" stroke-linejoin="round"/>
<path d="M1358.8,431.4l-1.3,-0.4 -3.2,0.3 -4.5,1.2 -5,2 -4.6,2.8 -3.7,3.4 -2.1,3.7 -0.3,3.7 1.6,3.4" stroke="#0e5a0e" stroke-width="8.2" fill="none" stroke-linecap="round" stroke-linejoin="round"/>
<path d="M1358.8,431.4l-1.3,-0.4 -3.2,0.3 -4.5,1.2 -5,2 -4.6,2.8 -3.7,3.4 -2.1,3.7 -0.3,3.7 1.6,3.4" stroke="#26ee1e" stroke-width="6.0" fill="none" stroke-linecap="round" stroke-linejoin="round"/>
<path d="M1362.5,458.1l-1.3,0.3" stroke="#0e5a0e" stroke-width="8.2" fill="none" stroke-linecap="round" stroke-linejoin="round"/>
<path d="M1362.5,458.1l-1.3,0.3" stroke="#26ee1e" stroke-width="6.0" fill="none" stroke-linecap="round" stroke-linejoin="round"/>
<path d="M1331.9,230.9l3,1.4 3,1.9 2.8,2.4 2,2.9 1.1,3.2 -0.1,3.3" stroke="#0e5a0e" stroke-width="4.540000000000001" fill="none" stroke-linecap="round" stroke-linejoin="round"/>
<path d="M1331.9,230.9l3,1.4 3,1.9 2.8,2.4 2,2.9 1.1,3.2 -0.1,3.3" stroke="#26ee1e" stroke-width="2.3400000000000003" fill="none" stroke-linecap="round" stroke-linejoin="round"/>
<path d="M1323.3,257.1l0.6,-0.4 2.1,-0.2 3.3,0.4 4.2,1.1 4.4,2 4,2.8 3,3.6 1.4,3.9 -0.4,4.1" stroke="#0e5a0e" stroke-width="4.540000000000001" fill="none" stroke-linecap="round" stroke-linejoin="round"/>
<path d="M1323.3,257.1l0.6,-0.4 2.1,-0.2 3.3,0.4 4.2,1.1 4.4,2 4,2.8 3,3.6 1.4,3.9 -0.4,4.1" stroke="#26ee1e" stroke-width="2.3400000000000003" fill="none" stroke-linecap="round" stroke-linejoin="round"/>
<path d="M1319.6,281.9l3,-0.8 4.8,0 5.8,1.2 5.9,2.4 4.9,3.5 3.1,4.4 0.7,4.7" stroke="#0e5a0e" stroke-width="4.540000000000001" fill="none" stroke-linecap="round" stroke-linejoin="round"/>
<path d="M1319.6,281.9l3,-0.8 4.8,0 5.8,1.2 5.9,2.4 4.9,3.5 3.1,4.4 0.7,4.7" stroke="#26ee1e" stroke-width="2.3400000000000003" fill="none" stroke-linecap="round" stroke-linejoin="round"/>
<path d="M1317.6,306.4l3,-1.1 5.1,-0.1 6,1.1 6.1,2.4 4.9,3.6 3,4.3 0.6,4.6" stroke="#0e5a0e" stroke-width="4.540000000000001" fill="none" stroke-linecap="round" stroke-linejoin="round"/>
<path d="M1317.6,306.4l3,-1.1 5.1,-0.1 6,1.1 6.1,2.4 4.9,3.6 3,4.3 0.6,4.6" stroke="#26ee1e" stroke-width="2.3400000000000003" fill="none" stroke-linecap="round" stroke-linejoin="round"/>
<path d="M1318.3,331.3l2.3,-0.7 3.9,0 4.8,1 5,2 4.2,2.9 3,3.6 1.2,3.9 -0.6,3.9" stroke="#0e5a0e" stroke-width="4.540000000000001" fill="none" stroke-linecap="round" stroke-linejoin="round"/>
<path d="M1318.3,331.3l2.3,-0.7 3.9,0 4.8,1 5,2 4.2,2.9 3,3.6 1.2,3.9 -0.6,3.9" stroke="#26ee1e" stroke-width="2.3400000000000003" fill="none" stroke-linecap="round" stroke-linejoin="round"/>
<path d="M1320.1,357.6l1.5,-0.1 2.6,0.3 3.3,1 3.6,1.6 3.4,2.3 2.7,2.8 1.7,3.1 0.5,3.4 -0.7,3.3" stroke="#0e5a0e" stroke-width="4.540000000000001" fill="none" stroke-linecap="round" stroke-linejoin="round"/>
<path d="M1320.1,357.6l1.5,-0.1 2.6,0.3 3.3,1 3.6,1.6 3.4,2.3 2.7,2.8 1.7,3.1 0.5,3.4 -0.7,3.3" stroke="#26ee1e" stroke-width="2.3400000000000003" fill="none" stroke-linecap="round" stroke-linejoin="round"/>
<path d="M1319.8,385.5l0.9,0 1.9,0.2 2.8,0.8 3.3,1.3 3.4,1.9 3.1,2.5 2.3,3.1 1.2,3.3 0,3.4" stroke="#0e5a0e" stroke-width="4.540000000000001" fill="none" stroke-linecap="round" stroke-linejoin="round"/>
<path d="M1319.8,385.5l0.9,0 1.9,0.2 2.8,0.8 3.3,1.3 3.4,1.9 3.1,2.5 2.3,3.1 1.2,3.3 0,3.4" stroke="#26ee1e" stroke-width="2.3400000000000003" fill="none" stroke-linecap="round" stroke-linejoin="round"/>
<path d="M1317.1,413.1l0.8,-0.5 2.2,-0.1 3.5,0.4 4.3,1.3" stroke="#0e5a0e" stroke-width="4.540000000000001" fill="none" stroke-linecap="round" stroke-linejoin="round"/>
<path d="M1317.1,413.1l0.8,-0.5 2.2,-0.1 3.5,0.4 4.3,1.3" stroke="#26ee1e" stroke-width="2.3400000000000003" fill="none" stroke-linecap="round" stroke-linejoin="round"/>
<path d="M1343.7,246l-1.2,3.1 -2.4,2.9 -3.2,2.3 -3.7,1.7 -3.6,1.1 -3.2,0.4 -2.2,-0.1 -0.9,-0.3" stroke="#0e5a0e" stroke-width="7.4" fill="none" stroke-linecap="round" stroke-linejoin="round"/>
<path d="M1343.7,246l-1.2,3.1 -2.4,2.9 -3.2,2.3 -3.7,1.7 -3.6,1.1 -3.2,0.4 -2.2,-0.1 -0.9,-0.3" stroke="#26ee1e" stroke-width="5.2" fill="none" stroke-linecap="round" stroke-linejoin="round"/>
<path d="M1345.9,274.4l-2.4,3.8 -4,3.2 -5.2,2.2 -5.4,1.2 -4.9,0.2 -3.5,-0.7 -1.6,-1.2 0.7,-1.2" stroke="#0e5a0e" stroke-width="7.4" fill="none" stroke-linecap="round" stroke-linejoin="round"/>
<path d="M1345.9,274.4l-2.4,3.8 -4,3.2 -5.2,2.2 -5.4,1.2 -4.9,0.2 -3.5,-0.7 -1.6,-1.2 0.7,-1.2" stroke="#26ee1e" stroke-width="5.2" fill="none" stroke-linecap="round" stroke-linejoin="round"/>
<path d="M1347.8,297.3l-1.9,4.6 -4.2,3.8 -5.8,2.8 -6.4,1.5 -5.9,0.2 -4.4,-0.8 -2.1,-1.5 0.5,-1.5" stroke="#0e5a0e" stroke-width="7.4" fill="none" stroke-linecap="round" stroke-linejoin="round"/>
<path d="M1347.8,297.3l-1.9,4.6 -4.2,3.8 -5.8,2.8 -6.4,1.5 -5.9,0.2 -4.4,-0.8 -2.1,-1.5 0.5,-1.5" stroke="#26ee1e" stroke-width="5.2" fill="none" stroke-linecap="round" stroke-linejoin="round"/>
<path d="M1346.3,321.2l-1.8,4.5 -4,3.7 -5.4,2.7 -5.8,1.5 -5.3,0.3 -3.9,-0.5 -2,-1 0.2,-1.1" stroke="#0e5a0e" stroke-width="7.4" fill="none" stroke-linecap="round" stroke-linejoin="round"/>
<path d="M1346.3,321.2l-1.8,4.5 -4,3.7 -5.4,2.7 -5.8,1.5 -5.3,0.3 -3.9,-0.5 -2,-1 0.2,-1.1" stroke="#26ee1e" stroke-width="5.2" fill="none" stroke-linecap="round" stroke-linejoin="round"/>
<path d="M1342.1,347.9l-2.2,3.5 -3.5,2.9 -4.2,2.1 -4.3,1.3 -3.7,0.6 -2.8,0 -1.4,-0.3 0.1,-0.4" stroke="#0e5a0e" stroke-width="7.4" fill="none" stroke-linecap="round" stroke-linejoin="round"/>
<path d="M1342.1,347.9l-2.2,3.5 -3.5,2.9 -4.2,2.1 -4.3,1.3 -3.7,0.6 -2.8,0 -1.4,-0.3 0.1,-0.4" stroke="#26ee1e" stroke-width="5.2" fill="none" stroke-linecap="round" stroke-linejoin="round"/>
<path d="M1338.7,375.3l-1.9,3 -2.7,2.6 -3.3,2 -3.5,1.4 -3.1,0.9 -2.5,0.3 -1.5,0.1 -0.4,-0.1" stroke="#0e5a0e" stroke-width="7.4" fill="none" stroke-linecap="round" stroke-linejoin="round"/>
<path d="M1338.7,375.3l-1.9,3 -2.7,2.6 -3.3,2 -3.5,1.4 -3.1,0.9 -2.5,0.3 -1.5,0.1 -0.4,-0.1" stroke="#26ee1e" stroke-width="5.2" fill="none" stroke-linecap="round" stroke-linejoin="round"/>
<path d="M1338.7,402l-1.4,3.4 -2.6,2.9 -3.5,2.4 -3.9,1.7 -3.9,1 -3.2,0.3 -2.3,-0.2 -0.8,-0.4" stroke="#0e5a0e" stroke-width="7.4" fill="none" stroke-linecap="round" stroke-linejoin="round"/>
<path d="M1338.7,402l-1.4,3.4 -2.6,2.9 -3.5,2.4 -3.9,1.7 -3.9,1 -3.2,0.3 -2.3,-0.2 -0.8,-0.4" stroke="#26ee1e" stroke-width="5.2" fill="none" stroke-linecap="round" stroke-linejoin="round"/>
<path d="M1340.4,203.6l4.3,0.2 4.9,0.6 4.9,1.1 4.4,1.6 3.5,1.9 2.4,2.4 1.2,2.5 0.1,2.7" stroke="#0e5a0e" stroke-width="4.9" fill="none" stroke-linecap="round" stroke-linejoin="round"/>
<path d="M1340.4,203.6l4.3,0.2 4.9,0.6 4.9,1.1 4.4,1.6 3.5,1.9 2.4,2.4 1.2,2.5 0.1,2.7" stroke="#26ee1e" stroke-width="2.7" fill="none" stroke-linecap="round" stroke-linejoin="round"/>
<path d="M1349.1,233.8l1.2,0.4 2.3,0.4 3.4,0.4 4.2,0.7 4.5,1.1 4.4,1.6 3.6,2 2.5,2.6 0.8,2.9" stroke="#0e5a0e" stroke-width="4.9" fill="none" stroke-linecap="round" stroke-linejoin="round"/>
<path d="M1349.1,233.8l1.2,0.4 2.3,0.4 3.4,0.4 4.2,0.7 4.5,1.1 4.4,1.6 3.6,2 2.5,2.6 0.8,2.9" stroke="#26ee1e" stroke-width="2.7" fill="none" stroke-linecap="round" stroke-linejoin="round"/>
<path d="M1355.6,261.9l2.1,0.2 3.2,0.4 4.1,0.7 4.4,1 4.3,1.6 3.5,2 2.3,2.6 0.7,2.9" stroke="#0e5a0e" stroke-width="4.9" fill="none" stroke-linecap="round" stroke-linejoin="round"/>
<path d="M1355.6,261.9l2.1,0.2 3.2,0.4 4.1,0.7 4.4,1 4.3,1.6 3.5,2 2.3,2.6 0.7,2.9" stroke="#26ee1e" stroke-width="2.7" fill="none" stroke-linecap="round" stroke-linejoin="round"/>
<path d="M1355,287.1l3,-0.6 5.2,-0.3 6.6,0.2 7,0.9 6,1.9 4.3,2.7 1.8,3.3 -0.7,3.7" stroke="#0e5a0e" stroke-width="4.9" fill="none" stroke-linecap="round" stroke-linejoin="round"/>
<path d="M1355,287.1l3,-0.6 5.2,-0.3 6.6,0.2 7,0.9 6,1.9 4.3,2.7 1.8,3.3 -0.7,3.7" stroke="#26ee1e" stroke-width="2.7" fill="none" stroke-linecap="round" stroke-linejoin="round"/>
<path d="M1359.5,313.1l1.8,-0.1 3.3,0 4.5,0.2 5.3,0.5 5.5,1.1 5.1,1.7 4.2,2.2 2.7,2.8 1,3.2" stroke="#0e5a0e" stroke-width="4.9" fill="none" stroke-linecap="round" stroke-linejoin="round"/>
<path d="M1359.5,313.1l1.8,-0.1 3.3,0 4.5,0.2 5.3,0.5 5.5,1.1 5.1,1.7 4.2,2.2 2.7,2.8 1,3.2" stroke="#26ee1e" stroke-width="2.7" fill="none" stroke-linecap="round" stroke-linejoin="round"/>
<path d="M1360.1,343.5l2.2,-0.1 3.6,0 4.4,0.4 4.9,0.7 4.7,1.3 4.1,1.7 3.3,2.1 2.1,2.5 0.8,2.8 -0.4,2.9" stroke="#0e5a0e" stroke-width="4.9" fill="none" stroke-linecap="round" stroke-linejoin="round"/>
<path d="M1360.1,343.5l2.2,-0.1 3.6,0 4.4,0.4 4.9,0.7 4.7,1.3 4.1,1.7 3.3,2.1 2.1,2.5 0.8,2.8 -0.4,2.9" stroke="#26ee1e" stroke-width="2.7" fill="none" stroke-linecap="round" stroke-linejoin="round"/>
<path d="M1364.8,373.7l1.6,0 3.2,0.1 4.5,0.3 5.2,0.8 5,1.5 4.1,2.1 2.5,2.7 0.6,3.1" stroke="#0e5a0e" stroke-width="4.9" fill="none" stroke-linecap="round" stroke-linejoin="round"/>
<path d="M1364.8,373.7l1.6,0 3.2,0.1 4.5,0.3 5.2,0.8 5,1.5 4.1,2.1 2.5,2.7 0.6,3.1" stroke="#26ee1e" stroke-width="2.7" fill="none" stroke-linecap="round" stroke-linejoin="round"/>
<path d="M1368.5,399.8l1.1,0.4 2.3,0.5" stroke="#0e5a0e" stroke-width="4.9" fill="none" stroke-linecap="round" stroke-linejoin="round"/>
<path d="M1368.5,399.8l1.1,0.4 2.3,0.5" stroke="#26ee1e" stroke-width="2.7" fill="none" stroke-linecap="round" stroke-linejoin="round"/>
<path d="M1366.1,216.6l-0.8,2.6 -1.6,2.6 -2.1,2.4 -2.5,2.1 -2.6,2 -2.5,1.7 -2.3,1.4 -1.7,1 -0.9,0.9 0,0.5" stroke="#0e5a0e" stroke-width="8.2" fill="none" stroke-linecap="round" stroke-linejoin="round"/>
<path d="M1366.1,216.6l-0.8,2.6 -1.6,2.6 -2.1,2.4 -2.5,2.1 -2.6,2 -2.5,1.7 -2.3,1.4 -1.7,1 -0.9,0.9 0,0.5" stroke="#26ee1e" stroke-width="6.0" fill="none" stroke-linecap="round" stroke-linejoin="round"/>
<path d="M1376,245.9l-0.8,3 -2.3,3 -3.4,2.8 -4.1,2.4 -4,1.8 -3.4,1.3 -2.2,0.9 -0.9,0.5 0.7,0.3" stroke="#0e5a0e" stroke-width="8.2" fill="none" stroke-linecap="round" stroke-linejoin="round"/>
<path d="M1376,245.9l-0.8,3 -2.3,3 -3.4,2.8 -4.1,2.4 -4,1.8 -3.4,1.3 -2.2,0.9 -0.9,0.5 0.7,0.3" stroke="#26ee1e" stroke-width="6.0" fill="none" stroke-linecap="round" stroke-linejoin="round"/>
<path d="M1380.2,273.3l-1.2,3.2 -3,3.2 -4.6,2.9 -5.3,2.3 -5.2,1.6 -4.2,0.9 -2.1,0.1 0.4,-0.4" stroke="#0e5a0e" stroke-width="8.2" fill="none" stroke-linecap="round" stroke-linejoin="round"/>
<path d="M1380.2,273.3l-1.2,3.2 -3,3.2 -4.6,2.9 -5.3,2.3 -5.2,1.6 -4.2,0.9 -2.1,0.1 0.4,-0.4" stroke="#26ee1e" stroke-width="6.0" fill="none" stroke-linecap="round" stroke-linejoin="round"/>
<path d="M1388.2,298.9l-2.9,3.6 -4.6,3.2 -5.5,2.8 -5.5,2.1 -4.8,1.4 -3.5,0.8 -1.8,0.3 -0.1,0" stroke="#0e5a0e" stroke-width="8.2" fill="none" stroke-linecap="round" stroke-linejoin="round"/>
<path d="M1388.2,298.9l-2.9,3.6 -4.6,3.2 -5.5,2.8 -5.5,2.1 -4.8,1.4 -3.5,0.8 -1.8,0.3 -0.1,0" stroke="#26ee1e" stroke-width="6.0" fill="none" stroke-linecap="round" stroke-linejoin="round"/>
<path d="M1392.9,324.7l-1,3.5 -2.8,3.5 -4.3,3.2 -5.4,2.9 -5.7,2.4 -5.4,1.7 -4.5,1.1 -3,0.5 -1.3,0.1 0.6,-0.1" stroke="#0e5a0e" stroke-width="8.2" fill="none" stroke-linecap="round" stroke-linejoin="round"/>
<path d="M1392.9,324.7l-1,3.5 -2.8,3.5 -4.3,3.2 -5.4,2.9 -5.7,2.4 -5.4,1.7 -4.5,1.1 -3,0.5 -1.3,0.1 0.6,-0.1" stroke="#26ee1e" stroke-width="6.0" fill="none" stroke-linecap="round" stroke-linejoin="round"/>
<path d="M1389.8,357.8l-1.6,3 -2.7,2.8 -3.5,2.7 -4.1,2.3 -4.2,2 -3.8,1.4 -3.1,1 -1.8,0.6 -0.2,0.1" stroke="#0e5a0e" stroke-width="8.2" fill="none" stroke-linecap="round" stroke-linejoin="round"/>
<path d="M1389.8,357.8l-1.6,3 -2.7,2.8 -3.5,2.7 -4.1,2.3 -4.2,2 -3.8,1.4 -3.1,1 -1.8,0.6 -0.2,0.1" stroke="#26ee1e" stroke-width="6.0" fill="none" stroke-linecap="round" stroke-linejoin="round"/>
<path d="M1391.5,384.3l-1.5,3.2 -3.1,3.2 -4.2,2.8 -4.6,2.3 -4.2,1.7 -3.2,1.1 -1.9,0.8 -0.3,0.4" stroke="#0e5a0e" stroke-width="8.2" fill="none" stroke-linecap="round" stroke-linejoin="round"/>
<path d="M1391.5,384.3l-1.5,3.2 -3.1,3.2 -4.2,2.8 -4.6,2.3 -4.2,1.7 -3.2,1.1 -1.9,0.8 -0.3,0.4" stroke="#26ee1e" stroke-width="6.0" fill="none" stroke-linecap="round" stroke-linejoin="round"/>
<path d="M1379.7,221.3l1.5,1.1 2.9,1.1 3.7,1.4 4.2,1.5 3.8,1.8 3.1,2.1 1.6,2.2 0.1,2.3" stroke="#0e5a0e" stroke-width="4.9" fill="none" stroke-linecap="round" stroke-linejoin="round"/>
<path d="M1379.7,221.3l1.5,1.1 2.9,1.1 3.7,1.4 4.2,1.5 3.8,1.8 3.1,2.1 1.6,2.2 0.1,2.3" stroke="#26ee1e" stroke-width="2.7" fill="none" stroke-linecap="round" stroke-linejoin="round"/>
<path d="M1376.1,247.3l1.3,0.9 2.9,1.1 4,1.2 4.5,1.5 4.3,1.8 3.5,1.9 2.3,2.2 0.7,2.2 -0.8,2.3" stroke="#0e5a0e" stroke-width="4.9" fill="none" stroke-linecap="round" stroke-linejoin="round"/>
<path d="M1376.1,247.3l1.3,0.9 2.9,1.1 4,1.2 4.5,1.5 4.3,1.8 3.5,1.9 2.3,2.2 0.7,2.2 -0.8,2.3" stroke="#26ee1e" stroke-width="2.7" fill="none" stroke-linecap="round" stroke-linejoin="round"/>
<path d="M1375.7,276l1.6,1.1 2.6,1.2 3.2,1.3 3.5,1.5 3.5,1.7 3,1.8 2.4,2 1.5,2.1 0.4,2.1" stroke="#0e5a0e" stroke-width="4.9" fill="none" stroke-linecap="round" stroke-linejoin="round"/>
<path d="M1375.7,276l1.6,1.1 2.6,1.2 3.2,1.3 3.5,1.5 3.5,1.7 3,1.8 2.4,2 1.5,2.1 0.4,2.1" stroke="#26ee1e" stroke-width="2.7" fill="none" stroke-linecap="round" stroke-linejoin="round"/>
<path d="M1374.6,308.1l1.5,1.1 2.6,1.2 3.5,1.2 4,1.5 4.1,1.7 3.9,1.8 3,2.1 1.9,2.2 0.4,2.3" stroke="#0e5a0e" stroke-width="4.9" fill="none" stroke-linecap="round" stroke-linejoin="round"/>
<path d="M1374.6,308.1l1.5,1.1 2.6,1.2 3.5,1.2 4,1.5 4.1,1.7 3.9,1.8 3,2.1 1.9,2.2 0.4,2.3" stroke="#26ee1e" stroke-width="2.7" fill="none" stroke-linecap="round" stroke-linejoin="round"/>
<path d="M1371,337.1l2.3,0.8 4.2,0.9 5.6,1.2 6.2,1.5 5.8,1.9 4.7,2.2 2.8,2.5 0.3,2.5" stroke="#0e5a0e" stroke-width="4.9" fill="none" stroke-linecap="round" stroke-linejoin="round"/>
<path d="M1371,337.1l2.3,0.8 4.2,0.9 5.6,1.2 6.2,1.5 5.8,1.9 4.7,2.2 2.8,2.5 0.3,2.5" stroke="#26ee1e" stroke-width="2.7" fill="none" stroke-linecap="round" stroke-linejoin="round"/>
<path d="M1370.2,363.1l2,0.7 4.1,0.8 5.5,1.2 6.2,1.4 5.9,1.8 4.9,2.1 3.2,2.3 1.3,2.4 -0.8,2.5" stroke="#0e5a0e" stroke-width="4.9" fill="none" stroke-linecap="round" stroke-linejoin="round"/>
<path d="M1370.2,363.1l2,0.7 4.1,0.8 5.5,1.2 6.2,1.4 5.9,1.8 4.9,2.1 3.2,2.3 1.3,2.4 -0.8,2.5" stroke="#26ee1e" stroke-width="2.7" fill="none" stroke-linecap="round" stroke-linejoin="round"/>
<path d="M1375.1,391.8l2,1 3.2,1.1 3.9,1.3 4.2,1.4 4.2,1.7 3.7,1.9 2.9,2 1.9,2.1 0.8,2.2 -0.4,2.1" stroke="#0e5a0e" stroke-width="4.9" fill="none" stroke-linecap="round" stroke-linejoin="round"/>
<path d="M1375.1,391.8l2,1 3.2,1.1 3.9,1.3 4.2,1.4 4.2,1.7 3.7,1.9 2.9,2 1.9,2.1 0.8,2.2 -0.4,2.1" stroke="#26ee1e" stroke-width="2.7" fill="none" stroke-linecap="round" stroke-linejoin="round"/>
<path d="M1379.6,424l1.7,1.1 2.6,1.1 3.5,1.3 4,1.5 4.1,1.6 3.8,1.8 3,2.1 2,2.1 0.5,2.3" stroke="#0e5a0e" stroke-width="4.9" fill="none" stroke-linecap="round" stroke-linejoin="round"/>
<path d="M1379.6,424l1.7,1.1 2.6,1.1 3.5,1.3 4,1.5 4.1,1.6 3.8,1.8 3,2.1 2,2.1 0.5,2.3" stroke="#26ee1e" stroke-width="2.7" fill="none" stroke-linecap="round" stroke-linejoin="round"/>
<path d="M1394.5,213.4l-3.8,1.8 -3.8,1.5 -3.4,1.4 -2.6,1.1 -1.4,1.1 0.2,1" stroke="#0e5a0e" stroke-width="8.2" fill="none" stroke-linecap="round" stroke-linejoin="round"/>
<path d="M1394.5,213.4l-3.8,1.8 -3.8,1.5 -3.4,1.4 -2.6,1.1 -1.4,1.1 0.2,1" stroke="#26ee1e" stroke-width="6.0" fill="none" stroke-linecap="round" stroke-linejoin="round"/>
<path d="M1400.6,234.8l-1.7,2.2 -3.2,2.2 -4.3,1.9 -4.7,1.7 -4.5,1.4 -3.6,1.2 -2.1,1 -0.4,0.9" stroke="#0e5a0e" stroke-width="8.2" fill="none" stroke-linecap="round" stroke-linejoin="round"/>
<path d="M1400.6,234.8l-1.7,2.2 -3.2,2.2 -4.3,1.9 -4.7,1.7 -4.5,1.4 -3.6,1.2 -2.1,1 -0.4,0.9" stroke="#26ee1e" stroke-width="6.0" fill="none" stroke-linecap="round" stroke-linejoin="round"/>
<path d="M1398.8,262.4l-2.3,2.2 -3.3,2 -4.1,1.9 -4.2,1.6 -3.8,1.4 -3.1,1.3 -2,1.1 -0.8,1 0.5,1.1" stroke="#0e5a0e" stroke-width="8.2" fill="none" stroke-linecap="round" stroke-linejoin="round"/>
<path d="M1398.8,262.4l-2.3,2.2 -3.3,2 -4.1,1.9 -4.2,1.6 -3.8,1.4 -3.1,1.3 -2,1.1 -0.8,1 0.5,1.1" stroke="#26ee1e" stroke-width="6.0" fill="none" stroke-linecap="round" stroke-linejoin="round"/>
<path d="M1397.4,290.8l-0.6,2.1 -1.6,2.1 -2.4,2 -3.1,1.9 -3.4,1.7 -3.5,1.6 -3.3,1.4 -2.6,1.3 -1.9,1.1 -0.8,1.1 0.4,1" stroke="#0e5a0e" stroke-width="8.2" fill="none" stroke-linecap="round" stroke-linejoin="round"/>
<path d="M1397.4,290.8l-0.6,2.1 -1.6,2.1 -2.4,2 -3.1,1.9 -3.4,1.7 -3.5,1.6 -3.3,1.4 -2.6,1.3 -1.9,1.1 -0.8,1.1 0.4,1" stroke="#26ee1e" stroke-width="6.0" fill="none" stroke-linecap="round" stroke-linejoin="round"/>
<path d="M1399.5,323.2l-1.2,2.3 -2.8,2.2 -4.1,2.1 -5,1.8 -5.2,1.6 -4.8,1.3 -3.6,1 -1.9,0.8 0.1,0.8" stroke="#0e5a0e" stroke-width="8.2" fill="none" stroke-linecap="round" stroke-linejoin="round"/>
<path d="M1399.5,323.2l-1.2,2.3 -2.8,2.2 -4.1,2.1 -5,1.8 -5.2,1.6 -4.8,1.3 -3.6,1 -1.9,0.8 0.1,0.8" stroke="#26ee1e" stroke-width="6.0" fill="none" stroke-linecap="round" stroke-linejoin="round"/>
<path d="M1402.9,350.6l-2,2.6 -4.3,2.3 -5.8,2.1 -6.4,1.7 -6.1,1.4 -4.8,1 -2.8,0.8 -0.5,0.6" stroke="#0e5a0e" stroke-width="8.2" fill="none" stroke-linecap="round" stroke-linejoin="round"/>
<path d="M1402.9,350.6l-2,2.6 -4.3,2.3 -5.8,2.1 -6.4,1.7 -6.1,1.4 -4.8,1 -2.8,0.8 -0.5,0.6" stroke="#26ee1e" stroke-width="6.0" fill="none" stroke-linecap="round" stroke-linejoin="round"/>
<path d="M1402.5,378.3l-2.6,2.3 -4,2.2 -4.9,1.9 -5,1.7 -4.6,1.4 -3.7,1.1 -2.4,1 -0.9,1 0.7,0.9" stroke="#0e5a0e" stroke-width="8.2" fill="none" stroke-linecap="round" stroke-linejoin="round"/>
<path d="M1402.5,378.3l-2.6,2.3 -4,2.2 -4.9,1.9 -5,1.7 -4.6,1.4 -3.7,1.1 -2.4,1 -0.9,1 0.7,0.9" stroke="#26ee1e" stroke-width="6.0" fill="none" stroke-linecap="round" stroke-linejoin="round"/>
<path d="M1401.5,408.6l-1.4,2.2 -2.4,2 -3.1,1.9 -3.5,1.8 -3.5,1.5 -3.3,1.5 -2.6,1.2 -1.8,1.2 -0.7,1.1 0.4,1" stroke="#0e5a0e" stroke-width="8.2" fill="none" stroke-linecap="round" stroke-linejoin="round"/>
<path d="M1401.5,408.6l-1.4,2.2 -2.4,2 -3.1,1.9 -3.5,1.8 -3.5,1.5 -3.3,1.5 -2.6,1.2 -1.8,1.2 -0.7,1.1 0.4,1" stroke="#26ee1e" stroke-width="6.0" fill="none" stroke-linecap="round" stroke-linejoin="round"/>
<path d="M1404.8,438.9l-0.9,2.2 -2.2,2.1" stroke="#0e5a0e" stroke-width="8.2" fill="none" stroke-linecap="round" stroke-linejoin="round"/>
<path d="M1404.8,438.9l-0.9,2.2 -2.2,2.1" stroke="#26ee1e" stroke-width="6.0" fill="none" stroke-linecap="round" stroke-linejoin="round"/>
<path d="M1205.0,432.0 C1206.5,433.3 1211.8,436.2 1214.0,440.0 C1216.2,443.8 1216.2,449.2 1218.0,455.0 C1219.8,460.8 1222.7,469.2 1225.0,475.0 C1227.3,480.8 1229.5,489.5 1232.0,490.0 C1234.5,490.5 1237.8,483.8 1240.0,478.0 C1242.2,472.2 1243.3,461.3 1245.0,455.0 C1246.7,448.7 1249.2,442.5 1250.0,440.0" stroke="#0e5a0e" stroke-width="4.800000000000001" fill="none" stroke-linecap="round" stroke-linejoin="round"/>
<path d="M1205.0,432.0 C1206.5,433.3 1211.8,436.2 1214.0,440.0 C1216.2,443.8 1216.2,449.2 1218.0,455.0 C1219.8,460.8 1222.7,469.2 1225.0,475.0 C1227.3,480.8 1229.5,489.5 1232.0,490.0 C1234.5,490.5 1237.8,483.8 1240.0,478.0 C1242.2,472.2 1243.3,461.3 1245.0,455.0 C1246.7,448.7 1249.2,442.5 1250.0,440.0" stroke="#26ee1e" stroke-width="2.6" fill="none" stroke-linecap="round" stroke-linejoin="round"/>
<path d="M1258.0,455.0 C1260.0,455.8 1265.5,460.8 1270.0,460.0 C1274.5,459.2 1280.0,453.7 1285.0,450.0 C1290.0,446.3 1297.5,440.0 1300.0,438.0" stroke="#0e5a0e" stroke-width="4.800000000000001" fill="none" stroke-linecap="round" stroke-linejoin="round"/>
<path d="M1258.0,455.0 C1260.0,455.8 1265.5,460.8 1270.0,460.0 C1274.5,459.2 1280.0,453.7 1285.0,450.0 C1290.0,446.3 1297.5,440.0 1300.0,438.0" stroke="#26ee1e" stroke-width="2.6" fill="none" stroke-linecap="round" stroke-linejoin="round"/>
<path d="M1318.0,440.0 C1318.0,443.3 1316.8,455.0 1318.0,460.0 C1319.2,465.0 1321.3,468.7 1325.0,470.0 C1328.7,471.3 1335.5,469.7 1340.0,468.0 C1344.5,466.3 1350.0,461.3 1352.0,460.0" stroke="#0e5a0e" stroke-width="4.800000000000001" fill="none" stroke-linecap="round" stroke-linejoin="round"/>
<path d="M1318.0,440.0 C1318.0,443.3 1316.8,455.0 1318.0,460.0 C1319.2,465.0 1321.3,468.7 1325.0,470.0 C1328.7,471.3 1335.5,469.7 1340.0,468.0 C1344.5,466.3 1350.0,461.3 1352.0,460.0" stroke="#26ee1e" stroke-width="2.6" fill="none" stroke-linecap="round" stroke-linejoin="round"/>
<path d="M1352.0,460.0 C1353.7,461.7 1358.7,469.2 1362.0,470.0 C1365.3,470.8 1369.0,468.7 1372.0,465.0 C1375.0,461.3 1376.7,452.2 1380.0,448.0 C1383.3,443.8 1388.7,443.8 1392.0,440.0 C1395.3,436.2 1397.8,430.0 1400.0,425.0 C1402.2,420.0 1404.2,412.5 1405.0,410.0" stroke="#0e5a0e" stroke-width="4.800000000000001" fill="none" stroke-linecap="round" stroke-linejoin="round"/>
<path d="M1352.0,460.0 C1353.7,461.7 1358.7,469.2 1362.0,470.0 C1365.3,470.8 1369.0,468.7 1372.0,465.0 C1375.0,461.3 1376.7,452.2 1380.0,448.0 C1383.3,443.8 1388.7,443.8 1392.0,440.0 C1395.3,436.2 1397.8,430.0 1400.0,425.0 C1402.2,420.0 1404.2,412.5 1405.0,410.0" stroke="#26ee1e" stroke-width="2.6" fill="none" stroke-linecap="round" stroke-linejoin="round"/>
<path d="M1385.0,400.0 C1384.2,404.2 1382.2,418.7 1380.0,425.0 C1377.8,431.3 1375.0,437.2 1372.0,438.0 C1369.0,438.8 1363.7,431.3 1362.0,430.0" stroke="#0e5a0e" stroke-width="4.800000000000001" fill="none" stroke-linecap="round" stroke-linejoin="round"/>
<path d="M1385.0,400.0 C1384.2,404.2 1382.2,418.7 1380.0,425.0 C1377.8,431.3 1375.0,437.2 1372.0,438.0 C1369.0,438.8 1363.7,431.3 1362.0,430.0" stroke="#26ee1e" stroke-width="2.6" fill="none" stroke-linecap="round" stroke-linejoin="round"/>
<path d="M1098.0,597.0 C1099.0,595.8 1099.5,590.8 1104.0,590.0 C1108.5,589.2 1122.2,589.8 1125.0,592.0 C1127.8,594.2 1122.7,600.0 1121.0,603.0 C1119.3,606.0 1115.5,607.2 1115.0,610.0 C1114.5,612.8 1115.8,617.3 1118.0,620.0 C1120.2,622.7 1124.0,625.8 1128.0,626.0 C1132.0,626.2 1137.8,624.3 1142.0,621.0 C1146.2,617.7 1150.0,609.8 1153.0,606.0 C1156.0,602.2 1158.8,599.3 1160.0,598.0" stroke="#4d3505" stroke-width="5.0" fill="none" stroke-linecap="round" stroke-linejoin="round"/>
<path d="M1098.0,597.0 C1099.0,595.8 1099.5,590.8 1104.0,590.0 C1108.5,589.2 1122.2,589.8 1125.0,592.0 C1127.8,594.2 1122.7,600.0 1121.0,603.0 C1119.3,606.0 1115.5,607.2 1115.0,610.0 C1114.5,612.8 1115.8,617.3 1118.0,620.0 C1120.2,622.7 1124.0,625.8 1128.0,626.0 C1132.0,626.2 1137.8,624.3 1142.0,621.0 C1146.2,617.7 1150.0,609.8 1153.0,606.0 C1156.0,602.2 1158.8,599.3 1160.0,598.0" stroke="#f6a828" stroke-width="2.8" fill="none" stroke-linecap="round" stroke-linejoin="round"/>
<path d="M1100.0,634.0 C1102.0,634.3 1106.5,634.8 1112.0,636.0 C1117.5,637.2 1129.0,638.3 1133.0,641.0 C1137.0,643.7 1136.2,648.2 1136.0,652.0 C1135.8,655.8 1134.7,661.7 1132.0,664.0 C1129.3,666.3 1123.3,667.5 1120.0,666.0 C1116.7,664.5 1112.7,659.0 1112.0,655.0 C1111.3,651.0 1113.0,644.5 1116.0,642.0 C1119.0,639.5 1127.7,640.3 1130.0,640.0" stroke="#4d3505" stroke-width="5.0" fill="none" stroke-linecap="round" stroke-linejoin="round"/>
<path d="M1100.0,634.0 C1102.0,634.3 1106.5,634.8 1112.0,636.0 C1117.5,637.2 1129.0,638.3 1133.0,641.0 C1137.0,643.7 1136.2,648.2 1136.0,652.0 C1135.8,655.8 1134.7,661.7 1132.0,664.0 C1129.3,666.3 1123.3,667.5 1120.0,666.0 C1116.7,664.5 1112.7,659.0 1112.0,655.0 C1111.3,651.0 1113.0,644.5 1116.0,642.0 C1119.0,639.5 1127.7,640.3 1130.0,640.0" stroke="#f6a828" stroke-width="2.8" fill="none" stroke-linecap="round" stroke-linejoin="round"/>
<path d="M1135.0,662.0 C1136.8,663.3 1142.8,668.0 1146.0,670.0 C1149.2,672.0 1151.3,671.7 1154.0,674.0 C1156.7,676.3 1159.3,680.8 1162.0,684.0 C1164.7,687.2 1167.7,689.8 1170.0,693.0 C1172.3,696.2 1173.8,699.7 1176.0,703.0 C1178.2,706.3 1181.2,710.7 1183.0,713.0 C1184.8,715.3 1186.8,717.7 1187.0,717.0 C1187.2,716.3 1185.5,711.8 1184.0,709.0 C1182.5,706.2 1179.0,701.5 1178.0,700.0" stroke="#4d3505" stroke-width="5.0" fill="none" stroke-linecap="round" stroke-linejoin="round"/>
<path d="M1135.0,662.0 C1136.8,663.3 1142.8,668.0 1146.0,670.0 C1149.2,672.0 1151.3,671.7 1154.0,674.0 C1156.7,676.3 1159.3,680.8 1162.0,684.0 C1164.7,687.2 1167.7,689.8 1170.0,693.0 C1172.3,696.2 1173.8,699.7 1176.0,703.0 C1178.2,706.3 1181.2,710.7 1183.0,713.0 C1184.8,715.3 1186.8,717.7 1187.0,717.0 C1187.2,716.3 1185.5,711.8 1184.0,709.0 C1182.5,706.2 1179.0,701.5 1178.0,700.0" stroke="#f6a828" stroke-width="2.8" fill="none" stroke-linecap="round" stroke-linejoin="round"/>
<path d="M1153.0,674.0 C1153.5,671.7 1154.3,664.3 1156.0,660.0 C1157.7,655.7 1159.8,649.7 1163.0,648.0 C1166.2,646.3 1171.0,648.2 1175.0,650.0 C1179.0,651.8 1184.2,655.3 1187.0,659.0 C1189.8,662.7 1191.5,667.8 1192.0,672.0 C1192.5,676.2 1191.0,680.2 1190.0,684.0 C1189.0,687.8 1186.7,693.2 1186.0,695.0" stroke="#4d3505" stroke-width="5.0" fill="none" stroke-linecap="round" stroke-linejoin="round"/>
<path d="M1153.0,674.0 C1153.5,671.7 1154.3,664.3 1156.0,660.0 C1157.7,655.7 1159.8,649.7 1163.0,648.0 C1166.2,646.3 1171.0,648.2 1175.0,650.0 C1179.0,651.8 1184.2,655.3 1187.0,659.0 C1189.8,662.7 1191.5,667.8 1192.0,672.0 C1192.5,676.2 1191.0,680.2 1190.0,684.0 C1189.0,687.8 1186.7,693.2 1186.0,695.0" stroke="#f6a828" stroke-width="2.8" fill="none" stroke-linecap="round" stroke-linejoin="round"/>
<path d="M1175.0,540.0 C1176.3,539.0 1180.7,535.5 1183.0,534.0 C1185.3,532.5 1186.7,533.3 1189.0,531.0 C1191.3,528.7 1194.7,522.3 1197.0,520.0 C1199.3,517.7 1200.2,516.3 1203.0,517.0 C1205.8,517.7 1211.2,521.8 1214.0,524.0 C1216.8,526.2 1218.5,526.5 1220.0,530.0 C1221.5,533.5 1222.0,540.0 1223.0,545.0 C1224.0,550.0 1225.3,555.0 1226.0,560.0 C1226.7,565.0 1227.3,571.2 1227.0,575.0 C1226.7,578.8 1224.5,581.7 1224.0,583.0" stroke="#4d3505" stroke-width="5.0" fill="none" stroke-linecap="round" stroke-linejoin="round"/>
<path d="M1175.0,540.0 C1176.3,539.0 1180.7,535.5 1183.0,534.0 C1185.3,532.5 1186.7,533.3 1189.0,531.0 C1191.3,528.7 1194.7,522.3 1197.0,520.0 C1199.3,517.7 1200.2,516.3 1203.0,517.0 C1205.8,517.7 1211.2,521.8 1214.0,524.0 C1216.8,526.2 1218.5,526.5 1220.0,530.0 C1221.5,533.5 1222.0,540.0 1223.0,545.0 C1224.0,550.0 1225.3,555.0 1226.0,560.0 C1226.7,565.0 1227.3,571.2 1227.0,575.0 C1226.7,578.8 1224.5,581.7 1224.0,583.0" stroke="#f6a828" stroke-width="2.8" fill="none" stroke-linecap="round" stroke-linejoin="round"/>
<path d="M1156.0,584.0 C1156.7,582.3 1157.7,577.2 1160.0,574.0 C1162.3,570.8 1167.3,568.0 1170.0,565.0 C1172.7,562.0 1175.2,559.3 1176.0,556.0 C1176.8,552.7 1175.2,546.8 1175.0,545.0" stroke="#4d3505" stroke-width="5.0" fill="none" stroke-linecap="round" stroke-linejoin="round"/>
<path d="M1156.0,584.0 C1156.7,582.3 1157.7,577.2 1160.0,574.0 C1162.3,570.8 1167.3,568.0 1170.0,565.0 C1172.7,562.0 1175.2,559.3 1176.0,556.0 C1176.8,552.7 1175.2,546.8 1175.0,545.0" stroke="#f6a828" stroke-width="2.8" fill="none" stroke-linecap="round" stroke-linejoin="round"/>
<path d="M1139.9,573.1l-0.9,-9.5 4.2,-6.6 8,-0.5 8.7,6.4 6.1,11.4" stroke="#4d3505" stroke-width="4.6000000000000005" fill="none" stroke-linecap="round" stroke-linejoin="round"/>
<path d="M1139.9,573.1l-0.9,-9.5 4.2,-6.6 8,-0.5 8.7,6.4 6.1,11.4" stroke="#f6a828" stroke-width="2.4000000000000004" fill="none" stroke-linecap="round" stroke-linejoin="round"/>
<path d="M1144.9,585.3l0.6,-9.1 5.5,-5.1 8.6,1.5 8.2,8.1 5,12.1" stroke="#4d3505" stroke-width="4.6000000000000005" fill="none" stroke-linecap="round" stroke-linejoin="round"/>
<path d="M1144.9,585.3l0.6,-9.1 5.5,-5.1 8.6,1.5 8.2,8.1 5,12.1" stroke="#f6a828" stroke-width="2.4000000000000004" fill="none" stroke-linecap="round" stroke-linejoin="round"/>
<path d="M1150.4,597.4l2.1,-8.3 6.6,-3.4 8.8,3.4 7.6,9.7 3.6,12.5" stroke="#4d3505" stroke-width="4.6000000000000005" fill="none" stroke-linecap="round" stroke-linejoin="round"/>
<path d="M1150.4,597.4l2.1,-8.3 6.6,-3.4 8.8,3.4 7.6,9.7 3.6,12.5" stroke="#f6a828" stroke-width="2.4000000000000004" fill="none" stroke-linecap="round" stroke-linejoin="round"/>
<path d="M1153,583.3l-7.6,-2.4 -5.5,-7.8" stroke="#4d3505" stroke-width="5.2" fill="none" stroke-linecap="round" stroke-linejoin="round"/>
<path d="M1153,583.3l-7.6,-2.4 -5.5,-7.8" stroke="#f6a828" stroke-width="3.0" fill="none" stroke-linecap="round" stroke-linejoin="round"/>
<path d="M1166,574.3l1.4,12.4 -3.7,8.9 -7.1,2.6 -7.3,-4.2 -4.4,-8.7" stroke="#4d3505" stroke-width="5.2" fill="none" stroke-linecap="round" stroke-linejoin="round"/>
<path d="M1166,574.3l1.4,12.4 -3.7,8.9 -7.1,2.6 -7.3,-4.2 -4.4,-8.7" stroke="#f6a828" stroke-width="3.0" fill="none" stroke-linecap="round" stroke-linejoin="round"/>
<path d="M1172.8,592.8l-0.1,11.8 -5,7.4 -7.4,0.6 -6.8,-5.9 -3.1,-9.3" stroke="#4d3505" stroke-width="5.2" fill="none" stroke-linecap="round" stroke-linejoin="round"/>
<path d="M1172.8,592.8l-0.1,11.8 -5,7.4 -7.4,0.6 -6.8,-5.9 -3.1,-9.3" stroke="#f6a828" stroke-width="3.0" fill="none" stroke-linecap="round" stroke-linejoin="round"/>
<path d="M1179.1,611.3l-1.6,10.9 -5.9,5.6 -7.6,-1.4" stroke="#4d3505" stroke-width="5.2" fill="none" stroke-linecap="round" stroke-linejoin="round"/>
<path d="M1179.1,611.3l-1.6,10.9 -5.9,5.6 -7.6,-1.4" stroke="#f6a828" stroke-width="3.0" fill="none" stroke-linecap="round" stroke-linejoin="round"/>
<path d="M1215.0,634.0 C1222.8,627.7 1244.8,609.2 1262.0,596.0 C1279.2,582.8 1308.7,561.8 1318.0,555.0" stroke="#4d3505" stroke-width="7.7" fill="none" stroke-linecap="round" stroke-linejoin="round"/>
<path d="M1215.0,634.0 C1222.8,627.7 1244.8,609.2 1262.0,596.0 C1279.2,582.8 1308.7,561.8 1318.0,555.0" stroke="#f6a828" stroke-width="5.5" fill="none" stroke-linecap="round" stroke-linejoin="round"/>
<path d="M1271.0,614.0 C1276.7,606.7 1293.0,586.2 1305.0,570.0 C1317.0,553.8 1336.7,525.8 1343.0,517.0" stroke="#4d3505" stroke-width="8.2" fill="none" stroke-linecap="round" stroke-linejoin="round"/>
<path d="M1271.0,614.0 C1276.7,606.7 1293.0,586.2 1305.0,570.0 C1317.0,553.8 1336.7,525.8 1343.0,517.0" stroke="#f6a828" stroke-width="6.0" fill="none" stroke-linecap="round" stroke-linejoin="round"/>
<path d="M1308.0,602.0 C1311.3,595.0 1321.7,574.8 1328.0,560.0 C1334.3,545.2 1343.0,520.8 1346.0,513.0" stroke="#4d3505" stroke-width="7.2" fill="none" stroke-linecap="round" stroke-linejoin="round"/>
<path d="M1308.0,602.0 C1311.3,595.0 1321.7,574.8 1328.0,560.0 C1334.3,545.2 1343.0,520.8 1346.0,513.0" stroke="#f6a828" stroke-width="5.0" fill="none" stroke-linecap="round" stroke-linejoin="round"/>
<path d="M1339.0,570.0 C1339.5,565.8 1341.5,549.2 1342.0,545.0" stroke="#4d3505" stroke-width="6.7" fill="none" stroke-linecap="round" stroke-linejoin="round"/>
<path d="M1339.0,570.0 C1339.5,565.8 1341.5,549.2 1342.0,545.0" stroke="#f6a828" stroke-width="4.5" fill="none" stroke-linecap="round" stroke-linejoin="round"/>
<path d="M1226.0,582.0 C1226.2,578.3 1227.0,566.7 1227.0,560.0 C1227.0,553.3 1226.2,545.0 1226.0,542.0" stroke="#4d3505" stroke-width="7.2" fill="none" stroke-linecap="round" stroke-linejoin="round"/>
<path d="M1226.0,582.0 C1226.2,578.3 1227.0,566.7 1227.0,560.0 C1227.0,553.3 1226.2,545.0 1226.0,542.0" stroke="#f6a828" stroke-width="5.0" fill="none" stroke-linecap="round" stroke-linejoin="round"/>
<path d="M1236.0,594.0 C1238.7,591.3 1247.7,583.3 1252.0,578.0 C1256.3,572.7 1260.3,564.7 1262.0,562.0" stroke="#4d3505" stroke-width="6.2" fill="none" stroke-linecap="round" stroke-linejoin="round"/>
<path d="M1236.0,594.0 C1238.7,591.3 1247.7,583.3 1252.0,578.0 C1256.3,572.7 1260.3,564.7 1262.0,562.0" stroke="#f6a828" stroke-width="4.0" fill="none" stroke-linecap="round" stroke-linejoin="round"/>
<path d="M1178.9,658.8l-4,-1.6 -3.6,-5.2 -1.1,-6.9 2.4,-6 5.5,-3" stroke="#4d3505" stroke-width="4.7" fill="none" stroke-linecap="round" stroke-linejoin="round"/>
<path d="M1178.9,658.8l-4,-1.6 -3.6,-5.2 -1.1,-6.9 2.4,-6 5.5,-3" stroke="#f6a828" stroke-width="2.5" fill="none" stroke-linecap="round" stroke-linejoin="round"/>
<path d="M1191.9,649.3l-3.6,-0.3 -4.1,-4.1 -2.2,-6.5 1.2,-6.6 4.6,-4.2" stroke="#4d3505" stroke-width="4.7" fill="none" stroke-linecap="round" stroke-linejoin="round"/>
<path d="M1191.9,649.3l-3.6,-0.3 -4.1,-4.1 -2.2,-6.5 1.2,-6.6 4.6,-4.2" stroke="#f6a828" stroke-width="2.5" fill="none" stroke-linecap="round" stroke-linejoin="round"/>
<path d="M1201.6,640.4l-4.2,-2.8 -3.1,-5.9 -0.1,-6.9 3.5,-5.3" stroke="#4d3505" stroke-width="4.7" fill="none" stroke-linecap="round" stroke-linejoin="round"/>
<path d="M1201.6,640.4l-4.2,-2.8 -3.1,-5.9 -0.1,-6.9 3.5,-5.3" stroke="#f6a828" stroke-width="2.5" fill="none" stroke-linecap="round" stroke-linejoin="round"/>
<path d="M1214.7,631.3l-4,-1.5 -3.7,-5 -1.3,-6.8 2.3,-6.1 5.4,-3.2" stroke="#4d3505" stroke-width="4.7" fill="none" stroke-linecap="round" stroke-linejoin="round"/>
<path d="M1214.7,631.3l-4,-1.5 -3.7,-5 -1.3,-6.8 2.3,-6.1 5.4,-3.2" stroke="#f6a828" stroke-width="2.5" fill="none" stroke-linecap="round" stroke-linejoin="round"/>
<path d="M1227.6,621.7l-3.5,-0.1 -4.1,-3.9 -2.3,-6.4 1,-6.7 4.4,-4.4" stroke="#4d3505" stroke-width="4.7" fill="none" stroke-linecap="round" stroke-linejoin="round"/>
<path d="M1227.6,621.7l-3.5,-0.1 -4.1,-3.9 -2.3,-6.4 1,-6.7 4.4,-4.4" stroke="#f6a828" stroke-width="2.5" fill="none" stroke-linecap="round" stroke-linejoin="round"/>
<path d="M1237.4,612.9l-4.2,-2.6 -3.2,-5.8 -0.2,-6.9" stroke="#4d3505" stroke-width="4.7" fill="none" stroke-linecap="round" stroke-linejoin="round"/>
<path d="M1237.4,612.9l-4.2,-2.6 -3.2,-5.8 -0.2,-6.9" stroke="#f6a828" stroke-width="2.5" fill="none" stroke-linecap="round" stroke-linejoin="round"/>
<path d="M1179.8,652l1.3,4.6 -2.2,2.2" stroke="#4d3505" stroke-width="7.2" fill="none" stroke-linecap="round" stroke-linejoin="round"/>
<path d="M1179.8,652l1.3,4.6 -2.2,2.2" stroke="#f6a828" stroke-width="5.0" fill="none" stroke-linecap="round" stroke-linejoin="round"/>
<path d="M1178.1,636.1l6.7,1 5.6,4 2.5,4.9 -1,3.3" stroke="#4d3505" stroke-width="7.2" fill="none" stroke-linecap="round" stroke-linejoin="round"/>
<path d="M1178.1,636.1l6.7,1 5.6,4 2.5,4.9 -1,3.3" stroke="#f6a828" stroke-width="5.0" fill="none" stroke-linecap="round" stroke-linejoin="round"/>
<path d="M1187.8,627.6l6.5,-0.4 6.3,3.1 3.7,4.9 0.2,4.1 -2.9,1.1" stroke="#4d3505" stroke-width="7.2" fill="none" stroke-linecap="round" stroke-linejoin="round"/>
<path d="M1187.8,627.6l6.5,-0.4 6.3,3.1 3.7,4.9 0.2,4.1 -2.9,1.1" stroke="#f6a828" stroke-width="5.0" fill="none" stroke-linecap="round" stroke-linejoin="round"/>
<path d="M1197.7,619.5l6.1,-1.8 6.6,2 4.8,4.5 1.5,4.7 -2,2.4" stroke="#4d3505" stroke-width="7.2" fill="none" stroke-linecap="round" stroke-linejoin="round"/>
<path d="M1197.7,619.5l6.1,-1.8 6.6,2 4.8,4.5 1.5,4.7 -2,2.4" stroke="#f6a828" stroke-width="5.0" fill="none" stroke-linecap="round" stroke-linejoin="round"/>
<path d="M1213.4,608.7l6.7,0.7 5.6,3.9 2.8,5 -0.9,3.4" stroke="#4d3505" stroke-width="7.2" fill="none" stroke-linecap="round" stroke-linejoin="round"/>
<path d="M1213.4,608.7l6.7,0.7 5.6,3.9 2.8,5 -0.9,3.4" stroke="#f6a828" stroke-width="5.0" fill="none" stroke-linecap="round" stroke-linejoin="round"/>
<path d="M1223.1,600.2l6.5,-0.6 6.3,2.9 3.9,4.9 0.4,4.2 -2.8,1.3" stroke="#4d3505" stroke-width="7.2" fill="none" stroke-linecap="round" stroke-linejoin="round"/>
<path d="M1223.1,600.2l6.5,-0.6 6.3,2.9 3.9,4.9 0.4,4.2 -2.8,1.3" stroke="#f6a828" stroke-width="5.0" fill="none" stroke-linecap="round" stroke-linejoin="round"/>
<path d="M1240.0,642.0 C1240.5,644.3 1241.8,651.0 1243.0,656.0 C1244.2,661.0 1245.5,668.5 1247.0,672.0 C1248.5,675.5 1250.5,677.7 1252.0,677.0 C1253.5,676.3 1255.7,672.5 1256.0,668.0 C1256.3,663.5 1253.0,656.0 1254.0,650.0 C1255.0,644.0 1259.3,637.3 1262.0,632.0 C1264.7,626.7 1268.7,620.3 1270.0,618.0" stroke="#4d3505" stroke-width="5.0" fill="none" stroke-linecap="round" stroke-linejoin="round"/>
<path d="M1240.0,642.0 C1240.5,644.3 1241.8,651.0 1243.0,656.0 C1244.2,661.0 1245.5,668.5 1247.0,672.0 C1248.5,675.5 1250.5,677.7 1252.0,677.0 C1253.5,676.3 1255.7,672.5 1256.0,668.0 C1256.3,663.5 1253.0,656.0 1254.0,650.0 C1255.0,644.0 1259.3,637.3 1262.0,632.0 C1264.7,626.7 1268.7,620.3 1270.0,618.0" stroke="#f6a828" stroke-width="2.8" fill="none" stroke-linecap="round" stroke-linejoin="round"/>
<path d="M1281.0,650.0 C1282.5,652.3 1286.8,659.8 1290.0,664.0 C1293.2,668.2 1297.0,671.7 1300.0,675.0 C1303.0,678.3 1305.8,681.5 1308.0,684.0 C1310.2,686.5 1311.7,690.0 1313.0,690.0 C1314.3,690.0 1316.3,686.3 1316.0,684.0 C1315.7,681.7 1311.8,677.3 1311.0,676.0" stroke="#4d3505" stroke-width="5.0" fill="none" stroke-linecap="round" stroke-linejoin="round"/>
<path d="M1281.0,650.0 C1282.5,652.3 1286.8,659.8 1290.0,664.0 C1293.2,668.2 1297.0,671.7 1300.0,675.0 C1303.0,678.3 1305.8,681.5 1308.0,684.0 C1310.2,686.5 1311.7,690.0 1313.0,690.0 C1314.3,690.0 1316.3,686.3 1316.0,684.0 C1315.7,681.7 1311.8,677.3 1311.0,676.0" stroke="#f6a828" stroke-width="2.8" fill="none" stroke-linecap="round" stroke-linejoin="round"/>
<path d="M1276.0,625.0 C1278.7,627.5 1287.2,635.5 1292.0,640.0 C1296.8,644.5 1302.0,650.7 1305.0,652.0 C1308.0,653.3 1310.8,651.3 1310.0,648.0 C1309.2,644.7 1303.3,636.7 1300.0,632.0 C1296.7,627.3 1290.8,625.3 1290.0,620.0 C1289.2,614.7 1291.7,604.7 1295.0,600.0 C1298.3,595.3 1305.5,592.3 1310.0,592.0 C1314.5,591.7 1319.0,594.7 1322.0,598.0 C1325.0,601.3 1327.0,609.7 1328.0,612.0" stroke="#4d3505" stroke-width="5.0" fill="none" stroke-linecap="round" stroke-linejoin="round"/>
<path d="M1276.0,625.0 C1278.7,627.5 1287.2,635.5 1292.0,640.0 C1296.8,644.5 1302.0,650.7 1305.0,652.0 C1308.0,653.3 1310.8,651.3 1310.0,648.0 C1309.2,644.7 1303.3,636.7 1300.0,632.0 C1296.7,627.3 1290.8,625.3 1290.0,620.0 C1289.2,614.7 1291.7,604.7 1295.0,600.0 C1298.3,595.3 1305.5,592.3 1310.0,592.0 C1314.5,591.7 1319.0,594.7 1322.0,598.0 C1325.0,601.3 1327.0,609.7 1328.0,612.0" stroke="#f6a828" stroke-width="2.8" fill="none" stroke-linecap="round" stroke-linejoin="round"/>
<path d="M1336.0,575.0 C1337.5,577.5 1341.0,584.8 1345.0,590.0 C1349.0,595.2 1355.5,600.2 1360.0,606.0 C1364.5,611.8 1369.3,620.3 1372.0,625.0 C1374.7,629.7 1377.2,632.5 1376.0,634.0 C1374.8,635.5 1369.0,634.7 1365.0,634.0 C1361.0,633.3 1355.3,633.7 1352.0,630.0 C1348.7,626.3 1347.3,618.7 1345.0,612.0 C1342.7,605.3 1339.2,593.7 1338.0,590.0" stroke="#4d3505" stroke-width="5.0" fill="none" stroke-linecap="round" stroke-linejoin="round"/>
<path d="M1336.0,575.0 C1337.5,577.5 1341.0,584.8 1345.0,590.0 C1349.0,595.2 1355.5,600.2 1360.0,606.0 C1364.5,611.8 1369.3,620.3 1372.0,625.0 C1374.7,629.7 1377.2,632.5 1376.0,634.0 C1374.8,635.5 1369.0,634.7 1365.0,634.0 C1361.0,633.3 1355.3,633.7 1352.0,630.0 C1348.7,626.3 1347.3,618.7 1345.0,612.0 C1342.7,605.3 1339.2,593.7 1338.0,590.0" stroke="#f6a828" stroke-width="2.8" fill="none" stroke-linecap="round" stroke-linejoin="round"/>
<path d="M1300.0,590.0 C1302.0,589.0 1307.8,584.0 1312.0,584.0 C1316.2,584.0 1321.5,587.3 1325.0,590.0 C1328.5,592.7 1331.8,596.3 1333.0,600.0 C1334.2,603.7 1333.8,609.3 1332.0,612.0 C1330.2,614.7 1323.7,615.3 1322.0,616.0" stroke="#4d3505" stroke-width="5.0" fill="none" stroke-linecap="round" stroke-linejoin="round"/>
<path d="M1300.0,590.0 C1302.0,589.0 1307.8,584.0 1312.0,584.0 C1316.2,584.0 1321.5,587.3 1325.0,590.0 C1328.5,592.7 1331.8,596.3 1333.0,600.0 C1334.2,603.7 1333.8,609.3 1332.0,612.0 C1330.2,614.7 1323.7,615.3 1322.0,616.0" stroke="#f6a828" stroke-width="2.8" fill="none" stroke-linecap="round" stroke-linejoin="round"/>
<path d="M1272.3,615.8l1.6,-4.1 5.1,-2.9 6.6,0.4 5.7,4.1 2.6,6.5" stroke="#4d3505" stroke-width="4.36" fill="none" stroke-linecap="round" stroke-linejoin="round"/>
<path d="M1272.3,615.8l1.6,-4.1 5.1,-2.9 6.6,0.4 5.7,4.1 2.6,6.5" stroke="#f6a828" stroke-width="2.16" fill="none" stroke-linecap="round" stroke-linejoin="round"/>
<path d="M1280.5,629.6l0.5,-4.1 4.3,-3.4 6.5,-0.6 6.1,3.1 3.6,6" stroke="#4d3505" stroke-width="4.36" fill="none" stroke-linecap="round" stroke-linejoin="round"/>
<path d="M1280.5,629.6l0.5,-4.1 4.3,-3.4 6.5,-0.6 6.1,3.1 3.6,6" stroke="#f6a828" stroke-width="2.16" fill="none" stroke-linecap="round" stroke-linejoin="round"/>
<path d="M1288.4,639.4l3.4,-3.9 6,-1.5 6.6,2.1 4.4,5.3" stroke="#4d3505" stroke-width="4.36" fill="none" stroke-linecap="round" stroke-linejoin="round"/>
<path d="M1288.4,639.4l3.4,-3.9 6,-1.5 6.6,2.1 4.4,5.3" stroke="#f6a828" stroke-width="2.16" fill="none" stroke-linecap="round" stroke-linejoin="round"/>
<path d="M1296.1,653.3l2.3,-4.1 5.6,-2.4 6.6,1 5.3,4.6 1.9,6.8" stroke="#4d3505" stroke-width="4.36" fill="none" stroke-linecap="round" stroke-linejoin="round"/>
<path d="M1296.1,653.3l2.3,-4.1 5.6,-2.4 6.6,1 5.3,4.6 1.9,6.8" stroke="#f6a828" stroke-width="2.16" fill="none" stroke-linecap="round" stroke-linejoin="round"/>
<path d="M1274.4,618.9l-2.1,-3.1" stroke="#4d3505" stroke-width="5.800000000000001" fill="none" stroke-linecap="round" stroke-linejoin="round"/>
<path d="M1274.4,618.9l-2.1,-3.1" stroke="#f6a828" stroke-width="3.6" fill="none" stroke-linecap="round" stroke-linejoin="round"/>
<path d="M1293.9,619.8l-1.3,6.7 -4.2,4.5 -4.9,1 -3,-2.4" stroke="#4d3505" stroke-width="5.800000000000001" fill="none" stroke-linecap="round" stroke-linejoin="round"/>
<path d="M1293.9,619.8l-1.3,6.7 -4.2,4.5 -4.9,1 -3,-2.4" stroke="#f6a828" stroke-width="3.6" fill="none" stroke-linecap="round" stroke-linejoin="round"/>
<path d="M1301.5,630.6l-0.2,6.9 -3.6,5.3 -5,2 -3.7,-1.5 -0.6,-3.9" stroke="#4d3505" stroke-width="5.800000000000001" fill="none" stroke-linecap="round" stroke-linejoin="round"/>
<path d="M1301.5,630.6l-0.2,6.9 -3.6,5.3 -5,2 -3.7,-1.5 -0.6,-3.9" stroke="#f6a828" stroke-width="3.6" fill="none" stroke-linecap="round" stroke-linejoin="round"/>
<path d="M1308.8,641.4l0.9,7 -2.8,5.9 -4.9,3.1 -4.3,-0.7 -1.6,-3.4" stroke="#4d3505" stroke-width="5.800000000000001" fill="none" stroke-linecap="round" stroke-linejoin="round"/>
<path d="M1308.8,641.4l0.9,7 -2.8,5.9 -4.9,3.1 -4.3,-0.7 -1.6,-3.4" stroke="#f6a828" stroke-width="3.6" fill="none" stroke-linecap="round" stroke-linejoin="round"/>
<path d="M1317.8,659.2l-1.9,6.4" stroke="#4d3505" stroke-width="5.800000000000001" fill="none" stroke-linecap="round" stroke-linejoin="round"/>
<path d="M1317.8,659.2l-1.9,6.4" stroke="#f6a828" stroke-width="3.6" fill="none" stroke-linecap="round" stroke-linejoin="round"/>
<path d="M1288,434.7l3.5,-6.5 5.4,-3.6 6.1,0.5 5.2,5 3.1,8.5 0.2,10.6 -2.7,10.5" stroke="#4d3505" stroke-width="4.09" fill="none" stroke-linecap="round" stroke-linejoin="round"/>
<path d="M1288,434.7l3.5,-6.5 5.4,-3.6 6.1,0.5 5.2,5 3.1,8.5 0.2,10.6 -2.7,10.5" stroke="#f6a828" stroke-width="1.8900000000000001" fill="none" stroke-linecap="round" stroke-linejoin="round"/>
<path d="M1284.1,455.4l3.5,-6.6 5.4,-3.6 6,0.5 5.3,4.9 3.1,8.6 0.2,10.5 -2.7,10.6" stroke="#4d3505" stroke-width="4.09" fill="none" stroke-linecap="round" stroke-linejoin="round"/>
<path d="M1284.1,455.4l3.5,-6.6 5.4,-3.6 6,0.5 5.3,4.9 3.1,8.6 0.2,10.5 -2.7,10.6" stroke="#f6a828" stroke-width="1.8900000000000001" fill="none" stroke-linecap="round" stroke-linejoin="round"/>
<path d="M1280.2,476.1l3.4,-6.6 5.4,-3.6 6.1,0.4 5.2,4.9 3.2,8.5 0.3,10.5 -2.7,10.6" stroke="#4d3505" stroke-width="4.09" fill="none" stroke-linecap="round" stroke-linejoin="round"/>
<path d="M1280.2,476.1l3.4,-6.6 5.4,-3.6 6.1,0.4 5.2,4.9 3.2,8.5 0.3,10.5 -2.7,10.6" stroke="#f6a828" stroke-width="1.8900000000000001" fill="none" stroke-linecap="round" stroke-linejoin="round"/>
<path d="M1276.3,496.8l3.4,-6.6 5.4,-3.7 6,0.5 5.3,4.8 3.2,8.4 0.3,10.6 -2.7,10.5" stroke="#4d3505" stroke-width="4.09" fill="none" stroke-linecap="round" stroke-linejoin="round"/>
<path d="M1276.3,496.8l3.4,-6.6 5.4,-3.7 6,0.5 5.3,4.8 3.2,8.4 0.3,10.6 -2.7,10.5" stroke="#f6a828" stroke-width="1.8900000000000001" fill="none" stroke-linecap="round" stroke-linejoin="round"/>
<path d="M1272.4,517.6l3.4,-6.7 5.3,-3.7 6.1,0.4 5.3,4.7 3.2,8.5 0.3,10.5 -2.6,10.6" stroke="#4d3505" stroke-width="4.09" fill="none" stroke-linecap="round" stroke-linejoin="round"/>
<path d="M1272.4,517.6l3.4,-6.7 5.3,-3.7 6.1,0.4 5.3,4.7 3.2,8.5 0.3,10.5 -2.6,10.6" stroke="#f6a828" stroke-width="1.8900000000000001" fill="none" stroke-linecap="round" stroke-linejoin="round"/>
<path d="M1268.4,538.3l3.4,-6.7 5.4,-3.8 6,0.4 5.3,4.7 3.3,8.4 0.3,10.5 -2.6,10.6" stroke="#4d3505" stroke-width="4.09" fill="none" stroke-linecap="round" stroke-linejoin="round"/>
<path d="M1268.4,538.3l3.4,-6.7 5.4,-3.8 6,0.4 5.3,4.7 3.3,8.4 0.3,10.5 -2.6,10.6" stroke="#f6a828" stroke-width="1.8900000000000001" fill="none" stroke-linecap="round" stroke-linejoin="round"/>
<path d="M1264.5,559l3.4,-6.7 5.3,-3.8 6.1,0.3" stroke="#4d3505" stroke-width="4.09" fill="none" stroke-linecap="round" stroke-linejoin="round"/>
<path d="M1264.5,559l3.4,-6.7 5.3,-3.8 6.1,0.3" stroke="#f6a828" stroke-width="1.8900000000000001" fill="none" stroke-linecap="round" stroke-linejoin="round"/>
<path d="M1312.6,439.2l-5.2,8.4 -6.5,4.8 -6.4,0.3 -4.9,-3.7 -2.3,-6.6 0.7,-7.7" stroke="#4d3505" stroke-width="6.4" fill="none" stroke-linecap="round" stroke-linejoin="round"/>
<path d="M1312.6,439.2l-5.2,8.4 -6.5,4.8 -6.4,0.3 -4.9,-3.7 -2.3,-6.6 0.7,-7.7" stroke="#f6a828" stroke-width="4.2" fill="none" stroke-linecap="round" stroke-linejoin="round"/>
<path d="M1308.8,459.7l-5.3,8.5 -6.5,4.8 -6.4,0.4 -4.9,-3.7 -2.3,-6.6 0.7,-7.7" stroke="#4d3505" stroke-width="6.4" fill="none" stroke-linecap="round" stroke-linejoin="round"/>
<path d="M1308.8,459.7l-5.3,8.5 -6.5,4.8 -6.4,0.4 -4.9,-3.7 -2.3,-6.6 0.7,-7.7" stroke="#f6a828" stroke-width="4.2" fill="none" stroke-linecap="round" stroke-linejoin="round"/>
<path d="M1304.9,480.3l-5.2,8.4 -6.5,4.9 -6.4,0.4 -4.9,-3.6 -2.4,-6.6 0.7,-7.7" stroke="#4d3505" stroke-width="6.4" fill="none" stroke-linecap="round" stroke-linejoin="round"/>
<path d="M1304.9,480.3l-5.2,8.4 -6.5,4.9 -6.4,0.4 -4.9,-3.6 -2.4,-6.6 0.7,-7.7" stroke="#f6a828" stroke-width="4.2" fill="none" stroke-linecap="round" stroke-linejoin="round"/>
<path d="M1301.1,500.8l-5.2,8.5 -6.5,4.9 -6.4,0.5 -5,-3.6 -2.4,-6.6 0.7,-7.7" stroke="#4d3505" stroke-width="6.4" fill="none" stroke-linecap="round" stroke-linejoin="round"/>
<path d="M1301.1,500.8l-5.2,8.5 -6.5,4.9 -6.4,0.5 -5,-3.6 -2.4,-6.6 0.7,-7.7" stroke="#f6a828" stroke-width="4.2" fill="none" stroke-linecap="round" stroke-linejoin="round"/>
<path d="M1297.2,521.3l-5.1,8.6 -6.5,4.9 -6.5,0.6 -4.9,-3.6 -2.4,-6.6 0.6,-7.6" stroke="#4d3505" stroke-width="6.4" fill="none" stroke-linecap="round" stroke-linejoin="round"/>
<path d="M1297.2,521.3l-5.1,8.6 -6.5,4.9 -6.5,0.6 -4.9,-3.6 -2.4,-6.6 0.6,-7.6" stroke="#f6a828" stroke-width="4.2" fill="none" stroke-linecap="round" stroke-linejoin="round"/>
<path d="M1293.4,541.9l-5.2,8.5 -6.4,5 -6.5,0.6 -5,-3.5 -2.4,-6.6 0.5,-7.6" stroke="#4d3505" stroke-width="6.4" fill="none" stroke-linecap="round" stroke-linejoin="round"/>
<path d="M1293.4,541.9l-5.2,8.5 -6.4,5 -6.5,0.6 -5,-3.5 -2.4,-6.6 0.5,-7.6" stroke="#f6a828" stroke-width="4.2" fill="none" stroke-linecap="round" stroke-linejoin="round"/>
<path d="M1289.5,562.4l-5.1,8.6 -6.5,5 -6.4,0.7 -5,-3.6 -2.5,-6.5 0.5,-7.6" stroke="#4d3505" stroke-width="6.4" fill="none" stroke-linecap="round" stroke-linejoin="round"/>
<path d="M1289.5,562.4l-5.1,8.6 -6.5,5 -6.4,0.7 -5,-3.6 -2.5,-6.5 0.5,-7.6" stroke="#f6a828" stroke-width="4.2" fill="none" stroke-linecap="round" stroke-linejoin="round"/>
<path d="M1276.0,568.0 C1274.7,569.7 1270.3,574.3 1268.0,578.0 C1265.7,581.7 1265.0,586.7 1262.0,590.0 C1259.0,593.3 1253.7,595.5 1250.0,598.0 C1246.3,600.5 1241.7,603.8 1240.0,605.0" stroke="#4d3505" stroke-width="5.0" fill="none" stroke-linecap="round" stroke-linejoin="round"/>
<path d="M1276.0,568.0 C1274.7,569.7 1270.3,574.3 1268.0,578.0 C1265.7,581.7 1265.0,586.7 1262.0,590.0 C1259.0,593.3 1253.7,595.5 1250.0,598.0 C1246.3,600.5 1241.7,603.8 1240.0,605.0" stroke="#f6a828" stroke-width="2.8" fill="none" stroke-linecap="round" stroke-linejoin="round"/>
<path d="M1340.7,528.2l-0.3,-4.1 0.5,-4.6 1.5,-4.7 2.6,-4 3.4,-3 4,-1.5" stroke="#4d3505" stroke-width="4.9" fill="none" stroke-linecap="round" stroke-linejoin="round"/>
<path d="M1340.7,528.2l-0.3,-4.1 0.5,-4.6 1.5,-4.7 2.6,-4 3.4,-3 4,-1.5" stroke="#f6a828" stroke-width="2.7" fill="none" stroke-linecap="round" stroke-linejoin="round"/>
<path d="M1369.1,527.1l-1.2,-1.8 -0.8,-3.2 -0.2,-4.2 0.8,-4.7 1.7,-4.6 2.8,-3.8 3.6,-2.7 4.2,-1.1" stroke="#4d3505" stroke-width="4.9" fill="none" stroke-linecap="round" stroke-linejoin="round"/>
<path d="M1369.1,527.1l-1.2,-1.8 -0.8,-3.2 -0.2,-4.2 0.8,-4.7 1.7,-4.6 2.8,-3.8 3.6,-2.7 4.2,-1.1" stroke="#f6a828" stroke-width="2.7" fill="none" stroke-linecap="round" stroke-linejoin="round"/>
<path d="M1395.3,521.6l-1.1,-2.1 -0.7,-3.5 0,-4.4 1,-4.7 2,-4.5 3,-3.6 3.8,-2.3 4.2,-0.7" stroke="#4d3505" stroke-width="4.9" fill="none" stroke-linecap="round" stroke-linejoin="round"/>
<path d="M1395.3,521.6l-1.1,-2.1 -0.7,-3.5 0,-4.4 1,-4.7 2,-4.5 3,-3.6 3.8,-2.3 4.2,-0.7" stroke="#f6a828" stroke-width="2.7" fill="none" stroke-linecap="round" stroke-linejoin="round"/>
<path d="M1422.7,517l-1.2,-0.9 -1.1,-2.5 -0.5,-3.8 0.2,-4.5 1.3,-4.7 2.2,-4.3 3.2,-3.3 3.9,-1.9 4.3,-0.4" stroke="#4d3505" stroke-width="4.9" fill="none" stroke-linecap="round" stroke-linejoin="round"/>
<path d="M1422.7,517l-1.2,-0.9 -1.1,-2.5 -0.5,-3.8 0.2,-4.5 1.3,-4.7 2.2,-4.3 3.2,-3.3 3.9,-1.9 4.3,-0.4" stroke="#f6a828" stroke-width="2.7" fill="none" stroke-linecap="round" stroke-linejoin="round"/>
<path d="M1448.9,511.8l-1.2,-1.4 -1,-2.8 -0.3,-4 0.4,-4.6 1.5,-4.7 2.5,-4.1 3.4,-3 4,-1.5" stroke="#4d3505" stroke-width="4.9" fill="none" stroke-linecap="round" stroke-linejoin="round"/>
<path d="M1448.9,511.8l-1.2,-1.4 -1,-2.8 -0.3,-4 0.4,-4.6 1.5,-4.7 2.5,-4.1 3.4,-3 4,-1.5" stroke="#f6a828" stroke-width="2.7" fill="none" stroke-linecap="round" stroke-linejoin="round"/>
<path d="M1475.1,506.4l-1.2,-1.7 -0.8,-3.1 -0.2,-4.2 0.7,-4.7 1.7,-4.6 2.7,-3.9 3.6,-2.7 4.1,-1.2" stroke="#4d3505" stroke-width="4.9" fill="none" stroke-linecap="round" stroke-linejoin="round"/>
<path d="M1475.1,506.4l-1.2,-1.7 -0.8,-3.1 -0.2,-4.2 0.7,-4.7 1.7,-4.6 2.7,-3.9 3.6,-2.7 4.1,-1.2" stroke="#f6a828" stroke-width="2.7" fill="none" stroke-linecap="round" stroke-linejoin="round"/>
<path d="M1501.3,501l-1.1,-2.1 -0.7,-3.4 0,-4.4 0.9,-4.7 2,-4.5 2.9,-3.6 3.8,-2.4 4.2,-0.8" stroke="#4d3505" stroke-width="4.9" fill="none" stroke-linecap="round" stroke-linejoin="round"/>
<path d="M1501.3,501l-1.1,-2.1 -0.7,-3.4 0,-4.4 0.9,-4.7 2,-4.5 2.9,-3.6 3.8,-2.4 4.2,-0.8" stroke="#f6a828" stroke-width="2.7" fill="none" stroke-linecap="round" stroke-linejoin="round"/>
<path d="M1528.7,496.3l-1.2,-0.8 -1,-2.5 -0.6,-3.7 0.2,-4.5 1.2,-4.7 2.2,-4.3 3.1,-3.4 3.9,-2 4.3,-0.4" stroke="#4d3505" stroke-width="4.9" fill="none" stroke-linecap="round" stroke-linejoin="round"/>
<path d="M1528.7,496.3l-1.2,-0.8 -1,-2.5 -0.6,-3.7 0.2,-4.5 1.2,-4.7 2.2,-4.3 3.1,-3.4 3.9,-2 4.3,-0.4" stroke="#f6a828" stroke-width="2.7" fill="none" stroke-linecap="round" stroke-linejoin="round"/>
<path d="M1554.9,491.1l-1.1,-1.3 -1,-2.7 -0.4,-4 0.4,-4.6" stroke="#4d3505" stroke-width="4.9" fill="none" stroke-linecap="round" stroke-linejoin="round"/>
<path d="M1554.9,491.1l-1.1,-1.3 -1,-2.7 -0.4,-4 0.4,-4.6" stroke="#f6a828" stroke-width="2.7" fill="none" stroke-linecap="round" stroke-linejoin="round"/>
<path d="M1352.4,506.3l4.4,0.2 4.2,1.7 3.8,3.1 3,3.8 2,4.1 1,3.8 0.1,2.8 -0.7,1.4 -1.1,-0.1" stroke="#4d3505" stroke-width="8.2" fill="none" stroke-linecap="round" stroke-linejoin="round"/>
<path d="M1352.4,506.3l4.4,0.2 4.2,1.7 3.8,3.1 3,3.8 2,4.1 1,3.8 0.1,2.8 -0.7,1.4 -1.1,-0.1" stroke="#f6a828" stroke-width="6.0" fill="none" stroke-linecap="round" stroke-linejoin="round"/>
<path d="M1380,501l4.3,0.6 4.2,2.1 3.6,3.3 2.8,3.9 1.7,4.1 0.8,3.6 -0.1,2.5 -0.9,1.1 -1.1,-0.6" stroke="#4d3505" stroke-width="8.2" fill="none" stroke-linecap="round" stroke-linejoin="round"/>
<path d="M1380,501l4.3,0.6 4.2,2.1 3.6,3.3 2.8,3.9 1.7,4.1 0.8,3.6 -0.1,2.5 -0.9,1.1 -1.1,-0.6" stroke="#f6a828" stroke-width="6.0" fill="none" stroke-linecap="round" stroke-linejoin="round"/>
<path d="M1407.5,495.8l4.3,1 4.1,2.4 3.4,3.5 2.6,4 1.5,4 0.5,3.4 -0.3,2.2 -0.9,0.7" stroke="#4d3505" stroke-width="8.2" fill="none" stroke-linecap="round" stroke-linejoin="round"/>
<path d="M1407.5,495.8l4.3,1 4.1,2.4 3.4,3.5 2.6,4 1.5,4 0.5,3.4 -0.3,2.2 -0.9,0.7" stroke="#f6a828" stroke-width="6.0" fill="none" stroke-linecap="round" stroke-linejoin="round"/>
<path d="M1435,490.7l4.3,1.4 4,2.7 3.2,3.6 2.3,4.1 1.3,3.9 0.3,3.2 -0.5,1.9 -1,0.3" stroke="#4d3505" stroke-width="8.2" fill="none" stroke-linecap="round" stroke-linejoin="round"/>
<path d="M1435,490.7l4.3,1.4 4,2.7 3.2,3.6 2.3,4.1 1.3,3.9 0.3,3.2 -0.5,1.9 -1,0.3" stroke="#f6a828" stroke-width="6.0" fill="none" stroke-linecap="round" stroke-linejoin="round"/>
<path d="M1458.2,485.7l4.4,0 4.2,1.7 3.8,3 3.1,3.8 2,4.1 1.1,3.8 0.1,2.9 -0.7,1.5 -1.1,-0.1" stroke="#4d3505" stroke-width="8.2" fill="none" stroke-linecap="round" stroke-linejoin="round"/>
<path d="M1458.2,485.7l4.4,0 4.2,1.7 3.8,3 3.1,3.8 2,4.1 1.1,3.8 0.1,2.9 -0.7,1.5 -1.1,-0.1" stroke="#f6a828" stroke-width="6.0" fill="none" stroke-linecap="round" stroke-linejoin="round"/>
<path d="M1485.7,480.3l4.4,0.5 4.2,2 3.6,3.3 2.8,3.9 1.9,4.1 0.8,3.6 -0.1,2.6 -0.8,1.2 -1.2,-0.5" stroke="#4d3505" stroke-width="8.2" fill="none" stroke-linecap="round" stroke-linejoin="round"/>
<path d="M1485.7,480.3l4.4,0.5 4.2,2 3.6,3.3 2.8,3.9 1.9,4.1 0.8,3.6 -0.1,2.6 -0.8,1.2 -1.2,-0.5" stroke="#f6a828" stroke-width="6.0" fill="none" stroke-linecap="round" stroke-linejoin="round"/>
<path d="M1513.3,475.1l4.3,0.9 4.1,2.3 3.5,3.5 2.6,4 1.6,4 0.5,3.5 -0.3,2.2 -0.9,0.8" stroke="#4d3505" stroke-width="8.2" fill="none" stroke-linecap="round" stroke-linejoin="round"/>
<path d="M1513.3,475.1l4.3,0.9 4.1,2.3 3.5,3.5 2.6,4 1.6,4 0.5,3.5 -0.3,2.2 -0.9,0.8" stroke="#f6a828" stroke-width="6.0" fill="none" stroke-linecap="round" stroke-linejoin="round"/>
<path d="M1540.8,470l4.3,1.2 4,2.7 3.3,3.6 2.3,4.1 1.4,4 0.3,3.1 -0.4,2 -1.1,0.4" stroke="#4d3505" stroke-width="8.2" fill="none" stroke-linecap="round" stroke-linejoin="round"/>
<path d="M1540.8,470l4.3,1.2 4,2.7 3.3,3.6 2.3,4.1 1.4,4 0.3,3.1 -0.4,2 -1.1,0.4" stroke="#f6a828" stroke-width="6.0" fill="none" stroke-linecap="round" stroke-linejoin="round"/>
<path d="M1345.0,520.0 C1343.8,518.3 1338.8,513.0 1338.0,510.0 C1337.2,507.0 1338.0,503.3 1340.0,502.0 C1342.0,500.7 1347.5,500.7 1350.0,502.0 C1352.5,503.3 1354.2,508.7 1355.0,510.0" stroke="#4d3505" stroke-width="4.800000000000001" fill="none" stroke-linecap="round" stroke-linejoin="round"/>
<path d="M1345.0,520.0 C1343.8,518.3 1338.8,513.0 1338.0,510.0 C1337.2,507.0 1338.0,503.3 1340.0,502.0 C1342.0,500.7 1347.5,500.7 1350.0,502.0 C1352.5,503.3 1354.2,508.7 1355.0,510.0" stroke="#f6a828" stroke-width="2.6" fill="none" stroke-linecap="round" stroke-linejoin="round"/>
<path d="M1560.0,478.0 C1561.3,476.7 1568.3,472.7 1568.0,470.0 C1567.7,467.3 1559.3,465.0 1558.0,462.0 C1556.7,459.0 1562.2,454.3 1560.0,452.0 C1557.8,449.7 1550.8,449.5 1545.0,448.0 C1539.2,446.5 1528.3,443.8 1525.0,443.0" stroke="#4d3505" stroke-width="4.800000000000001" fill="none" stroke-linecap="round" stroke-linejoin="round"/>
<path d="M1560.0,478.0 C1561.3,476.7 1568.3,472.7 1568.0,470.0 C1567.7,467.3 1559.3,465.0 1558.0,462.0 C1556.7,459.0 1562.2,454.3 1560.0,452.0 C1557.8,449.7 1550.8,449.5 1545.0,448.0 C1539.2,446.5 1528.3,443.8 1525.0,443.0" stroke="#f6a828" stroke-width="2.6" fill="none" stroke-linecap="round" stroke-linejoin="round"/>
<path d="M1312,185 C1318,175 1326,178 1324,188 C1322,196 1330,194 1338,186 C1342,182 1346,180 1350,178" stroke="#5a5ac8" stroke-width="2.6" fill="none"/>
<text x="1335.7" y="165.5" font-size="29.5" fill="#7a2e96">PAMP12</text>
<text x="1390.0" y="322.5" font-size="29.5" fill="#1a6a34">MRGPRX2</text>
<text x="1105.0" y="514.5" font-size="29.5" fill="#f0a030">Gαq</text>
<text x="1384.4" y="571.0" font-size="29.5">αN</text>
<text x="0" y="0" font-size="64" font-weight="bold" fill="#000" transform="translate(1602.5,43.7) scale(1.0,1)">e</text>
<rect x="1627.6" y="67.4" width="483.0" height="675.8" fill="none" stroke="#111" stroke-width="2" stroke-dasharray="3.8,2.2"/>
<g opacity="0.8" transform="translate(1663,404) scale(0.975,0.89) translate(-1099,-416)">
<path d="M1098.0,597.0 C1099.0,595.8 1099.5,590.8 1104.0,590.0 C1108.5,589.2 1122.2,589.8 1125.0,592.0 C1127.8,594.2 1122.7,600.0 1121.0,603.0 C1119.3,606.0 1115.5,607.2 1115.0,610.0 C1114.5,612.8 1115.8,617.3 1118.0,620.0 C1120.2,622.7 1124.0,625.8 1128.0,626.0 C1132.0,626.2 1137.8,624.3 1142.0,621.0 C1146.2,617.7 1150.0,609.8 1153.0,606.0 C1156.0,602.2 1158.8,599.3 1160.0,598.0" stroke="#f6c79a" stroke-width="1.68" fill="none" stroke-linecap="round" stroke-linejoin="round"/>
<path d="M1100.0,634.0 C1102.0,634.3 1106.5,634.8 1112.0,636.0 C1117.5,637.2 1129.0,638.3 1133.0,641.0 C1137.0,643.7 1136.2,648.2 1136.0,652.0 C1135.8,655.8 1134.7,661.7 1132.0,664.0 C1129.3,666.3 1123.3,667.5 1120.0,666.0 C1116.7,664.5 1112.7,659.0 1112.0,655.0 C1111.3,651.0 1113.0,644.5 1116.0,642.0 C1119.0,639.5 1127.7,640.3 1130.0,640.0" stroke="#f6c79a" stroke-width="1.68" fill="none" stroke-linecap="round" stroke-linejoin="round"/>
<path d="M1135.0,662.0 C1136.8,663.3 1142.8,668.0 1146.0,670.0 C1149.2,672.0 1151.3,671.7 1154.0,674.0 C1156.7,676.3 1159.3,680.8 1162.0,684.0 C1164.7,687.2 1167.7,689.8 1170.0,693.0 C1172.3,696.2 1173.8,699.7 1176.0,703.0 C1178.2,706.3 1181.2,710.7 1183.0,713.0 C1184.8,715.3 1186.8,717.7 1187.0,717.0 C1187.2,716.3 1185.5,711.8 1184.0,709.0 C1182.5,706.2 1179.0,701.5 1178.0,700.0" stroke="#f6c79a" stroke-width="1.68" fill="none" stroke-linecap="round" stroke-linejoin="round"/>
<path d="M1153.0,674.0 C1153.5,671.7 1154.3,664.3 1156.0,660.0 C1157.7,655.7 1159.8,649.7 1163.0,648.0 C1166.2,646.3 1171.0,648.2 1175.0,650.0 C1179.0,651.8 1184.2,655.3 1187.0,659.0 C1189.8,662.7 1191.5,667.8 1192.0,672.0 C1192.5,676.2 1191.0,680.2 1190.0,684.0 C1189.0,687.8 1186.7,693.2 1186.0,695.0" stroke="#f6c79a" stroke-width="1.68" fill="none" stroke-linecap="round" stroke-linejoin="round"/>
<path d="M1175.0,540.0 C1176.3,539.0 1180.7,535.5 1183.0,534.0 C1185.3,532.5 1186.7,533.3 1189.0,531.0 C1191.3,528.7 1194.7,522.3 1197.0,520.0 C1199.3,517.7 1200.2,516.3 1203.0,517.0 C1205.8,517.7 1211.2,521.8 1214.0,524.0 C1216.8,526.2 1218.5,526.5 1220.0,530.0 C1221.5,533.5 1222.0,540.0 1223.0,545.0 C1224.0,550.0 1225.3,555.0 1226.0,560.0 C1226.7,565.0 1227.3,571.2 1227.0,575.0 C1226.7,578.8 1224.5,581.7 1224.0,583.0" stroke="#f6c79a" stroke-width="1.68" fill="none" stroke-linecap="round" stroke-linejoin="round"/>
<path d="M1156.0,584.0 C1156.7,582.3 1157.7,577.2 1160.0,574.0 C1162.3,570.8 1167.3,568.0 1170.0,565.0 C1172.7,562.0 1175.2,559.3 1176.0,556.0 C1176.8,552.7 1175.2,546.8 1175.0,545.0" stroke="#f6c79a" stroke-width="1.68" fill="none" stroke-linecap="round" stroke-linejoin="round"/>
<path d="M1139.9,573.1l-0.9,-9.5 4.2,-6.6 8,-0.5 8.7,6.4 6.1,11.4" stroke="#f6c79a" stroke-width="1.4400000000000002" fill="none" stroke-linecap="round" stroke-linejoin="round"/>
<path d="M1144.9,585.3l0.6,-9.1 5.5,-5.1 8.6,1.5 8.2,8.1 5,12.1" stroke="#f6c79a" stroke-width="1.4400000000000002" fill="none" stroke-linecap="round" stroke-linejoin="round"/>
<path d="M1150.4,597.4l2.1,-8.3 6.6,-3.4 8.8,3.4 7.6,9.7 3.6,12.5" stroke="#f6c79a" stroke-width="1.4400000000000002" fill="none" stroke-linecap="round" stroke-linejoin="round"/>
<path d="M1153,583.3l-7.6,-2.4 -5.5,-7.8" stroke="#f6c79a" stroke-width="1.7999999999999998" fill="none" stroke-linecap="round" stroke-linejoin="round"/>
<path d="M1166,574.3l1.4,12.4 -3.7,8.9 -7.1,2.6 -7.3,-4.2 -4.4,-8.7" stroke="#f6c79a" stroke-width="1.7999999999999998" fill="none" stroke-linecap="round" stroke-linejoin="round"/>
<path d="M1172.8,592.8l-0.1,11.8 -5,7.4 -7.4,0.6 -6.8,-5.9 -3.1,-9.3" stroke="#f6c79a" stroke-width="1.7999999999999998" fill="none" stroke-linecap="round" stroke-linejoin="round"/>
<path d="M1179.1,611.3l-1.6,10.9 -5.9,5.6 -7.6,-1.4" stroke="#f6c79a" stroke-width="1.7999999999999998" fill="none" stroke-linecap="round" stroke-linejoin="round"/>
<path d="M1299.3,622.7 C1300.7,622.8 1304.9,622.4 1307.3,623.4 C1309.7,624.3 1311.3,626.8 1313.5,628.4 C1315.7,629.9 1317.9,631.6 1320.3,632.6 C1322.8,633.6 1326.3,632.9 1328.1,634.4 C1329.9,636.0 1329.4,641.2 1331.1,641.8 C1332.8,642.5 1336.8,640.3 1338.3,638.4 C1339.8,636.5 1339.7,633.3 1340.2,630.6 C1340.7,628.0 1339.8,623.9 1341.3,622.7 C1342.8,621.6 1346.6,623.3 1349.2,623.8 C1351.9,624.2 1355.0,624.1 1357.0,625.5 C1359.0,626.9 1359.5,632.0 1361.2,632.3 C1363.0,632.6 1366.8,629.5 1367.6,627.4 C1368.4,625.3 1365.4,621.9 1366.0,619.6 C1366.5,617.2 1370.0,615.7 1370.9,613.3 C1371.9,610.9 1371.6,608.0 1371.8,605.4 C1372.0,602.7 1371.3,599.7 1372.2,597.4 C1373.1,595.0 1377.8,592.7 1377.4,591.3 C1377.0,589.9 1372.0,588.4 1369.7,589.0 C1367.5,589.5 1365.9,592.7 1364.1,594.6 C1362.3,596.6 1358.9,598.7 1358.9,600.8 C1358.9,602.8 1361.9,605.6 1364.1,606.9 C1366.2,608.3 1369.2,608.2 1371.8,608.8 C1374.4,609.4 1379.7,609.9 1379.7,610.4 C1379.7,610.9 1374.4,611.3 1371.8,611.7 C1369.1,612.1 1365.8,613.8 1363.8,612.8 C1361.9,611.8 1359.6,607.7 1360.0,605.8 C1360.4,603.8 1364.6,602.8 1366.3,600.9 C1368.1,599.0 1370.1,596.6 1370.6,594.1 C1371.1,591.7 1368.6,588.7 1369.1,586.3 C1369.7,583.9 1374.3,580.6 1373.8,579.7 C1373.2,578.8 1367.9,579.5 1365.8,580.8 C1363.7,582.1 1363.2,585.7 1361.2,587.3 C1359.2,588.9 1356.2,590.3 1353.7,590.2 C1351.3,590.1 1348.1,586.3 1346.4,587.0 C1344.7,587.7 1345.2,592.8 1343.4,594.4 C1341.7,596.0 1338.3,595.8 1335.7,596.6 C1333.2,597.4 1330.2,597.7 1328.2,599.3 C1326.2,600.8 1323.7,604.0 1324.0,606.0 C1324.3,608.0 1327.8,609.9 1330.0,611.3 C1332.3,612.7 1336.1,613.9 1337.4,614.4" stroke="#f6c79a" stroke-width="1.7999999999999998" fill="none" stroke-linecap="round" stroke-linejoin="round"/>
<path d="M1295.6,556.1 C1295.4,557.4 1295.6,561.7 1294.5,564.0 C1293.3,566.2 1290.8,567.8 1288.8,569.7 C1286.9,571.5 1285.1,573.6 1283.0,575.1 C1280.8,576.6 1278.4,578.3 1275.9,578.9 C1273.4,579.4 1270.3,579.2 1267.9,578.3 C1265.6,577.3 1262.1,574.9 1261.9,573.0 C1261.8,571.1 1265.5,569.0 1267.2,566.9 C1268.8,564.8 1270.6,562.8 1272.0,560.5 C1273.3,558.3 1275.2,555.6 1275.2,553.2 C1275.2,550.8 1272.6,548.5 1271.7,546.0 C1270.9,543.5 1270.2,540.8 1270.0,538.2 C1269.7,535.6 1270.9,532.6 1270.1,530.2 C1269.3,527.8 1266.8,526.0 1265.1,523.9 C1263.4,521.9 1261.7,519.8 1260.0,517.8 C1258.2,515.8 1254.9,511.6 1254.7,511.8 C1254.6,511.9 1257.1,516.7 1259.0,518.6 C1260.8,520.4 1264.8,520.7 1265.8,522.8 C1266.8,524.8 1265.7,528.2 1264.9,530.7 C1264.2,533.2 1262.4,535.4 1261.3,537.8 C1260.2,540.3 1259.7,543.0 1258.3,545.3 C1256.9,547.5 1254.9,549.5 1252.8,551.1 C1250.7,552.7 1248.1,553.6 1245.8,554.9 C1243.5,556.2 1241.0,557.3 1238.9,558.9 C1236.7,560.4 1234.6,562.2 1233.0,564.3 C1231.4,566.4 1230.0,568.9 1229.2,571.4 C1228.4,573.9 1228.8,576.7 1228.1,579.3 C1227.4,581.8 1226.0,584.2 1225.1,586.7 C1224.2,589.2 1224.4,592.5 1222.8,594.4 C1221.2,596.2 1217.6,598.1 1215.5,597.6 C1213.4,597.2 1211.9,593.7 1210.1,591.8 C1208.2,589.8 1206.5,587.7 1204.4,586.2 C1202.2,584.6 1198.4,584.3 1197.4,582.3 C1196.3,580.3 1198.1,577.0 1198.3,574.4 C1198.6,571.7 1198.4,569.0 1198.8,566.4 C1199.2,563.7 1200.6,561.2 1200.7,558.6 C1200.9,556.0 1200.1,553.3 1200.0,550.7 C1199.9,548.0 1198.9,544.5 1200.1,542.7 C1201.4,540.8 1205.1,539.6 1207.5,539.6 C1210.0,539.7 1212.5,543.1 1214.8,542.9 C1217.2,542.8 1220.5,539.4 1221.6,538.7" stroke="#f6c79a" stroke-width="1.7999999999999998" fill="none" stroke-linecap="round" stroke-linejoin="round"/>
<path d="M1301.7,547.5 C1300.7,548.4 1295.5,551.3 1295.7,552.8 C1295.9,554.4 1301.7,554.7 1302.8,556.6 C1303.8,558.6 1301.1,562.5 1302.1,564.6 C1303.1,566.7 1307.5,567.1 1308.6,569.3 C1309.7,571.4 1307.5,575.4 1308.8,577.2 C1310.0,579.1 1313.5,579.7 1316.1,580.5 C1318.6,581.4 1321.8,580.9 1323.8,582.4 C1325.8,583.8 1326.7,586.9 1328.1,589.2 C1329.4,591.5 1332.1,593.8 1332.1,596.1 C1332.1,598.4 1329.2,603.1 1328.0,603.0 C1326.9,602.9 1326.7,597.7 1325.3,595.5 C1323.8,593.3 1321.7,590.8 1319.4,590.0 C1317.1,589.3 1313.3,589.7 1311.5,591.1 C1309.6,592.5 1307.8,596.5 1308.4,598.5 C1309.0,600.4 1312.6,601.8 1315.0,603.0 C1317.3,604.3 1320.6,606.6 1322.5,605.9 C1324.3,605.2 1326.9,599.6 1326.3,598.8 C1325.6,598.1 1320.8,599.9 1318.7,601.4 C1316.6,602.8 1315.7,607.3 1313.7,607.6 C1311.7,608.0 1309.0,605.1 1306.9,603.5 C1304.8,601.9 1303.4,598.3 1301.2,597.9 C1299.0,597.4 1295.5,599.1 1293.8,600.9 C1292.0,602.6 1292.4,606.4 1290.7,608.3 C1289.0,610.1 1286.0,610.8 1283.5,611.8 C1281.0,612.7 1278.2,612.8 1275.8,614.0 C1273.5,615.1 1271.8,618.5 1269.4,618.8 C1267.1,619.2 1264.3,617.3 1261.9,616.0 C1259.6,614.8 1257.8,612.5 1255.4,611.4 C1253.1,610.3 1250.3,610.0 1247.7,609.3 C1245.1,608.6 1242.4,608.3 1240.0,607.3 C1237.5,606.3 1234.1,605.2 1233.1,603.2 C1232.1,601.2 1234.8,597.4 1233.9,595.3 C1233.0,593.1 1229.9,591.7 1227.8,590.1 C1225.6,588.6 1223.4,586.9 1221.1,585.8 C1218.7,584.7 1214.8,582.5 1213.4,583.4 C1212.1,584.3 1212.3,588.9 1212.9,591.4 C1213.5,593.9 1215.1,597.6 1217.0,598.2 C1218.9,598.8 1221.9,595.9 1224.3,595.0 C1226.8,594.0 1229.5,593.4 1231.9,592.3 C1234.3,591.3 1237.7,589.1 1238.9,588.4" stroke="#f6c79a" stroke-width="1.7999999999999998" fill="none" stroke-linecap="round" stroke-linejoin="round"/>
<path d="M1299.6,563.9 C1300.9,563.8 1304.9,562.8 1307.5,563.0 C1310.2,563.2 1313.4,563.7 1315.2,565.2 C1317.1,566.8 1317.6,570.0 1318.8,572.4 C1320.0,574.8 1320.7,577.6 1322.4,579.5 C1324.1,581.4 1327.1,582.2 1329.2,583.8 C1331.3,585.4 1334.5,587.1 1335.0,589.3 C1335.5,591.4 1333.3,594.4 1332.1,596.7 C1330.9,599.1 1327.4,601.6 1327.7,603.5 C1328.1,605.3 1332.5,606.1 1334.3,608.0 C1336.1,609.9 1337.0,612.6 1338.4,614.9 C1339.7,617.2 1340.9,619.6 1342.2,621.9 C1343.5,624.2 1344.4,626.9 1346.1,628.9 C1347.8,630.9 1350.3,632.2 1352.3,633.9 C1354.4,635.6 1356.5,637.3 1358.5,639.1 C1360.4,640.9 1362.1,644.4 1364.2,644.7 C1366.3,644.9 1368.6,641.1 1371.1,640.7 C1373.6,640.2 1379.0,642.0 1379.0,642.1 C1379.0,642.2 1373.6,641.0 1371.0,641.1 C1368.4,641.3 1365.3,643.9 1363.3,643.1 C1361.3,642.3 1359.3,638.6 1359.1,636.3 C1358.8,633.9 1360.1,629.9 1361.9,628.8 C1363.7,627.6 1367.2,629.7 1369.8,629.5 C1372.5,629.4 1376.2,629.6 1377.7,628.0 C1379.1,626.4 1378.7,622.7 1378.7,620.0 C1378.6,617.4 1378.8,614.2 1377.5,612.1 C1376.2,610.1 1373.3,608.1 1370.9,607.6 C1368.5,607.1 1365.1,609.9 1363.0,609.1 C1360.9,608.3 1360.3,603.2 1358.3,602.6 C1356.2,602.0 1353.2,604.4 1350.8,605.4 C1348.4,606.5 1346.1,607.9 1343.7,609.1 C1341.2,610.2 1338.3,612.6 1336.2,612.1 C1334.2,611.5 1333.2,605.8 1331.5,605.6 C1329.7,605.5 1326.0,609.2 1325.8,611.2 C1325.5,613.3 1328.6,618.1 1329.9,618.0 C1331.3,618.0 1333.7,613.4 1333.8,611.0 C1333.8,608.6 1332.0,604.1 1330.4,603.8 C1328.8,603.4 1326.6,607.6 1324.4,609.0 C1322.2,610.4 1318.4,610.3 1317.0,612.2 C1315.7,614.1 1315.8,617.7 1316.5,620.2 C1317.2,622.6 1320.3,625.7 1321.0,626.8" stroke="#f6c79a" stroke-width="1.7999999999999998" fill="none" stroke-linecap="round" stroke-linejoin="round"/>
<path d="M1292.2,547.5 C1293.5,547.4 1297.6,546.4 1300.1,546.9 C1302.7,547.3 1306.0,548.4 1307.4,550.3 C1308.7,552.2 1307.1,556.0 1308.1,558.2 C1309.2,560.5 1312.2,561.8 1313.9,563.8 C1315.6,565.8 1316.9,568.2 1318.5,570.3 C1320.1,572.5 1321.6,574.7 1323.4,576.7 C1325.1,578.7 1326.9,580.9 1329.1,582.3 C1331.2,583.7 1334.7,583.5 1336.5,585.1 C1338.4,586.7 1339.9,589.6 1340.4,592.1 C1340.9,594.6 1338.3,598.4 1339.4,600.1 C1340.5,601.7 1344.7,602.2 1347.2,602.0 C1349.7,601.7 1352.1,599.8 1354.4,598.6 C1356.7,597.3 1358.7,594.8 1361.1,594.2 C1363.6,593.7 1366.5,594.6 1369.1,595.1 C1371.7,595.7 1376.7,596.8 1376.7,597.5 C1376.7,598.2 1371.2,598.2 1369.0,599.4 C1366.7,600.6 1365.1,603.2 1363.1,604.8 C1361.0,606.5 1358.7,609.3 1356.5,609.3 C1354.3,609.3 1352.2,605.6 1349.8,604.9 C1347.3,604.3 1344.3,604.7 1341.8,605.3 C1339.2,605.9 1336.3,606.8 1334.5,608.5 C1332.7,610.3 1331.9,613.2 1330.8,615.7 C1329.8,618.1 1329.8,621.4 1328.1,623.2 C1326.4,624.9 1323.1,625.1 1320.7,626.1 C1318.2,627.1 1315.6,628.0 1313.3,629.2 C1311.0,630.5 1308.5,631.8 1306.7,633.7 C1304.8,635.5 1302.2,638.0 1302.1,640.2 C1302.0,642.5 1304.4,645.1 1306.0,647.2 C1307.5,649.4 1310.9,653.3 1311.6,652.9 C1312.2,652.6 1310.1,647.8 1309.8,645.1 C1309.4,642.5 1310.2,639.6 1309.4,637.1 C1308.6,634.7 1305.9,632.9 1305.0,630.5 C1304.0,628.1 1304.1,625.3 1303.7,622.6 C1303.3,620.0 1303.0,617.3 1302.5,614.7 C1302.0,612.1 1302.1,608.9 1300.7,606.9 C1299.2,604.9 1295.3,604.6 1293.9,602.6 C1292.5,600.6 1291.9,597.2 1292.4,594.8 C1292.9,592.3 1296.8,590.3 1296.8,588.1 C1296.8,585.9 1293.7,583.7 1292.3,581.5 C1290.9,579.2 1289.0,575.7 1288.3,574.5" stroke="#f6c79a" stroke-width="1.7999999999999998" fill="none" stroke-linecap="round" stroke-linejoin="round"/>
<path d="M1178.9,658.8l-4,-1.6 -3.6,-5.2 -1.1,-6.9 2.4,-6 5.5,-3" stroke="#f6c79a" stroke-width="1.5" fill="none" stroke-linecap="round" stroke-linejoin="round"/>
<path d="M1191.9,649.3l-3.6,-0.3 -4.1,-4.1 -2.2,-6.5 1.2,-6.6 4.6,-4.2" stroke="#f6c79a" stroke-width="1.5" fill="none" stroke-linecap="round" stroke-linejoin="round"/>
<path d="M1201.6,640.4l-4.2,-2.8 -3.1,-5.9 -0.1,-6.9 3.5,-5.3" stroke="#f6c79a" stroke-width="1.5" fill="none" stroke-linecap="round" stroke-linejoin="round"/>
<path d="M1214.7,631.3l-4,-1.5 -3.7,-5 -1.3,-6.8 2.3,-6.1 5.4,-3.2" stroke="#f6c79a" stroke-width="1.5" fill="none" stroke-linecap="round" stroke-linejoin="round"/>
<path d="M1227.6,621.7l-3.5,-0.1 -4.1,-3.9 -2.3,-6.4 1,-6.7 4.4,-4.4" stroke="#f6c79a" stroke-width="1.5" fill="none" stroke-linecap="round" stroke-linejoin="round"/>
<path d="M1237.4,612.9l-4.2,-2.6 -3.2,-5.8 -0.2,-6.9" stroke="#f6c79a" stroke-width="1.5" fill="none" stroke-linecap="round" stroke-linejoin="round"/>
<path d="M1179.8,652l1.3,4.6 -2.2,2.2" stroke="#f6c79a" stroke-width="3.0" fill="none" stroke-linecap="round" stroke-linejoin="round"/>
<path d="M1178.1,636.1l6.7,1 5.6,4 2.5,4.9 -1,3.3" stroke="#f6c79a" stroke-width="3.0" fill="none" stroke-linecap="round" stroke-linejoin="round"/>
<path d="M1187.8,627.6l6.5,-0.4 6.3,3.1 3.7,4.9 0.2,4.1 -2.9,1.1" stroke="#f6c79a" stroke-width="3.0" fill="none" stroke-linecap="round" stroke-linejoin="round"/>
<path d="M1197.7,619.5l6.1,-1.8 6.6,2 4.8,4.5 1.5,4.7 -2,2.4" stroke="#f6c79a" stroke-width="3.0" fill="none" stroke-linecap="round" stroke-linejoin="round"/>
<path d="M1213.4,608.7l6.7,0.7 5.6,3.9 2.8,5 -0.9,3.4" stroke="#f6c79a" stroke-width="3.0" fill="none" stroke-linecap="round" stroke-linejoin="round"/>
<path d="M1223.1,600.2l6.5,-0.6 6.3,2.9 3.9,4.9 0.4,4.2 -2.8,1.3" stroke="#f6c79a" stroke-width="3.0" fill="none" stroke-linecap="round" stroke-linejoin="round"/>
<path d="M1240.0,642.0 C1240.5,644.3 1241.8,651.0 1243.0,656.0 C1244.2,661.0 1245.5,668.5 1247.0,672.0 C1248.5,675.5 1250.5,677.7 1252.0,677.0 C1253.5,676.3 1255.7,672.5 1256.0,668.0 C1256.3,663.5 1253.0,656.0 1254.0,650.0 C1255.0,644.0 1259.3,637.3 1262.0,632.0 C1264.7,626.7 1268.7,620.3 1270.0,618.0" stroke="#f6c79a" stroke-width="1.68" fill="none" stroke-linecap="round" stroke-linejoin="round"/>
<path d="M1281.0,650.0 C1282.5,652.3 1286.8,659.8 1290.0,664.0 C1293.2,668.2 1297.0,671.7 1300.0,675.0 C1303.0,678.3 1305.8,681.5 1308.0,684.0 C1310.2,686.5 1311.7,690.0 1313.0,690.0 C1314.3,690.0 1316.3,686.3 1316.0,684.0 C1315.7,681.7 1311.8,677.3 1311.0,676.0" stroke="#f6c79a" stroke-width="1.68" fill="none" stroke-linecap="round" stroke-linejoin="round"/>
<path d="M1276.0,625.0 C1278.7,627.5 1287.2,635.5 1292.0,640.0 C1296.8,644.5 1302.0,650.7 1305.0,652.0 C1308.0,653.3 1310.8,651.3 1310.0,648.0 C1309.2,644.7 1303.3,636.7 1300.0,632.0 C1296.7,627.3 1290.8,625.3 1290.0,620.0 C1289.2,614.7 1291.7,604.7 1295.0,600.0 C1298.3,595.3 1305.5,592.3 1310.0,592.0 C1314.5,591.7 1319.0,594.7 1322.0,598.0 C1325.0,601.3 1327.0,609.7 1328.0,612.0" stroke="#f6c79a" stroke-width="1.68" fill="none" stroke-linecap="round" stroke-linejoin="round"/>
<path d="M1336.0,575.0 C1337.5,577.5 1341.0,584.8 1345.0,590.0 C1349.0,595.2 1355.5,600.2 1360.0,606.0 C1364.5,611.8 1369.3,620.3 1372.0,625.0 C1374.7,629.7 1377.2,632.5 1376.0,634.0 C1374.8,635.5 1369.0,634.7 1365.0,634.0 C1361.0,633.3 1355.3,633.7 1352.0,630.0 C1348.7,626.3 1347.3,618.7 1345.0,612.0 C1342.7,605.3 1339.2,593.7 1338.0,590.0" stroke="#f6c79a" stroke-width="1.68" fill="none" stroke-linecap="round" stroke-linejoin="round"/>
<path d="M1300.0,590.0 C1302.0,589.0 1307.8,584.0 1312.0,584.0 C1316.2,584.0 1321.5,587.3 1325.0,590.0 C1328.5,592.7 1331.8,596.3 1333.0,600.0 C1334.2,603.7 1333.8,609.3 1332.0,612.0 C1330.2,614.7 1323.7,615.3 1322.0,616.0" stroke="#f6c79a" stroke-width="1.68" fill="none" stroke-linecap="round" stroke-linejoin="round"/>
<path d="M1272.3,615.8l1.6,-4.1 5.1,-2.9 6.6,0.4 5.7,4.1 2.6,6.5" stroke="#f6c79a" stroke-width="1.296" fill="none" stroke-linecap="round" stroke-linejoin="round"/>
<path d="M1280.5,629.6l0.5,-4.1 4.3,-3.4 6.5,-0.6 6.1,3.1 3.6,6" stroke="#f6c79a" stroke-width="1.296" fill="none" stroke-linecap="round" stroke-linejoin="round"/>
<path d="M1288.4,639.4l3.4,-3.9 6,-1.5 6.6,2.1 4.4,5.3" stroke="#f6c79a" stroke-width="1.296" fill="none" stroke-linecap="round" stroke-linejoin="round"/>
<path d="M1296.1,653.3l2.3,-4.1 5.6,-2.4 6.6,1 5.3,4.6 1.9,6.8" stroke="#f6c79a" stroke-width="1.296" fill="none" stroke-linecap="round" stroke-linejoin="round"/>
<path d="M1274.4,618.9l-2.1,-3.1" stroke="#f6c79a" stroke-width="2.16" fill="none" stroke-linecap="round" stroke-linejoin="round"/>
<path d="M1293.9,619.8l-1.3,6.7 -4.2,4.5 -4.9,1 -3,-2.4" stroke="#f6c79a" stroke-width="2.16" fill="none" stroke-linecap="round" stroke-linejoin="round"/>
<path d="M1301.5,630.6l-0.2,6.9 -3.6,5.3 -5,2 -3.7,-1.5 -0.6,-3.9" stroke="#f6c79a" stroke-width="2.16" fill="none" stroke-linecap="round" stroke-linejoin="round"/>
<path d="M1308.8,641.4l0.9,7 -2.8,5.9 -4.9,3.1 -4.3,-0.7 -1.6,-3.4" stroke="#f6c79a" stroke-width="2.16" fill="none" stroke-linecap="round" stroke-linejoin="round"/>
<path d="M1317.8,659.2l-1.9,6.4" stroke="#f6c79a" stroke-width="2.16" fill="none" stroke-linecap="round" stroke-linejoin="round"/>
<path d="M1288,434.7l3.5,-6.5 5.4,-3.6 6.1,0.5 5.2,5 3.1,8.5 0.2,10.6 -2.7,10.5" stroke="#f6c79a" stroke-width="1.1340000000000001" fill="none" stroke-linecap="round" stroke-linejoin="round"/>
<path d="M1284.1,455.4l3.5,-6.6 5.4,-3.6 6,0.5 5.3,4.9 3.1,8.6 0.2,10.5 -2.7,10.6" stroke="#f6c79a" stroke-width="1.1340000000000001" fill="none" stroke-linecap="round" stroke-linejoin="round"/>
<path d="M1280.2,476.1l3.4,-6.6 5.4,-3.6 6.1,0.4 5.2,4.9 3.2,8.5 0.3,10.5 -2.7,10.6" stroke="#f6c79a" stroke-width="1.1340000000000001" fill="none" stroke-linecap="round" stroke-linejoin="round"/>
<path d="M1276.3,496.8l3.4,-6.6 5.4,-3.7 6,0.5 5.3,4.8 3.2,8.4 0.3,10.6 -2.7,10.5" stroke="#f6c79a" stroke-width="1.1340000000000001" fill="none" stroke-linecap="round" stroke-linejoin="round"/>
<path d="M1272.4,517.6l3.4,-6.7 5.3,-3.7 6.1,0.4 5.3,4.7 3.2,8.5 0.3,10.5 -2.6,10.6" stroke="#f6c79a" stroke-width="1.1340000000000001" fill="none" stroke-linecap="round" stroke-linejoin="round"/>
<path d="M1268.4,538.3l3.4,-6.7 5.4,-3.8 6,0.4 5.3,4.7 3.3,8.4 0.3,10.5 -2.6,10.6" stroke="#f6c79a" stroke-width="1.1340000000000001" fill="none" stroke-linecap="round" stroke-linejoin="round"/>
<path d="M1264.5,559l3.4,-6.7 5.3,-3.8 6.1,0.3" stroke="#f6c79a" stroke-width="1.1340000000000001" fill="none" stroke-linecap="round" stroke-linejoin="round"/>
<path d="M1312.6,439.2l-5.2,8.4 -6.5,4.8 -6.4,0.3 -4.9,-3.7 -2.3,-6.6 0.7,-7.7" stroke="#f6c79a" stroke-width="2.52" fill="none" stroke-linecap="round" stroke-linejoin="round"/>
<path d="M1308.8,459.7l-5.3,8.5 -6.5,4.8 -6.4,0.4 -4.9,-3.7 -2.3,-6.6 0.7,-7.7" stroke="#f6c79a" stroke-width="2.52" fill="none" stroke-linecap="round" stroke-linejoin="round"/>
<path d="M1304.9,480.3l-5.2,8.4 -6.5,4.9 -6.4,0.4 -4.9,-3.6 -2.4,-6.6 0.7,-7.7" stroke="#f6c79a" stroke-width="2.52" fill="none" stroke-linecap="round" stroke-linejoin="round"/>
<path d="M1301.1,500.8l-5.2,8.5 -6.5,4.9 -6.4,0.5 -5,-3.6 -2.4,-6.6 0.7,-7.7" stroke="#f6c79a" stroke-width="2.52" fill="none" stroke-linecap="round" stroke-linejoin="round"/>
<path d="M1297.2,521.3l-5.1,8.6 -6.5,4.9 -6.5,0.6 -4.9,-3.6 -2.4,-6.6 0.6,-7.6" stroke="#f6c79a" stroke-width="2.52" fill="none" stroke-linecap="round" stroke-linejoin="round"/>
<path d="M1293.4,541.9l-5.2,8.5 -6.4,5 -6.5,0.6 -5,-3.5 -2.4,-6.6 0.5,-7.6" stroke="#f6c79a" stroke-width="2.52" fill="none" stroke-linecap="round" stroke-linejoin="round"/>
<path d="M1289.5,562.4l-5.1,8.6 -6.5,5 -6.4,0.7 -5,-3.6 -2.5,-6.5 0.5,-7.6" stroke="#f6c79a" stroke-width="2.52" fill="none" stroke-linecap="round" stroke-linejoin="round"/>
<path d="M1276.0,568.0 C1274.7,569.7 1270.3,574.3 1268.0,578.0 C1265.7,581.7 1265.0,586.7 1262.0,590.0 C1259.0,593.3 1253.7,595.5 1250.0,598.0 C1246.3,600.5 1241.7,603.8 1240.0,605.0" stroke="#f6c79a" stroke-width="1.68" fill="none" stroke-linecap="round" stroke-linejoin="round"/>
</g>
<g opacity="0.6" transform="translate(1776,111) scale(0.82,0.83) translate(-1202,-129)">
<path d="M1226.0,168.0 C1228.3,165.0 1234.0,154.7 1240.0,150.0 C1246.0,145.3 1254.5,142.7 1262.0,140.0 C1269.5,137.3 1280.0,136.0 1285.0,134.0 C1290.0,132.0 1287.8,128.7 1292.0,128.0 C1296.2,127.3 1304.5,128.7 1310.0,130.0 C1315.5,131.3 1320.3,132.7 1325.0,136.0 C1329.7,139.3 1334.5,144.7 1338.0,150.0 C1341.5,155.3 1343.7,163.3 1346.0,168.0 C1348.3,172.7 1350.3,174.3 1352.0,178.0 C1353.7,181.7 1355.3,188.0 1356.0,190.0" stroke="#f6c79a" stroke-width="1.3" fill="none" stroke-linecap="round" stroke-linejoin="round"/>
<path d="M1232.0,160.0 C1235.0,158.3 1245.5,152.7 1250.0,150.0 C1254.5,147.3 1257.5,145.0 1259.0,144.0" stroke="#f6c79a" stroke-width="1.6" fill="none" stroke-linecap="round" stroke-linejoin="round"/>
<path d="M1262.0,176.0 C1263.0,173.3 1264.2,163.3 1268.0,160.0 C1271.8,156.7 1280.5,156.0 1285.0,156.0 C1289.5,156.0 1292.8,156.8 1295.0,160.0 C1297.2,163.2 1298.2,170.0 1298.0,175.0 C1297.8,180.0 1294.7,187.5 1294.0,190.0" stroke="#f6c79a" stroke-width="1.7" fill="none" stroke-linecap="round" stroke-linejoin="round"/>
<path d="M1250.0,185.0 C1252.0,183.8 1257.0,178.8 1262.0,178.0 C1267.0,177.2 1275.3,178.3 1280.0,180.0 C1284.7,181.7 1289.7,185.5 1290.0,188.0 C1290.3,190.5 1286.2,193.8 1282.0,195.0 C1277.8,196.2 1270.0,195.8 1265.0,195.0 C1260.0,194.2 1254.2,190.8 1252.0,190.0" stroke="#f6c79a" stroke-width="1.5" fill="none" stroke-linecap="round" stroke-linejoin="round"/>
<path d="M1365.0,200.0 C1366.7,197.0 1370.5,185.7 1375.0,182.0 C1379.5,178.3 1386.5,177.3 1392.0,178.0 C1397.5,178.7 1403.7,182.7 1408.0,186.0 C1412.3,189.3 1417.0,193.7 1418.0,198.0 C1419.0,202.3 1417.3,209.2 1414.0,212.0 C1410.7,214.8 1402.8,215.7 1398.0,215.0 C1393.2,214.3 1387.2,209.2 1385.0,208.0" stroke="#f6c79a" stroke-width="1.4" fill="none" stroke-linecap="round" stroke-linejoin="round"/>
<path d="M1340.0,190.0 C1342.5,191.7 1350.8,197.0 1355.0,200.0 C1359.2,203.0 1363.3,206.7 1365.0,208.0" stroke="#f6c79a" stroke-width="1.3" fill="none" stroke-linecap="round" stroke-linejoin="round"/>
<path d="M1212.5,168.1l1.5,0.8 2.9,1 4.1,1.4 4.7,1.8 4.8,2.1 4.2,2.5 3.2,2.6 1.8,2.6 0.2,2.7" stroke="#f6c79a" stroke-width="1.35" fill="none" stroke-linecap="round" stroke-linejoin="round"/>
<path d="M1208.6,198l1.8,0.9 3.2,1.1 4.1,1.5 4.7,1.8 4.7,2.1 4.3,2.5 3.3,2.6 2,2.7 0.4,2.6" stroke="#f6c79a" stroke-width="1.35" fill="none" stroke-linecap="round" stroke-linejoin="round"/>
<path d="M1202.8,228.7l1,0.6 2.5,0.9 3.8,1.3 4.7,1.6 5.1,1.9 4.9,2.3 4.4,2.5 3.3,2.7 1.8,2.7 0.3,2.7" stroke="#f6c79a" stroke-width="1.35" fill="none" stroke-linecap="round" stroke-linejoin="round"/>
<path d="M1199.2,260.5l1.3,0.6 2.9,1 4,1.3 4.9,1.7 5.2,2 4.9,2.3 4.1,2.6 2.8,2.8 1.3,2.7 -0.4,2.6" stroke="#f6c79a" stroke-width="1.35" fill="none" stroke-linecap="round" stroke-linejoin="round"/>
<path d="M1197.5,291.1l1.1,0.7 2.6,0.9 4,1.3 4.8,1.7 5,2.1 4.7,2.3 3.8,2.6 2.5,2.7 0.8,2.7 -0.9,2.6" stroke="#f6c79a" stroke-width="1.35" fill="none" stroke-linecap="round" stroke-linejoin="round"/>
<path d="M1196.4,320.8l2.5,0.9 3.9,1.2 4.9,1.6 5.2,2.1 4.9,2.4 4,2.6 2.4,2.8 0.7,2.8" stroke="#f6c79a" stroke-width="1.35" fill="none" stroke-linecap="round" stroke-linejoin="round"/>
<path d="M1192.9,348.5l1.5,0.6 3.3,1 4.7,1.4 5.5,1.8 5.6,2.2 4.9,2.6 3.7,2.8 2,2.9 -0.1,2.7" stroke="#f6c79a" stroke-width="1.35" fill="none" stroke-linecap="round" stroke-linejoin="round"/>
<path d="M1190.5,377l2,0.7 3.7,1 4.9,1.5 5.6,1.8 5.6,2.3 4.9,2.6 3.7,2.8 2,2.8 0.1,2.8" stroke="#f6c79a" stroke-width="1.35" fill="none" stroke-linecap="round" stroke-linejoin="round"/>
<path d="M1190.2,407.2l2.4,0.9 3.8,1.2 4.8,1.5 5.1,2 5,2.2 4.3,2.5 3.2,2.7 1.9,2.7 0.2,2.6" stroke="#f6c79a" stroke-width="1.35" fill="none" stroke-linecap="round" stroke-linejoin="round"/>
<path d="M1218.6,166.6l-3.7,0.5 -2.1,0.5 -0.3,0.5" stroke="#f6c79a" stroke-width="3.0" fill="none" stroke-linecap="round" stroke-linejoin="round"/>
<path d="M1239.9,185.6l-1.4,2.4 -3,2.2 -4.1,1.9 -4.9,1.5 -5.1,1.1 -4.8,0.9 -4.1,0.7 -2.8,0.5 -1.3,0.6 0.2,0.6" stroke="#f6c79a" stroke-width="3.0" fill="none" stroke-linecap="round" stroke-linejoin="round"/>
<path d="M1237.1,215.8l-1.1,2.5 -2.7,2.3 -3.9,2 -4.9,1.6 -5.3,1.3 -5.2,1 -4.6,0.7 -3.7,0.5 -2.2,0.5 -0.7,0.5" stroke="#f6c79a" stroke-width="3.0" fill="none" stroke-linecap="round" stroke-linejoin="round"/>
<path d="M1234.6,247.9l-1.5,2.6 -3,2.3 -4.3,1.9 -5.1,1.6 -5.5,1.2 -5.4,0.9 -4.7,0.6 -3.5,0.5 -2,0.5 -0.4,0.5" stroke="#f6c79a" stroke-width="3.0" fill="none" stroke-linecap="round" stroke-linejoin="round"/>
<path d="M1230.2,280.1l-2.1,2.5 -3.6,2.1 -4.7,1.7 -5.3,1.4 -5.3,1.1 -4.9,0.7 -3.7,0.5 -2.4,0.5 -0.7,0.5" stroke="#f6c79a" stroke-width="3.0" fill="none" stroke-linecap="round" stroke-linejoin="round"/>
<path d="M1225.9,310.7l-2.7,2.3 -4,2 -5,1.5 -5.3,1.2 -5.1,0.9 -4.2,0.6 -2.8,0.5 -1.1,0.4 0.7,0.7" stroke="#f6c79a" stroke-width="3.0" fill="none" stroke-linecap="round" stroke-linejoin="round"/>
<path d="M1224.9,337.2l-1.3,2.5 -3,2.3 -4.5,1.9 -5.4,1.5 -5.7,1.1 -5.2,0.7 -4,0.5 -2.5,0.3 -0.4,0.5" stroke="#f6c79a" stroke-width="3.0" fill="none" stroke-linecap="round" stroke-linejoin="round"/>
<path d="M1224,366.5l-2.1,2.6 -3.8,2.2 -5.2,1.7 -5.8,1.3 -5.8,1 -5.1,0.5 -3.8,0.4 -1.9,0.4 0,0.4" stroke="#f6c79a" stroke-width="3.0" fill="none" stroke-linecap="round" stroke-linejoin="round"/>
<path d="M1223,395.3l-1.7,2.5 -3.5,2.3 -4.7,1.8 -5.4,1.5 -5.6,1 -5.1,0.8 -4.1,0.5 -2.6,0.4 -1,0.5 0.9,0.6" stroke="#f6c79a" stroke-width="3.0" fill="none" stroke-linecap="round" stroke-linejoin="round"/>
<path d="M1220.9,425.5l-1.3,2.5 -2.8,2.2 -3.9,1.9 -4.7,1.6 -4.9,1.2" stroke="#f6c79a" stroke-width="3.0" fill="none" stroke-linecap="round" stroke-linejoin="round"/>
<path d="M1239.7,190.2l3.8,4.7 5.8,3.7 7,2.6 7.1,1.2 6.4,0 4.7,-1 2.4,-1.7 -0.1,-1.8" stroke="#f6c79a" stroke-width="1.35" fill="none" stroke-linecap="round" stroke-linejoin="round"/>
<path d="M1243.9,213.2l1.9,4.5 3.8,3.9 5.2,3 5.9,2 5.7,0.8 4.7,0 3.2,-0.8 1.3,-1.2 -0.9,-1.2" stroke="#f6c79a" stroke-width="1.35" fill="none" stroke-linecap="round" stroke-linejoin="round"/>
<path d="M1245.4,241.1l1.8,4.3 3.7,3.9 5,3 5.8,2.1 5.8,1.1 5.1,0.1 3.8,-0.6 2.1,-1.2 0,-1.3" stroke="#f6c79a" stroke-width="1.35" fill="none" stroke-linecap="round" stroke-linejoin="round"/>
<path d="M1244.9,269.1l1.4,4.3 2.9,3.9 4.2,3.3 5,2.5 5.2,1.6 4.9,0.9 4.1,0.1 3,-0.4 1.5,-0.6 0.1,-0.8" stroke="#f6c79a" stroke-width="1.35" fill="none" stroke-linecap="round" stroke-linejoin="round"/>
<path d="M1251,301.3l1.2,3.4 2.1,3.1 3,2.6 3.4,2.2 3.6,1.6 3.4,1 2.8,0.6 2.1,0.1 1.1,-0.1 -0.1,-0.1" stroke="#f6c79a" stroke-width="1.35" fill="none" stroke-linecap="round" stroke-linejoin="round"/>
<path d="M1251.1,332l1.1,3.7 2.5,3.4 3.7,2.8 4.4,2.2 4.6,1.3 4.2,0.4 3.2,-0.2 1.7,-0.7 -0.2,-0.9" stroke="#f6c79a" stroke-width="1.35" fill="none" stroke-linecap="round" stroke-linejoin="round"/>
<path d="M1249.1,359.2l1.6,4.1 3.2,3.6 4.5,2.8 5.1,1.9 4.9,0.9 3.9,0.1 2.5,-0.5 0.7,-0.8 -1.1,-0.7" stroke="#f6c79a" stroke-width="1.35" fill="none" stroke-linecap="round" stroke-linejoin="round"/>
<path d="M1252.1,387.2l1.8,3.4 2.9,2.9 3.6,2.2 3.7,1.6 3.5,0.9 2.8,0.4 1.7,-0.1 0.5,-0.2" stroke="#f6c79a" stroke-width="1.35" fill="none" stroke-linecap="round" stroke-linejoin="round"/>
<path d="M1250.1,413.4l0.5,3.5 1.8,3.5 3,3 3.8,2.5 4.2,1.7 4.2,1.1 3.8,0.4 2.8,-0.2 1.5,-0.5 0.1,-0.8" stroke="#f6c79a" stroke-width="1.35" fill="none" stroke-linecap="round" stroke-linejoin="round"/>
<path d="M1244.4,447l1.8,4 3.2,3.6 4.3,3 5,2.2 5.1,1.4 4.7,0.6 3.8,-0.1 2.6,-0.6" stroke="#f6c79a" stroke-width="1.35" fill="none" stroke-linecap="round" stroke-linejoin="round"/>
<path d="M1243.3,175.2l-3.8,4.7 -1.2,5.2 1.4,5.1" stroke="#f6c79a" stroke-width="3.0" fill="none" stroke-linecap="round" stroke-linejoin="round"/>
<path d="M1276.8,197.9l-2.6,-1.4 -4.7,-0.7 -5.9,0.3 -6.3,1.6 -5.9,2.7 -4.5,3.8 -2.7,4.4 -0.3,4.6" stroke="#f6c79a" stroke-width="3.0" fill="none" stroke-linecap="round" stroke-linejoin="round"/>
<path d="M1274.7,224.2l-2.8,-0.8 -4.4,-0.1 -5.3,0.8 -5.5,1.8 -5.1,2.9 -3.9,3.6 -2.2,4.3 -0.1,4.4" stroke="#f6c79a" stroke-width="3.0" fill="none" stroke-linecap="round" stroke-linejoin="round"/>
<path d="M1278.5,252.5l-1.9,-1.2 -3.7,-0.6 -4.9,0.1 -5.6,1.1 -5.7,2 -5.1,3 -3.9,3.6 -2.3,4.2 -0.5,4.4" stroke="#f6c79a" stroke-width="3.0" fill="none" stroke-linecap="round" stroke-linejoin="round"/>
<path d="M1277.2,283.9l-1.4,-0.5 -2.6,-0.2 -3.5,0.3 -4.1,1 -4.1,1.6 -3.9,2.3 -3.2,2.8 -2.2,3.2 -1.2,3.5 0,3.4" stroke="#f6c79a" stroke-width="3.0" fill="none" stroke-linecap="round" stroke-linejoin="round"/>
<path d="M1273.6,315.7l-1.2,-0.1 -2.2,0.2 -3.2,0.6 -3.6,1.2 -3.9,1.8 -3.5,2.5 -2.8,3 -1.8,3.5 -0.3,3.6" stroke="#f6c79a" stroke-width="3.0" fill="none" stroke-linecap="round" stroke-linejoin="round"/>
<path d="M1276.3,344l-1.9,-0.7 -3.6,-0.2 -4.7,0.6 -5.2,1.5 -5,2.5 -3.9,3.3 -2.4,4 -0.5,4.2" stroke="#f6c79a" stroke-width="3.0" fill="none" stroke-linecap="round" stroke-linejoin="round"/>
<path d="M1274.4,370.6l-2.7,-0.3 -3.9,0.3 -4.5,1.2 -4.3,2.1 -3.7,2.7 -2.5,3.4 -1.1,3.6 0.4,3.6" stroke="#f6c79a" stroke-width="3.0" fill="none" stroke-linecap="round" stroke-linejoin="round"/>
<path d="M1272.6,398.3l-0.8,-0.2 -2,0.1 -2.9,0.5 -3.6,1 -3.8,1.7 -3.6,2.2 -3,2.9 -2,3.3 -0.8,3.6" stroke="#f6c79a" stroke-width="3.0" fill="none" stroke-linecap="round" stroke-linejoin="round"/>
<path d="M1275.8,427.6l-1.4,-0.7 -2.9,-0.3 -4,0.2 -4.8,0.9 -5.1,1.6 -4.8,2.5 -4.1,3.2 -3,3.7 -1.4,4.1 0.1,4.2" stroke="#f6c79a" stroke-width="3.0" fill="none" stroke-linecap="round" stroke-linejoin="round"/>
<path d="M1271.3,167.8l1.3,-0.8 3.9,-0.5 5.8,0.1 7.1,1.1 7.2,2 6.2,3 4.3,3.7 1.6,4.2 -1.3,4.2" stroke="#f6c79a" stroke-width="1.35" fill="none" stroke-linecap="round" stroke-linejoin="round"/>
<path d="M1269.9,192.8l4.1,-0.6 6.1,0.1 7.4,1 7.3,2.1 6.2,3.1 4,3.8 1.3,4.1 -1.7,4.1" stroke="#f6c79a" stroke-width="1.35" fill="none" stroke-linecap="round" stroke-linejoin="round"/>
<path d="M1269.9,219.1l1.7,-0.7 4,-0.2 5.6,0.5 6.2,1.4 6,2.2 4.7,3 2.8,3.4 0.5,3.7" stroke="#f6c79a" stroke-width="1.35" fill="none" stroke-linecap="round" stroke-linejoin="round"/>
<path d="M1273,244.8l1.3,-0.1 2.8,0.3 4,0.8 4.6,1.3 4.3,2 3.6,2.5 2.4,2.8 0.9,3.1 -0.8,3" stroke="#f6c79a" stroke-width="1.35" fill="none" stroke-linecap="round" stroke-linejoin="round"/>
<path d="M1275.1,271.6l1.2,0.4 2.3,0.6 3.2,1 3.7,1.4 3.5,1.8 3.1,2.3 2.3,2.7 1,2.8 -0.2,2.9" stroke="#f6c79a" stroke-width="1.35" fill="none" stroke-linecap="round" stroke-linejoin="round"/>
<path d="M1273.7,299.8l1.7,0.3 2.9,0.5 3.9,1 4.3,1.4 4.3,2 3.8,2.5 2.7,2.9 1.3,3.1 -0.3,3.3" stroke="#f6c79a" stroke-width="1.35" fill="none" stroke-linecap="round" stroke-linejoin="round"/>
<path d="M1269.6,328.2l2.3,-0.2 4.1,0.1 5.3,0.7 6,1.4 5.9,2.2 5.1,2.8 3.6,3.4 1.6,3.8 -0.7,3.9" stroke="#f6c79a" stroke-width="1.35" fill="none" stroke-linecap="round" stroke-linejoin="round"/>
<path d="M1266.2,356.7l1.7,-0.8 4,-0.5 5.9,0.2 7.1,1 7.3,1.9 6.4,2.8 4.8,3.6 2.4,4.1 -0.4,4.1" stroke="#f6c79a" stroke-width="1.35" fill="none" stroke-linecap="round" stroke-linejoin="round"/>
<path d="M1267.8,383.5l2.5,-0.8 4.9,-0.3 6.5,0.5 7.1,1.4 6.8,2.4 5.3,3.2 3.2,3.8 0.6,4" stroke="#f6c79a" stroke-width="1.35" fill="none" stroke-linecap="round" stroke-linejoin="round"/>
<path d="M1272.6,409.4l2.1,-0.4 4.1,0.1 5.3,0.8 5.9,1.5 5.3,2.3 4.1,2.9 2.3,3.3 0.2,3.5" stroke="#f6c79a" stroke-width="1.35" fill="none" stroke-linecap="round" stroke-linejoin="round"/>
<path d="M1278.2,434.9l1.9,0.2 3.3,0.5 4.2,1.1 4.3,1.6" stroke="#f6c79a" stroke-width="1.35" fill="none" stroke-linecap="round" stroke-linejoin="round"/>
<path d="M1307.4,184.8l-4.1,3.9 -6.3,3.2 -7.5,2.2 -7.7,1.2 -6.7,0.2 -4.6,-0.6 -1.8,-1 1.2,-1.1" stroke="#f6c79a" stroke-width="3.0" fill="none" stroke-linecap="round" stroke-linejoin="round"/>
<path d="M1304.6,210.5l-4.3,3.7 -6.2,3 -7.1,1.9 -6.9,1 -5.7,0.2 -3.5,-0.5 -1,-0.7" stroke="#f6c79a" stroke-width="3.0" fill="none" stroke-linecap="round" stroke-linejoin="round"/>
<path d="M1301.4,232.4l-1.8,3.5 -3.6,3.2 -5,2.5 -5.5,1.8 -5.2,1 -4.1,0.5 -2.5,0 -0.7,-0.1" stroke="#f6c79a" stroke-width="3.0" fill="none" stroke-linecap="round" stroke-linejoin="round"/>
<path d="M1296.1,260.5l-2.1,2.9 -3.2,2.5 -3.9,2 -4,1.4 -3.5,1.1 -2.7,0.6 -1.5,0.4 -0.1,0.2" stroke="#f6c79a" stroke-width="3.0" fill="none" stroke-linecap="round" stroke-linejoin="round"/>
<path d="M1295.2,287.5l-1.5,2.8 -2.6,2.5 -3.4,2.2 -3.8,1.8 -3.7,1.3 -3.3,0.8 -2.3,0.5 -1.1,0.2 0.2,0.2" stroke="#f6c79a" stroke-width="3.0" fill="none" stroke-linecap="round" stroke-linejoin="round"/>
<path d="M1298.3,316.8l-1.9,3.2 -3.4,2.8 -4.5,2.4 -5.1,1.8 -5,1.2 -4.5,0.6 -3.2,0 -1.5,-0.2 0.4,-0.4" stroke="#f6c79a" stroke-width="3.0" fill="none" stroke-linecap="round" stroke-linejoin="round"/>
<path d="M1302.8,346.3l-2.9,3.6 -4.8,3.2 -6.2,2.5 -6.7,1.6 -6.5,0.8 -5.2,0.1 -3.3,-0.6 -1,-0.8" stroke="#f6c79a" stroke-width="3.0" fill="none" stroke-linecap="round" stroke-linejoin="round"/>
<path d="M1305.4,373.1l-3,4 -5.3,3.4 -6.8,2.5 -7.3,1.6 -6.7,0.7 -5.3,-0.2 -2.9,-0.7 -0.3,-0.9" stroke="#f6c79a" stroke-width="3.0" fill="none" stroke-linecap="round" stroke-linejoin="round"/>
<path d="M1304.7,397.7l-2.1,3.8 -4.3,3.4 -5.8,2.6 -6.4,1.8 -6,0.9 -4.6,0.1 -2.7,-0.3 -0.2,-0.6" stroke="#f6c79a" stroke-width="3.0" fill="none" stroke-linecap="round" stroke-linejoin="round"/>
<path d="M1301.9,423.4l-1.9,3.3 -3.5,2.9 -4.5,2.2 -4.8,1.6 -4.3,1 -3.2,0.4 -1.6,0.1 0.1,0" stroke="#f6c79a" stroke-width="3.0" fill="none" stroke-linecap="round" stroke-linejoin="round"/>
<path d="M1299.5,203.4l2.8,3 4.1,2.3 4.8,1.5 4.9,0.7 4.3,0.1 3.1,-0.3 1.5,-0.5 -0.3,-0.3" stroke="#f6c79a" stroke-width="1.35" fill="none" stroke-linecap="round" stroke-linejoin="round"/>
<path d="M1298.8,228.4l1.5,3.4 3.4,2.9 4.7,2.2 5.5,1.3 5.6,0.4 4.8,-0.2 3.4,-0.8 1.4,-0.9 -0.7,-0.6" stroke="#f6c79a" stroke-width="1.35" fill="none" stroke-linecap="round" stroke-linejoin="round"/>
<path d="M1296.1,256.6l2.1,3.9 4.2,3.1 5.8,2.3 6.6,1.2 6.6,0.3 5.7,-0.6 4,-1 2,-1.1 -0.3,-1" stroke="#f6c79a" stroke-width="1.35" fill="none" stroke-linecap="round" stroke-linejoin="round"/>
<path d="M1299.8,285.9l2.7,3.4 4.3,2.8 5.4,1.9 5.8,1 5.6,0.4 4.7,-0.3 3.3,-0.6 1.7,-0.8 -0.1,-0.5" stroke="#f6c79a" stroke-width="1.35" fill="none" stroke-linecap="round" stroke-linejoin="round"/>
<path d="M1303.5,313.8l1.8,3.6 3.4,3 4.9,2.3 5.6,1.5 6,0.7 5.5,0 4.5,-0.6 2.9,-0.9 1,-0.9" stroke="#f6c79a" stroke-width="1.35" fill="none" stroke-linecap="round" stroke-linejoin="round"/>
<path d="M1306.2,346.1l3.6,3.4 5.4,2.6 6.4,1.7 6.8,0.7 6.3,-0.2 5.1,-0.7 3.2,-1.2 1.1,-1.1 -1.1,-0.7" stroke="#f6c79a" stroke-width="1.35" fill="none" stroke-linecap="round" stroke-linejoin="round"/>
<path d="M1312.8,370.6l2,3.5 3.8,2.9 5.1,2.2 5.6,1.3 5.6,0.5 4.9,-0.2 3.5,-0.5 1.9,-0.6 -0.1,-0.5" stroke="#f6c79a" stroke-width="1.35" fill="none" stroke-linecap="round" stroke-linejoin="round"/>
<path d="M1322.1,400.3l3.3,2.9 4.6,2.2 5.5,1.4 5.6,0.6 4.9,-0.1 3.7,-0.6 1.9,-0.7 -0.1,-0.6" stroke="#f6c79a" stroke-width="1.35" fill="none" stroke-linecap="round" stroke-linejoin="round"/>
<path d="M1325.5,424.6l2.7,3.5 4.5,2.8 5.8,1.8 6.2,0.9 5.9,0 4.6,-0.5 2.9,-0.9 0.7,-0.8" stroke="#f6c79a" stroke-width="1.35" fill="none" stroke-linecap="round" stroke-linejoin="round"/>
<path d="M1335.7,451.5l3.2,2.8 4.4,2.1 5,1.4 4.9,0.7 4.3,0.1 3.1,-0.1 1.7,-0.3 0.2,-0.1" stroke="#f6c79a" stroke-width="1.35" fill="none" stroke-linecap="round" stroke-linejoin="round"/>
<path d="M1302.2,192.3l-2.8,3.7 -0.9,3.8 1,3.6" stroke="#f6c79a" stroke-width="3.0" fill="none" stroke-linecap="round" stroke-linejoin="round"/>
<path d="M1324.7,209.9l-2.1,0.1 -3.5,0.7 -4.6,1.4 -4.9,2.3 -4.6,2.9 -3.7,3.5 -2.2,3.8 -0.3,3.8" stroke="#f6c79a" stroke-width="3.0" fill="none" stroke-linecap="round" stroke-linejoin="round"/>
<path d="M1328.4,236.1l-2.8,-0.2 -4.7,0.6 -5.7,1.5 -6.2,2.5 -5.7,3.4 -4.5,4 -2.5,4.4 -0.2,4.3" stroke="#f6c79a" stroke-width="3.0" fill="none" stroke-linecap="round" stroke-linejoin="round"/>
<path d="M1332.8,263.7l-2.6,-0.5 -4.4,0.4 -5.6,1.2 -6.1,2.2 -5.9,3.1 -4.8,3.7 -3.2,4.1 -1.3,4.1 0.9,3.9" stroke="#f6c79a" stroke-width="3.0" fill="none" stroke-linecap="round" stroke-linejoin="round"/>
<path d="M1333.2,293.2l-1.9,-0.2 -3.4,0.5 -4.6,1.1 -5,1.9 -5.1,2.7 -4.5,3.2 -3.4,3.7 -1.8,3.9 0,3.8" stroke="#f6c79a" stroke-width="3.0" fill="none" stroke-linecap="round" stroke-linejoin="round"/>
<path d="M1339.1,322.5l-1.1,-0.7 -3,-0.1 -4.6,0.6 -5.7,1.5 -6,2.5 -5.7,3.2 -4.6,3.9 -2.9,4.3 -0.8,4.3 1.5,4.1" stroke="#f6c79a" stroke-width="3.0" fill="none" stroke-linecap="round" stroke-linejoin="round"/>
<path d="M1343,350.6l-3.2,-0.1 -4.7,0.7 -5.7,1.6 -5.7,2.6 -5.1,3.3 -3.9,3.8 -2,4.1 0.1,4" stroke="#f6c79a" stroke-width="3.0" fill="none" stroke-linecap="round" stroke-linejoin="round"/>
<path d="M1345.1,379.2l-1.8,0 -3.3,0.6 -4.3,1.3 -4.7,2.1 -4.4,2.8 -3.5,3.4 -2.2,3.7 -0.3,3.7 1.5,3.5" stroke="#f6c79a" stroke-width="3.0" fill="none" stroke-linecap="round" stroke-linejoin="round"/>
<path d="M1351.5,405.4l-2.2,-0.2 -3.8,0.6 -5,1.5 -5.3,2.4 -4.8,3.2 -3.6,3.8 -1.7,4 0.4,3.9" stroke="#f6c79a" stroke-width="3.0" fill="none" stroke-linecap="round" stroke-linejoin="round"/>
<path d="M1358.8,431.4l-1.3,-0.4 -3.2,0.3 -4.5,1.2 -5,2 -4.6,2.8 -3.7,3.4 -2.1,3.7 -0.3,3.7 1.6,3.4" stroke="#f6c79a" stroke-width="3.0" fill="none" stroke-linecap="round" stroke-linejoin="round"/>
<path d="M1362.5,458.1l-1.3,0.3" stroke="#f6c79a" stroke-width="3.0" fill="none" stroke-linecap="round" stroke-linejoin="round"/>
<path d="M1331.9,230.9l3,1.4 3,1.9 2.8,2.4 2,2.9 1.1,3.2 -0.1,3.3" stroke="#f6c79a" stroke-width="1.1700000000000002" fill="none" stroke-linecap="round" stroke-linejoin="round"/>
<path d="M1323.3,257.1l0.6,-0.4 2.1,-0.2 3.3,0.4 4.2,1.1 4.4,2 4,2.8 3,3.6 1.4,3.9 -0.4,4.1" stroke="#f6c79a" stroke-width="1.1700000000000002" fill="none" stroke-linecap="round" stroke-linejoin="round"/>
<path d="M1319.6,281.9l3,-0.8 4.8,0 5.8,1.2 5.9,2.4 4.9,3.5 3.1,4.4 0.7,4.7" stroke="#f6c79a" stroke-width="1.1700000000000002" fill="none" stroke-linecap="round" stroke-linejoin="round"/>
<path d="M1317.6,306.4l3,-1.1 5.1,-0.1 6,1.1 6.1,2.4 4.9,3.6 3,4.3 0.6,4.6" stroke="#f6c79a" stroke-width="1.1700000000000002" fill="none" stroke-linecap="round" stroke-linejoin="round"/>
<path d="M1318.3,331.3l2.3,-0.7 3.9,0 4.8,1 5,2 4.2,2.9 3,3.6 1.2,3.9 -0.6,3.9" stroke="#f6c79a" stroke-width="1.1700000000000002" fill="none" stroke-linecap="round" stroke-linejoin="round"/>
<path d="M1320.1,357.6l1.5,-0.1 2.6,0.3 3.3,1 3.6,1.6 3.4,2.3 2.7,2.8 1.7,3.1 0.5,3.4 -0.7,3.3" stroke="#f6c79a" stroke-width="1.1700000000000002" fill="none" stroke-linecap="round" stroke-linejoin="round"/>
<path d="M1319.8,385.5l0.9,0 1.9,0.2 2.8,0.8 3.3,1.3 3.4,1.9 3.1,2.5 2.3,3.1 1.2,3.3 0,3.4" stroke="#f6c79a" stroke-width="1.1700000000000002" fill="none" stroke-linecap="round" stroke-linejoin="round"/>
<path d="M1317.1,413.1l0.8,-0.5 2.2,-0.1 3.5,0.4 4.3,1.3" stroke="#f6c79a" stroke-width="1.1700000000000002" fill="none" stroke-linecap="round" stroke-linejoin="round"/>
<path d="M1343.7,246l-1.2,3.1 -2.4,2.9 -3.2,2.3 -3.7,1.7 -3.6,1.1 -3.2,0.4 -2.2,-0.1 -0.9,-0.3" stroke="#f6c79a" stroke-width="2.6" fill="none" stroke-linecap="round" stroke-linejoin="round"/>
<path d="M1345.9,274.4l-2.4,3.8 -4,3.2 -5.2,2.2 -5.4,1.2 -4.9,0.2 -3.5,-0.7 -1.6,-1.2 0.7,-1.2" stroke="#f6c79a" stroke-width="2.6" fill="none" stroke-linecap="round" stroke-linejoin="round"/>
<path d="M1347.8,297.3l-1.9,4.6 -4.2,3.8 -5.8,2.8 -6.4,1.5 -5.9,0.2 -4.4,-0.8 -2.1,-1.5 0.5,-1.5" stroke="#f6c79a" stroke-width="2.6" fill="none" stroke-linecap="round" stroke-linejoin="round"/>
<path d="M1346.3,321.2l-1.8,4.5 -4,3.7 -5.4,2.7 -5.8,1.5 -5.3,0.3 -3.9,-0.5 -2,-1 0.2,-1.1" stroke="#f6c79a" stroke-width="2.6" fill="none" stroke-linecap="round" stroke-linejoin="round"/>
<path d="M1342.1,347.9l-2.2,3.5 -3.5,2.9 -4.2,2.1 -4.3,1.3 -3.7,0.6 -2.8,0 -1.4,-0.3 0.1,-0.4" stroke="#f6c79a" stroke-width="2.6" fill="none" stroke-linecap="round" stroke-linejoin="round"/>
<path d="M1338.7,375.3l-1.9,3 -2.7,2.6 -3.3,2 -3.5,1.4 -3.1,0.9 -2.5,0.3 -1.5,0.1 -0.4,-0.1" stroke="#f6c79a" stroke-width="2.6" fill="none" stroke-linecap="round" stroke-linejoin="round"/>
<path d="M1338.7,402l-1.4,3.4 -2.6,2.9 -3.5,2.4 -3.9,1.7 -3.9,1 -3.2,0.3 -2.3,-0.2 -0.8,-0.4" stroke="#f6c79a" stroke-width="2.6" fill="none" stroke-linecap="round" stroke-linejoin="round"/>
<path d="M1340.4,203.6l4.3,0.2 4.9,0.6 4.9,1.1 4.4,1.6 3.5,1.9 2.4,2.4 1.2,2.5 0.1,2.7" stroke="#f6c79a" stroke-width="1.35" fill="none" stroke-linecap="round" stroke-linejoin="round"/>
<path d="M1349.1,233.8l1.2,0.4 2.3,0.4 3.4,0.4 4.2,0.7 4.5,1.1 4.4,1.6 3.6,2 2.5,2.6 0.8,2.9" stroke="#f6c79a" stroke-width="1.35" fill="none" stroke-linecap="round" stroke-linejoin="round"/>
<path d="M1355.6,261.9l2.1,0.2 3.2,0.4 4.1,0.7 4.4,1 4.3,1.6 3.5,2 2.3,2.6 0.7,2.9" stroke="#f6c79a" stroke-width="1.35" fill="none" stroke-linecap="round" stroke-linejoin="round"/>
<path d="M1355,287.1l3,-0.6 5.2,-0.3 6.6,0.2 7,0.9 6,1.9 4.3,2.7 1.8,3.3 -0.7,3.7" stroke="#f6c79a" stroke-width="1.35" fill="none" stroke-linecap="round" stroke-linejoin="round"/>
<path d="M1359.5,313.1l1.8,-0.1 3.3,0 4.5,0.2 5.3,0.5 5.5,1.1 5.1,1.7 4.2,2.2 2.7,2.8 1,3.2" stroke="#f6c79a" stroke-width="1.35" fill="none" stroke-linecap="round" stroke-linejoin="round"/>
<path d="M1360.1,343.5l2.2,-0.1 3.6,0 4.4,0.4 4.9,0.7 4.7,1.3 4.1,1.7 3.3,2.1 2.1,2.5 0.8,2.8 -0.4,2.9" stroke="#f6c79a" stroke-width="1.35" fill="none" stroke-linecap="round" stroke-linejoin="round"/>
<path d="M1364.8,373.7l1.6,0 3.2,0.1 4.5,0.3 5.2,0.8 5,1.5 4.1,2.1 2.5,2.7 0.6,3.1" stroke="#f6c79a" stroke-width="1.35" fill="none" stroke-linecap="round" stroke-linejoin="round"/>
<path d="M1368.5,399.8l1.1,0.4 2.3,0.5" stroke="#f6c79a" stroke-width="1.35" fill="none" stroke-linecap="round" stroke-linejoin="round"/>
<path d="M1366.1,216.6l-0.8,2.6 -1.6,2.6 -2.1,2.4 -2.5,2.1 -2.6,2 -2.5,1.7 -2.3,1.4 -1.7,1 -0.9,0.9 0,0.5" stroke="#f6c79a" stroke-width="3.0" fill="none" stroke-linecap="round" stroke-linejoin="round"/>
<path d="M1376,245.9l-0.8,3 -2.3,3 -3.4,2.8 -4.1,2.4 -4,1.8 -3.4,1.3 -2.2,0.9 -0.9,0.5 0.7,0.3" stroke="#f6c79a" stroke-width="3.0" fill="none" stroke-linecap="round" stroke-linejoin="round"/>
<path d="M1380.2,273.3l-1.2,3.2 -3,3.2 -4.6,2.9 -5.3,2.3 -5.2,1.6 -4.2,0.9 -2.1,0.1 0.4,-0.4" stroke="#f6c79a" stroke-width="3.0" fill="none" stroke-linecap="round" stroke-linejoin="round"/>
<path d="M1388.2,298.9l-2.9,3.6 -4.6,3.2 -5.5,2.8 -5.5,2.1 -4.8,1.4 -3.5,0.8 -1.8,0.3 -0.1,0" stroke="#f6c79a" stroke-width="3.0" fill="none" stroke-linecap="round" stroke-linejoin="round"/>
<path d="M1392.9,324.7l-1,3.5 -2.8,3.5 -4.3,3.2 -5.4,2.9 -5.7,2.4 -5.4,1.7 -4.5,1.1 -3,0.5 -1.3,0.1 0.6,-0.1" stroke="#f6c79a" stroke-width="3.0" fill="none" stroke-linecap="round" stroke-linejoin="round"/>
<path d="M1389.8,357.8l-1.6,3 -2.7,2.8 -3.5,2.7 -4.1,2.3 -4.2,2 -3.8,1.4 -3.1,1 -1.8,0.6 -0.2,0.1" stroke="#f6c79a" stroke-width="3.0" fill="none" stroke-linecap="round" stroke-linejoin="round"/>
<path d="M1391.5,384.3l-1.5,3.2 -3.1,3.2 -4.2,2.8 -4.6,2.3 -4.2,1.7 -3.2,1.1 -1.9,0.8 -0.3,0.4" stroke="#f6c79a" stroke-width="3.0" fill="none" stroke-linecap="round" stroke-linejoin="round"/>
<path d="M1379.7,221.3l1.5,1.1 2.9,1.1 3.7,1.4 4.2,1.5 3.8,1.8 3.1,2.1 1.6,2.2 0.1,2.3" stroke="#f6c79a" stroke-width="1.35" fill="none" stroke-linecap="round" stroke-linejoin="round"/>
<path d="M1376.1,247.3l1.3,0.9 2.9,1.1 4,1.2 4.5,1.5 4.3,1.8 3.5,1.9 2.3,2.2 0.7,2.2 -0.8,2.3" stroke="#f6c79a" stroke-width="1.35" fill="none" stroke-linecap="round" stroke-linejoin="round"/>
<path d="M1375.7,276l1.6,1.1 2.6,1.2 3.2,1.3 3.5,1.5 3.5,1.7 3,1.8 2.4,2 1.5,2.1 0.4,2.1" stroke="#f6c79a" stroke-width="1.35" fill="none" stroke-linecap="round" stroke-linejoin="round"/>
<path d="M1374.6,308.1l1.5,1.1 2.6,1.2 3.5,1.2 4,1.5 4.1,1.7 3.9,1.8 3,2.1 1.9,2.2 0.4,2.3" stroke="#f6c79a" stroke-width="1.35" fill="none" stroke-linecap="round" stroke-linejoin="round"/>
<path d="M1371,337.1l2.3,0.8 4.2,0.9 5.6,1.2 6.2,1.5 5.8,1.9 4.7,2.2 2.8,2.5 0.3,2.5" stroke="#f6c79a" stroke-width="1.35" fill="none" stroke-linecap="round" stroke-linejoin="round"/>
<path d="M1370.2,363.1l2,0.7 4.1,0.8 5.5,1.2 6.2,1.4 5.9,1.8 4.9,2.1 3.2,2.3 1.3,2.4 -0.8,2.5" stroke="#f6c79a" stroke-width="1.35" fill="none" stroke-linecap="round" stroke-linejoin="round"/>
<path d="M1375.1,391.8l2,1 3.2,1.1 3.9,1.3 4.2,1.4 4.2,1.7 3.7,1.9 2.9,2 1.9,2.1 0.8,2.2 -0.4,2.1" stroke="#f6c79a" stroke-width="1.35" fill="none" stroke-linecap="round" stroke-linejoin="round"/>
<path d="M1379.6,424l1.7,1.1 2.6,1.1 3.5,1.3 4,1.5 4.1,1.6 3.8,1.8 3,2.1 2,2.1 0.5,2.3" stroke="#f6c79a" stroke-width="1.35" fill="none" stroke-linecap="round" stroke-linejoin="round"/>
<path d="M1394.5,213.4l-3.8,1.8 -3.8,1.5 -3.4,1.4 -2.6,1.1 -1.4,1.1 0.2,1" stroke="#f6c79a" stroke-width="3.0" fill="none" stroke-linecap="round" stroke-linejoin="round"/>
<path d="M1400.6,234.8l-1.7,2.2 -3.2,2.2 -4.3,1.9 -4.7,1.7 -4.5,1.4 -3.6,1.2 -2.1,1 -0.4,0.9" stroke="#f6c79a" stroke-width="3.0" fill="none" stroke-linecap="round" stroke-linejoin="round"/>
<path d="M1398.8,262.4l-2.3,2.2 -3.3,2 -4.1,1.9 -4.2,1.6 -3.8,1.4 -3.1,1.3 -2,1.1 -0.8,1 0.5,1.1" stroke="#f6c79a" stroke-width="3.0" fill="none" stroke-linecap="round" stroke-linejoin="round"/>
<path d="M1397.4,290.8l-0.6,2.1 -1.6,2.1 -2.4,2 -3.1,1.9 -3.4,1.7 -3.5,1.6 -3.3,1.4 -2.6,1.3 -1.9,1.1 -0.8,1.1 0.4,1" stroke="#f6c79a" stroke-width="3.0" fill="none" stroke-linecap="round" stroke-linejoin="round"/>
<path d="M1399.5,323.2l-1.2,2.3 -2.8,2.2 -4.1,2.1 -5,1.8 -5.2,1.6 -4.8,1.3 -3.6,1 -1.9,0.8 0.1,0.8" stroke="#f6c79a" stroke-width="3.0" fill="none" stroke-linecap="round" stroke-linejoin="round"/>
<path d="M1402.9,350.6l-2,2.6 -4.3,2.3 -5.8,2.1 -6.4,1.7 -6.1,1.4 -4.8,1 -2.8,0.8 -0.5,0.6" stroke="#f6c79a" stroke-width="3.0" fill="none" stroke-linecap="round" stroke-linejoin="round"/>
<path d="M1402.5,378.3l-2.6,2.3 -4,2.2 -4.9,1.9 -5,1.7 -4.6,1.4 -3.7,1.1 -2.4,1 -0.9,1 0.7,0.9" stroke="#f6c79a" stroke-width="3.0" fill="none" stroke-linecap="round" stroke-linejoin="round"/>
<path d="M1401.5,408.6l-1.4,2.2 -2.4,2 -3.1,1.9 -3.5,1.8 -3.5,1.5 -3.3,1.5 -2.6,1.2 -1.8,1.2 -0.7,1.1 0.4,1" stroke="#f6c79a" stroke-width="3.0" fill="none" stroke-linecap="round" stroke-linejoin="round"/>
<path d="M1404.8,438.9l-0.9,2.2 -2.2,2.1" stroke="#f6c79a" stroke-width="3.0" fill="none" stroke-linecap="round" stroke-linejoin="round"/>
<path d="M1205.0,432.0 C1206.5,433.3 1211.8,436.2 1214.0,440.0 C1216.2,443.8 1216.2,449.2 1218.0,455.0 C1219.8,460.8 1222.7,469.2 1225.0,475.0 C1227.3,480.8 1229.5,489.5 1232.0,490.0 C1234.5,490.5 1237.8,483.8 1240.0,478.0 C1242.2,472.2 1243.3,461.3 1245.0,455.0 C1246.7,448.7 1249.2,442.5 1250.0,440.0" stroke="#f6c79a" stroke-width="1.3" fill="none" stroke-linecap="round" stroke-linejoin="round"/>
<path d="M1258.0,455.0 C1260.0,455.8 1265.5,460.8 1270.0,460.0 C1274.5,459.2 1280.0,453.7 1285.0,450.0 C1290.0,446.3 1297.5,440.0 1300.0,438.0" stroke="#f6c79a" stroke-width="1.3" fill="none" stroke-linecap="round" stroke-linejoin="round"/>
<path d="M1318.0,440.0 C1318.0,443.3 1316.8,455.0 1318.0,460.0 C1319.2,465.0 1321.3,468.7 1325.0,470.0 C1328.7,471.3 1335.5,469.7 1340.0,468.0 C1344.5,466.3 1350.0,461.3 1352.0,460.0" stroke="#f6c79a" stroke-width="1.3" fill="none" stroke-linecap="round" stroke-linejoin="round"/>
<path d="M1352.0,460.0 C1353.7,461.7 1358.7,469.2 1362.0,470.0 C1365.3,470.8 1369.0,468.7 1372.0,465.0 C1375.0,461.3 1376.7,452.2 1380.0,448.0 C1383.3,443.8 1388.7,443.8 1392.0,440.0 C1395.3,436.2 1397.8,430.0 1400.0,425.0 C1402.2,420.0 1404.2,412.5 1405.0,410.0" stroke="#f6c79a" stroke-width="1.3" fill="none" stroke-linecap="round" stroke-linejoin="round"/>
<path d="M1385.0,400.0 C1384.2,404.2 1382.2,418.7 1380.0,425.0 C1377.8,431.3 1375.0,437.2 1372.0,438.0 C1369.0,438.8 1363.7,431.3 1362.0,430.0" stroke="#f6c79a" stroke-width="1.3" fill="none" stroke-linecap="round" stroke-linejoin="round"/>
</g>
<g opacity="0.8" transform="translate(1658,400) scale(0.975,0.89) translate(-1099,-416)">
<path d="M1098.0,597.0 C1099.0,595.8 1099.5,590.8 1104.0,590.0 C1108.5,589.2 1122.2,589.8 1125.0,592.0 C1127.8,594.2 1122.7,600.0 1121.0,603.0 C1119.3,606.0 1115.5,607.2 1115.0,610.0 C1114.5,612.8 1115.8,617.3 1118.0,620.0 C1120.2,622.7 1124.0,625.8 1128.0,626.0 C1132.0,626.2 1137.8,624.3 1142.0,621.0 C1146.2,617.7 1150.0,609.8 1153.0,606.0 C1156.0,602.2 1158.8,599.3 1160.0,598.0" stroke="#8ee88a" stroke-width="1.68" fill="none" stroke-linecap="round" stroke-linejoin="round"/>
<path d="M1100.0,634.0 C1102.0,634.3 1106.5,634.8 1112.0,636.0 C1117.5,637.2 1129.0,638.3 1133.0,641.0 C1137.0,643.7 1136.2,648.2 1136.0,652.0 C1135.8,655.8 1134.7,661.7 1132.0,664.0 C1129.3,666.3 1123.3,667.5 1120.0,666.0 C1116.7,664.5 1112.7,659.0 1112.0,655.0 C1111.3,651.0 1113.0,644.5 1116.0,642.0 C1119.0,639.5 1127.7,640.3 1130.0,640.0" stroke="#8ee88a" stroke-width="1.68" fill="none" stroke-linecap="round" stroke-linejoin="round"/>
<path d="M1135.0,662.0 C1136.8,663.3 1142.8,668.0 1146.0,670.0 C1149.2,672.0 1151.3,671.7 1154.0,674.0 C1156.7,676.3 1159.3,680.8 1162.0,684.0 C1164.7,687.2 1167.7,689.8 1170.0,693.0 C1172.3,696.2 1173.8,699.7 1176.0,703.0 C1178.2,706.3 1181.2,710.7 1183.0,713.0 C1184.8,715.3 1186.8,717.7 1187.0,717.0 C1187.2,716.3 1185.5,711.8 1184.0,709.0 C1182.5,706.2 1179.0,701.5 1178.0,700.0" stroke="#8ee88a" stroke-width="1.68" fill="none" stroke-linecap="round" stroke-linejoin="round"/>
<path d="M1153.0,674.0 C1153.5,671.7 1154.3,664.3 1156.0,660.0 C1157.7,655.7 1159.8,649.7 1163.0,648.0 C1166.2,646.3 1171.0,648.2 1175.0,650.0 C1179.0,651.8 1184.2,655.3 1187.0,659.0 C1189.8,662.7 1191.5,667.8 1192.0,672.0 C1192.5,676.2 1191.0,680.2 1190.0,684.0 C1189.0,687.8 1186.7,693.2 1186.0,695.0" stroke="#8ee88a" stroke-width="1.68" fill="none" stroke-linecap="round" stroke-linejoin="round"/>
<path d="M1175.0,540.0 C1176.3,539.0 1180.7,535.5 1183.0,534.0 C1185.3,532.5 1186.7,533.3 1189.0,531.0 C1191.3,528.7 1194.7,522.3 1197.0,520.0 C1199.3,517.7 1200.2,516.3 1203.0,517.0 C1205.8,517.7 1211.2,521.8 1214.0,524.0 C1216.8,526.2 1218.5,526.5 1220.0,530.0 C1221.5,533.5 1222.0,540.0 1223.0,545.0 C1224.0,550.0 1225.3,555.0 1226.0,560.0 C1226.7,565.0 1227.3,571.2 1227.0,575.0 C1226.7,578.8 1224.5,581.7 1224.0,583.0" stroke="#8ee88a" stroke-width="1.68" fill="none" stroke-linecap="round" stroke-linejoin="round"/>
<path d="M1156.0,584.0 C1156.7,582.3 1157.7,577.2 1160.0,574.0 C1162.3,570.8 1167.3,568.0 1170.0,565.0 C1172.7,562.0 1175.2,559.3 1176.0,556.0 C1176.8,552.7 1175.2,546.8 1175.0,545.0" stroke="#8ee88a" stroke-width="1.68" fill="none" stroke-linecap="round" stroke-linejoin="round"/>
<path d="M1139.9,573.1l-0.9,-9.5 4.2,-6.6 8,-0.5 8.7,6.4 6.1,11.4" stroke="#8ee88a" stroke-width="1.4400000000000002" fill="none" stroke-linecap="round" stroke-linejoin="round"/>
<path d="M1144.9,585.3l0.6,-9.1 5.5,-5.1 8.6,1.5 8.2,8.1 5,12.1" stroke="#8ee88a" stroke-width="1.4400000000000002" fill="none" stroke-linecap="round" stroke-linejoin="round"/>
<path d="M1150.4,597.4l2.1,-8.3 6.6,-3.4 8.8,3.4 7.6,9.7 3.6,12.5" stroke="#8ee88a" stroke-width="1.4400000000000002" fill="none" stroke-linecap="round" stroke-linejoin="round"/>
<path d="M1153,583.3l-7.6,-2.4 -5.5,-7.8" stroke="#8ee88a" stroke-width="1.7999999999999998" fill="none" stroke-linecap="round" stroke-linejoin="round"/>
<path d="M1166,574.3l1.4,12.4 -3.7,8.9 -7.1,2.6 -7.3,-4.2 -4.4,-8.7" stroke="#8ee88a" stroke-width="1.7999999999999998" fill="none" stroke-linecap="round" stroke-linejoin="round"/>
<path d="M1172.8,592.8l-0.1,11.8 -5,7.4 -7.4,0.6 -6.8,-5.9 -3.1,-9.3" stroke="#8ee88a" stroke-width="1.7999999999999998" fill="none" stroke-linecap="round" stroke-linejoin="round"/>
<path d="M1179.1,611.3l-1.6,10.9 -5.9,5.6 -7.6,-1.4" stroke="#8ee88a" stroke-width="1.7999999999999998" fill="none" stroke-linecap="round" stroke-linejoin="round"/>
<path d="M1229.6,677.3 C1228.7,678.3 1226.6,682.1 1224.4,683.4 C1222.3,684.7 1219.1,684.2 1216.6,685.2 C1214.2,686.2 1212.1,688.0 1209.8,689.3 C1207.5,690.7 1205.2,692.7 1202.8,693.2 C1200.3,693.6 1195.2,693.0 1194.9,692.0 C1194.5,690.9 1199.3,688.8 1200.9,686.7 C1202.5,684.6 1202.6,681.5 1204.2,679.4 C1205.8,677.4 1208.1,675.1 1210.5,674.5 C1212.8,673.8 1215.8,674.9 1218.4,675.5 C1221.0,676.2 1224.4,676.6 1225.9,678.4 C1227.3,680.2 1228.3,684.7 1227.2,686.3 C1226.1,687.9 1221.7,688.6 1219.4,688.0 C1217.1,687.5 1214.8,685.0 1213.3,682.9 C1211.7,680.8 1209.5,677.7 1209.9,675.6 C1210.4,673.5 1213.7,671.6 1215.9,670.3 C1218.2,669.0 1220.9,668.0 1223.5,667.8 C1226.1,667.6 1228.9,668.4 1231.4,669.3 C1233.9,670.1 1236.8,671.1 1238.5,672.9 C1240.2,674.7 1240.7,677.8 1241.9,680.2 C1243.0,682.6 1245.6,685.4 1245.2,687.5 C1244.7,689.5 1241.0,690.9 1238.9,692.5 C1236.8,694.1 1234.8,696.9 1232.4,697.2 C1230.1,697.5 1227.4,695.4 1225.0,694.3 C1222.5,693.3 1220.4,691.2 1217.9,690.7 C1215.3,690.1 1212.3,690.5 1209.9,691.3 C1207.4,692.1 1205.3,694.1 1203.2,695.6 C1201.0,697.2 1198.8,698.8 1197.0,700.8 C1195.3,702.7 1194.7,706.1 1192.7,707.5 C1190.6,708.9 1187.3,709.6 1184.9,709.3 C1182.4,708.9 1180.4,705.6 1177.9,705.3 C1175.5,704.9 1172.6,706.2 1170.1,707.1 C1167.7,708.0 1165.5,709.8 1163.1,710.9 C1160.7,712.0 1157.7,712.2 1155.6,713.7 C1153.5,715.2 1152.5,718.1 1150.6,719.9 C1148.7,721.8 1144.1,724.6 1144.1,724.7 C1144.1,724.7 1148.8,722.0 1150.7,720.2 C1152.7,718.4 1153.9,714.0 1155.6,713.8 C1157.4,713.7 1159.3,717.7 1161.3,719.5 C1163.3,721.3 1165.3,723.0 1167.4,724.7 C1169.4,726.5 1172.4,729.1 1173.4,729.9" stroke="#8ee88a" stroke-width="1.7999999999999998" fill="none" stroke-linecap="round" stroke-linejoin="round"/>
<path d="M1315.9,628.5 C1317.0,627.8 1320.7,625.9 1322.6,624.1 C1324.4,622.3 1325.3,619.4 1327.1,617.5 C1328.9,615.6 1331.2,612.6 1333.4,612.5 C1335.5,612.5 1337.5,616.9 1339.8,617.3 C1342.2,617.7 1344.9,615.5 1347.5,614.9 C1350.1,614.4 1352.8,614.3 1355.4,614.0 C1358.1,613.7 1360.8,612.9 1363.4,613.1 C1366.0,613.3 1368.5,614.6 1371.1,615.3 C1373.7,615.9 1378.7,617.5 1378.9,617.2 C1379.0,616.9 1374.1,614.7 1371.9,613.3 C1369.6,611.9 1367.6,610.1 1365.3,608.7 C1363.1,607.3 1359.8,606.8 1358.3,604.8 C1356.8,602.9 1355.9,599.5 1356.2,597.1 C1356.6,594.7 1360.6,592.6 1360.6,590.4 C1360.5,588.2 1357.3,586.1 1355.9,583.9 C1354.4,581.7 1352.7,579.5 1351.7,577.0 C1350.8,574.6 1349.1,571.0 1350.1,569.2 C1351.0,567.4 1356.6,568.1 1357.5,566.3 C1358.5,564.5 1356.2,561.1 1355.9,558.5 C1355.6,555.8 1356.6,552.8 1355.6,550.5 C1354.7,548.2 1351.8,546.8 1350.1,544.7 C1348.4,542.7 1346.8,538.2 1345.3,538.3 C1343.9,538.3 1343.1,543.3 1341.4,545.2 C1339.6,547.1 1336.7,550.1 1334.8,549.8 C1332.9,549.5 1331.0,545.8 1330.0,543.4 C1329.0,541.1 1328.7,538.1 1328.9,535.5 C1329.2,532.9 1330.2,530.2 1331.4,527.9 C1332.7,525.6 1335.2,521.5 1336.5,521.7 C1337.9,521.9 1338.6,526.6 1339.6,529.1 C1340.5,531.6 1340.5,535.3 1342.3,536.7 C1344.1,538.0 1347.6,537.0 1350.3,537.3 C1352.9,537.6 1355.9,537.3 1358.2,538.4 C1360.5,539.4 1362.8,541.5 1364.2,543.6 C1365.7,545.7 1366.6,548.5 1367.0,551.1 C1367.3,553.7 1366.0,556.6 1366.5,559.1 C1367.0,561.7 1368.9,563.9 1369.7,566.4 C1370.5,569.0 1370.5,571.7 1371.3,574.3 C1372.1,576.8 1375.1,580.7 1374.4,581.7 C1373.6,582.6 1367.9,581.4 1366.6,579.8 C1365.3,578.1 1366.5,573.1 1366.5,571.8" stroke="#8ee88a" stroke-width="1.7999999999999998" fill="none" stroke-linecap="round" stroke-linejoin="round"/>
<path d="M1218.8,649.7 C1218.6,648.3 1218.8,644.1 1217.8,641.7 C1216.8,639.4 1214.5,635.6 1212.7,635.5 C1211.0,635.5 1207.9,639.2 1207.4,641.5 C1206.9,643.8 1209.6,646.6 1209.5,649.2 C1209.5,651.7 1207.2,654.2 1207.0,656.8 C1206.8,659.4 1206.8,663.4 1208.4,664.7 C1209.9,665.9 1213.7,664.6 1216.4,664.3 C1219.0,663.9 1223.3,661.5 1224.2,662.4 C1225.0,663.4 1223.3,669.3 1221.6,670.0 C1220.0,670.8 1215.4,668.7 1214.3,666.9 C1213.2,665.0 1214.4,661.5 1215.0,658.9 C1215.6,656.3 1217.6,653.9 1217.7,651.4 C1217.9,648.9 1216.2,646.3 1215.8,643.6 C1215.5,641.0 1214.9,638.1 1215.6,635.6 C1216.3,633.2 1218.2,630.9 1220.0,628.9 C1221.7,626.9 1224.2,623.3 1225.9,623.6 C1227.6,623.8 1228.6,628.3 1230.3,630.3 C1232.0,632.3 1234.1,634.0 1236.3,635.6 C1238.5,637.1 1241.0,638.1 1243.3,639.3 C1245.7,640.5 1248.3,643.1 1250.5,642.8 C1252.7,642.5 1254.3,639.0 1256.5,637.6 C1258.7,636.1 1262.7,636.0 1263.7,634.0 C1264.8,632.1 1263.4,628.7 1263.0,626.1 C1262.5,623.5 1262.2,620.6 1261.0,618.3 C1259.7,616.1 1256.6,614.9 1255.4,612.6 C1254.3,610.3 1253.1,606.7 1254.1,604.7 C1255.0,602.7 1260.7,602.6 1261.1,600.9 C1261.4,599.2 1257.0,596.9 1256.2,594.5 C1255.4,592.1 1257.3,588.8 1256.3,586.5 C1255.3,584.3 1251.8,583.4 1250.4,581.2 C1248.9,579.1 1249.5,575.3 1247.8,573.6 C1246.2,571.9 1241.8,572.6 1240.4,570.8 C1238.9,569.0 1238.1,564.5 1239.2,562.9 C1240.3,561.2 1244.4,561.5 1247.0,561.0 C1249.6,560.5 1252.8,561.2 1254.9,560.0 C1257.1,558.8 1258.4,555.9 1259.9,553.7 C1261.3,551.4 1263.7,548.8 1263.5,546.6 C1263.2,544.3 1259.7,542.6 1258.4,540.4 C1257.1,538.1 1255.2,535.2 1255.5,532.9 C1255.8,530.6 1259.4,527.6 1260.2,526.5" stroke="#8ee88a" stroke-width="1.7999999999999998" fill="none" stroke-linecap="round" stroke-linejoin="round"/>
<path d="M1302.3,548.5 C1301.1,549.0 1297.2,552.0 1295.0,551.7 C1292.7,551.3 1290.5,548.6 1288.8,546.6 C1287.2,544.5 1286.4,541.8 1285.2,539.5 C1283.9,537.1 1281.9,535.0 1281.1,532.6 C1280.3,530.1 1280.0,527.2 1280.3,524.6 C1280.7,522.0 1281.6,519.2 1283.2,517.1 C1284.7,515.1 1287.4,513.9 1289.6,512.4 C1291.8,510.9 1293.9,508.5 1296.3,508.0 C1298.7,507.6 1301.6,508.8 1304.2,509.6 C1306.7,510.4 1310.0,511.0 1311.5,512.8 C1312.9,514.7 1314.0,519.4 1312.9,520.7 C1311.8,522.0 1306.1,522.0 1304.9,520.7 C1303.8,519.4 1306.8,515.2 1306.2,512.8 C1305.7,510.4 1303.5,508.2 1301.7,506.2 C1300.0,504.2 1297.4,500.6 1295.8,500.8 C1294.1,501.1 1291.6,505.6 1291.8,507.8 C1292.0,509.9 1295.1,513.2 1297.2,513.6 C1299.4,514.1 1302.1,511.3 1304.6,510.6 C1307.2,509.9 1309.9,509.5 1312.6,509.5 C1315.2,509.4 1318.3,511.2 1320.5,510.3 C1322.7,509.5 1325.8,504.4 1326.0,504.5 C1326.1,504.6 1323.3,509.4 1321.2,510.9 C1319.2,512.4 1316.2,512.8 1313.6,513.3 C1311.0,513.7 1308.2,514.0 1305.6,513.5 C1303.0,513.1 1300.6,511.7 1298.2,510.5 C1295.8,509.3 1291.3,507.3 1291.5,506.2 C1291.6,505.1 1296.7,503.7 1299.1,503.9 C1301.6,504.2 1303.8,506.5 1306.2,507.7 C1308.6,508.9 1310.9,510.8 1313.4,511.1 C1315.9,511.5 1319.1,511.0 1321.3,509.7 C1323.5,508.5 1325.8,503.4 1326.6,503.8 C1327.5,504.1 1327.7,510.4 1326.3,511.8 C1325.0,513.1 1320.5,512.7 1318.3,511.7 C1316.2,510.6 1315.4,505.7 1313.5,505.3 C1311.5,505.0 1308.8,508.0 1306.6,509.5 C1304.4,511.0 1302.5,513.0 1300.3,514.4 C1298.1,515.8 1295.0,516.3 1293.2,518.2 C1291.5,520.0 1289.8,523.1 1289.9,525.4 C1290.1,527.8 1292.1,531.3 1294.2,532.2 C1296.2,533.2 1300.8,531.3 1302.1,531.1" stroke="#8ee88a" stroke-width="1.7999999999999998" fill="none" stroke-linecap="round" stroke-linejoin="round"/>
<path d="M1313.5,626.2 C1314.8,626.5 1320.6,626.4 1321.3,627.9 C1321.9,629.3 1318.1,632.3 1317.3,634.8 C1316.6,637.3 1316.5,640.2 1316.8,642.8 C1317.1,645.4 1317.5,648.6 1319.1,650.5 C1320.7,652.3 1323.8,653.1 1326.3,654.0 C1328.8,654.9 1331.4,655.5 1334.1,655.8 C1336.7,656.1 1340.6,654.3 1342.1,655.6 C1343.6,656.9 1341.6,662.0 1343.1,663.6 C1344.6,665.1 1349.4,663.4 1351.0,665.0 C1352.6,666.5 1352.5,670.2 1352.6,672.8 C1352.8,675.4 1351.1,680.5 1351.8,680.8 C1352.4,681.0 1355.8,676.8 1356.6,674.4 C1357.5,672.0 1355.7,668.3 1357.0,666.4 C1358.2,664.5 1361.6,663.6 1364.2,662.9 C1366.7,662.1 1369.5,662.4 1372.1,661.8 C1374.7,661.2 1379.7,659.7 1379.6,659.1 C1379.6,658.4 1374.0,659.0 1371.7,657.8 C1369.5,656.7 1368.1,653.8 1366.1,652.1 C1364.1,650.3 1360.5,649.4 1359.7,647.3 C1358.9,645.2 1359.7,640.5 1361.3,639.5 C1362.9,638.4 1366.6,640.4 1369.2,641.1 C1371.7,641.7 1375.1,641.8 1376.8,643.5 C1378.4,645.2 1380.0,650.0 1379.0,651.2 C1378.1,652.4 1372.9,652.1 1371.0,650.9 C1369.1,649.6 1368.0,646.1 1367.7,643.6 C1367.4,641.1 1367.7,637.2 1369.3,635.8 C1370.9,634.3 1377.1,635.5 1377.2,634.7 C1377.4,633.9 1372.6,632.0 1370.2,630.9 C1367.8,629.9 1365.2,628.2 1362.7,628.2 C1360.2,628.2 1357.2,631.6 1355.2,631.0 C1353.2,630.3 1351.5,626.7 1350.9,624.2 C1350.2,621.8 1349.9,617.3 1351.3,616.2 C1352.7,615.2 1356.5,617.3 1359.1,617.9 C1361.7,618.5 1366.1,618.2 1366.9,619.7 C1367.7,621.3 1365.0,624.7 1364.1,627.2 C1363.3,629.7 1363.3,632.7 1361.9,634.9 C1360.6,637.1 1358.2,638.7 1356.0,640.3 C1353.9,641.9 1351.6,644.0 1349.2,644.4 C1346.7,644.8 1344.0,642.8 1341.3,642.7 C1338.7,642.6 1334.7,643.5 1333.4,643.6" stroke="#8ee88a" stroke-width="1.7999999999999998" fill="none" stroke-linecap="round" stroke-linejoin="round"/>
<path d="M1178.9,658.8l-4,-1.6 -3.6,-5.2 -1.1,-6.9 2.4,-6 5.5,-3" stroke="#8ee88a" stroke-width="1.5" fill="none" stroke-linecap="round" stroke-linejoin="round"/>
<path d="M1191.9,649.3l-3.6,-0.3 -4.1,-4.1 -2.2,-6.5 1.2,-6.6 4.6,-4.2" stroke="#8ee88a" stroke-width="1.5" fill="none" stroke-linecap="round" stroke-linejoin="round"/>
<path d="M1201.6,640.4l-4.2,-2.8 -3.1,-5.9 -0.1,-6.9 3.5,-5.3" stroke="#8ee88a" stroke-width="1.5" fill="none" stroke-linecap="round" stroke-linejoin="round"/>
<path d="M1214.7,631.3l-4,-1.5 -3.7,-5 -1.3,-6.8 2.3,-6.1 5.4,-3.2" stroke="#8ee88a" stroke-width="1.5" fill="none" stroke-linecap="round" stroke-linejoin="round"/>
<path d="M1227.6,621.7l-3.5,-0.1 -4.1,-3.9 -2.3,-6.4 1,-6.7 4.4,-4.4" stroke="#8ee88a" stroke-width="1.5" fill="none" stroke-linecap="round" stroke-linejoin="round"/>
<path d="M1237.4,612.9l-4.2,-2.6 -3.2,-5.8 -0.2,-6.9" stroke="#8ee88a" stroke-width="1.5" fill="none" stroke-linecap="round" stroke-linejoin="round"/>
<path d="M1179.8,652l1.3,4.6 -2.2,2.2" stroke="#8ee88a" stroke-width="3.0" fill="none" stroke-linecap="round" stroke-linejoin="round"/>
<path d="M1178.1,636.1l6.7,1 5.6,4 2.5,4.9 -1,3.3" stroke="#8ee88a" stroke-width="3.0" fill="none" stroke-linecap="round" stroke-linejoin="round"/>
<path d="M1187.8,627.6l6.5,-0.4 6.3,3.1 3.7,4.9 0.2,4.1 -2.9,1.1" stroke="#8ee88a" stroke-width="3.0" fill="none" stroke-linecap="round" stroke-linejoin="round"/>
<path d="M1197.7,619.5l6.1,-1.8 6.6,2 4.8,4.5 1.5,4.7 -2,2.4" stroke="#8ee88a" stroke-width="3.0" fill="none" stroke-linecap="round" stroke-linejoin="round"/>
<path d="M1213.4,608.7l6.7,0.7 5.6,3.9 2.8,5 -0.9,3.4" stroke="#8ee88a" stroke-width="3.0" fill="none" stroke-linecap="round" stroke-linejoin="round"/>
<path d="M1223.1,600.2l6.5,-0.6 6.3,2.9 3.9,4.9 0.4,4.2 -2.8,1.3" stroke="#8ee88a" stroke-width="3.0" fill="none" stroke-linecap="round" stroke-linejoin="round"/>
<path d="M1240.0,642.0 C1240.5,644.3 1241.8,651.0 1243.0,656.0 C1244.2,661.0 1245.5,668.5 1247.0,672.0 C1248.5,675.5 1250.5,677.7 1252.0,677.0 C1253.5,676.3 1255.7,672.5 1256.0,668.0 C1256.3,663.5 1253.0,656.0 1254.0,650.0 C1255.0,644.0 1259.3,637.3 1262.0,632.0 C1264.7,626.7 1268.7,620.3 1270.0,618.0" stroke="#8ee88a" stroke-width="1.68" fill="none" stroke-linecap="round" stroke-linejoin="round"/>
<path d="M1281.0,650.0 C1282.5,652.3 1286.8,659.8 1290.0,664.0 C1293.2,668.2 1297.0,671.7 1300.0,675.0 C1303.0,678.3 1305.8,681.5 1308.0,684.0 C1310.2,686.5 1311.7,690.0 1313.0,690.0 C1314.3,690.0 1316.3,686.3 1316.0,684.0 C1315.7,681.7 1311.8,677.3 1311.0,676.0" stroke="#8ee88a" stroke-width="1.68" fill="none" stroke-linecap="round" stroke-linejoin="round"/>
<path d="M1276.0,625.0 C1278.7,627.5 1287.2,635.5 1292.0,640.0 C1296.8,644.5 1302.0,650.7 1305.0,652.0 C1308.0,653.3 1310.8,651.3 1310.0,648.0 C1309.2,644.7 1303.3,636.7 1300.0,632.0 C1296.7,627.3 1290.8,625.3 1290.0,620.0 C1289.2,614.7 1291.7,604.7 1295.0,600.0 C1298.3,595.3 1305.5,592.3 1310.0,592.0 C1314.5,591.7 1319.0,594.7 1322.0,598.0 C1325.0,601.3 1327.0,609.7 1328.0,612.0" stroke="#8ee88a" stroke-width="1.68" fill="none" stroke-linecap="round" stroke-linejoin="round"/>
<path d="M1336.0,575.0 C1337.5,577.5 1341.0,584.8 1345.0,590.0 C1349.0,595.2 1355.5,600.2 1360.0,606.0 C1364.5,611.8 1369.3,620.3 1372.0,625.0 C1374.7,629.7 1377.2,632.5 1376.0,634.0 C1374.8,635.5 1369.0,634.7 1365.0,634.0 C1361.0,633.3 1355.3,633.7 1352.0,630.0 C1348.7,626.3 1347.3,618.7 1345.0,612.0 C1342.7,605.3 1339.2,593.7 1338.0,590.0" stroke="#8ee88a" stroke-width="1.68" fill="none" stroke-linecap="round" stroke-linejoin="round"/>
<path d="M1300.0,590.0 C1302.0,589.0 1307.8,584.0 1312.0,584.0 C1316.2,584.0 1321.5,587.3 1325.0,590.0 C1328.5,592.7 1331.8,596.3 1333.0,600.0 C1334.2,603.7 1333.8,609.3 1332.0,612.0 C1330.2,614.7 1323.7,615.3 1322.0,616.0" stroke="#8ee88a" stroke-width="1.68" fill="none" stroke-linecap="round" stroke-linejoin="round"/>
<path d="M1272.3,615.8l1.6,-4.1 5.1,-2.9 6.6,0.4 5.7,4.1 2.6,6.5" stroke="#8ee88a" stroke-width="1.296" fill="none" stroke-linecap="round" stroke-linejoin="round"/>
<path d="M1280.5,629.6l0.5,-4.1 4.3,-3.4 6.5,-0.6 6.1,3.1 3.6,6" stroke="#8ee88a" stroke-width="1.296" fill="none" stroke-linecap="round" stroke-linejoin="round"/>
<path d="M1288.4,639.4l3.4,-3.9 6,-1.5 6.6,2.1 4.4,5.3" stroke="#8ee88a" stroke-width="1.296" fill="none" stroke-linecap="round" stroke-linejoin="round"/>
<path d="M1296.1,653.3l2.3,-4.1 5.6,-2.4 6.6,1 5.3,4.6 1.9,6.8" stroke="#8ee88a" stroke-width="1.296" fill="none" stroke-linecap="round" stroke-linejoin="round"/>
<path d="M1274.4,618.9l-2.1,-3.1" stroke="#8ee88a" stroke-width="2.16" fill="none" stroke-linecap="round" stroke-linejoin="round"/>
<path d="M1293.9,619.8l-1.3,6.7 -4.2,4.5 -4.9,1 -3,-2.4" stroke="#8ee88a" stroke-width="2.16" fill="none" stroke-linecap="round" stroke-linejoin="round"/>
<path d="M1301.5,630.6l-0.2,6.9 -3.6,5.3 -5,2 -3.7,-1.5 -0.6,-3.9" stroke="#8ee88a" stroke-width="2.16" fill="none" stroke-linecap="round" stroke-linejoin="round"/>
<path d="M1308.8,641.4l0.9,7 -2.8,5.9 -4.9,3.1 -4.3,-0.7 -1.6,-3.4" stroke="#8ee88a" stroke-width="2.16" fill="none" stroke-linecap="round" stroke-linejoin="round"/>
<path d="M1317.8,659.2l-1.9,6.4" stroke="#8ee88a" stroke-width="2.16" fill="none" stroke-linecap="round" stroke-linejoin="round"/>
<path d="M1288,434.7l3.5,-6.5 5.4,-3.6 6.1,0.5 5.2,5 3.1,8.5 0.2,10.6 -2.7,10.5" stroke="#8ee88a" stroke-width="1.1340000000000001" fill="none" stroke-linecap="round" stroke-linejoin="round"/>
<path d="M1284.1,455.4l3.5,-6.6 5.4,-3.6 6,0.5 5.3,4.9 3.1,8.6 0.2,10.5 -2.7,10.6" stroke="#8ee88a" stroke-width="1.1340000000000001" fill="none" stroke-linecap="round" stroke-linejoin="round"/>
<path d="M1280.2,476.1l3.4,-6.6 5.4,-3.6 6.1,0.4 5.2,4.9 3.2,8.5 0.3,10.5 -2.7,10.6" stroke="#8ee88a" stroke-width="1.1340000000000001" fill="none" stroke-linecap="round" stroke-linejoin="round"/>
<path d="M1276.3,496.8l3.4,-6.6 5.4,-3.7 6,0.5 5.3,4.8 3.2,8.4 0.3,10.6 -2.7,10.5" stroke="#8ee88a" stroke-width="1.1340000000000001" fill="none" stroke-linecap="round" stroke-linejoin="round"/>
<path d="M1272.4,517.6l3.4,-6.7 5.3,-3.7 6.1,0.4 5.3,4.7 3.2,8.5 0.3,10.5 -2.6,10.6" stroke="#8ee88a" stroke-width="1.1340000000000001" fill="none" stroke-linecap="round" stroke-linejoin="round"/>
<path d="M1268.4,538.3l3.4,-6.7 5.4,-3.8 6,0.4 5.3,4.7 3.3,8.4 0.3,10.5 -2.6,10.6" stroke="#8ee88a" stroke-width="1.1340000000000001" fill="none" stroke-linecap="round" stroke-linejoin="round"/>
<path d="M1264.5,559l3.4,-6.7 5.3,-3.8 6.1,0.3" stroke="#8ee88a" stroke-width="1.1340000000000001" fill="none" stroke-linecap="round" stroke-linejoin="round"/>
<path d="M1312.6,439.2l-5.2,8.4 -6.5,4.8 -6.4,0.3 -4.9,-3.7 -2.3,-6.6 0.7,-7.7" stroke="#8ee88a" stroke-width="2.52" fill="none" stroke-linecap="round" stroke-linejoin="round"/>
<path d="M1308.8,459.7l-5.3,8.5 -6.5,4.8 -6.4,0.4 -4.9,-3.7 -2.3,-6.6 0.7,-7.7" stroke="#8ee88a" stroke-width="2.52" fill="none" stroke-linecap="round" stroke-linejoin="round"/>
<path d="M1304.9,480.3l-5.2,8.4 -6.5,4.9 -6.4,0.4 -4.9,-3.6 -2.4,-6.6 0.7,-7.7" stroke="#8ee88a" stroke-width="2.52" fill="none" stroke-linecap="round" stroke-linejoin="round"/>
<path d="M1301.1,500.8l-5.2,8.5 -6.5,4.9 -6.4,0.5 -5,-3.6 -2.4,-6.6 0.7,-7.7" stroke="#8ee88a" stroke-width="2.52" fill="none" stroke-linecap="round" stroke-linejoin="round"/>
<path d="M1297.2,521.3l-5.1,8.6 -6.5,4.9 -6.5,0.6 -4.9,-3.6 -2.4,-6.6 0.6,-7.6" stroke="#8ee88a" stroke-width="2.52" fill="none" stroke-linecap="round" stroke-linejoin="round"/>
<path d="M1293.4,541.9l-5.2,8.5 -6.4,5 -6.5,0.6 -5,-3.5 -2.4,-6.6 0.5,-7.6" stroke="#8ee88a" stroke-width="2.52" fill="none" stroke-linecap="round" stroke-linejoin="round"/>
<path d="M1289.5,562.4l-5.1,8.6 -6.5,5 -6.4,0.7 -5,-3.6 -2.5,-6.5 0.5,-7.6" stroke="#8ee88a" stroke-width="2.52" fill="none" stroke-linecap="round" stroke-linejoin="round"/>
<path d="M1276.0,568.0 C1274.7,569.7 1270.3,574.3 1268.0,578.0 C1265.7,581.7 1265.0,586.7 1262.0,590.0 C1259.0,593.3 1253.7,595.5 1250.0,598.0 C1246.3,600.5 1241.7,603.8 1240.0,605.0" stroke="#8ee88a" stroke-width="1.68" fill="none" stroke-linecap="round" stroke-linejoin="round"/>
</g>
<g opacity="0.6" transform="translate(1771,107) scale(0.82,0.83) translate(-1202,-129)">
<path d="M1226.0,168.0 C1228.3,165.0 1234.0,154.7 1240.0,150.0 C1246.0,145.3 1254.5,142.7 1262.0,140.0 C1269.5,137.3 1280.0,136.0 1285.0,134.0 C1290.0,132.0 1287.8,128.7 1292.0,128.0 C1296.2,127.3 1304.5,128.7 1310.0,130.0 C1315.5,131.3 1320.3,132.7 1325.0,136.0 C1329.7,139.3 1334.5,144.7 1338.0,150.0 C1341.5,155.3 1343.7,163.3 1346.0,168.0 C1348.3,172.7 1350.3,174.3 1352.0,178.0 C1353.7,181.7 1355.3,188.0 1356.0,190.0" stroke="#8ee88a" stroke-width="1.3" fill="none" stroke-linecap="round" stroke-linejoin="round"/>
<path d="M1232.0,160.0 C1235.0,158.3 1245.5,152.7 1250.0,150.0 C1254.5,147.3 1257.5,145.0 1259.0,144.0" stroke="#8ee88a" stroke-width="1.6" fill="none" stroke-linecap="round" stroke-linejoin="round"/>
<path d="M1262.0,176.0 C1263.0,173.3 1264.2,163.3 1268.0,160.0 C1271.8,156.7 1280.5,156.0 1285.0,156.0 C1289.5,156.0 1292.8,156.8 1295.0,160.0 C1297.2,163.2 1298.2,170.0 1298.0,175.0 C1297.8,180.0 1294.7,187.5 1294.0,190.0" stroke="#8ee88a" stroke-width="1.7" fill="none" stroke-linecap="round" stroke-linejoin="round"/>
<path d="M1250.0,185.0 C1252.0,183.8 1257.0,178.8 1262.0,178.0 C1267.0,177.2 1275.3,178.3 1280.0,180.0 C1284.7,181.7 1289.7,185.5 1290.0,188.0 C1290.3,190.5 1286.2,193.8 1282.0,195.0 C1277.8,196.2 1270.0,195.8 1265.0,195.0 C1260.0,194.2 1254.2,190.8 1252.0,190.0" stroke="#8ee88a" stroke-width="1.5" fill="none" stroke-linecap="round" stroke-linejoin="round"/>
<path d="M1365.0,200.0 C1366.7,197.0 1370.5,185.7 1375.0,182.0 C1379.5,178.3 1386.5,177.3 1392.0,178.0 C1397.5,178.7 1403.7,182.7 1408.0,186.0 C1412.3,189.3 1417.0,193.7 1418.0,198.0 C1419.0,202.3 1417.3,209.2 1414.0,212.0 C1410.7,214.8 1402.8,215.7 1398.0,215.0 C1393.2,214.3 1387.2,209.2 1385.0,208.0" stroke="#8ee88a" stroke-width="1.4" fill="none" stroke-linecap="round" stroke-linejoin="round"/>
<path d="M1340.0,190.0 C1342.5,191.7 1350.8,197.0 1355.0,200.0 C1359.2,203.0 1363.3,206.7 1365.0,208.0" stroke="#8ee88a" stroke-width="1.3" fill="none" stroke-linecap="round" stroke-linejoin="round"/>
<path d="M1212.5,168.1l1.5,0.8 2.9,1 4.1,1.4 4.7,1.8 4.8,2.1 4.2,2.5 3.2,2.6 1.8,2.6 0.2,2.7" stroke="#8ee88a" stroke-width="1.35" fill="none" stroke-linecap="round" stroke-linejoin="round"/>
<path d="M1208.6,198l1.8,0.9 3.2,1.1 4.1,1.5 4.7,1.8 4.7,2.1 4.3,2.5 3.3,2.6 2,2.7 0.4,2.6" stroke="#8ee88a" stroke-width="1.35" fill="none" stroke-linecap="round" stroke-linejoin="round"/>
<path d="M1202.8,228.7l1,0.6 2.5,0.9 3.8,1.3 4.7,1.6 5.1,1.9 4.9,2.3 4.4,2.5 3.3,2.7 1.8,2.7 0.3,2.7" stroke="#8ee88a" stroke-width="1.35" fill="none" stroke-linecap="round" stroke-linejoin="round"/>
<path d="M1199.2,260.5l1.3,0.6 2.9,1 4,1.3 4.9,1.7 5.2,2 4.9,2.3 4.1,2.6 2.8,2.8 1.3,2.7 -0.4,2.6" stroke="#8ee88a" stroke-width="1.35" fill="none" stroke-linecap="round" stroke-linejoin="round"/>
<path d="M1197.5,291.1l1.1,0.7 2.6,0.9 4,1.3 4.8,1.7 5,2.1 4.7,2.3 3.8,2.6 2.5,2.7 0.8,2.7 -0.9,2.6" stroke="#8ee88a" stroke-width="1.35" fill="none" stroke-linecap="round" stroke-linejoin="round"/>
<path d="M1196.4,320.8l2.5,0.9 3.9,1.2 4.9,1.6 5.2,2.1 4.9,2.4 4,2.6 2.4,2.8 0.7,2.8" stroke="#8ee88a" stroke-width="1.35" fill="none" stroke-linecap="round" stroke-linejoin="round"/>
<path d="M1192.9,348.5l1.5,0.6 3.3,1 4.7,1.4 5.5,1.8 5.6,2.2 4.9,2.6 3.7,2.8 2,2.9 -0.1,2.7" stroke="#8ee88a" stroke-width="1.35" fill="none" stroke-linecap="round" stroke-linejoin="round"/>
<path d="M1190.5,377l2,0.7 3.7,1 4.9,1.5 5.6,1.8 5.6,2.3 4.9,2.6 3.7,2.8 2,2.8 0.1,2.8" stroke="#8ee88a" stroke-width="1.35" fill="none" stroke-linecap="round" stroke-linejoin="round"/>
<path d="M1190.2,407.2l2.4,0.9 3.8,1.2 4.8,1.5 5.1,2 5,2.2 4.3,2.5 3.2,2.7 1.9,2.7 0.2,2.6" stroke="#8ee88a" stroke-width="1.35" fill="none" stroke-linecap="round" stroke-linejoin="round"/>
<path d="M1218.6,166.6l-3.7,0.5 -2.1,0.5 -0.3,0.5" stroke="#8ee88a" stroke-width="3.0" fill="none" stroke-linecap="round" stroke-linejoin="round"/>
<path d="M1239.9,185.6l-1.4,2.4 -3,2.2 -4.1,1.9 -4.9,1.5 -5.1,1.1 -4.8,0.9 -4.1,0.7 -2.8,0.5 -1.3,0.6 0.2,0.6" stroke="#8ee88a" stroke-width="3.0" fill="none" stroke-linecap="round" stroke-linejoin="round"/>
<path d="M1237.1,215.8l-1.1,2.5 -2.7,2.3 -3.9,2 -4.9,1.6 -5.3,1.3 -5.2,1 -4.6,0.7 -3.7,0.5 -2.2,0.5 -0.7,0.5" stroke="#8ee88a" stroke-width="3.0" fill="none" stroke-linecap="round" stroke-linejoin="round"/>
<path d="M1234.6,247.9l-1.5,2.6 -3,2.3 -4.3,1.9 -5.1,1.6 -5.5,1.2 -5.4,0.9 -4.7,0.6 -3.5,0.5 -2,0.5 -0.4,0.5" stroke="#8ee88a" stroke-width="3.0" fill="none" stroke-linecap="round" stroke-linejoin="round"/>
<path d="M1230.2,280.1l-2.1,2.5 -3.6,2.1 -4.7,1.7 -5.3,1.4 -5.3,1.1 -4.9,0.7 -3.7,0.5 -2.4,0.5 -0.7,0.5" stroke="#8ee88a" stroke-width="3.0" fill="none" stroke-linecap="round" stroke-linejoin="round"/>
<path d="M1225.9,310.7l-2.7,2.3 -4,2 -5,1.5 -5.3,1.2 -5.1,0.9 -4.2,0.6 -2.8,0.5 -1.1,0.4 0.7,0.7" stroke="#8ee88a" stroke-width="3.0" fill="none" stroke-linecap="round" stroke-linejoin="round"/>
<path d="M1224.9,337.2l-1.3,2.5 -3,2.3 -4.5,1.9 -5.4,1.5 -5.7,1.1 -5.2,0.7 -4,0.5 -2.5,0.3 -0.4,0.5" stroke="#8ee88a" stroke-width="3.0" fill="none" stroke-linecap="round" stroke-linejoin="round"/>
<path d="M1224,366.5l-2.1,2.6 -3.8,2.2 -5.2,1.7 -5.8,1.3 -5.8,1 -5.1,0.5 -3.8,0.4 -1.9,0.4 0,0.4" stroke="#8ee88a" stroke-width="3.0" fill="none" stroke-linecap="round" stroke-linejoin="round"/>
<path d="M1223,395.3l-1.7,2.5 -3.5,2.3 -4.7,1.8 -5.4,1.5 -5.6,1 -5.1,0.8 -4.1,0.5 -2.6,0.4 -1,0.5 0.9,0.6" stroke="#8ee88a" stroke-width="3.0" fill="none" stroke-linecap="round" stroke-linejoin="round"/>
<path d="M1220.9,425.5l-1.3,2.5 -2.8,2.2 -3.9,1.9 -4.7,1.6 -4.9,1.2" stroke="#8ee88a" stroke-width="3.0" fill="none" stroke-linecap="round" stroke-linejoin="round"/>
<path d="M1239.7,190.2l3.8,4.7 5.8,3.7 7,2.6 7.1,1.2 6.4,0 4.7,-1 2.4,-1.7 -0.1,-1.8" stroke="#8ee88a" stroke-width="1.35" fill="none" stroke-linecap="round" stroke-linejoin="round"/>
<path d="M1243.9,213.2l1.9,4.5 3.8,3.9 5.2,3 5.9,2 5.7,0.8 4.7,0 3.2,-0.8 1.3,-1.2 -0.9,-1.2" stroke="#8ee88a" stroke-width="1.35" fill="none" stroke-linecap="round" stroke-linejoin="round"/>
<path d="M1245.4,241.1l1.8,4.3 3.7,3.9 5,3 5.8,2.1 5.8,1.1 5.1,0.1 3.8,-0.6 2.1,-1.2 0,-1.3" stroke="#8ee88a" stroke-width="1.35" fill="none" stroke-linecap="round" stroke-linejoin="round"/>
<path d="M1244.9,269.1l1.4,4.3 2.9,3.9 4.2,3.3 5,2.5 5.2,1.6 4.9,0.9 4.1,0.1 3,-0.4 1.5,-0.6 0.1,-0.8" stroke="#8ee88a" stroke-width="1.35" fill="none" stroke-linecap="round" stroke-linejoin="round"/>
<path d="M1251,301.3l1.2,3.4 2.1,3.1 3,2.6 3.4,2.2 3.6,1.6 3.4,1 2.8,0.6 2.1,0.1 1.1,-0.1 -0.1,-0.1" stroke="#8ee88a" stroke-width="1.35" fill="none" stroke-linecap="round" stroke-linejoin="round"/>
<path d="M1251.1,332l1.1,3.7 2.5,3.4 3.7,2.8 4.4,2.2 4.6,1.3 4.2,0.4 3.2,-0.2 1.7,-0.7 -0.2,-0.9" stroke="#8ee88a" stroke-width="1.35" fill="none" stroke-linecap="round" stroke-linejoin="round"/>
<path d="M1249.1,359.2l1.6,4.1 3.2,3.6 4.5,2.8 5.1,1.9 4.9,0.9 3.9,0.1 2.5,-0.5 0.7,-0.8 -1.1,-0.7" stroke="#8ee88a" stroke-width="1.35" fill="none" stroke-linecap="round" stroke-linejoin="round"/>
<path d="M1252.1,387.2l1.8,3.4 2.9,2.9 3.6,2.2 3.7,1.6 3.5,0.9 2.8,0.4 1.7,-0.1 0.5,-0.2" stroke="#8ee88a" stroke-width="1.35" fill="none" stroke-linecap="round" stroke-linejoin="round"/>
<path d="M1250.1,413.4l0.5,3.5 1.8,3.5 3,3 3.8,2.5 4.2,1.7 4.2,1.1 3.8,0.4 2.8,-0.2 1.5,-0.5 0.1,-0.8" stroke="#8ee88a" stroke-width="1.35" fill="none" stroke-linecap="round" stroke-linejoin="round"/>
<path d="M1244.4,447l1.8,4 3.2,3.6 4.3,3 5,2.2 5.1,1.4 4.7,0.6 3.8,-0.1 2.6,-0.6" stroke="#8ee88a" stroke-width="1.35" fill="none" stroke-linecap="round" stroke-linejoin="round"/>
<path d="M1243.3,175.2l-3.8,4.7 -1.2,5.2 1.4,5.1" stroke="#8ee88a" stroke-width="3.0" fill="none" stroke-linecap="round" stroke-linejoin="round"/>
<path d="M1276.8,197.9l-2.6,-1.4 -4.7,-0.7 -5.9,0.3 -6.3,1.6 -5.9,2.7 -4.5,3.8 -2.7,4.4 -0.3,4.6" stroke="#8ee88a" stroke-width="3.0" fill="none" stroke-linecap="round" stroke-linejoin="round"/>
<path d="M1274.7,224.2l-2.8,-0.8 -4.4,-0.1 -5.3,0.8 -5.5,1.8 -5.1,2.9 -3.9,3.6 -2.2,4.3 -0.1,4.4" stroke="#8ee88a" stroke-width="3.0" fill="none" stroke-linecap="round" stroke-linejoin="round"/>
<path d="M1278.5,252.5l-1.9,-1.2 -3.7,-0.6 -4.9,0.1 -5.6,1.1 -5.7,2 -5.1,3 -3.9,3.6 -2.3,4.2 -0.5,4.4" stroke="#8ee88a" stroke-width="3.0" fill="none" stroke-linecap="round" stroke-linejoin="round"/>
<path d="M1277.2,283.9l-1.4,-0.5 -2.6,-0.2 -3.5,0.3 -4.1,1 -4.1,1.6 -3.9,2.3 -3.2,2.8 -2.2,3.2 -1.2,3.5 0,3.4" stroke="#8ee88a" stroke-width="3.0" fill="none" stroke-linecap="round" stroke-linejoin="round"/>
<path d="M1273.6,315.7l-1.2,-0.1 -2.2,0.2 -3.2,0.6 -3.6,1.2 -3.9,1.8 -3.5,2.5 -2.8,3 -1.8,3.5 -0.3,3.6" stroke="#8ee88a" stroke-width="3.0" fill="none" stroke-linecap="round" stroke-linejoin="round"/>
<path d="M1276.3,344l-1.9,-0.7 -3.6,-0.2 -4.7,0.6 -5.2,1.5 -5,2.5 -3.9,3.3 -2.4,4 -0.5,4.2" stroke="#8ee88a" stroke-width="3.0" fill="none" stroke-linecap="round" stroke-linejoin="round"/>
<path d="M1274.4,370.6l-2.7,-0.3 -3.9,0.3 -4.5,1.2 -4.3,2.1 -3.7,2.7 -2.5,3.4 -1.1,3.6 0.4,3.6" stroke="#8ee88a" stroke-width="3.0" fill="none" stroke-linecap="round" stroke-linejoin="round"/>
<path d="M1272.6,398.3l-0.8,-0.2 -2,0.1 -2.9,0.5 -3.6,1 -3.8,1.7 -3.6,2.2 -3,2.9 -2,3.3 -0.8,3.6" stroke="#8ee88a" stroke-width="3.0" fill="none" stroke-linecap="round" stroke-linejoin="round"/>
<path d="M1275.8,427.6l-1.4,-0.7 -2.9,-0.3 -4,0.2 -4.8,0.9 -5.1,1.6 -4.8,2.5 -4.1,3.2 -3,3.7 -1.4,4.1 0.1,4.2" stroke="#8ee88a" stroke-width="3.0" fill="none" stroke-linecap="round" stroke-linejoin="round"/>
<path d="M1271.3,167.8l1.3,-0.8 3.9,-0.5 5.8,0.1 7.1,1.1 7.2,2 6.2,3 4.3,3.7 1.6,4.2 -1.3,4.2" stroke="#8ee88a" stroke-width="1.35" fill="none" stroke-linecap="round" stroke-linejoin="round"/>
<path d="M1269.9,192.8l4.1,-0.6 6.1,0.1 7.4,1 7.3,2.1 6.2,3.1 4,3.8 1.3,4.1 -1.7,4.1" stroke="#8ee88a" stroke-width="1.35" fill="none" stroke-linecap="round" stroke-linejoin="round"/>
<path d="M1269.9,219.1l1.7,-0.7 4,-0.2 5.6,0.5 6.2,1.4 6,2.2 4.7,3 2.8,3.4 0.5,3.7" stroke="#8ee88a" stroke-width="1.35" fill="none" stroke-linecap="round" stroke-linejoin="round"/>
<path d="M1273,244.8l1.3,-0.1 2.8,0.3 4,0.8 4.6,1.3 4.3,2 3.6,2.5 2.4,2.8 0.9,3.1 -0.8,3" stroke="#8ee88a" stroke-width="1.35" fill="none" stroke-linecap="round" stroke-linejoin="round"/>
<path d="M1275.1,271.6l1.2,0.4 2.3,0.6 3.2,1 3.7,1.4 3.5,1.8 3.1,2.3 2.3,2.7 1,2.8 -0.2,2.9" stroke="#8ee88a" stroke-width="1.35" fill="none" stroke-linecap="round" stroke-linejoin="round"/>
<path d="M1273.7,299.8l1.7,0.3 2.9,0.5 3.9,1 4.3,1.4 4.3,2 3.8,2.5 2.7,2.9 1.3,3.1 -0.3,3.3" stroke="#8ee88a" stroke-width="1.35" fill="none" stroke-linecap="round" stroke-linejoin="round"/>
<path d="M1269.6,328.2l2.3,-0.2 4.1,0.1 5.3,0.7 6,1.4 5.9,2.2 5.1,2.8 3.6,3.4 1.6,3.8 -0.7,3.9" stroke="#8ee88a" stroke-width="1.35" fill="none" stroke-linecap="round" stroke-linejoin="round"/>
<path d="M1266.2,356.7l1.7,-0.8 4,-0.5 5.9,0.2 7.1,1 7.3,1.9 6.4,2.8 4.8,3.6 2.4,4.1 -0.4,4.1" stroke="#8ee88a" stroke-width="1.35" fill="none" stroke-linecap="round" stroke-linejoin="round"/>
<path d="M1267.8,383.5l2.5,-0.8 4.9,-0.3 6.5,0.5 7.1,1.4 6.8,2.4 5.3,3.2 3.2,3.8 0.6,4" stroke="#8ee88a" stroke-width="1.35" fill="none" stroke-linecap="round" stroke-linejoin="round"/>
<path d="M1272.6,409.4l2.1,-0.4 4.1,0.1 5.3,0.8 5.9,1.5 5.3,2.3 4.1,2.9 2.3,3.3 0.2,3.5" stroke="#8ee88a" stroke-width="1.35" fill="none" stroke-linecap="round" stroke-linejoin="round"/>
<path d="M1278.2,434.9l1.9,0.2 3.3,0.5 4.2,1.1 4.3,1.6" stroke="#8ee88a" stroke-width="1.35" fill="none" stroke-linecap="round" stroke-linejoin="round"/>
<path d="M1307.4,184.8l-4.1,3.9 -6.3,3.2 -7.5,2.2 -7.7,1.2 -6.7,0.2 -4.6,-0.6 -1.8,-1 1.2,-1.1" stroke="#8ee88a" stroke-width="3.0" fill="none" stroke-linecap="round" stroke-linejoin="round"/>
<path d="M1304.6,210.5l-4.3,3.7 -6.2,3 -7.1,1.9 -6.9,1 -5.7,0.2 -3.5,-0.5 -1,-0.7" stroke="#8ee88a" stroke-width="3.0" fill="none" stroke-linecap="round" stroke-linejoin="round"/>
<path d="M1301.4,232.4l-1.8,3.5 -3.6,3.2 -5,2.5 -5.5,1.8 -5.2,1 -4.1,0.5 -2.5,0 -0.7,-0.1" stroke="#8ee88a" stroke-width="3.0" fill="none" stroke-linecap="round" stroke-linejoin="round"/>
<path d="M1296.1,260.5l-2.1,2.9 -3.2,2.5 -3.9,2 -4,1.4 -3.5,1.1 -2.7,0.6 -1.5,0.4 -0.1,0.2" stroke="#8ee88a" stroke-width="3.0" fill="none" stroke-linecap="round" stroke-linejoin="round"/>
<path d="M1295.2,287.5l-1.5,2.8 -2.6,2.5 -3.4,2.2 -3.8,1.8 -3.7,1.3 -3.3,0.8 -2.3,0.5 -1.1,0.2 0.2,0.2" stroke="#8ee88a" stroke-width="3.0" fill="none" stroke-linecap="round" stroke-linejoin="round"/>
<path d="M1298.3,316.8l-1.9,3.2 -3.4,2.8 -4.5,2.4 -5.1,1.8 -5,1.2 -4.5,0.6 -3.2,0 -1.5,-0.2 0.4,-0.4" stroke="#8ee88a" stroke-width="3.0" fill="none" stroke-linecap="round" stroke-linejoin="round"/>
<path d="M1302.8,346.3l-2.9,3.6 -4.8,3.2 -6.2,2.5 -6.7,1.6 -6.5,0.8 -5.2,0.1 -3.3,-0.6 -1,-0.8" stroke="#8ee88a" stroke-width="3.0" fill="none" stroke-linecap="round" stroke-linejoin="round"/>
<path d="M1305.4,373.1l-3,4 -5.3,3.4 -6.8,2.5 -7.3,1.6 -6.7,0.7 -5.3,-0.2 -2.9,-0.7 -0.3,-0.9" stroke="#8ee88a" stroke-width="3.0" fill="none" stroke-linecap="round" stroke-linejoin="round"/>
<path d="M1304.7,397.7l-2.1,3.8 -4.3,3.4 -5.8,2.6 -6.4,1.8 -6,0.9 -4.6,0.1 -2.7,-0.3 -0.2,-0.6" stroke="#8ee88a" stroke-width="3.0" fill="none" stroke-linecap="round" stroke-linejoin="round"/>
<path d="M1301.9,423.4l-1.9,3.3 -3.5,2.9 -4.5,2.2 -4.8,1.6 -4.3,1 -3.2,0.4 -1.6,0.1 0.1,0" stroke="#8ee88a" stroke-width="3.0" fill="none" stroke-linecap="round" stroke-linejoin="round"/>
<path d="M1299.5,203.4l2.8,3 4.1,2.3 4.8,1.5 4.9,0.7 4.3,0.1 3.1,-0.3 1.5,-0.5 -0.3,-0.3" stroke="#8ee88a" stroke-width="1.35" fill="none" stroke-linecap="round" stroke-linejoin="round"/>
<path d="M1298.8,228.4l1.5,3.4 3.4,2.9 4.7,2.2 5.5,1.3 5.6,0.4 4.8,-0.2 3.4,-0.8 1.4,-0.9 -0.7,-0.6" stroke="#8ee88a" stroke-width="1.35" fill="none" stroke-linecap="round" stroke-linejoin="round"/>
<path d="M1296.1,256.6l2.1,3.9 4.2,3.1 5.8,2.3 6.6,1.2 6.6,0.3 5.7,-0.6 4,-1 2,-1.1 -0.3,-1" stroke="#8ee88a" stroke-width="1.35" fill="none" stroke-linecap="round" stroke-linejoin="round"/>
<path d="M1299.8,285.9l2.7,3.4 4.3,2.8 5.4,1.9 5.8,1 5.6,0.4 4.7,-0.3 3.3,-0.6 1.7,-0.8 -0.1,-0.5" stroke="#8ee88a" stroke-width="1.35" fill="none" stroke-linecap="round" stroke-linejoin="round"/>
<path d="M1303.5,313.8l1.8,3.6 3.4,3 4.9,2.3 5.6,1.5 6,0.7 5.5,0 4.5,-0.6 2.9,-0.9 1,-0.9" stroke="#8ee88a" stroke-width="1.35" fill="none" stroke-linecap="round" stroke-linejoin="round"/>
<path d="M1306.2,346.1l3.6,3.4 5.4,2.6 6.4,1.7 6.8,0.7 6.3,-0.2 5.1,-0.7 3.2,-1.2 1.1,-1.1 -1.1,-0.7" stroke="#8ee88a" stroke-width="1.35" fill="none" stroke-linecap="round" stroke-linejoin="round"/>
<path d="M1312.8,370.6l2,3.5 3.8,2.9 5.1,2.2 5.6,1.3 5.6,0.5 4.9,-0.2 3.5,-0.5 1.9,-0.6 -0.1,-0.5" stroke="#8ee88a" stroke-width="1.35" fill="none" stroke-linecap="round" stroke-linejoin="round"/>
<path d="M1322.1,400.3l3.3,2.9 4.6,2.2 5.5,1.4 5.6,0.6 4.9,-0.1 3.7,-0.6 1.9,-0.7 -0.1,-0.6" stroke="#8ee88a" stroke-width="1.35" fill="none" stroke-linecap="round" stroke-linejoin="round"/>
<path d="M1325.5,424.6l2.7,3.5 4.5,2.8 5.8,1.8 6.2,0.9 5.9,0 4.6,-0.5 2.9,-0.9 0.7,-0.8" stroke="#8ee88a" stroke-width="1.35" fill="none" stroke-linecap="round" stroke-linejoin="round"/>
<path d="M1335.7,451.5l3.2,2.8 4.4,2.1 5,1.4 4.9,0.7 4.3,0.1 3.1,-0.1 1.7,-0.3 0.2,-0.1" stroke="#8ee88a" stroke-width="1.35" fill="none" stroke-linecap="round" stroke-linejoin="round"/>
<path d="M1302.2,192.3l-2.8,3.7 -0.9,3.8 1,3.6" stroke="#8ee88a" stroke-width="3.0" fill="none" stroke-linecap="round" stroke-linejoin="round"/>
<path d="M1324.7,209.9l-2.1,0.1 -3.5,0.7 -4.6,1.4 -4.9,2.3 -4.6,2.9 -3.7,3.5 -2.2,3.8 -0.3,3.8" stroke="#8ee88a" stroke-width="3.0" fill="none" stroke-linecap="round" stroke-linejoin="round"/>
<path d="M1328.4,236.1l-2.8,-0.2 -4.7,0.6 -5.7,1.5 -6.2,2.5 -5.7,3.4 -4.5,4 -2.5,4.4 -0.2,4.3" stroke="#8ee88a" stroke-width="3.0" fill="none" stroke-linecap="round" stroke-linejoin="round"/>
<path d="M1332.8,263.7l-2.6,-0.5 -4.4,0.4 -5.6,1.2 -6.1,2.2 -5.9,3.1 -4.8,3.7 -3.2,4.1 -1.3,4.1 0.9,3.9" stroke="#8ee88a" stroke-width="3.0" fill="none" stroke-linecap="round" stroke-linejoin="round"/>
<path d="M1333.2,293.2l-1.9,-0.2 -3.4,0.5 -4.6,1.1 -5,1.9 -5.1,2.7 -4.5,3.2 -3.4,3.7 -1.8,3.9 0,3.8" stroke="#8ee88a" stroke-width="3.0" fill="none" stroke-linecap="round" stroke-linejoin="round"/>
<path d="M1339.1,322.5l-1.1,-0.7 -3,-0.1 -4.6,0.6 -5.7,1.5 -6,2.5 -5.7,3.2 -4.6,3.9 -2.9,4.3 -0.8,4.3 1.5,4.1" stroke="#8ee88a" stroke-width="3.0" fill="none" stroke-linecap="round" stroke-linejoin="round"/>
<path d="M1343,350.6l-3.2,-0.1 -4.7,0.7 -5.7,1.6 -5.7,2.6 -5.1,3.3 -3.9,3.8 -2,4.1 0.1,4" stroke="#8ee88a" stroke-width="3.0" fill="none" stroke-linecap="round" stroke-linejoin="round"/>
<path d="M1345.1,379.2l-1.8,0 -3.3,0.6 -4.3,1.3 -4.7,2.1 -4.4,2.8 -3.5,3.4 -2.2,3.7 -0.3,3.7 1.5,3.5" stroke="#8ee88a" stroke-width="3.0" fill="none" stroke-linecap="round" stroke-linejoin="round"/>
<path d="M1351.5,405.4l-2.2,-0.2 -3.8,0.6 -5,1.5 -5.3,2.4 -4.8,3.2 -3.6,3.8 -1.7,4 0.4,3.9" stroke="#8ee88a" stroke-width="3.0" fill="none" stroke-linecap="round" stroke-linejoin="round"/>
<path d="M1358.8,431.4l-1.3,-0.4 -3.2,0.3 -4.5,1.2 -5,2 -4.6,2.8 -3.7,3.4 -2.1,3.7 -0.3,3.7 1.6,3.4" stroke="#8ee88a" stroke-width="3.0" fill="none" stroke-linecap="round" stroke-linejoin="round"/>
<path d="M1362.5,458.1l-1.3,0.3" stroke="#8ee88a" stroke-width="3.0" fill="none" stroke-linecap="round" stroke-linejoin="round"/>
<path d="M1331.9,230.9l3,1.4 3,1.9 2.8,2.4 2,2.9 1.1,3.2 -0.1,3.3" stroke="#8ee88a" stroke-width="1.1700000000000002" fill="none" stroke-linecap="round" stroke-linejoin="round"/>
<path d="M1323.3,257.1l0.6,-0.4 2.1,-0.2 3.3,0.4 4.2,1.1 4.4,2 4,2.8 3,3.6 1.4,3.9 -0.4,4.1" stroke="#8ee88a" stroke-width="1.1700000000000002" fill="none" stroke-linecap="round" stroke-linejoin="round"/>
<path d="M1319.6,281.9l3,-0.8 4.8,0 5.8,1.2 5.9,2.4 4.9,3.5 3.1,4.4 0.7,4.7" stroke="#8ee88a" stroke-width="1.1700000000000002" fill="none" stroke-linecap="round" stroke-linejoin="round"/>
<path d="M1317.6,306.4l3,-1.1 5.1,-0.1 6,1.1 6.1,2.4 4.9,3.6 3,4.3 0.6,4.6" stroke="#8ee88a" stroke-width="1.1700000000000002" fill="none" stroke-linecap="round" stroke-linejoin="round"/>
<path d="M1318.3,331.3l2.3,-0.7 3.9,0 4.8,1 5,2 4.2,2.9 3,3.6 1.2,3.9 -0.6,3.9" stroke="#8ee88a" stroke-width="1.1700000000000002" fill="none" stroke-linecap="round" stroke-linejoin="round"/>
<path d="M1320.1,357.6l1.5,-0.1 2.6,0.3 3.3,1 3.6,1.6 3.4,2.3 2.7,2.8 1.7,3.1 0.5,3.4 -0.7,3.3" stroke="#8ee88a" stroke-width="1.1700000000000002" fill="none" stroke-linecap="round" stroke-linejoin="round"/>
<path d="M1319.8,385.5l0.9,0 1.9,0.2 2.8,0.8 3.3,1.3 3.4,1.9 3.1,2.5 2.3,3.1 1.2,3.3 0,3.4" stroke="#8ee88a" stroke-width="1.1700000000000002" fill="none" stroke-linecap="round" stroke-linejoin="round"/>
<path d="M1317.1,413.1l0.8,-0.5 2.2,-0.1 3.5,0.4 4.3,1.3" stroke="#8ee88a" stroke-width="1.1700000000000002" fill="none" stroke-linecap="round" stroke-linejoin="round"/>
<path d="M1343.7,246l-1.2,3.1 -2.4,2.9 -3.2,2.3 -3.7,1.7 -3.6,1.1 -3.2,0.4 -2.2,-0.1 -0.9,-0.3" stroke="#8ee88a" stroke-width="2.6" fill="none" stroke-linecap="round" stroke-linejoin="round"/>
<path d="M1345.9,274.4l-2.4,3.8 -4,3.2 -5.2,2.2 -5.4,1.2 -4.9,0.2 -3.5,-0.7 -1.6,-1.2 0.7,-1.2" stroke="#8ee88a" stroke-width="2.6" fill="none" stroke-linecap="round" stroke-linejoin="round"/>
<path d="M1347.8,297.3l-1.9,4.6 -4.2,3.8 -5.8,2.8 -6.4,1.5 -5.9,0.2 -4.4,-0.8 -2.1,-1.5 0.5,-1.5" stroke="#8ee88a" stroke-width="2.6" fill="none" stroke-linecap="round" stroke-linejoin="round"/>
<path d="M1346.3,321.2l-1.8,4.5 -4,3.7 -5.4,2.7 -5.8,1.5 -5.3,0.3 -3.9,-0.5 -2,-1 0.2,-1.1" stroke="#8ee88a" stroke-width="2.6" fill="none" stroke-linecap="round" stroke-linejoin="round"/>
<path d="M1342.1,347.9l-2.2,3.5 -3.5,2.9 -4.2,2.1 -4.3,1.3 -3.7,0.6 -2.8,0 -1.4,-0.3 0.1,-0.4" stroke="#8ee88a" stroke-width="2.6" fill="none" stroke-linecap="round" stroke-linejoin="round"/>
<path d="M1338.7,375.3l-1.9,3 -2.7,2.6 -3.3,2 -3.5,1.4 -3.1,0.9 -2.5,0.3 -1.5,0.1 -0.4,-0.1" stroke="#8ee88a" stroke-width="2.6" fill="none" stroke-linecap="round" stroke-linejoin="round"/>
<path d="M1338.7,402l-1.4,3.4 -2.6,2.9 -3.5,2.4 -3.9,1.7 -3.9,1 -3.2,0.3 -2.3,-0.2 -0.8,-0.4" stroke="#8ee88a" stroke-width="2.6" fill="none" stroke-linecap="round" stroke-linejoin="round"/>
<path d="M1340.4,203.6l4.3,0.2 4.9,0.6 4.9,1.1 4.4,1.6 3.5,1.9 2.4,2.4 1.2,2.5 0.1,2.7" stroke="#8ee88a" stroke-width="1.35" fill="none" stroke-linecap="round" stroke-linejoin="round"/>
<path d="M1349.1,233.8l1.2,0.4 2.3,0.4 3.4,0.4 4.2,0.7 4.5,1.1 4.4,1.6 3.6,2 2.5,2.6 0.8,2.9" stroke="#8ee88a" stroke-width="1.35" fill="none" stroke-linecap="round" stroke-linejoin="round"/>
<path d="M1355.6,261.9l2.1,0.2 3.2,0.4 4.1,0.7 4.4,1 4.3,1.6 3.5,2 2.3,2.6 0.7,2.9" stroke="#8ee88a" stroke-width="1.35" fill="none" stroke-linecap="round" stroke-linejoin="round"/>
<path d="M1355,287.1l3,-0.6 5.2,-0.3 6.6,0.2 7,0.9 6,1.9 4.3,2.7 1.8,3.3 -0.7,3.7" stroke="#8ee88a" stroke-width="1.35" fill="none" stroke-linecap="round" stroke-linejoin="round"/>
<path d="M1359.5,313.1l1.8,-0.1 3.3,0 4.5,0.2 5.3,0.5 5.5,1.1 5.1,1.7 4.2,2.2 2.7,2.8 1,3.2" stroke="#8ee88a" stroke-width="1.35" fill="none" stroke-linecap="round" stroke-linejoin="round"/>
<path d="M1360.1,343.5l2.2,-0.1 3.6,0 4.4,0.4 4.9,0.7 4.7,1.3 4.1,1.7 3.3,2.1 2.1,2.5 0.8,2.8 -0.4,2.9" stroke="#8ee88a" stroke-width="1.35" fill="none" stroke-linecap="round" stroke-linejoin="round"/>
<path d="M1364.8,373.7l1.6,0 3.2,0.1 4.5,0.3 5.2,0.8 5,1.5 4.1,2.1 2.5,2.7 0.6,3.1" stroke="#8ee88a" stroke-width="1.35" fill="none" stroke-linecap="round" stroke-linejoin="round"/>
<path d="M1368.5,399.8l1.1,0.4 2.3,0.5" stroke="#8ee88a" stroke-width="1.35" fill="none" stroke-linecap="round" stroke-linejoin="round"/>
<path d="M1366.1,216.6l-0.8,2.6 -1.6,2.6 -2.1,2.4 -2.5,2.1 -2.6,2 -2.5,1.7 -2.3,1.4 -1.7,1 -0.9,0.9 0,0.5" stroke="#8ee88a" stroke-width="3.0" fill="none" stroke-linecap="round" stroke-linejoin="round"/>
<path d="M1376,245.9l-0.8,3 -2.3,3 -3.4,2.8 -4.1,2.4 -4,1.8 -3.4,1.3 -2.2,0.9 -0.9,0.5 0.7,0.3" stroke="#8ee88a" stroke-width="3.0" fill="none" stroke-linecap="round" stroke-linejoin="round"/>
<path d="M1380.2,273.3l-1.2,3.2 -3,3.2 -4.6,2.9 -5.3,2.3 -5.2,1.6 -4.2,0.9 -2.1,0.1 0.4,-0.4" stroke="#8ee88a" stroke-width="3.0" fill="none" stroke-linecap="round" stroke-linejoin="round"/>
<path d="M1388.2,298.9l-2.9,3.6 -4.6,3.2 -5.5,2.8 -5.5,2.1 -4.8,1.4 -3.5,0.8 -1.8,0.3 -0.1,0" stroke="#8ee88a" stroke-width="3.0" fill="none" stroke-linecap="round" stroke-linejoin="round"/>
<path d="M1392.9,324.7l-1,3.5 -2.8,3.5 -4.3,3.2 -5.4,2.9 -5.7,2.4 -5.4,1.7 -4.5,1.1 -3,0.5 -1.3,0.1 0.6,-0.1" stroke="#8ee88a" stroke-width="3.0" fill="none" stroke-linecap="round" stroke-linejoin="round"/>
<path d="M1389.8,357.8l-1.6,3 -2.7,2.8 -3.5,2.7 -4.1,2.3 -4.2,2 -3.8,1.4 -3.1,1 -1.8,0.6 -0.2,0.1" stroke="#8ee88a" stroke-width="3.0" fill="none" stroke-linecap="round" stroke-linejoin="round"/>
<path d="M1391.5,384.3l-1.5,3.2 -3.1,3.2 -4.2,2.8 -4.6,2.3 -4.2,1.7 -3.2,1.1 -1.9,0.8 -0.3,0.4" stroke="#8ee88a" stroke-width="3.0" fill="none" stroke-linecap="round" stroke-linejoin="round"/>
<path d="M1379.7,221.3l1.5,1.1 2.9,1.1 3.7,1.4 4.2,1.5 3.8,1.8 3.1,2.1 1.6,2.2 0.1,2.3" stroke="#8ee88a" stroke-width="1.35" fill="none" stroke-linecap="round" stroke-linejoin="round"/>
<path d="M1376.1,247.3l1.3,0.9 2.9,1.1 4,1.2 4.5,1.5 4.3,1.8 3.5,1.9 2.3,2.2 0.7,2.2 -0.8,2.3" stroke="#8ee88a" stroke-width="1.35" fill="none" stroke-linecap="round" stroke-linejoin="round"/>
<path d="M1375.7,276l1.6,1.1 2.6,1.2 3.2,1.3 3.5,1.5 3.5,1.7 3,1.8 2.4,2 1.5,2.1 0.4,2.1" stroke="#8ee88a" stroke-width="1.35" fill="none" stroke-linecap="round" stroke-linejoin="round"/>
<path d="M1374.6,308.1l1.5,1.1 2.6,1.2 3.5,1.2 4,1.5 4.1,1.7 3.9,1.8 3,2.1 1.9,2.2 0.4,2.3" stroke="#8ee88a" stroke-width="1.35" fill="none" stroke-linecap="round" stroke-linejoin="round"/>
<path d="M1371,337.1l2.3,0.8 4.2,0.9 5.6,1.2 6.2,1.5 5.8,1.9 4.7,2.2 2.8,2.5 0.3,2.5" stroke="#8ee88a" stroke-width="1.35" fill="none" stroke-linecap="round" stroke-linejoin="round"/>
<path d="M1370.2,363.1l2,0.7 4.1,0.8 5.5,1.2 6.2,1.4 5.9,1.8 4.9,2.1 3.2,2.3 1.3,2.4 -0.8,2.5" stroke="#8ee88a" stroke-width="1.35" fill="none" stroke-linecap="round" stroke-linejoin="round"/>
<path d="M1375.1,391.8l2,1 3.2,1.1 3.9,1.3 4.2,1.4 4.2,1.7 3.7,1.9 2.9,2 1.9,2.1 0.8,2.2 -0.4,2.1" stroke="#8ee88a" stroke-width="1.35" fill="none" stroke-linecap="round" stroke-linejoin="round"/>
<path d="M1379.6,424l1.7,1.1 2.6,1.1 3.5,1.3 4,1.5 4.1,1.6 3.8,1.8 3,2.1 2,2.1 0.5,2.3" stroke="#8ee88a" stroke-width="1.35" fill="none" stroke-linecap="round" stroke-linejoin="round"/>
<path d="M1394.5,213.4l-3.8,1.8 -3.8,1.5 -3.4,1.4 -2.6,1.1 -1.4,1.1 0.2,1" stroke="#8ee88a" stroke-width="3.0" fill="none" stroke-linecap="round" stroke-linejoin="round"/>
<path d="M1400.6,234.8l-1.7,2.2 -3.2,2.2 -4.3,1.9 -4.7,1.7 -4.5,1.4 -3.6,1.2 -2.1,1 -0.4,0.9" stroke="#8ee88a" stroke-width="3.0" fill="none" stroke-linecap="round" stroke-linejoin="round"/>
<path d="M1398.8,262.4l-2.3,2.2 -3.3,2 -4.1,1.9 -4.2,1.6 -3.8,1.4 -3.1,1.3 -2,1.1 -0.8,1 0.5,1.1" stroke="#8ee88a" stroke-width="3.0" fill="none" stroke-linecap="round" stroke-linejoin="round"/>
<path d="M1397.4,290.8l-0.6,2.1 -1.6,2.1 -2.4,2 -3.1,1.9 -3.4,1.7 -3.5,1.6 -3.3,1.4 -2.6,1.3 -1.9,1.1 -0.8,1.1 0.4,1" stroke="#8ee88a" stroke-width="3.0" fill="none" stroke-linecap="round" stroke-linejoin="round"/>
<path d="M1399.5,323.2l-1.2,2.3 -2.8,2.2 -4.1,2.1 -5,1.8 -5.2,1.6 -4.8,1.3 -3.6,1 -1.9,0.8 0.1,0.8" stroke="#8ee88a" stroke-width="3.0" fill="none" stroke-linecap="round" stroke-linejoin="round"/>
<path d="M1402.9,350.6l-2,2.6 -4.3,2.3 -5.8,2.1 -6.4,1.7 -6.1,1.4 -4.8,1 -2.8,0.8 -0.5,0.6" stroke="#8ee88a" stroke-width="3.0" fill="none" stroke-linecap="round" stroke-linejoin="round"/>
<path d="M1402.5,378.3l-2.6,2.3 -4,2.2 -4.9,1.9 -5,1.7 -4.6,1.4 -3.7,1.1 -2.4,1 -0.9,1 0.7,0.9" stroke="#8ee88a" stroke-width="3.0" fill="none" stroke-linecap="round" stroke-linejoin="round"/>
<path d="M1401.5,408.6l-1.4,2.2 -2.4,2 -3.1,1.9 -3.5,1.8 -3.5,1.5 -3.3,1.5 -2.6,1.2 -1.8,1.2 -0.7,1.1 0.4,1" stroke="#8ee88a" stroke-width="3.0" fill="none" stroke-linecap="round" stroke-linejoin="round"/>
<path d="M1404.8,438.9l-0.9,2.2 -2.2,2.1" stroke="#8ee88a" stroke-width="3.0" fill="none" stroke-linecap="round" stroke-linejoin="round"/>
<path d="M1205.0,432.0 C1206.5,433.3 1211.8,436.2 1214.0,440.0 C1216.2,443.8 1216.2,449.2 1218.0,455.0 C1219.8,460.8 1222.7,469.2 1225.0,475.0 C1227.3,480.8 1229.5,489.5 1232.0,490.0 C1234.5,490.5 1237.8,483.8 1240.0,478.0 C1242.2,472.2 1243.3,461.3 1245.0,455.0 C1246.7,448.7 1249.2,442.5 1250.0,440.0" stroke="#8ee88a" stroke-width="1.3" fill="none" stroke-linecap="round" stroke-linejoin="round"/>
<path d="M1258.0,455.0 C1260.0,455.8 1265.5,460.8 1270.0,460.0 C1274.5,459.2 1280.0,453.7 1285.0,450.0 C1290.0,446.3 1297.5,440.0 1300.0,438.0" stroke="#8ee88a" stroke-width="1.3" fill="none" stroke-linecap="round" stroke-linejoin="round"/>
<path d="M1318.0,440.0 C1318.0,443.3 1316.8,455.0 1318.0,460.0 C1319.2,465.0 1321.3,468.7 1325.0,470.0 C1328.7,471.3 1335.5,469.7 1340.0,468.0 C1344.5,466.3 1350.0,461.3 1352.0,460.0" stroke="#8ee88a" stroke-width="1.3" fill="none" stroke-linecap="round" stroke-linejoin="round"/>
<path d="M1352.0,460.0 C1353.7,461.7 1358.7,469.2 1362.0,470.0 C1365.3,470.8 1369.0,468.7 1372.0,465.0 C1375.0,461.3 1376.7,452.2 1380.0,448.0 C1383.3,443.8 1388.7,443.8 1392.0,440.0 C1395.3,436.2 1397.8,430.0 1400.0,425.0 C1402.2,420.0 1404.2,412.5 1405.0,410.0" stroke="#8ee88a" stroke-width="1.3" fill="none" stroke-linecap="round" stroke-linejoin="round"/>
<path d="M1385.0,400.0 C1384.2,404.2 1382.2,418.7 1380.0,425.0 C1377.8,431.3 1375.0,437.2 1372.0,438.0 C1369.0,438.8 1363.7,431.3 1362.0,430.0" stroke="#8ee88a" stroke-width="1.3" fill="none" stroke-linecap="round" stroke-linejoin="round"/>
</g>
<path d="M1880,560 L1915,640" stroke="#8ee88a" stroke-width="1.5" fill="none" stroke-dasharray="4,4"/>
<path d="M1891.6,449.5l2.5,3.3 3.1,3.5 3.5,3.2 3.6,2.3 3.4,1 3,-0.5" stroke="#3ee81e" stroke-width="2.16" fill="none" stroke-linecap="round" stroke-linejoin="round"/>
<path d="M1913.9,435.3l1.1,1.7 2,2.8 2.6,3.4 3.2,3.5 3.6,3 3.6,2 3.3,0.7 2.9,-0.9" stroke="#3ee81e" stroke-width="2.16" fill="none" stroke-linecap="round" stroke-linejoin="round"/>
<path d="M1939,425.2l1.3,1.9 2.1,3 2.8,3.4 3.3,3.5 3.6,2.8 3.6,1.7 3.2,0.3 2.7,-1.2" stroke="#3ee81e" stroke-width="2.16" fill="none" stroke-linecap="round" stroke-linejoin="round"/>
<path d="M1963.4,414.1l0.7,0.9 1.5,2.3 2.3,3.1 2.9,3.5 3.5,3.3 3.6,2.7 3.5,1.4 3.1,-0.1 2.5,-1.5" stroke="#3ee81e" stroke-width="2.16" fill="none" stroke-linecap="round" stroke-linejoin="round"/>
<path d="M1988.4,403.8l0.9,1.2 1.7,2.5 2.4,3.2 3.1,3.6 3.5,3.2 3.6,2.4 3.4,1.1 3,-0.4" stroke="#3ee81e" stroke-width="2.16" fill="none" stroke-linecap="round" stroke-linejoin="round"/>
<path d="M2013.4,393.5l1.1,1.5 1.9,2.7 2.6,3.4 3.2,3.5 3.5,3.1 3.6,2.1 3.4,0.8 2.8,-0.8" stroke="#3ee81e" stroke-width="2.16" fill="none" stroke-linecap="round" stroke-linejoin="round"/>
<path d="M2038.5,383.3l1.3,1.8 2,2.9 2.8,3.5 3.3,3.4 3.5,2.9 3.6,1.8 3.3,0.5 2.7,-1.1" stroke="#3ee81e" stroke-width="2.16" fill="none" stroke-linecap="round" stroke-linejoin="round"/>
<path d="M2063,372.3l0.6,0.8 1.5,2.2 2.2,3 2.9,3.5 3.4,3.4 3.6,2.7 3.5,1.5 3.2,0.1 2.5,-1.4" stroke="#3ee81e" stroke-width="2.16" fill="none" stroke-linecap="round" stroke-linejoin="round"/>
<path d="M1910.7,462.3l2.3,-2.1 1.5,-3.3 0.8,-4.4 0,-4.7 -0.4,-4.6 -0.6,-4 -0.6,-2.7 -0.2,-1.4 0.4,0.2" stroke="#3ee81e" stroke-width="4.8" fill="none" stroke-linecap="round" stroke-linejoin="round"/>
<path d="M1936.2,451.5l2.1,-2.4 1.3,-3.6 0.6,-4.5 0,-4.8 -0.5,-4.5 -0.7,-3.7 -0.5,-2.4 0,-1 0.5,0.6" stroke="#3ee81e" stroke-width="4.8" fill="none" stroke-linecap="round" stroke-linejoin="round"/>
<path d="M1961.6,440.6l2,-2.7 1.1,-3.8 0.5,-4.6 -0.2,-4.8 -0.6,-4.4 -0.6,-3.4 -0.4,-2.1 0,-0.7" stroke="#3ee81e" stroke-width="4.8" fill="none" stroke-linecap="round" stroke-linejoin="round"/>
<path d="M1987,429.7l1.8,-3 1,-4.1 0.3,-4.7 -0.3,-4.7 -0.6,-4.2 -0.6,-3.2 -0.4,-1.8 0.2,-0.2" stroke="#3ee81e" stroke-width="4.8" fill="none" stroke-linecap="round" stroke-linejoin="round"/>
<path d="M2010,420.6l2.4,-2 1.6,-3.2 0.8,-4.3 0.1,-4.7 -0.4,-4.7 -0.6,-4 -0.6,-2.9 -0.2,-1.4 0.3,0.1" stroke="#3ee81e" stroke-width="4.8" fill="none" stroke-linecap="round" stroke-linejoin="round"/>
<path d="M2035.5,409.8l2.2,-2.2 1.5,-3.6 0.6,-4.4 0,-4.8 -0.5,-4.5 -0.6,-3.8 -0.5,-2.6 -0.2,-1.1 0.5,0.5" stroke="#3ee81e" stroke-width="4.8" fill="none" stroke-linecap="round" stroke-linejoin="round"/>
<path d="M2061,399l2,-2.6 1.3,-3.8 0.4,-4.6 -0.1,-4.7 -0.5,-4.4 -0.7,-3.6 -0.4,-2.2 0,-0.8" stroke="#3ee81e" stroke-width="4.8" fill="none" stroke-linecap="round" stroke-linejoin="round"/>
<path d="M2086.4,388.1l1.9,-2.9 1,-4.1 0.3,-4.6 -0.2,-4.7 -0.6,-4.3 -0.6,-3.3" stroke="#3ee81e" stroke-width="4.8" fill="none" stroke-linecap="round" stroke-linejoin="round"/>
<path d="M1885.6,489.5l2.5,3.3 3.1,3.5 3.5,3.2 3.6,2.3 3.4,1 3,-0.5" stroke="#f0961a" stroke-width="2.16" fill="none" stroke-linecap="round" stroke-linejoin="round"/>
<path d="M1907.9,475.3l1.2,1.7 1.9,2.8 2.7,3.4 3.2,3.5 3.6,3 3.5,2 3.4,0.6 2.8,-0.9" stroke="#f0961a" stroke-width="2.16" fill="none" stroke-linecap="round" stroke-linejoin="round"/>
<path d="M1933,465.2l1.3,1.9 2.2,3 2.8,3.5 3.3,3.4 3.6,2.8 3.6,1.7 3.2,0.3 2.7,-1.3" stroke="#f0961a" stroke-width="2.16" fill="none" stroke-linecap="round" stroke-linejoin="round"/>
<path d="M1957.4,454.1l0.7,1 1.6,2.2 2.3,3.2 3,3.5 3.4,3.3 3.6,2.6 3.5,1.3 3.1,-0.1 2.5,-1.6" stroke="#f0961a" stroke-width="2.16" fill="none" stroke-linecap="round" stroke-linejoin="round"/>
<path d="M1982.4,443.7l0.9,1.3 1.8,2.5 2.4,3.3 3.2,3.6 3.5,3.2 3.6,2.3 3.4,1 3,-0.5" stroke="#f0961a" stroke-width="2.16" fill="none" stroke-linecap="round" stroke-linejoin="round"/>
<path d="M2007.4,433.4l1.2,1.7 1.9,2.7 2.6,3.4 3.3,3.5 3.5,3 3.6,2.1 3.4,0.6 2.8,-0.8" stroke="#f0961a" stroke-width="2.16" fill="none" stroke-linecap="round" stroke-linejoin="round"/>
<path d="M2032.5,423.2l1.3,2 2.2,3 2.8,3.4 3.3,3.5 3.6,2.8 3.6,1.7 3.2,0.3 2.7,-1.3" stroke="#f0961a" stroke-width="2.16" fill="none" stroke-linecap="round" stroke-linejoin="round"/>
<path d="M2056.9,412.2l0.8,0.9 1.5,2.3 2.3,3.1 2.9,3.5 3.5,3.4 3.6,2.5 3.5,1.4 3.1,0 2.5,-1.7" stroke="#f0961a" stroke-width="2.16" fill="none" stroke-linecap="round" stroke-linejoin="round"/>
<path d="M2081.9,401.8l0.9,1.3 1.8,2.5 2.4,3.3 3.1,3.5" stroke="#f0961a" stroke-width="2.16" fill="none" stroke-linecap="round" stroke-linejoin="round"/>
<path d="M1904.7,502.3l2.3,-2.1 1.5,-3.4 0.8,-4.3 0,-4.8 -0.4,-4.6 -0.6,-3.9 -0.6,-2.8 -0.2,-1.3 0.4,0.2" stroke="#f0961a" stroke-width="4.8" fill="none" stroke-linecap="round" stroke-linejoin="round"/>
<path d="M1930.2,491.4l2.1,-2.4 1.4,-3.6 0.5,-4.5 -0.1,-4.8 -0.5,-4.5 -0.6,-3.7 -0.5,-2.4 -0.1,-1 0.6,0.7" stroke="#f0961a" stroke-width="4.8" fill="none" stroke-linecap="round" stroke-linejoin="round"/>
<path d="M1955.7,480.5l1.9,-2.8 1.1,-3.9 0.4,-4.6 -0.2,-4.7 -0.5,-4.4 -0.7,-3.4 -0.4,-2.1 0.1,-0.5" stroke="#f0961a" stroke-width="4.8" fill="none" stroke-linecap="round" stroke-linejoin="round"/>
<path d="M1981.1,469.5l1.7,-3.1 1,-4.1 0.2,-4.7 -0.3,-4.7 -0.6,-4.2 -0.6,-3.1 -0.3,-1.7 0.2,-0.2" stroke="#f0961a" stroke-width="4.8" fill="none" stroke-linecap="round" stroke-linejoin="round"/>
<path d="M2004.2,460.4l2.3,-2 1.5,-3.4 0.8,-4.3 0.1,-4.8 -0.4,-4.6 -0.7,-3.9 -0.5,-2.8 -0.2,-1.4 0.3,0.2" stroke="#f0961a" stroke-width="4.8" fill="none" stroke-linecap="round" stroke-linejoin="round"/>
<path d="M2029.7,449.6l2.1,-2.4 1.4,-3.6 0.6,-4.5 -0.1,-4.8 -0.5,-4.5 -0.6,-3.7 -0.5,-2.5 -0.1,-0.9 0.5,0.5" stroke="#f0961a" stroke-width="4.8" fill="none" stroke-linecap="round" stroke-linejoin="round"/>
<path d="M2055.2,438.6l1.9,-2.7 1.2,-3.9 0.4,-4.6 -0.2,-4.7 -0.6,-4.4 -0.6,-3.4 -0.4,-2.1 0,-0.6" stroke="#f0961a" stroke-width="4.8" fill="none" stroke-linecap="round" stroke-linejoin="round"/>
<path d="M2080.6,427.6l1.8,-3 0.9,-4.1 0.3,-4.7 -0.3,-4.7 -0.6,-4.2 -0.7,-3.1 -0.3,-1.8 0.2,-0.2" stroke="#f0961a" stroke-width="4.8" fill="none" stroke-linecap="round" stroke-linejoin="round"/>
<path d="M2090.0,374.0 C2090.5,371.7 2093.8,364.3 2093.0,360.0 C2092.2,355.7 2088.8,351.3 2085.0,348.0 C2081.2,344.7 2074.2,342.5 2070.0,340.0 C2065.8,337.5 2062.7,334.7 2060.0,333.0 C2057.3,331.3 2055.0,330.5 2054.0,330.0" stroke="#3ee81e" stroke-width="2.2" fill="none"/>
<path d="M2093.0,410.0 C2094.5,408.3 2101.2,403.3 2102.0,400.0 C2102.8,396.7 2097.3,393.0 2098.0,390.0 C2098.7,387.0 2105.7,384.3 2106.0,382.0 C2106.3,379.7 2102.7,377.3 2100.0,376.0 C2097.3,374.7 2091.7,374.3 2090.0,374.0" stroke="#f0961a" stroke-width="2.2" fill="none"/>
<path d="M1897.0,455.0 C1895.2,457.5 1888.8,464.2 1886.0,470.0 C1883.2,475.8 1879.7,484.2 1880.0,490.0 C1880.3,495.8 1885.2,504.2 1888.0,505.0 C1890.8,505.8 1895.5,496.7 1897.0,495.0" stroke="#3ee81e" stroke-width="2.4" fill="none"/>
<path d="M1891.0,495.0 C1888.8,495.5 1881.5,498.8 1878.0,498.0 C1874.5,497.2 1870.3,493.3 1870.0,490.0 C1869.7,486.7 1872.7,479.3 1876.0,478.0 C1879.3,476.7 1887.7,481.3 1890.0,482.0" stroke="#f0961a" stroke-width="2.4" fill="none"/>
<path d="M1822.0,400.0 C1823.3,398.0 1826.2,390.5 1830.0,388.0 C1833.8,385.5 1840.8,384.3 1845.0,385.0 C1849.2,385.7 1852.5,388.7 1855.0,392.0 C1857.5,395.3 1860.8,401.2 1860.0,405.0 C1859.2,408.8 1853.7,414.2 1850.0,415.0 C1846.3,415.8 1840.0,410.8 1838.0,410.0" stroke="#3ee81e" stroke-width="2.6" fill="none"/>
<path d="M1840.0,412.0 C1841.7,413.3 1846.3,419.0 1850.0,420.0 C1853.7,421.0 1860.0,418.3 1862.0,418.0" stroke="#3ee81e" stroke-width="5.5" fill="none" stroke-linecap="round"/>
<path d="M1820.0,395.0 C1822.5,394.5 1829.7,391.8 1835.0,392.0 C1840.3,392.2 1847.0,393.3 1852.0,396.0 C1857.0,398.7 1863.3,404.0 1865.0,408.0 C1866.7,412.0 1862.5,418.0 1862.0,420.0" stroke="#f0961a" stroke-width="2.2" fill="none"/>
<path d="M1850.9,432.5l1.3,-4.1 2.4,-5.3 3.2,-4.3 3.5,-1.4 2.9,2" stroke="#f0961a" stroke-width="1.4400000000000002" fill="none" stroke-linecap="round" stroke-linejoin="round"/>
<path d="M1866.8,434.9l1.3,-4.4 2.5,-5.3 3.3,-4 3.5,-1.2" stroke="#f0961a" stroke-width="1.4400000000000002" fill="none" stroke-linecap="round" stroke-linejoin="round"/>
<path d="M1882.3,439l0.4,-1.9 1.4,-4.5 2.6,-5.2 3.3,-3.9 3.4,-0.9" stroke="#f0961a" stroke-width="1.4400000000000002" fill="none" stroke-linecap="round" stroke-linejoin="round"/>
<path d="M1850.7,433.9l0.2,-1.4" stroke="#f0961a" stroke-width="3.2" fill="none" stroke-linecap="round" stroke-linejoin="round"/>
<path d="M1864.2,419.4l1.9,4.8 0.8,5.8 -0.1,4.7 -0.3,1.8 0.3,-1.6" stroke="#f0961a" stroke-width="3.2" fill="none" stroke-linecap="round" stroke-linejoin="round"/>
<path d="M1877.4,420l2.8,2.3 1.8,4.9 0.7,5.8 -0.1,4.5 -0.3,1.5" stroke="#f0961a" stroke-width="3.2" fill="none" stroke-linecap="round" stroke-linejoin="round"/>
<path d="M1893.4,422.6l2.8,2.6 1.7,5.1" stroke="#f0961a" stroke-width="3.2" fill="none" stroke-linecap="round" stroke-linejoin="round"/>
<path d="M1853.2,430.6l0.6,-2.8 1.6,-5 2.8,-5.1 3.3,-3.2 3.3,0.1" stroke="#3ee81e" stroke-width="1.1700000000000002" fill="none" stroke-linecap="round" stroke-linejoin="round"/>
<path d="M1869,432.7l0.7,-3 1.7,-5 2.8,-5 3.3,-3.1 3.3,0.3" stroke="#3ee81e" stroke-width="1.1700000000000002" fill="none" stroke-linecap="round" stroke-linejoin="round"/>
<path d="M1884.9,434.9l0.7,-3.2 1.7,-5 2.9,-5 3.4,-2.9 3.2,0.4" stroke="#3ee81e" stroke-width="1.1700000000000002" fill="none" stroke-linecap="round" stroke-linejoin="round"/>
<path d="M1864.8,414.6l2.6,3.3 1.5,5.5 0.4,5.5 -0.2,3.5 -0.1,0.3" stroke="#3ee81e" stroke-width="2.6" fill="none" stroke-linecap="round" stroke-linejoin="round"/>
<path d="M1880.8,416.9l2.6,3.5 1.4,5.5 0.4,5.4 -0.2,3.5 -0.1,0.1" stroke="#3ee81e" stroke-width="2.6" fill="none" stroke-linecap="round" stroke-linejoin="round"/>
<path d="M1896.8,419.2l2.5,3.6 1.4,5.6" stroke="#3ee81e" stroke-width="2.6" fill="none" stroke-linecap="round" stroke-linejoin="round"/>
<path d="M1895.0,432.0 C1896.7,428.3 1902.2,416.2 1905.0,410.0 C1907.8,403.8 1909.8,400.0 1912.0,395.0 C1914.2,390.0 1916.7,384.5 1918.0,380.0 C1919.3,375.5 1919.7,370.0 1920.0,368.0" stroke="#f0961a" stroke-width="2.2" fill="none"/>
<path d="M1898.0,428.0 C1899.7,424.2 1905.3,411.3 1908.0,405.0 C1910.7,398.7 1912.3,395.5 1914.0,390.0 C1915.7,384.5 1917.7,376.2 1918.0,372.0 C1918.3,367.8 1916.3,366.2 1916.0,365.0" stroke="#3ee81e" stroke-width="2.0" fill="none"/>
<path d="M1764.0,387.0 C1765.8,386.7 1771.2,385.7 1775.0,385.0 C1778.8,384.3 1785.0,383.3 1787.0,383.0" stroke="#3ee81e" stroke-width="5.5" fill="none" stroke-linecap="round"/>
<path d="M1764.0,388.0 C1765.3,389.2 1769.7,391.3 1772.0,395.0 C1774.3,398.7 1776.3,404.2 1778.0,410.0 C1779.7,415.8 1780.7,423.3 1782.0,430.0 C1783.3,436.7 1785.3,444.2 1786.0,450.0 C1786.7,455.8 1786.0,462.5 1786.0,465.0" stroke="#f0961a" stroke-width="2.4" fill="none"/>
<path d="M1768.0,392.0 C1769.2,393.3 1772.5,395.3 1775.0,400.0 C1777.5,404.7 1780.8,412.5 1783.0,420.0 C1785.2,427.5 1787.8,438.7 1788.0,445.0 C1788.2,451.3 1784.7,455.8 1784.0,458.0" stroke="#3ee81e" stroke-width="2.4" fill="none"/>
<path d="M1790.0,468.0 C1788.0,468.3 1782.0,468.0 1778.0,470.0 C1774.0,472.0 1768.0,475.8 1766.0,480.0 C1764.0,484.2 1763.7,491.7 1766.0,495.0 C1768.3,498.3 1775.2,499.7 1780.0,500.0 C1784.8,500.3 1792.5,497.5 1795.0,497.0" stroke="#3ee81e" stroke-width="2.6" fill="none"/>
<path d="M1766.0,495.0 C1766.3,498.3 1767.3,508.3 1768.0,515.0 C1768.7,521.7 1771.3,530.0 1770.0,535.0 C1768.7,540.0 1764.2,543.3 1760.0,545.0 C1755.8,546.7 1747.5,545.0 1745.0,545.0" stroke="#3ee81e" stroke-width="2.4" fill="none"/>
<path d="M1790.0,495.0 C1788.3,496.7 1783.0,501.7 1780.0,505.0 C1777.0,508.3 1775.3,511.7 1772.0,515.0 C1768.7,518.3 1764.5,522.5 1760.0,525.0 C1755.5,527.5 1749.2,527.5 1745.0,530.0 C1740.8,532.5 1735.5,536.7 1735.0,540.0 C1734.5,543.3 1739.2,549.2 1742.0,550.0 C1744.8,550.8 1751.0,547.5 1752.0,545.0 C1753.0,542.5 1750.3,535.8 1748.0,535.0 C1745.7,534.2 1741.0,536.7 1738.0,540.0 C1735.0,543.3 1731.3,552.5 1730.0,555.0" stroke="#f0961a" stroke-width="2.4" fill="none"/>
<text x="1954.8" y="326.1" font-size="29.5" fill="#f0961a">Gαq</text>
<text x="1954.8" y="353.0" font-size="29.5" fill="#1f9a48">Gαi</text>
<text x="1771.6" y="353.7" font-size="29.5">α5 heilx</text>
<text x="1849.8" y="379.5" font-size="29.5">ICL2</text>
<text x="1669.2" y="420.0" font-size="29.5">ICL3</text>
<text x="1655.6" y="474.2" font-size="29.5">i3 loop</text>
<text x="1976.9" y="488.2" font-size="29.5">αN</text>
<text x="1798.0" y="526.9" font-size="29.5">β2-β3 loop</text>
<clipPath id="cg"><rect x="596.9" y="1328" width="453.19999999999993" height="346.0999999999999"/></clipPath><g clip-path="url(#cg)">
<path d="M1073.0,1397.0 C1074.2,1397.9 1078.7,1399.8 1080.5,1402.5 C1082.3,1405.3 1083.8,1409.4 1084.0,1413.5 C1084.1,1417.6 1083.2,1422.7 1081.2,1427.1 C1079.2,1431.5 1075.9,1436.3 1072.1,1439.8 C1068.4,1443.4 1063.3,1446.5 1058.6,1448.4 C1053.9,1450.2 1048.5,1451.0 1044.0,1450.8 C1039.6,1450.5 1035.2,1449.0 1032.1,1447.1 C1029.0,1445.1 1026.7,1442.0 1025.6,1439.3 C1024.5,1436.5 1024.7,1433.1 1025.7,1430.7 C1026.6,1428.4 1028.9,1426.0 1031.2,1425.0 C1033.5,1424.0 1036.9,1423.8 1039.5,1424.8 C1042.1,1425.8 1045.0,1428.0 1046.7,1430.9 C1048.4,1433.9 1049.7,1438.1 1049.6,1442.3 C1049.6,1446.5 1048.4,1451.7 1046.2,1456.0 C1044.1,1460.4 1040.5,1465.1 1036.6,1468.5 C1032.7,1471.9 1027.5,1474.8 1022.8,1476.4 C1018.1,1478.1 1012.7,1478.6 1008.3,1478.2 C1004.0,1477.8 999.7,1476.0 996.8,1474.0 C993.9,1471.9 991.8,1468.7 991.0,1465.9 C990.1,1463.2 990.6,1459.8 991.7,1457.5 C992.8,1455.2 995.3,1453.1 997.6,1452.3 C1000.0,1451.4 1003.4,1451.5 1006.0,1452.7 C1008.5,1453.9 1011.4,1456.3 1012.9,1459.4 C1014.5,1462.5 1015.6,1466.9 1015.3,1471.2 C1015.0,1475.4 1013.6,1480.6 1011.2,1484.9 C1008.8,1489.2 1005.1,1493.8 1001.0,1497.0 C997.0,1500.3 991.7,1503.0 987.0,1504.5 C982.3,1505.9 976.9,1506.2 972.7,1505.6 C968.4,1505.0 963.5,1501.6 961.6,1500.8" stroke="#b8f0b0" stroke-width="11.892707258531576" fill="none" opacity="0.3" stroke-linecap="round"/>
<path d="M727.6,1548.0 C729.0,1549.0 733.7,1551.1 735.8,1554.1 C737.9,1557.1 739.8,1561.8 740.0,1566.0 C740.2,1570.3 739.3,1575.7 737.2,1579.7 C735.1,1583.7 731.3,1587.7 727.6,1590.1 C723.9,1592.4 718.8,1593.7 714.9,1593.8 C711.0,1593.9 706.8,1592.4 704.2,1590.8 C701.6,1589.1 699.9,1586.1 699.6,1584.0 C699.3,1582.0 700.6,1579.4 702.3,1578.5 C704.0,1577.6 707.4,1577.4 709.9,1578.6 C712.5,1579.9 715.9,1582.6 717.7,1585.9 C719.6,1589.2 721.0,1594.2 720.9,1598.5 C720.7,1602.8 719.2,1608.1 716.7,1611.9 C714.3,1615.7 710.2,1619.4 706.3,1621.3 C702.4,1623.3 697.3,1624.0 693.6,1623.8 C689.8,1623.5 685.9,1621.6 683.7,1619.8 C681.5,1617.9 680.3,1614.8 680.4,1612.9 C680.5,1610.9 682.2,1608.7 684.2,1608.1 C686.2,1607.5 689.7,1607.8 692.3,1609.5 C694.8,1611.1 698.0,1614.3 699.6,1617.9 C701.1,1621.5 702.1,1626.6 701.5,1631.0 C700.9,1635.4 698.8,1640.5 696.1,1644.1 C693.3,1647.6 688.8,1650.8 684.9,1652.4 C680.9,1653.9 675.9,1654.2 672.3,1653.5 C668.7,1652.9 665.2,1650.6 663.4,1648.7 C661.5,1646.7 660.9,1643.6 661.4,1641.8 C661.9,1640.0 665.4,1638.5 666.2,1637.9" stroke="#fadcb8" stroke-width="9.418716148859613" fill="none" opacity="0.3" stroke-linecap="round"/>
<path d="M908.7,1408.7 C906.9,1410.9 901.9,1419.8 897.9,1422.2 C893.9,1424.5 887.7,1424.3 884.5,1422.9 C881.3,1421.4 878.5,1416.5 878.5,1413.3 C878.5,1410.1 881.2,1405.3 884.4,1403.8 C887.6,1402.3 893.7,1402.1 897.7,1404.5 C901.6,1406.9 906.5,1412.5 908.2,1418.0 C909.9,1423.4 909.8,1431.7 908.0,1437.1 C906.1,1442.5 901.2,1448.1 897.1,1450.5 C893.1,1452.8 887.0,1452.6 883.8,1451.1 C880.5,1449.6 877.9,1444.7 877.9,1441.5 C877.9,1438.4 880.6,1433.5 883.8,1432.0 C887.0,1430.6 893.1,1430.4 897.1,1432.8 C901.0,1435.2 905.8,1440.9 907.5,1446.4 C909.2,1451.8 909.1,1460.1 907.3,1465.5 C905.4,1470.9 900.4,1476.5 896.4,1478.8 C892.3,1481.1 886.2,1480.9 883.0,1479.4 C879.8,1477.9 877.2,1472.9 877.2,1469.8 C877.2,1466.6 880.0,1461.7 883.2,1460.3 C886.4,1458.9 892.5,1458.7 896.5,1461.2 C900.4,1463.6 905.2,1469.3 906.9,1474.7 C908.6,1480.2 908.4,1488.5 906.6,1493.9 C904.7,1499.3 899.7,1504.9 895.6,1507.1 C891.6,1509.4 885.5,1509.2 882.3,1507.6 C879.1,1506.1 877.5,1499.6 876.5,1498.0" stroke="#b8f0b0" stroke-width="10.669301704943475" fill="none" opacity="0.3" stroke-linecap="round"/>
<path d="M855.2,1622.0 C856.3,1623.2 860.0,1625.8 861.4,1628.7 C862.9,1631.6 864.0,1635.5 864.0,1639.3 C864.0,1643.2 863.3,1647.8 861.6,1651.9 C859.9,1656.0 857.2,1660.5 854.0,1664.1 C850.7,1667.7 846.4,1671.1 842.0,1673.5 C837.6,1675.9 832.4,1677.8 827.6,1678.6 C822.8,1679.5 817.6,1679.4 813.2,1678.6 C808.9,1677.8 804.6,1676.0 801.3,1673.9 C798.0,1671.9 795.3,1668.9 793.7,1666.1 C792.0,1663.3 791.2,1660.0 791.3,1657.3 C791.3,1654.6 792.4,1651.8 793.9,1649.9 C795.3,1648.0 797.8,1646.5 800.1,1646.0 C802.4,1645.5 805.3,1645.8 807.7,1646.9 C810.1,1648.1 812.7,1650.2 814.3,1652.9 C815.9,1655.6 817.3,1659.2 817.5,1663.0 C817.8,1666.8 817.3,1671.3 815.9,1675.4 C814.5,1679.6 812.1,1684.1 809.0,1687.8 C806.0,1691.5 801.9,1695.2 797.6,1697.8 C793.4,1700.4 788.2,1702.5 783.5,1703.6 C778.7,1704.7 773.4,1704.9 768.9,1704.4 C764.4,1703.8 758.5,1701.0 756.5,1700.3" stroke="#fadcb8" stroke-width="9.879694663765369" fill="none" opacity="0.3" stroke-linecap="round"/>
<path d="M846.3,1591.1 C847.7,1590.3 851.2,1586.2 854.6,1586.2 C857.9,1586.2 863.1,1588.0 866.4,1591.0 C869.7,1594.1 873.3,1599.6 874.5,1604.7 C875.7,1609.9 875.5,1616.8 873.5,1621.9 C871.5,1627.1 867.2,1632.5 862.6,1635.6 C858.0,1638.6 851.3,1640.3 846.0,1640.3 C840.7,1640.3 834.6,1638.0 830.9,1635.4 C827.2,1632.9 824.4,1628.2 823.6,1624.9 C822.9,1621.7 824.4,1617.6 826.6,1615.8 C828.8,1614.1 833.4,1613.1 837.0,1614.3 C840.6,1615.5 845.5,1618.7 848.3,1622.8 C851.0,1626.8 853.4,1633.1 853.4,1638.5 C853.5,1643.9 851.7,1650.6 848.6,1655.2 C845.5,1659.8 839.9,1664.0 834.8,1666.0 C829.7,1668.0 822.9,1668.1 818.0,1667.0 C813.0,1665.9 807.9,1662.4 805.2,1659.3 C802.4,1656.3 801.2,1651.5 801.7,1648.5 C802.1,1645.6 805.0,1642.4 807.9,1641.6 C810.9,1640.8 816.0,1641.5 819.5,1643.8 C823.1,1646.1 827.4,1650.7 829.3,1655.5 C831.2,1660.3 832.1,1667.1 830.9,1672.5 C829.8,1677.8 826.4,1683.9 822.4,1687.7 C818.3,1691.4 812.0,1694.3 806.7,1695.0 C801.3,1695.8 793.2,1692.9 790.5,1692.5" stroke="#b8f0b0" stroke-width="8.372528111821168" fill="none" opacity="0.3" stroke-linecap="round"/>
<path d="M674.1,1348.8 C675.3,1350.6 680.0,1355.0 681.5,1359.4 C683.0,1363.8 683.6,1369.6 682.9,1375.0 C682.2,1380.5 680.2,1386.8 677.3,1392.0 C674.4,1397.2 670.0,1402.5 665.5,1406.2 C661.0,1410.0 655.3,1413.0 650.4,1414.5 C645.4,1416.0 639.9,1416.2 635.7,1415.3 C631.5,1414.5 627.6,1412.1 625.1,1409.4 C622.7,1406.8 621.3,1402.9 621.1,1399.6 C620.9,1396.3 622.2,1392.4 624.1,1389.7 C626.0,1387.1 629.3,1384.6 632.5,1383.7 C635.7,1382.9 639.9,1383.0 643.1,1384.4 C646.4,1385.9 649.9,1388.8 652.0,1392.6 C654.2,1396.3 655.8,1401.5 655.9,1406.7 C656.0,1411.9 655.0,1418.2 652.9,1423.7 C650.7,1429.1 647.1,1434.9 643.1,1439.3 C639.1,1443.8 633.7,1447.7 628.8,1450.1 C623.8,1452.5 618.1,1453.7 613.5,1453.7 C608.9,1453.7 604.2,1452.1 601.0,1450.0 C597.9,1448.0 595.5,1442.7 594.4,1441.2" stroke="#fadcb8" stroke-width="11.098109244744833" fill="none" opacity="0.3" stroke-linecap="round"/>
<path d="M621.2,1547.8 C621.4,1545.6 621.0,1538.1 622.5,1534.5 C624.0,1530.8 627.1,1527.6 630.1,1525.9 C633.1,1524.3 637.4,1523.9 640.6,1524.8 C643.9,1525.7 647.6,1528.2 649.8,1531.3 C651.9,1534.5 653.6,1539.3 653.6,1543.9 C653.6,1548.4 652.4,1554.1 649.8,1558.7 C647.3,1563.3 643.1,1568.1 638.4,1571.5 C633.7,1574.8 627.4,1577.5 621.4,1578.6 C615.5,1579.7 608.6,1579.4 602.8,1578.0 C597.0,1576.5 591.1,1573.4 586.8,1569.9 C582.5,1566.3 578.9,1561.3 576.9,1556.8 C574.9,1552.2 574.3,1546.8 574.9,1542.6 C575.4,1538.4 577.7,1534.2 580.2,1531.6 C582.7,1529.0 586.6,1527.3 590.0,1527.1 C593.3,1527.0 597.4,1528.2 600.2,1530.5 C603.0,1532.8 605.6,1539.2 606.7,1540.9" stroke="#b8f0b0" stroke-width="8.245862366005964" fill="none" opacity="0.3" stroke-linecap="round"/>
<path d="M724.5,1585.6 C725.1,1588.0 728.0,1594.9 728.0,1599.9 C728.0,1604.8 726.8,1610.7 724.5,1615.4 C722.1,1620.0 718.1,1624.7 713.9,1627.8 C709.6,1630.9 703.9,1633.2 698.7,1634.0 C693.6,1634.8 687.7,1634.1 683.1,1632.5 C678.5,1631.0 674.0,1627.9 671.1,1624.9 C668.2,1621.9 666.2,1617.6 665.7,1614.4 C665.1,1611.1 666.0,1607.5 667.6,1605.4 C669.2,1603.3 672.4,1601.7 675.3,1601.7 C678.2,1601.7 682.2,1603.0 685.0,1605.4 C687.9,1607.8 691.0,1611.8 692.6,1616.1 C694.2,1620.4 695.1,1626.1 694.4,1631.1 C693.8,1636.1 691.9,1641.8 688.9,1646.2 C686.0,1650.6 681.4,1654.7 676.8,1657.3 C672.2,1659.8 666.3,1661.3 661.1,1661.4 C656.0,1661.6 650.3,1660.2 646.1,1658.2 C641.8,1656.2 637.9,1652.6 635.6,1649.4 C633.2,1646.2 632.1,1641.9 632.1,1638.8 C632.2,1635.8 633.8,1632.5 635.8,1630.9 C637.9,1629.3 641.4,1628.4 644.4,1629.0 C647.4,1629.7 651.3,1631.7 654.0,1634.7 C656.7,1637.7 659.3,1642.3 660.4,1646.9 C661.4,1651.5 661.6,1657.3 660.3,1662.3 C659.1,1667.3 656.4,1672.8 652.9,1676.7 C649.4,1680.7 644.4,1684.3 639.5,1686.2 C634.6,1688.1 628.6,1688.9 623.6,1688.4 C618.5,1687.9 613.2,1685.8 609.3,1683.4 C605.5,1681.0 602.3,1677.1 600.5,1673.7 C598.8,1670.4 598.4,1666.3 599.0,1663.5 C599.7,1660.7 601.9,1657.9 604.3,1656.8 C606.8,1655.7 612.1,1656.9 613.6,1656.9" stroke="#fadcb8" stroke-width="11.804459381398539" fill="none" opacity="0.3" stroke-linecap="round"/>
<path d="M794.4,1522.5 C793.8,1524.4 792.2,1530.4 790.4,1533.8 C788.5,1537.3 786.0,1540.6 783.5,1543.3 C781.0,1546.0 778.0,1548.3 775.4,1550.0 C772.7,1551.7 769.8,1552.8 767.4,1553.4 C765.0,1554.0 762.8,1554.0 761.2,1553.6 C759.7,1553.2 758.5,1552.2 758.1,1551.1 C757.7,1550.0 758.0,1548.4 758.9,1546.9 C759.8,1545.5 761.4,1543.7 763.6,1542.3 C765.8,1540.9 768.7,1539.4 771.9,1538.5 C775.0,1537.6 778.8,1536.9 782.6,1536.9 C786.3,1536.8 790.5,1537.2 794.3,1538.1 C798.1,1539.1 802.1,1540.6 805.4,1542.7 C808.8,1544.7 812.0,1547.4 814.4,1550.4 C816.9,1553.4 818.9,1557.0 820.2,1560.6 C821.4,1564.3 822.0,1568.4 822.0,1572.3 C821.9,1576.2 821.1,1580.4 819.8,1584.1 C818.6,1587.9 816.6,1591.6 814.4,1594.7 C812.2,1597.9 809.4,1600.8 806.8,1603.1 C804.1,1605.3 801.1,1607.1 798.5,1608.3 C795.9,1609.5 793.2,1610.1 791.1,1610.3 C789.1,1610.4 787.3,1609.9 786.2,1609.2 C785.2,1608.4 784.6,1607.1 784.8,1605.8 C785.0,1604.4 785.8,1602.7 787.3,1601.2 C788.8,1599.7 791.1,1598.0 793.8,1596.8 C796.4,1595.6 799.8,1594.4 803.3,1593.8 C806.7,1593.3 810.8,1593.0 814.6,1593.4 C818.5,1593.8 822.6,1594.7 826.3,1596.1 C830.0,1597.6 833.6,1599.7 836.6,1602.2 C839.6,1604.7 842.4,1607.8 844.3,1611.1 C846.2,1614.5 847.6,1618.3 848.3,1622.2 C849.0,1626.0 848.9,1630.2 848.3,1634.0 C847.7,1637.9 846.3,1642.0 844.6,1645.5 C842.8,1649.0 840.4,1652.4 838.0,1655.2 C835.5,1658.0 832.5,1660.4 829.8,1662.2 C827.1,1664.0 824.2,1665.3 821.8,1666.0 C819.4,1666.7 817.0,1666.8 815.4,1666.5 C813.7,1666.2 812.4,1665.3 811.9,1664.2 C811.4,1663.2 812.2,1660.8 812.3,1660.1" stroke="#b8f0b0" stroke-width="9.907961433134751" fill="none" opacity="0.3" stroke-linecap="round"/>
<path d="M771.3,1515.3 C769.5,1516.1 763.9,1519.9 760.4,1519.8 C756.8,1519.8 752.5,1517.7 750.1,1514.9 C747.8,1512.2 746.0,1507.3 746.4,1503.1 C746.8,1498.9 748.9,1493.5 752.3,1489.7 C755.7,1486.0 761.3,1482.3 766.9,1480.7 C772.5,1479.2 779.9,1478.9 785.9,1480.3 C791.9,1481.7 798.5,1485.2 803.0,1489.1 C807.4,1493.0 811.0,1498.9 812.6,1504.0 C814.2,1509.0 814.0,1515.0 812.6,1519.2 C811.2,1523.4 807.6,1527.3 804.3,1529.1 C801.1,1530.9 796.2,1531.2 792.9,1530.0 C789.6,1528.8 786.0,1525.5 784.6,1521.9 C783.2,1518.4 782.8,1513.0 784.4,1508.8 C785.9,1504.5 789.5,1499.5 793.9,1496.4 C798.4,1493.4 804.9,1490.8 810.9,1490.4 C816.9,1489.9 824.3,1491.1 829.9,1493.6 C835.5,1496.1 841.2,1500.7 844.7,1505.3 C848.1,1509.9 850.3,1516.1 850.7,1521.0 C851.1,1526.0 849.4,1531.5 847.1,1534.9 C844.8,1538.3 840.4,1540.9 836.9,1541.5 C833.4,1542.2 828.7,1541.0 825.9,1538.8 C823.2,1536.5 820.6,1532.2 820.3,1528.2 C819.9,1524.1 821.1,1518.6 823.8,1514.6 C826.6,1510.6 831.5,1506.3 836.7,1504.1 C841.9,1501.9 849.1,1500.7 855.2,1501.4 C861.3,1502.1 868.3,1504.8 873.3,1508.2 C878.2,1511.7 882.7,1517.2 885.0,1522.1 C887.4,1527.0 888.0,1533.3 887.3,1537.8 C886.5,1542.4 883.6,1547.0 880.6,1549.4 C877.6,1551.9 872.8,1553.0 869.4,1552.5 C865.9,1552.0 861.8,1549.5 859.8,1546.4 C857.8,1543.3 856.5,1538.2 857.4,1533.9 C858.2,1529.7 860.9,1524.3 864.7,1520.8 C868.5,1517.3 874.6,1514.1 880.3,1512.9 C886.1,1511.8 893.5,1512.1 899.4,1513.9 C905.3,1515.7 911.6,1519.7 915.7,1523.9 C919.8,1528.1 922.6,1536.7 924.0,1539.2" stroke="#fadcb8" stroke-width="9.52499302037501" fill="none" opacity="0.3" stroke-linecap="round"/>
<path d="M843.2,1497.0 C842.4,1497.0 839.3,1498.3 838.1,1497.0 C836.9,1495.7 835.8,1492.5 836.1,1489.2 C836.4,1486.0 837.6,1481.1 839.8,1477.4 C842.0,1473.7 845.5,1469.4 849.2,1466.9 C853.0,1464.5 857.9,1462.7 862.1,1462.7 C866.3,1462.7 871.1,1464.3 874.5,1466.8 C878.0,1469.4 881.1,1473.8 882.8,1478.0 C884.6,1482.1 885.2,1487.5 885.1,1491.6 C885.0,1495.6 883.5,1499.9 882.2,1502.2 C880.8,1504.6 878.3,1505.9 876.9,1505.6 C875.4,1505.4 873.6,1503.3 873.2,1500.7 C872.8,1498.1 873.0,1493.6 874.5,1489.9 C875.9,1486.1 878.6,1481.3 881.8,1478.2 C885.0,1475.1 889.5,1472.1 893.7,1471.0 C897.9,1470.0 902.9,1470.2 906.8,1471.8 C910.7,1473.4 914.6,1476.9 917.1,1480.6 C919.6,1484.2 921.2,1489.6 921.8,1493.9 C922.4,1498.2 921.7,1503.1 920.7,1506.3 C919.7,1509.5 917.5,1512.1 915.9,1512.9 C914.3,1513.8 912.0,1513.0 911.1,1511.2 C910.1,1509.4 909.5,1505.7 910.1,1502.2 C910.8,1498.7 912.5,1493.8 915.1,1490.2 C917.6,1486.6 921.6,1482.7 925.5,1480.7 C929.4,1478.7 934.4,1477.6 938.6,1478.1 C942.7,1478.6 947.2,1480.9 950.4,1483.9 C953.6,1486.9 956.2,1491.7 957.6,1496.0 C958.9,1500.3 959.1,1505.7 958.6,1509.5 C958.2,1513.3 956.4,1517.0 954.9,1518.9 C953.4,1520.7 950.9,1521.3 949.6,1520.5 C948.2,1519.7 947.2,1515.2 946.7,1514.1" stroke="#b8f0b0" stroke-width="11.972356019488029" fill="none" opacity="0.3" stroke-linecap="round"/>
<path d="M912.9,1486.5 C913.9,1488.1 918.0,1492.4 919.0,1496.3 C920.1,1500.2 920.4,1505.6 919.2,1509.8 C918.1,1514.1 915.3,1518.8 912.0,1521.8 C908.6,1524.7 903.6,1526.9 899.2,1527.6 C894.9,1528.2 889.5,1527.2 885.7,1525.6 C881.9,1524.1 878.3,1520.8 876.4,1518.1 C874.5,1515.5 873.9,1511.9 874.4,1510.0 C874.8,1508.0 877.0,1506.3 879.1,1506.3 C881.2,1506.3 884.6,1507.7 886.8,1510.2 C888.9,1512.6 891.4,1516.9 892.1,1520.9 C892.9,1525.0 892.7,1530.5 891.1,1534.6 C889.6,1538.7 886.3,1543.2 882.7,1545.8 C879.1,1548.4 873.9,1550.1 869.5,1550.3 C865.1,1550.5 859.9,1549.0 856.4,1547.2 C852.8,1545.3 849.6,1541.8 848.2,1539.2 C846.7,1536.6 846.6,1533.2 847.4,1531.4 C848.2,1529.7 850.7,1528.5 852.9,1528.9 C855.1,1529.3 858.5,1531.3 860.6,1534.1 C862.6,1536.9 864.7,1541.4 865.1,1545.6 C865.5,1549.9 864.8,1555.3 862.8,1559.3 C860.9,1563.3 857.2,1567.3 853.4,1569.6 C849.5,1571.8 844.2,1573.0 839.8,1572.8 C835.4,1572.6 830.4,1570.7 827.2,1568.6 C823.9,1566.5 821.3,1561.7 820.1,1560.3" stroke="#fadcb8" stroke-width="8.351323937119972" fill="none" opacity="0.3" stroke-linecap="round"/>
<path d="M840.1,1310.1 C841.1,1311.3 844.5,1314.3 845.9,1317.5 C847.2,1320.7 848.2,1325.0 848.1,1329.2 C848.0,1333.4 847.1,1338.3 845.3,1342.5 C843.5,1346.7 840.6,1351.1 837.2,1354.3 C833.8,1357.6 829.3,1360.5 824.9,1362.1 C820.4,1363.7 815.1,1364.4 810.4,1364.1 C805.7,1363.8 800.6,1362.3 796.5,1360.2 C792.4,1358.1 788.5,1354.9 785.7,1351.6 C782.9,1348.4 780.8,1344.3 779.7,1340.9 C778.6,1337.5 778.6,1333.7 779.1,1331.0 C779.7,1328.3 781.3,1325.9 783.0,1324.7 C784.8,1323.6 787.4,1323.2 789.5,1324.0 C791.7,1324.8 794.3,1326.7 796.0,1329.3 C797.7,1331.9 799.3,1335.7 799.8,1339.6 C800.4,1343.5 800.2,1348.3 799.1,1352.6 C798.0,1356.9 795.8,1361.6 793.0,1365.4 C790.2,1369.1 786.2,1372.6 782.1,1375.0 C778.0,1377.3 772.9,1378.9 768.2,1379.3 C763.4,1379.8 758.2,1379.1 753.7,1377.6 C749.3,1376.2 744.8,1373.5 741.5,1370.6 C738.1,1367.7 735.2,1363.8 733.5,1360.4 C731.7,1356.9 730.8,1352.9 730.8,1349.8 C730.7,1346.7 731.8,1343.7 733.1,1341.8 C734.5,1340.0 737.9,1339.3 738.9,1338.8" stroke="#b8f0b0" stroke-width="8.127763761818827" fill="none" opacity="0.3" stroke-linecap="round"/>
<path d="M821.8,1324.8 C821.5,1323.2 819.0,1318.4 819.9,1315.1 C820.7,1311.9 823.3,1307.6 826.8,1305.2 C830.3,1302.8 835.7,1300.7 840.8,1300.6 C845.8,1300.5 852.2,1302.0 857.0,1304.6 C861.9,1307.3 866.8,1312.0 869.7,1316.6 C872.6,1321.3 874.3,1327.5 874.5,1332.5 C874.6,1337.5 872.9,1343.0 870.6,1346.6 C868.4,1350.1 864.3,1352.8 861.1,1353.7 C857.9,1354.6 853.8,1353.7 851.5,1352.0 C849.2,1350.3 847.3,1346.6 847.3,1343.4 C847.4,1340.3 849.0,1335.8 851.8,1333.0 C854.6,1330.1 859.4,1327.3 864.2,1326.4 C868.9,1325.6 875.3,1326.0 880.4,1327.9 C885.5,1329.8 891.0,1333.7 894.6,1337.9 C898.2,1342.1 900.9,1348.2 901.9,1353.3 C902.8,1358.3 902.0,1364.3 900.3,1368.4 C898.6,1372.5 895.0,1376.1 891.9,1377.8 C888.8,1379.5 884.4,1379.6 881.7,1378.6 C879.0,1377.6 876.3,1374.5 875.5,1371.6 C874.8,1368.6 875.4,1364.2 877.4,1361.0 C879.5,1357.9 883.5,1354.4 887.9,1352.8 C892.2,1351.3 898.4,1350.7 903.6,1351.8 C908.8,1352.9 914.8,1355.9 918.9,1359.6 C923.1,1363.3 926.8,1368.9 928.5,1374.0 C930.3,1379.0 930.4,1385.2 929.4,1389.8 C928.4,1394.3 925.4,1398.8 922.5,1401.3 C919.7,1403.7 915.3,1404.9 912.2,1404.6 C909.2,1404.3 905.8,1402.0 904.4,1399.4 C903.0,1396.9 902.5,1392.6 903.8,1389.3 C905.1,1386.0 908.2,1382.0 912.0,1379.9 C915.8,1377.7 921.6,1376.2 926.7,1376.5 C931.9,1376.8 938.2,1378.8 942.8,1381.8 C947.4,1384.9 951.9,1390.0 954.5,1394.8 C957.0,1399.6 958.1,1405.9 957.9,1410.8 C957.6,1415.7 955.3,1420.8 952.9,1424.0 C950.4,1427.2 946.1,1429.4 943.0,1429.8 C939.8,1430.3 935.9,1428.9 933.8,1426.9 C931.8,1424.8 931.4,1419.2 930.9,1417.6" stroke="#fadcb8" stroke-width="9.472758917873346" fill="none" opacity="0.3" stroke-linecap="round"/>
<path d="M877.6,1541.6 C876.5,1543.1 873.9,1549.1 871.3,1550.6 C868.6,1552.2 864.3,1552.3 861.6,1551.0 C858.9,1549.6 855.8,1546.1 854.9,1542.4 C854.0,1538.7 854.2,1533.2 856.2,1529.0 C858.2,1524.8 862.2,1519.8 866.8,1517.0 C871.3,1514.2 877.9,1512.1 883.5,1512.0 C889.1,1511.9 895.8,1513.7 900.5,1516.4 C905.2,1519.1 909.4,1523.9 911.6,1528.1 C913.8,1532.3 914.3,1537.8 913.6,1541.6 C912.8,1545.3 909.9,1549.1 907.3,1550.6 C904.6,1552.2 900.3,1552.3 897.6,1551.0 C894.9,1549.6 891.8,1546.1 890.9,1542.4 C890.0,1538.7 890.2,1533.2 892.2,1529.0 C894.2,1524.8 898.2,1519.8 902.8,1517.0 C907.3,1514.2 913.9,1512.1 919.5,1512.0 C925.1,1511.9 931.8,1513.7 936.5,1516.4 C941.2,1519.1 945.4,1523.9 947.6,1528.1 C949.8,1532.3 950.3,1537.8 949.6,1541.6 C948.8,1545.3 945.9,1549.1 943.3,1550.6 C940.6,1552.2 936.3,1552.3 933.6,1551.0 C930.9,1549.6 927.8,1546.1 926.9,1542.4 C926.0,1538.7 926.2,1533.2 928.2,1529.0 C930.2,1524.8 934.2,1519.8 938.8,1517.0 C943.3,1514.2 949.9,1512.1 955.5,1512.0 C961.1,1511.9 967.8,1513.7 972.5,1516.4 C977.2,1519.1 981.4,1523.9 983.6,1528.1 C985.8,1532.3 986.3,1537.8 985.6,1541.6 C984.8,1545.3 981.9,1549.1 979.3,1550.6 C976.6,1552.2 972.3,1552.3 969.6,1551.0 C966.9,1549.6 963.8,1546.1 962.9,1542.4 C962.0,1538.7 962.2,1533.2 964.2,1529.0 C966.2,1524.8 970.2,1519.8 974.8,1517.0 C979.3,1514.2 985.9,1512.1 991.5,1512.0 C997.1,1511.9 1003.8,1513.7 1008.5,1516.4 C1013.2,1519.1 1017.4,1523.9 1019.6,1528.1 C1021.8,1532.3 1022.3,1537.8 1021.6,1541.6 C1020.8,1545.3 1017.9,1549.1 1015.3,1550.6 C1012.6,1552.2 1008.3,1552.3 1005.6,1551.0 C1002.9,1549.6 999.8,1546.1 998.9,1542.4 C998.0,1538.7 998.2,1533.2 1000.2,1529.0 C1002.2,1524.8 1006.2,1519.8 1010.8,1517.0 C1015.3,1514.2 1021.9,1512.1 1027.5,1512.0 C1033.1,1511.9 1039.8,1513.7 1044.5,1516.4 C1049.2,1519.1 1053.4,1523.9 1055.6,1528.1 C1057.8,1532.3 1058.3,1537.8 1057.6,1541.6 C1056.8,1545.3 1053.9,1549.1 1051.3,1550.6 C1048.6,1552.2 1043.2,1550.9 1041.6,1551.0" stroke="#b8f0b0" stroke-width="6" fill="none" opacity="0.75" stroke-linecap="round"/>
<path d="M871.7,1427.1 C870.9,1425.9 868.1,1423.0 867.3,1420.1 C866.5,1417.1 866.2,1413.2 866.9,1409.6 C867.5,1405.9 869.0,1401.6 871.2,1398.0 C873.5,1394.3 876.7,1390.6 880.3,1387.9 C884.0,1385.2 888.5,1382.9 893.1,1381.6 C897.6,1380.4 902.7,1380.0 907.4,1380.6 C912.0,1381.2 916.9,1382.8 920.9,1385.0 C924.9,1387.2 928.7,1390.5 931.5,1393.8 C934.3,1397.1 936.4,1401.3 937.6,1405.0 C938.8,1408.6 939.1,1412.7 938.8,1415.9 C938.4,1419.0 937.1,1422.1 935.6,1424.0 C934.1,1426.0 931.8,1427.3 929.8,1427.5 C927.8,1427.8 925.4,1427.0 923.6,1425.5 C921.9,1424.0 920.1,1421.4 919.3,1418.5 C918.5,1415.5 918.2,1411.6 918.8,1408.0 C919.5,1404.3 921.0,1400.0 923.2,1396.4 C925.5,1392.8 928.7,1389.0 932.4,1386.3 C936.0,1383.6 940.6,1381.3 945.1,1380.1 C949.6,1378.9 954.8,1378.5 959.4,1379.1 C964.1,1379.7 968.9,1381.3 972.9,1383.5 C977.0,1385.7 980.7,1389.0 983.5,1392.3 C986.3,1395.7 988.4,1399.8 989.6,1403.5 C990.8,1407.2 991.1,1411.2 990.7,1414.4 C990.4,1417.6 989.1,1420.6 987.6,1422.5 C986.1,1424.5 983.8,1425.7 981.8,1426.0 C979.8,1426.2 977.3,1425.5 975.5,1424.0 C973.8,1422.5 972.1,1419.8 971.3,1416.9 C970.5,1414.0 970.2,1410.1 970.8,1406.4 C971.5,1402.7 973.0,1398.4 975.2,1394.8 C977.5,1391.2 980.8,1387.4 984.4,1384.7 C988.1,1382.0 992.7,1379.7 997.2,1378.5 C1001.7,1377.3 1006.8,1377.0 1011.5,1377.6 C1016.1,1378.2 1021.0,1379.8 1025.0,1382.0 C1029.0,1384.2 1032.8,1387.5 1035.5,1390.9 C1038.3,1394.2 1040.4,1398.3 1041.6,1402.0 C1042.8,1405.7 1043.0,1409.8 1042.7,1412.9 C1042.3,1416.1 1041.0,1419.1 1039.5,1421.0 C1038.0,1423.0 1035.7,1424.2 1033.7,1424.5 C1031.7,1424.7 1029.2,1423.9 1027.5,1422.4 C1025.8,1420.9 1024.0,1418.3 1023.2,1415.3 C1022.5,1412.4 1022.2,1408.5 1022.8,1404.8 C1023.5,1401.1 1026.5,1395.1 1027.3,1393.2" stroke="#fadcb8" stroke-width="7" fill="none" opacity="0.7" stroke-linecap="round"/>
<path d="M880.0,1670.0 C883.3,1661.7 891.7,1631.7 900.0,1620.0 C908.3,1608.3 920.0,1600.8 930.0,1600.0 C940.0,1599.2 952.5,1605.0 960.0,1615.0 C967.5,1625.0 972.5,1652.5 975.0,1660.0" stroke="#fadcb8" stroke-width="7" fill="none" stroke-linecap="round" stroke-linejoin="round" opacity="0.7"/>
<path d="M960.0,1670.0 C965.0,1660.8 980.0,1626.7 990.0,1615.0 C1000.0,1603.3 1010.8,1598.3 1020.0,1600.0 C1029.2,1601.7 1040.8,1620.8 1045.0,1625.0" stroke="#fadcb8" stroke-width="7" fill="none" stroke-linecap="round" stroke-linejoin="round" opacity="0.7"/>
<path d="M610.0,1665.0 C612.5,1655.8 618.3,1625.8 625.0,1610.0 C631.7,1594.2 639.2,1581.7 650.0,1570.0 C660.8,1558.3 683.3,1545.0 690.0,1540.0" stroke="#b8f0b0" stroke-width="7" fill="none" stroke-linecap="round" stroke-linejoin="round" opacity="0.6"/>
<path d="M605.0,1495.0 C608.3,1491.7 617.5,1480.5 625.0,1475.0 C632.5,1469.5 645.8,1464.2 650.0,1462.0" stroke="#fadcb8" stroke-width="9" fill="none" stroke-linecap="round" stroke-linejoin="round" opacity="0.6"/>
<path d="M628.0,1484.0 C631.7,1481.3 641.3,1472.2 650.0,1468.0 C658.7,1463.8 670.8,1460.0 680.0,1459.0 C689.2,1458.0 698.0,1458.8 705.0,1462.0 C712.0,1465.2 718.7,1471.7 722.0,1478.0 C725.3,1484.3 726.0,1493.8 725.0,1500.0 C724.0,1506.2 717.5,1512.5 716.0,1515.0" stroke="#54e04a" stroke-width="6" fill="none" stroke-linecap="round" stroke-linejoin="round" opacity="1.0"/>
<path d="M628.0,1486.0 C632.0,1484.3 641.7,1479.0 652.0,1476.0 C662.3,1473.0 680.0,1467.3 690.0,1468.0 C700.0,1468.7 707.7,1474.7 712.0,1480.0 C716.3,1485.3 716.8,1493.3 716.0,1500.0 C715.2,1506.7 708.5,1516.7 707.0,1520.0" stroke="#f6b860" stroke-width="6" fill="none" stroke-linecap="round" stroke-linejoin="round" opacity="1.0"/>
<path d="M628.0,1486.0 C630.0,1485.3 638.0,1482.7 640.0,1482.0" stroke="#f08a10" stroke-width="9" fill="none" stroke-linecap="round" stroke-linejoin="round" opacity="1.0"/>
<path d="M695.0,1515.0 C697.0,1515.8 705.0,1519.2 707.0,1520.0" stroke="#f08a10" stroke-width="9" fill="none" stroke-linecap="round" stroke-linejoin="round" opacity="1.0"/>
<path d="M840.0,1500.0 C843.3,1497.7 853.3,1487.7 860.0,1486.0 C866.7,1484.3 873.3,1487.7 880.0,1490.0 C886.7,1492.3 891.7,1498.3 900.0,1500.0 C908.3,1501.7 922.5,1502.0 930.0,1500.0 C937.5,1498.0 940.0,1487.2 945.0,1488.0 C950.0,1488.8 953.3,1500.5 960.0,1505.0 C966.7,1509.5 977.5,1513.8 985.0,1515.0 C992.5,1516.2 1001.7,1512.5 1005.0,1512.0" stroke="#54e04a" stroke-width="6" fill="none" stroke-linecap="round" stroke-linejoin="round" opacity="1.0"/>
<path d="M840.0,1505.0 C843.3,1503.2 853.3,1495.7 860.0,1494.0 C866.7,1492.3 872.5,1493.2 880.0,1495.0 C887.5,1496.8 895.8,1503.3 905.0,1505.0 C914.2,1506.7 927.8,1507.2 935.0,1505.0 C942.2,1502.8 943.5,1491.2 948.0,1492.0 C952.5,1492.8 955.0,1505.3 962.0,1510.0 C969.0,1514.7 982.8,1518.7 990.0,1520.0 C997.2,1521.3 1002.5,1518.3 1005.0,1518.0" stroke="#f6b860" stroke-width="6" fill="none" stroke-linecap="round" stroke-linejoin="round" opacity="1.0"/>
<path d="M860.0,1490.0 C856.7,1493.3 846.7,1503.3 840.0,1510.0 C833.3,1516.7 826.7,1523.3 820.0,1530.0 C813.3,1536.7 804.2,1542.5 800.0,1550.0 C795.8,1557.5 793.3,1568.3 795.0,1575.0 C796.7,1581.7 804.2,1588.3 810.0,1590.0 C815.8,1591.7 823.3,1588.3 830.0,1585.0 C836.7,1581.7 847.5,1576.7 850.0,1570.0 C852.5,1563.3 848.3,1551.7 845.0,1545.0 C841.7,1538.3 835.0,1530.0 830.0,1530.0 C825.0,1530.0 818.7,1537.5 815.0,1545.0 C811.3,1552.5 808.5,1564.2 808.0,1575.0 C807.5,1585.8 809.7,1599.2 812.0,1610.0 C814.3,1620.8 820.3,1635.0 822.0,1640.0" stroke="#54e04a" stroke-width="7" fill="none" stroke-linecap="round" stroke-linejoin="round" opacity="1.0"/>
<path d="M870.0,1498.0 C865.8,1501.7 854.2,1513.0 845.0,1520.0 C835.8,1527.0 824.2,1533.3 815.0,1540.0 C805.8,1546.7 795.5,1552.5 790.0,1560.0 C784.5,1567.5 781.2,1578.3 782.0,1585.0 C782.8,1591.7 789.5,1597.5 795.0,1600.0 C800.5,1602.5 807.5,1603.3 815.0,1600.0 C822.5,1596.7 834.2,1586.7 840.0,1580.0 C845.8,1573.3 850.0,1566.7 850.0,1560.0 C850.0,1553.3 841.7,1543.3 840.0,1540.0" stroke="#f6b860" stroke-width="7" fill="none" stroke-linecap="round" stroke-linejoin="round" opacity="1.0"/>
<path d="M800.0,1600.0 C801.3,1605.0 805.5,1620.8 808.0,1630.0 C810.5,1639.2 813.8,1650.8 815.0,1655.0" stroke="#f6b860" stroke-width="10" fill="none" stroke-linecap="round" stroke-linejoin="round" opacity="1.0"/>
<path d="M825.0,1610.0 C825.0,1615.0 825.0,1635.0 825.0,1640.0" stroke="#54e04a" stroke-width="9" fill="none" stroke-linecap="round" stroke-linejoin="round" opacity="1.0"/>
<path d="M716.0,1488.0 L726.0,1474.0" stroke="#f59a1a" stroke-width="6.5" fill="none" stroke-linecap="round"/>
<path d="M726.0,1474.0 L727.0,1452.0" stroke="#f59a1a" stroke-width="6.5" fill="none" stroke-linecap="round"/>
<path d="M727.0,1452.0 L727.0,1437.0" stroke="#f59a1a" stroke-width="6.5" fill="none" stroke-linecap="round"/>
<path d="M727.0,1437.0 L720.0,1427.0" stroke="#3b5ef0" stroke-width="5.5" fill="none" stroke-linecap="round"/>
<path d="M727.0,1437.0 L736.0,1429.0" stroke="#ee1b1b" stroke-width="5.5" fill="none" stroke-linecap="round"/>
<path d="M727.0,1462.0 L741.0,1454.0" stroke="#2ee01a" stroke-width="6.5" fill="none" stroke-linecap="round"/>
<path d="M741.0,1454.0 L751.0,1442.0" stroke="#2ee01a" stroke-width="6.5" fill="none" stroke-linecap="round"/>
<path d="M751.0,1442.0 L754.0,1433.0" stroke="#2ee01a" stroke-width="6.5" fill="none" stroke-linecap="round"/>
<path d="M754.0,1433.0 L766.0,1432.0" stroke="#ee1b1b" stroke-width="5.5" fill="none" stroke-linecap="round"/>
<path d="M754.0,1433.0 L745.0,1422.0" stroke="#ee1b1b" stroke-width="5.5" fill="none" stroke-linecap="round"/>
<path d="M822.0,1460.0 L819.0,1438.0" stroke="#2ee01a" stroke-width="6.5" fill="none" stroke-linecap="round"/>
<path d="M819.0,1438.0 L825.0,1428.0" stroke="#2ee01a" stroke-width="6.5" fill="none" stroke-linecap="round"/>
<path d="M825.0,1428.0 L836.0,1422.0" stroke="#3b5ef0" stroke-width="6.5" fill="none" stroke-linecap="round"/>
<path d="M836.0,1422.0 L846.0,1415.0" stroke="#2ee01a" stroke-width="6.5" fill="none" stroke-linecap="round"/>
<path d="M846.0,1415.0 L850.0,1412.0" stroke="#2ee01a" stroke-width="6.5" fill="none" stroke-linecap="round"/>
<path d="M846.0,1415.0 L840.0,1404.0" stroke="#3b5ef0" stroke-width="5.5" fill="none" stroke-linecap="round"/>
<path d="M846.0,1415.0 L852.0,1412.0" stroke="#3b5ef0" stroke-width="5.5" fill="none" stroke-linecap="round"/>
<path d="M862.0,1481.0 L860.0,1462.0" stroke="#f59a1a" stroke-width="6.5" fill="none" stroke-linecap="round"/>
<path d="M860.0,1462.0 L851.0,1453.0" stroke="#f59a1a" stroke-width="6.5" fill="none" stroke-linecap="round"/>
<path d="M851.0,1453.0 L858.0,1445.0" stroke="#3b5ef0" stroke-width="6.5" fill="none" stroke-linecap="round"/>
<path d="M858.0,1445.0 L866.0,1438.0" stroke="#3b5ef0" stroke-width="6.5" fill="none" stroke-linecap="round"/>
<path d="M866.0,1438.0 L872.0,1428.0" stroke="#f59a1a" stroke-width="6.5" fill="none" stroke-linecap="round"/>
<path d="M872.0,1428.0 L876.0,1424.0" stroke="#3b5ef0" stroke-width="6.5" fill="none" stroke-linecap="round"/>
<path d="M872.0,1428.0 L874.0,1418.0" stroke="#3b5ef0" stroke-width="5.5" fill="none" stroke-linecap="round"/>
<path d="M738.0,1430.0 L826.0,1421.0" stroke="#1f9a48" stroke-width="2" fill="none" stroke-dasharray="5,3.5"/>
<path d="M738.0,1432.0 L868.0,1427.0" stroke="#d08a20" stroke-width="2" fill="none" stroke-dasharray="5,3.5"/>
</g>
<rect x="596.9" y="1328.0" width="453.2" height="346.1" fill="none" stroke="#111" stroke-width="2" stroke-dasharray="3.8,2.2"/>
<circle cx="756" cy="1417" r="9.4" fill="#d01818" stroke="#8a0c0c" stroke-width="1"/>
<line x1="751.5" y1="1417.0" x2="760.5" y2="1417.0" stroke="#300" stroke-width="2.2"/>
<circle cx="853.2" cy="1391.8" r="8.8" fill="#d01818" stroke="#8a0c0c" stroke-width="1"/>
<line x1="848.7" y1="1391.8" x2="857.7" y2="1391.8" stroke="#300" stroke-width="2.2"/>
<line x1="853.2" y1="1387.3" x2="853.2" y2="1396.3" stroke="#300" stroke-width="2.2"/>
<text x="712.6" y="1385.1" font-size="26.5" fill="#1d7a40">D193</text>
<text x="807.7" y="1369.0" font-size="26.5" fill="#1d7a40">R140</text>
<text x="770.2" y="1415.1" font-size="26.5" fill="#2c9a3a">3.9 Å</text>
<text x="655.8" y="1437.0" font-size="26.5" fill="#f0a030">N198</text>
<text x="881.4" y="1424.5" font-size="26.5" fill="#f0a030">R140</text>
<text x="759.0" y="1455.3" font-size="26.5" fill="#f0a030">7.6 Å</text>
<text x="881.4" y="1486.6" font-size="26.5">ICL2</text>
<text x="613.5" y="1550.9" font-size="26.5">β2-β3 loop</text>
<clipPath id="ch"><rect x="1117.2" y="1331" width="460.0" height="343.0999999999999"/></clipPath><g clip-path="url(#ch)">
<path d="M1332.6,1467.9 C1330.1,1467.5 1321.8,1467.7 1317.6,1466.0 C1313.4,1464.2 1309.4,1460.6 1307.3,1457.5 C1305.1,1454.4 1304.4,1450.1 1304.8,1447.4 C1305.2,1444.6 1307.5,1441.9 1309.8,1441.1 C1312.1,1440.2 1315.9,1440.6 1318.5,1442.4 C1321.1,1444.2 1324.2,1447.9 1325.4,1451.9 C1326.7,1455.8 1327.1,1461.5 1326.0,1466.1 C1324.8,1470.7 1321.9,1476.1 1318.3,1479.7 C1314.7,1483.3 1309.3,1486.3 1304.5,1487.5 C1299.6,1488.7 1293.6,1488.4 1289.1,1487.0 C1284.6,1485.7 1280.2,1482.4 1277.6,1479.5 C1275.1,1476.5 1273.7,1472.1 1273.7,1469.2 C1273.7,1466.3 1275.6,1463.1 1277.7,1461.9 C1279.7,1460.6 1283.4,1460.4 1286.1,1461.8 C1288.8,1463.1 1292.1,1466.3 1293.7,1470.0 C1295.3,1473.6 1296.3,1479.1 1295.6,1483.7 C1294.8,1488.4 1292.5,1494.0 1289.3,1497.8 C1286.1,1501.7 1281.0,1505.2 1276.2,1506.9 C1271.5,1508.6 1265.4,1508.8 1260.7,1507.9 C1256.0,1507.0 1251.2,1504.1 1248.2,1501.3 C1245.3,1498.5 1243.4,1494.2 1242.9,1491.1 C1242.5,1488.0 1243.9,1484.5 1245.6,1482.9 C1247.4,1481.3 1250.9,1480.5 1253.6,1481.4 C1256.3,1482.3 1259.9,1484.9 1261.8,1488.2 C1263.7,1491.5 1265.2,1496.7 1264.9,1501.3 C1264.6,1505.9 1262.9,1511.7 1260.1,1515.8 C1257.2,1519.9 1252.5,1524.0 1247.9,1526.1 C1243.3,1528.2 1237.2,1529.0 1232.4,1528.5 C1227.6,1528.0 1222.4,1525.6 1219.1,1523.0 C1215.7,1520.5 1213.2,1516.2 1212.4,1513.1 C1211.5,1509.9 1212.3,1506.1 1213.8,1504.1 C1215.3,1502.2 1220.0,1501.7 1221.2,1501.2" stroke="#b8f0b0" stroke-width="8.84959522163098" fill="none" opacity="0.3" stroke-linecap="round"/>
<path d="M1561.3,1399.4 C1561.7,1398.3 1562.2,1393.9 1563.9,1392.6 C1565.5,1391.3 1568.6,1390.8 1571.2,1391.7 C1573.7,1392.6 1577.1,1394.9 1579.2,1398.0 C1581.3,1401.0 1583.3,1405.6 1583.7,1410.0 C1584.1,1414.4 1583.5,1419.9 1581.7,1424.2 C1579.9,1428.5 1576.6,1433.1 1572.8,1436.0 C1569.1,1439.0 1563.9,1441.2 1559.3,1441.9 C1554.7,1442.7 1549.2,1442.0 1545.1,1440.6 C1541.0,1439.3 1537.0,1436.3 1534.6,1433.6 C1532.2,1431.0 1530.8,1427.2 1530.6,1424.6 C1530.4,1422.0 1531.8,1419.2 1533.5,1418.0 C1535.2,1416.8 1538.4,1416.5 1540.9,1417.5 C1543.5,1418.5 1546.9,1420.9 1548.9,1424.1 C1550.9,1427.2 1552.8,1431.9 1553.1,1436.4 C1553.4,1440.8 1552.7,1446.2 1550.8,1450.5 C1548.8,1454.8 1545.4,1459.3 1541.6,1462.1 C1537.8,1465.0 1532.5,1467.0 1527.9,1467.7 C1523.3,1468.3 1517.9,1467.5 1513.8,1466.0 C1509.8,1464.6 1505.9,1461.5 1503.6,1458.8 C1501.3,1456.1 1500.0,1452.4 1499.9,1449.8 C1499.9,1447.3 1501.3,1444.6 1503.1,1443.5 C1504.9,1442.4 1508.1,1442.1 1510.7,1443.3 C1513.3,1444.4 1516.6,1447.0 1518.6,1450.2 C1520.5,1453.5 1522.3,1458.3 1522.5,1462.7 C1522.7,1467.1 1521.8,1472.6 1519.8,1476.9 C1517.8,1481.1 1514.2,1485.5 1510.3,1488.2 C1506.4,1491.0 1501.1,1492.9 1496.5,1493.4 C1491.9,1494.0 1484.8,1491.8 1482.5,1491.4" stroke="#fadcb8" stroke-width="9.789930162147737" fill="none" opacity="0.3" stroke-linecap="round"/>
<path d="M1471.6,1520.2 C1473.5,1519.2 1479.2,1515.0 1483.1,1513.8 C1487.1,1512.5 1491.5,1512.1 1495.3,1512.8 C1499.1,1513.5 1502.9,1515.4 1505.8,1518.0 C1508.7,1520.6 1511.2,1524.4 1512.8,1528.3 C1514.5,1532.2 1515.3,1537.1 1515.5,1541.5 C1515.7,1545.8 1515.0,1550.6 1514.1,1554.3 C1513.2,1558.0 1511.5,1561.5 1510.0,1563.7 C1508.6,1566.0 1506.6,1567.4 1505.3,1567.7 C1504.0,1568.0 1502.7,1567.1 1502.2,1565.5 C1501.8,1563.9 1501.8,1561.0 1502.6,1558.1 C1503.5,1555.1 1505.1,1551.2 1507.4,1547.9 C1509.6,1544.5 1512.8,1540.7 1516.2,1538.0 C1519.6,1535.3 1523.8,1532.7 1527.7,1531.5 C1531.7,1530.2 1536.1,1529.8 1539.9,1530.5 C1543.7,1531.1 1547.5,1533.0 1550.4,1535.6 C1553.4,1538.2 1555.9,1542.0 1557.5,1545.9 C1559.1,1549.8 1560.0,1554.7 1560.2,1559.1 C1560.4,1563.4 1559.8,1568.2 1558.9,1571.9 C1558.0,1575.6 1556.2,1579.1 1554.8,1581.4 C1553.3,1583.6 1551.4,1585.1 1550.1,1585.4 C1548.8,1585.7 1547.4,1584.8 1547.0,1583.2 C1546.5,1581.6 1546.5,1578.8 1547.3,1575.8 C1548.2,1572.9 1549.8,1569.0 1552.0,1565.7 C1554.3,1562.3 1557.4,1558.5 1560.8,1555.8 C1564.2,1553.0 1568.4,1550.5 1572.3,1549.2 C1576.3,1547.9 1580.7,1547.5 1584.5,1548.1 C1588.3,1548.8 1592.1,1550.7 1595.1,1553.2 C1598.0,1555.8 1600.5,1559.6 1602.2,1563.5 C1603.8,1567.4 1604.7,1572.3 1604.9,1576.6 C1605.2,1581.0 1604.5,1585.8 1603.6,1589.5 C1602.7,1593.2 1601.0,1596.7 1599.5,1599.0 C1598.1,1601.3 1595.6,1602.4 1594.8,1603.1" stroke="#b8f0b0" stroke-width="9.129373983003312" fill="none" opacity="0.3" stroke-linecap="round"/>
<path d="M1352.5,1408.4 C1350.3,1409.5 1343.6,1413.7 1339.6,1414.8 C1335.5,1416.0 1331.1,1416.0 1328.2,1415.3 C1325.2,1414.7 1322.8,1412.8 1321.9,1410.8 C1320.9,1408.9 1321.2,1406.0 1322.7,1403.7 C1324.2,1401.4 1327.2,1398.7 1330.8,1397.0 C1334.4,1395.4 1339.5,1393.9 1344.3,1393.8 C1349.1,1393.6 1354.9,1394.2 1359.7,1395.9 C1364.5,1397.6 1369.5,1400.4 1373.0,1403.9 C1376.5,1407.4 1379.4,1412.0 1380.8,1416.6 C1382.2,1421.3 1382.4,1426.8 1381.3,1431.6 C1380.3,1436.5 1377.8,1441.6 1374.7,1445.7 C1371.7,1449.8 1367.3,1453.5 1363.2,1456.0 C1359.1,1458.5 1354.2,1460.1 1350.3,1460.8 C1346.4,1461.4 1342.5,1460.8 1340.0,1459.7 C1337.6,1458.6 1335.8,1456.3 1335.6,1454.2 C1335.4,1452.0 1336.5,1449.0 1338.6,1446.8 C1340.8,1444.6 1344.5,1442.2 1348.5,1440.8 C1352.6,1439.5 1358.0,1438.6 1363.0,1439.0 C1367.9,1439.3 1373.6,1440.6 1378.1,1442.8 C1382.7,1445.0 1387.2,1448.5 1390.2,1452.3 C1393.2,1456.2 1395.3,1461.2 1396.0,1466.0 C1396.7,1470.8 1396.1,1476.3 1394.4,1481.0 C1392.7,1485.8 1389.5,1490.6 1386.1,1494.3 C1382.6,1498.0 1377.9,1501.2 1373.7,1503.2 C1369.6,1505.2 1364.8,1506.1 1361.2,1506.2 C1357.6,1506.3 1354.2,1505.1 1352.3,1503.7 C1350.5,1502.2 1349.5,1499.6 1350.0,1497.3 C1350.4,1495.0 1352.3,1492.1 1355.1,1490.0 C1357.9,1488.0 1362.2,1485.9 1366.6,1485.0 C1371.1,1484.1 1376.7,1483.8 1381.7,1484.6 C1386.6,1485.5 1392.1,1487.4 1396.3,1490.2 C1400.5,1492.9 1404.5,1496.9 1406.9,1501.1 C1409.2,1505.3 1410.6,1510.6 1410.6,1515.5 C1410.6,1520.4 1409.2,1525.8 1406.9,1530.3 C1404.7,1534.9 1400.9,1539.3 1397.1,1542.6 C1393.3,1545.8 1388.4,1548.4 1384.3,1549.8 C1380.2,1551.3 1375.6,1551.6 1372.4,1551.2 C1369.3,1550.8 1366.4,1548.0 1365.2,1547.3" stroke="#fadcb8" stroke-width="10.223948974458997" fill="none" opacity="0.3" stroke-linecap="round"/>
<path d="M1370.8,1507.8 C1373.0,1506.3 1379.6,1499.6 1383.8,1498.9 C1388.1,1498.2 1393.7,1500.3 1396.3,1503.6 C1399.0,1506.9 1400.2,1514.2 1400.0,1518.9 C1399.7,1523.5 1396.6,1529.5 1394.8,1531.6 C1393.1,1533.6 1389.8,1533.1 1389.4,1531.0 C1389.0,1529.0 1389.9,1522.9 1392.5,1519.2 C1395.0,1515.5 1400.4,1510.2 1404.6,1508.9 C1408.9,1507.5 1414.8,1508.5 1417.9,1511.2 C1421.0,1514.0 1423.0,1520.8 1423.2,1525.6 C1423.4,1530.3 1420.7,1537.0 1419.0,1539.6 C1417.3,1542.2 1413.8,1542.9 1413.0,1541.4 C1412.2,1539.9 1412.3,1534.4 1414.4,1530.7 C1416.5,1527.0 1421.3,1521.1 1425.5,1519.2 C1429.6,1517.2 1435.8,1517.0 1439.3,1519.2 C1442.7,1521.4 1445.5,1527.6 1446.2,1532.2 C1446.8,1536.9 1444.8,1544.1 1443.2,1547.3 C1441.6,1550.5 1437.9,1552.3 1436.7,1551.5 C1435.6,1550.6 1434.9,1545.8 1436.5,1542.2 C1438.1,1538.6 1442.4,1532.2 1446.4,1529.8 C1450.3,1527.4 1456.7,1526.0 1460.4,1527.5 C1464.2,1529.1 1467.7,1534.5 1468.9,1539.0 C1470.0,1543.5 1468.6,1551.0 1467.2,1554.7 C1465.9,1558.4 1462.0,1561.3 1460.7,1561.1 C1459.3,1561.0 1457.9,1557.0 1459.0,1553.6 C1460.1,1550.2 1463.6,1543.6 1467.4,1540.7 C1471.1,1537.8 1477.4,1535.4 1481.4,1536.2 C1485.4,1537.1 1489.7,1541.6 1491.3,1545.9 C1492.9,1550.1 1491.2,1559.2 1491.2,1561.9" stroke="#b8f0b0" stroke-width="8.35684758382229" fill="none" opacity="0.3" stroke-linecap="round"/>
<path d="M1134.3,1294.1 C1136.0,1294.8 1141.4,1296.0 1144.6,1298.1 C1147.8,1300.1 1151.3,1303.1 1153.5,1306.4 C1155.6,1309.7 1157.2,1313.8 1157.4,1317.6 C1157.7,1321.3 1156.7,1325.6 1155.0,1329.0 C1153.2,1332.4 1150.0,1335.7 1146.9,1337.9 C1143.7,1340.2 1139.4,1341.8 1136.0,1342.7 C1132.5,1343.5 1128.6,1343.4 1126.1,1342.9 C1123.6,1342.5 1121.5,1341.1 1120.7,1340.1 C1120.0,1339.0 1120.4,1337.4 1121.7,1336.6 C1123.0,1335.8 1125.7,1335.0 1128.5,1335.2 C1131.4,1335.4 1135.4,1336.2 1138.6,1337.9 C1141.9,1339.6 1145.7,1342.2 1148.3,1345.1 C1150.8,1348.1 1153.0,1352.1 1153.8,1355.8 C1154.6,1359.5 1154.4,1363.8 1153.1,1367.4 C1151.9,1371.0 1149.2,1374.6 1146.4,1377.3 C1143.5,1379.9 1139.4,1382.0 1135.9,1383.2 C1132.4,1384.5 1128.2,1384.8 1125.3,1384.6 C1122.4,1384.5 1119.7,1383.4 1118.5,1382.4 C1117.2,1381.4 1116.9,1379.8 1117.6,1378.8 C1118.4,1377.9 1120.5,1376.8 1123.0,1376.6 C1125.5,1376.5 1129.3,1376.8 1132.6,1378.1 C1135.9,1379.3 1139.9,1381.5 1142.8,1384.1 C1145.6,1386.8 1148.4,1390.5 1149.7,1394.1 C1151.0,1397.6 1151.5,1402.0 1150.8,1405.7 C1150.1,1409.4 1148.1,1413.3 1145.6,1416.3 C1143.1,1419.2 1139.2,1421.8 1135.8,1423.5 C1132.3,1425.1 1128.0,1425.9 1124.8,1426.1 C1121.7,1426.3 1118.5,1425.5 1116.7,1424.7 C1114.9,1423.8 1113.9,1422.2 1114.1,1421.2 C1114.3,1420.1 1117.2,1418.8 1117.9,1418.3" stroke="#fadcb8" stroke-width="10.559699978425344" fill="none" opacity="0.3" stroke-linecap="round"/>
<path d="M1355.3,1371.6 C1357.1,1370.6 1362.2,1367.0 1366.1,1365.8 C1370.0,1364.5 1374.5,1363.7 1378.5,1363.9 C1382.5,1364.1 1386.7,1365.2 1390.2,1367.1 C1393.6,1368.9 1396.8,1371.8 1399.1,1375.0 C1401.4,1378.2 1403.0,1382.4 1403.8,1386.4 C1404.7,1390.4 1404.6,1395.0 1404.1,1398.9 C1403.5,1402.9 1402.1,1407.0 1400.6,1410.1 C1399.0,1413.2 1396.8,1416.0 1395.0,1417.7 C1393.1,1419.4 1391.0,1420.4 1389.6,1420.4 C1388.2,1420.5 1386.9,1419.6 1386.5,1418.2 C1386.2,1416.8 1386.3,1414.5 1387.4,1412.2 C1388.4,1409.9 1390.3,1406.9 1392.8,1404.4 C1395.3,1402.0 1398.7,1399.3 1402.3,1397.5 C1405.8,1395.7 1410.2,1394.1 1414.2,1393.6 C1418.2,1393.1 1422.7,1393.3 1426.5,1394.5 C1430.3,1395.6 1434.0,1397.7 1436.9,1400.3 C1439.8,1403.0 1442.1,1406.7 1443.6,1410.4 C1445.1,1414.1 1445.8,1418.7 1445.9,1422.7 C1445.9,1426.8 1445.0,1431.2 1443.9,1434.8 C1442.8,1438.4 1440.8,1441.9 1439.0,1444.3 C1437.2,1446.7 1434.2,1448.5 1433.2,1449.3" stroke="#b8f0b0" stroke-width="8.882555168275665" fill="none" opacity="0.3" stroke-linecap="round"/>
<path d="M1407.0,1457.3 C1406.7,1456.3 1405.2,1454.1 1405.4,1451.7 C1405.7,1449.3 1406.7,1445.9 1408.6,1442.9 C1410.5,1440.0 1413.4,1436.5 1416.7,1434.0 C1420.0,1431.5 1424.2,1429.1 1428.3,1428.0 C1432.4,1426.8 1437.2,1426.4 1441.3,1427.1 C1445.4,1427.8 1449.6,1429.7 1452.8,1432.2 C1456.1,1434.8 1458.9,1438.6 1460.7,1442.4 C1462.5,1446.2 1463.5,1451.0 1463.7,1455.2 C1463.9,1459.4 1463.1,1464.0 1462.0,1467.6 C1460.9,1471.1 1458.8,1474.4 1457.0,1476.5 C1455.2,1478.6 1452.9,1479.8 1451.3,1480.0 C1449.7,1480.2 1448.0,1479.1 1447.4,1477.5 C1446.8,1475.9 1446.7,1473.1 1447.6,1470.4 C1448.4,1467.7 1450.2,1464.1 1452.7,1461.2 C1455.1,1458.3 1458.7,1455.1 1462.3,1453.0 C1466.0,1451.0 1470.6,1449.3 1474.8,1448.8 C1479.0,1448.4 1483.7,1448.8 1487.5,1450.3 C1491.4,1451.7 1495.2,1454.4 1497.9,1457.5 C1500.7,1460.7 1502.8,1465.0 1504.0,1469.1 C1505.2,1473.1 1505.4,1478.0 1505.1,1482.1 C1504.7,1486.2 1503.3,1490.4 1501.8,1493.5 C1500.4,1496.5 1498.1,1499.1 1496.3,1500.4 C1494.4,1501.8 1492.2,1502.1 1490.9,1501.6 C1489.6,1501.0 1488.5,1499.2 1488.4,1497.1 C1488.3,1495.0 1488.9,1491.7 1490.4,1488.8 C1491.9,1485.9 1494.4,1482.3 1497.4,1479.6 C1500.4,1477.0 1504.5,1474.2 1508.5,1472.7 C1512.4,1471.2 1517.2,1470.3 1521.3,1470.5 C1525.5,1470.8 1530.0,1472.2 1533.5,1474.3 C1537.0,1476.5 1540.2,1479.9 1542.3,1483.5 C1544.5,1487.1 1545.8,1493.9 1546.5,1496.0" stroke="#fadcb8" stroke-width="9.286539268817576" fill="none" opacity="0.3" stroke-linecap="round"/>
<path d="M1549.9,1359.7 C1551.0,1361.8 1555.6,1367.2 1556.9,1371.9 C1558.3,1376.6 1558.8,1382.5 1557.9,1387.9 C1557.1,1393.2 1554.9,1399.3 1551.9,1404.1 C1548.9,1408.9 1544.5,1413.6 1540.0,1416.7 C1535.5,1419.9 1529.8,1422.2 1524.9,1423.1 C1520.0,1424.1 1514.6,1423.6 1510.5,1422.4 C1506.4,1421.2 1502.6,1418.4 1500.2,1415.7 C1497.9,1413.0 1496.6,1409.1 1496.5,1406.0 C1496.4,1402.8 1497.7,1399.2 1499.6,1397.0 C1501.5,1394.7 1504.9,1392.8 1508.1,1392.3 C1511.3,1391.9 1515.5,1392.5 1518.9,1394.4 C1522.2,1396.2 1525.8,1399.5 1528.0,1403.5 C1530.3,1407.4 1532.1,1412.7 1532.4,1417.9 C1532.7,1423.1 1531.8,1429.3 1529.9,1434.5 C1528.0,1439.7 1524.6,1445.3 1520.7,1449.4 C1516.9,1453.5 1511.7,1457.1 1506.8,1459.2 C1502.0,1461.3 1496.3,1462.3 1491.6,1462.1 C1486.9,1461.9 1482.2,1460.2 1478.8,1458.1 C1475.5,1456.0 1472.8,1452.6 1471.6,1449.5 C1470.3,1446.4 1470.3,1442.5 1471.3,1439.6 C1472.2,1436.8 1474.7,1433.9 1477.4,1432.4 C1480.1,1430.9 1484.0,1430.2 1487.4,1430.9 C1490.8,1431.5 1494.9,1433.5 1497.9,1436.5 C1500.8,1439.4 1503.6,1443.8 1505.0,1448.5 C1506.4,1453.2 1506.9,1459.1 1506.1,1464.5 C1505.3,1469.8 1503.2,1475.9 1500.2,1480.7 C1497.3,1485.5 1492.8,1490.2 1488.4,1493.4 C1483.9,1496.7 1478.3,1499.0 1473.3,1500.0 C1468.4,1500.9 1463.0,1500.5 1458.9,1499.3 C1454.7,1498.1 1450.3,1493.8 1448.5,1492.7" stroke="#b8f0b0" stroke-width="9.037043443219563" fill="none" opacity="0.3" stroke-linecap="round"/>
<path d="M1304.0,1533.7 C1304.8,1535.7 1307.9,1541.8 1308.7,1545.7 C1309.4,1549.6 1309.1,1553.8 1308.4,1557.2 C1307.6,1560.5 1305.9,1563.6 1304.2,1565.6 C1302.5,1567.6 1300.0,1568.9 1298.0,1569.3 C1296.1,1569.6 1293.8,1568.9 1292.4,1567.6 C1291.0,1566.3 1289.9,1563.9 1289.7,1561.4 C1289.5,1558.9 1290.0,1555.6 1291.4,1552.6 C1292.8,1549.6 1295.2,1546.3 1298.1,1543.7 C1301.1,1541.2 1305.0,1538.7 1309.1,1537.3 C1313.1,1535.9 1318.0,1535.2 1322.5,1535.4 C1326.9,1535.7 1331.8,1536.9 1335.9,1538.8 C1340.0,1540.7 1344.0,1543.8 1347.0,1547.0 C1350.0,1550.3 1352.4,1554.5 1353.9,1558.4 C1355.4,1562.3 1356.0,1566.8 1355.8,1570.5 C1355.7,1574.2 1354.6,1577.9 1353.3,1580.6 C1351.9,1583.3 1349.7,1585.5 1347.7,1586.6 C1345.8,1587.7 1343.3,1588.0 1341.6,1587.4 C1339.8,1586.8 1338.0,1585.1 1337.2,1583.1 C1336.4,1581.1 1336.1,1578.1 1336.8,1575.2 C1337.4,1572.4 1338.9,1568.9 1341.2,1566.0 C1343.4,1563.2 1346.7,1560.2 1350.3,1558.2 C1353.9,1556.2 1358.5,1554.6 1362.9,1554.0 C1367.2,1553.5 1372.2,1553.8 1376.6,1554.9 C1381.0,1556.1 1385.5,1558.4 1389.1,1561.1 C1392.6,1563.8 1395.9,1567.6 1398.1,1571.3 C1400.3,1575.0 1401.7,1579.4 1402.3,1583.3 C1402.9,1587.2 1402.5,1591.4 1401.7,1594.7 C1400.8,1597.9 1399.0,1600.9 1397.3,1602.8 C1395.5,1604.7 1393.0,1605.9 1391.1,1606.1 C1389.1,1606.3 1386.9,1605.5 1385.6,1604.0 C1384.3,1602.6 1383.2,1600.1 1383.2,1597.6 C1383.1,1595.0 1383.7,1591.6 1385.3,1588.7 C1386.8,1585.7 1391.1,1581.3 1392.3,1579.9" stroke="#fadcb8" stroke-width="8.713122077012848" fill="none" opacity="0.3" stroke-linecap="round"/>
<path d="M1109.6,1505.3 C1110.4,1503.4 1111.5,1497.5 1114.3,1494.3 C1117.1,1491.1 1121.7,1487.8 1126.3,1486.2 C1130.8,1484.6 1136.9,1484.0 1141.9,1484.7 C1146.8,1485.4 1152.2,1487.8 1155.9,1490.5 C1159.5,1493.2 1162.5,1497.5 1163.8,1501.0 C1165.1,1504.4 1164.8,1508.7 1163.9,1511.4 C1162.9,1514.0 1160.1,1516.4 1157.9,1517.0 C1155.6,1517.7 1152.3,1517.0 1150.4,1515.4 C1148.6,1513.7 1146.7,1510.4 1146.7,1507.2 C1146.7,1504.0 1147.8,1499.5 1150.3,1496.2 C1152.7,1492.9 1156.9,1489.3 1161.3,1487.4 C1165.7,1485.6 1171.7,1484.5 1176.7,1484.9 C1181.7,1485.3 1187.4,1487.2 1191.3,1489.7 C1195.2,1492.2 1198.6,1496.3 1200.2,1499.8 C1201.9,1503.2 1202.1,1507.6 1201.4,1510.5 C1200.7,1513.4 1198.2,1516.1 1196.0,1517.1 C1193.9,1518.1 1190.5,1517.8 1188.5,1516.5 C1186.4,1515.1 1184.3,1512.1 1183.9,1509.0 C1183.6,1506.0 1184.3,1501.5 1186.4,1498.2 C1188.5,1494.8 1192.3,1491.0 1196.5,1488.8 C1200.7,1486.6 1206.5,1485.2 1211.5,1485.2 C1216.6,1485.3 1222.4,1486.8 1226.6,1489.1 C1230.7,1491.3 1234.5,1495.2 1236.5,1498.6 C1238.6,1502.0 1239.2,1506.5 1238.8,1509.6 C1238.4,1512.6 1236.2,1515.6 1234.2,1516.9 C1232.1,1518.3 1228.7,1518.5 1226.6,1517.4 C1224.4,1516.4 1222.2,1511.9 1221.3,1510.8" stroke="#b8f0b0" stroke-width="8.513737848676943" fill="none" opacity="0.3" stroke-linecap="round"/>
<path d="M1473.4,1630.5 C1473.0,1629.9 1470.8,1627.8 1471.1,1626.5 C1471.4,1625.3 1473.0,1623.8 1475.1,1623.1 C1477.3,1622.5 1480.7,1622.1 1484.1,1622.6 C1487.4,1623.1 1491.7,1624.4 1495.2,1626.4 C1498.7,1628.4 1502.4,1631.3 1504.9,1634.5 C1507.5,1637.8 1509.5,1641.9 1510.3,1645.8 C1511.0,1649.7 1510.8,1654.2 1509.5,1658.0 C1508.3,1661.8 1505.7,1665.6 1502.8,1668.6 C1499.9,1671.5 1495.8,1674.0 1492.2,1675.5 C1488.5,1677.1 1484.2,1677.8 1480.9,1678.0 C1477.6,1678.1 1474.3,1677.3 1472.3,1676.4 C1470.4,1675.5 1469.1,1673.8 1469.1,1672.6 C1469.1,1671.3 1470.3,1669.7 1472.1,1668.9 C1474.0,1668.1 1477.3,1667.5 1480.5,1667.8 C1483.7,1668.1 1487.9,1669.1 1491.5,1670.8 C1495.0,1672.6 1498.9,1675.3 1501.7,1678.3 C1504.4,1681.4 1506.8,1685.4 1507.9,1689.3 C1508.9,1693.1 1509.0,1697.6 1508.1,1701.5 C1507.1,1705.3 1504.9,1709.4 1502.2,1712.5 C1499.6,1715.6 1495.6,1718.3 1492.0,1720.1 C1488.4,1721.9 1484.0,1722.9 1480.6,1723.2 C1477.2,1723.6 1473.6,1723.0 1471.4,1722.2 C1469.2,1721.5 1467.9,1719.2 1467.2,1718.6" stroke="#fadcb8" stroke-width="8.82850166880278" fill="none" opacity="0.3" stroke-linecap="round"/>
<path d="M1573.0,1590.4 C1570.8,1588.8 1562.8,1584.7 1559.6,1581.0 C1556.5,1577.3 1554.4,1572.1 1553.9,1568.0 C1553.3,1563.9 1554.5,1559.3 1556.3,1556.6 C1558.1,1553.8 1561.6,1551.6 1564.6,1551.3 C1567.5,1551.0 1571.5,1552.2 1573.9,1554.5 C1576.4,1556.8 1578.8,1561.0 1579.3,1565.2 C1579.8,1569.3 1579.2,1575.0 1577.0,1579.5 C1574.9,1584.0 1571.0,1588.9 1566.6,1592.1 C1562.1,1595.3 1555.9,1597.8 1550.3,1598.5 C1544.8,1599.3 1538.1,1598.4 1533.1,1596.5 C1528.0,1594.6 1523.0,1590.8 1519.9,1587.0 C1516.7,1583.3 1514.7,1578.1 1514.2,1574.0 C1513.7,1569.9 1515.0,1565.4 1516.9,1562.6 C1518.7,1559.9 1522.3,1557.8 1525.2,1557.6 C1528.1,1557.3 1532.1,1558.6 1534.5,1560.9 C1536.9,1563.3 1539.3,1567.5 1539.7,1571.7 C1540.2,1575.9 1539.5,1581.6 1537.3,1586.0 C1535.1,1590.5 1531.2,1595.5 1526.7,1598.6 C1522.2,1601.7 1516.0,1604.2 1510.4,1604.9 C1504.8,1605.5 1498.2,1604.6 1493.2,1602.7 C1488.1,1600.7 1483.2,1596.8 1480.1,1593.1 C1477.0,1589.3 1475.1,1584.1 1474.6,1580.0 C1474.2,1575.9 1475.6,1571.4 1477.4,1568.7 C1479.3,1566.0 1482.9,1564.0 1485.8,1563.8 C1488.8,1563.6 1492.7,1565.0 1495.1,1567.4 C1497.5,1569.8 1499.8,1574.1 1500.2,1578.3 C1500.6,1582.5 1499.8,1588.1 1497.6,1592.6 C1495.4,1597.1 1491.3,1602.0 1486.8,1605.1 C1482.3,1608.2 1476.0,1610.6 1470.4,1611.2 C1464.8,1611.8 1458.3,1610.8 1453.2,1608.8 C1448.2,1606.8 1443.3,1602.9 1440.3,1599.1 C1437.3,1595.3 1435.4,1590.0 1435.0,1586.0 C1434.7,1582.0 1436.1,1577.5 1438.0,1574.8 C1439.9,1572.2 1443.5,1570.2 1446.4,1570.1 C1449.4,1569.9 1453.3,1571.3 1455.7,1573.8 C1458.1,1576.3 1460.3,1580.6 1460.6,1584.8 C1461.0,1589.1 1460.2,1594.7 1457.9,1599.2 C1455.6,1603.6 1448.8,1609.5 1446.9,1611.6" stroke="#b8f0b0" stroke-width="11.344978821978874" fill="none" opacity="0.3" stroke-linecap="round"/>
<path d="M1113.2,1616.2 C1114.9,1616.1 1120.0,1615.3 1123.6,1616.0 C1127.2,1616.8 1131.5,1618.4 1134.8,1620.7 C1138.1,1623.0 1141.4,1626.3 1143.4,1629.8 C1145.3,1633.3 1146.6,1637.8 1146.7,1641.8 C1146.8,1645.9 1145.7,1650.4 1143.9,1654.0 C1142.1,1657.7 1139.1,1661.2 1136.1,1663.7 C1133.2,1666.2 1129.3,1668.1 1126.2,1669.1 C1123.1,1670.0 1119.7,1670.0 1117.5,1669.6 C1115.4,1669.1 1113.7,1667.7 1113.3,1666.4 C1112.9,1665.1 1113.5,1663.2 1115.1,1662.0 C1116.6,1660.7 1119.5,1659.4 1122.5,1659.0 C1125.6,1658.7 1129.7,1658.8 1133.4,1659.9 C1137.0,1661.0 1141.2,1662.9 1144.3,1665.6 C1147.4,1668.2 1150.3,1671.8 1151.9,1675.5 C1153.5,1679.2 1154.2,1683.8 1153.9,1687.8 C1153.6,1691.8 1151.9,1696.2 1149.9,1699.7 C1147.8,1703.1 1144.4,1706.4 1141.3,1708.6 C1138.2,1710.7 1134.3,1712.2 1131.4,1712.8 C1128.4,1713.4 1125.3,1713.0 1123.5,1712.4 C1121.6,1711.7 1121.0,1709.3 1120.5,1708.7" stroke="#fadcb8" stroke-width="8.523706441566942" fill="none" opacity="0.3" stroke-linecap="round"/>
<path d="M1307.0,1500.1 C1308.4,1499.4 1312.0,1496.3 1315.6,1495.6 C1319.2,1495.0 1324.1,1494.9 1328.4,1496.1 C1332.7,1497.2 1337.7,1499.6 1341.3,1502.6 C1344.9,1505.7 1348.3,1510.0 1350.2,1514.4 C1352.0,1518.8 1352.8,1524.2 1352.2,1528.9 C1351.7,1533.6 1349.6,1538.7 1346.9,1542.6 C1344.2,1546.5 1340.0,1550.1 1336.1,1552.4 C1332.2,1554.7 1327.3,1556.0 1323.5,1556.4 C1319.7,1556.7 1315.8,1555.8 1313.4,1554.5 C1310.9,1553.2 1309.3,1550.8 1309.1,1548.7 C1308.9,1546.7 1310.1,1544.0 1312.2,1542.3 C1314.4,1540.6 1318.1,1538.9 1321.9,1538.5 C1325.7,1538.1 1330.8,1538.5 1335.0,1540.0 C1339.3,1541.6 1344.1,1544.3 1347.5,1547.6 C1350.8,1551.0 1353.8,1555.6 1355.2,1560.1 C1356.6,1564.6 1356.9,1570.1 1355.9,1574.7 C1355.0,1579.4 1352.4,1584.3 1349.4,1588.0 C1346.5,1591.6 1342.0,1594.9 1338.0,1596.8 C1334.0,1598.7 1329.2,1599.6 1325.5,1599.6 C1321.9,1599.7 1318.3,1598.4 1316.2,1596.9 C1314.2,1595.4 1313.0,1592.8 1313.2,1590.7 C1313.5,1588.7 1315.2,1586.0 1317.7,1584.5 C1320.2,1583.0 1326.5,1582.1 1328.3,1581.6" stroke="#b8f0b0" stroke-width="9.814293391364316" fill="none" opacity="0.3" stroke-linecap="round"/>
<path d="M1259.8,1644.0 C1258.5,1643.2 1254.1,1641.5 1252.1,1639.4 C1250.2,1637.2 1248.6,1634.2 1248.1,1631.3 C1247.6,1628.4 1247.9,1624.8 1249.1,1621.8 C1250.4,1618.8 1252.7,1615.6 1255.7,1613.2 C1258.7,1610.9 1262.8,1608.8 1267.2,1607.7 C1271.5,1606.7 1276.8,1606.3 1281.9,1606.9 C1287.0,1607.5 1292.6,1609.0 1297.6,1611.3 C1302.6,1613.5 1307.7,1616.8 1311.9,1620.5 C1316.0,1624.1 1319.8,1628.7 1322.5,1633.1 C1325.2,1637.6 1327.1,1642.6 1328.1,1647.2 C1329.0,1651.7 1328.9,1656.4 1328.1,1660.2 C1327.3,1664.1 1325.4,1667.7 1323.2,1670.2 C1321.1,1672.8 1318.0,1674.7 1315.1,1675.6 C1312.3,1676.5 1308.8,1676.5 1306.1,1675.7 C1303.3,1675.0 1300.4,1673.2 1298.4,1671.0 C1296.5,1668.9 1295.0,1665.8 1294.5,1662.9 C1294.0,1660.0 1294.3,1656.4 1295.6,1653.4 C1296.9,1650.4 1299.3,1647.2 1302.3,1644.9 C1305.3,1642.6 1309.5,1640.5 1313.8,1639.5 C1318.2,1638.4 1323.5,1638.1 1328.6,1638.7 C1333.7,1639.3 1339.3,1640.9 1344.3,1643.2 C1349.3,1645.5 1354.4,1648.8 1358.6,1652.4 C1362.7,1656.1 1366.4,1660.7 1369.1,1665.1 C1371.8,1669.6 1373.7,1674.7 1374.6,1679.2 C1375.5,1683.7 1375.3,1688.4 1374.5,1692.2 C1373.7,1696.1 1371.7,1699.6 1369.6,1702.2 C1367.4,1704.7 1364.3,1706.6 1361.4,1707.4 C1358.6,1708.3 1355.1,1708.3 1352.3,1707.5 C1349.6,1706.7 1346.7,1704.9 1344.8,1702.7 C1342.9,1700.6 1341.3,1697.5 1340.9,1694.5 C1340.5,1691.6 1340.8,1688.0 1342.1,1685.0 C1343.5,1682.0 1345.8,1678.9 1348.9,1676.6 C1352.0,1674.2 1356.1,1672.2 1360.5,1671.2 C1364.9,1670.2 1370.2,1669.9 1375.3,1670.5 C1380.4,1671.2 1386.0,1672.8 1391.0,1675.1 C1396.0,1677.4 1402.8,1682.9 1405.2,1684.4" stroke="#fadcb8" stroke-width="11.930141037288342" fill="none" opacity="0.3" stroke-linecap="round"/>
<path d="M1239.4,1652.0 C1239.3,1651.3 1237.7,1649.7 1238.4,1648.0 C1239.1,1646.3 1241.0,1643.6 1243.6,1641.6 C1246.1,1639.6 1250.0,1637.3 1254.0,1636.0 C1257.9,1634.7 1262.8,1633.7 1267.0,1634.0 C1271.3,1634.2 1275.9,1635.3 1279.3,1637.3 C1282.8,1639.3 1285.9,1642.4 1287.6,1645.9 C1289.4,1649.3 1290.2,1653.9 1290.0,1658.0 C1289.8,1662.2 1288.3,1666.9 1286.5,1670.8 C1284.7,1674.6 1281.7,1678.4 1279.1,1681.0 C1276.5,1683.6 1273.3,1685.5 1271.0,1686.4 C1268.8,1687.3 1266.6,1687.0 1265.8,1686.3 C1264.9,1685.5 1264.8,1683.5 1265.8,1681.7 C1266.9,1679.8 1269.1,1677.1 1272.0,1675.2 C1274.9,1673.2 1279.1,1671.0 1283.1,1670.0 C1287.2,1668.9 1292.2,1668.3 1296.3,1668.8 C1300.5,1669.4 1304.9,1670.9 1308.1,1673.1 C1311.3,1675.4 1314.0,1678.9 1315.5,1682.6 C1316.9,1686.2 1317.2,1690.9 1316.7,1695.0 C1316.2,1699.2 1314.4,1703.9 1312.4,1707.6 C1310.3,1711.2 1307.2,1714.7 1304.6,1717.1 C1302.0,1719.4 1298.1,1720.7 1296.8,1721.5" stroke="#b8f0b0" stroke-width="10.640967369499895" fill="none" opacity="0.3" stroke-linecap="round"/>
<path d="M1425.4,1437.8 C1427.6,1438.8 1434.6,1440.7 1438.5,1443.7 C1442.4,1446.7 1446.4,1451.1 1448.9,1455.8 C1451.4,1460.5 1453.2,1466.4 1453.5,1471.8 C1453.9,1477.3 1452.9,1483.4 1450.9,1488.5 C1448.9,1493.6 1445.4,1498.7 1441.6,1502.4 C1437.8,1506.1 1432.6,1509.1 1428.0,1510.8 C1423.3,1512.5 1417.8,1513.0 1413.5,1512.5 C1409.1,1512.1 1404.8,1510.2 1401.9,1508.1 C1399.1,1506.0 1397.0,1502.7 1396.3,1499.9 C1395.6,1497.1 1396.3,1493.7 1397.9,1491.3 C1399.5,1488.9 1402.7,1486.5 1406.1,1485.6 C1409.5,1484.6 1414.3,1484.4 1418.5,1485.5 C1422.7,1486.6 1427.7,1489.0 1431.5,1492.2 C1435.3,1495.4 1439.1,1500.0 1441.4,1504.8 C1443.7,1509.6 1445.2,1515.6 1445.3,1521.1 C1445.4,1526.6 1444.1,1532.7 1441.9,1537.6 C1439.7,1542.6 1435.9,1547.5 1432.0,1551.0 C1428.0,1554.6 1422.7,1557.3 1418.0,1558.7 C1413.3,1560.2 1407.9,1560.4 1403.7,1559.7 C1399.5,1559.0 1395.3,1557.0 1392.7,1554.7 C1390.0,1552.5 1388.2,1549.1 1387.8,1546.3 C1387.4,1543.5 1388.3,1540.1 1390.2,1537.8 C1392.0,1535.6 1395.4,1533.4 1399.0,1532.7 C1402.6,1531.9 1407.4,1532.0 1411.7,1533.3 C1415.9,1534.6 1420.8,1537.3 1424.5,1540.7 C1428.2,1544.1 1431.8,1548.9 1433.8,1553.9 C1435.9,1558.8 1437.1,1564.9 1436.9,1570.3 C1436.8,1575.8 1435.2,1581.8 1432.8,1586.7 C1430.3,1591.6 1426.4,1596.3 1422.3,1599.6 C1418.1,1602.9 1412.8,1605.4 1408.1,1606.6 C1403.4,1607.8 1398.1,1607.7 1394.0,1606.8 C1389.9,1605.9 1385.9,1603.7 1383.5,1601.3 C1381.1,1599.0 1380.1,1594.2 1379.4,1592.7" stroke="#fadcb8" stroke-width="11.587968908544948" fill="none" opacity="0.3" stroke-linecap="round"/>
<path d="M1125.0,1372.0 C1134.2,1370.3 1161.7,1362.7 1180.0,1362.0 C1198.3,1361.3 1225.8,1367.0 1235.0,1368.0" stroke="#fadcb8" stroke-width="22" fill="none" stroke-linecap="round" stroke-linejoin="round" opacity="0.6"/>
<path d="M1150.0,1345.0 C1158.3,1345.3 1185.0,1345.3 1200.0,1347.0 C1215.0,1348.7 1233.3,1353.7 1240.0,1355.0" stroke="#b8f0b0" stroke-width="16" fill="none" stroke-linecap="round" stroke-linejoin="round" opacity="0.45"/>
<path d="M1130.0,1495.0 C1138.3,1494.2 1164.2,1494.2 1180.0,1490.0 C1195.8,1485.8 1213.3,1475.8 1225.0,1470.0 C1236.7,1464.2 1245.8,1457.5 1250.0,1455.0" stroke="#fadcb8" stroke-width="20" fill="none" stroke-linecap="round" stroke-linejoin="round" opacity="0.55"/>
<path d="M1140.0,1610.0 C1148.3,1605.8 1173.3,1593.3 1190.0,1585.0 C1206.7,1576.7 1228.3,1569.2 1240.0,1560.0 C1251.7,1550.8 1256.7,1535.0 1260.0,1530.0" stroke="#fadcb8" stroke-width="20" fill="none" stroke-linecap="round" stroke-linejoin="round" opacity="0.5"/>
<path d="M1215.0,1675.0 C1219.2,1666.7 1230.0,1639.2 1240.0,1625.0 C1250.0,1610.8 1264.2,1598.3 1275.0,1590.0 C1285.8,1581.7 1300.0,1577.5 1305.0,1575.0" stroke="#b8f0b0" stroke-width="18" fill="none" stroke-linecap="round" stroke-linejoin="round" opacity="0.5"/>
<path d="M1160.0,1482.0 C1166.7,1481.3 1186.7,1477.2 1200.0,1478.0 C1213.3,1478.8 1233.3,1485.5 1240.0,1487.0" stroke="#f8c888" stroke-width="16" fill="none" stroke-linecap="round" stroke-linejoin="round" opacity="0.85"/>
<path d="M1262.0,1562.0 C1268.3,1561.3 1293.7,1558.7 1300.0,1558.0" stroke="#8ee488" stroke-width="16" fill="none" stroke-linecap="round" stroke-linejoin="round" opacity="0.85"/>
<path d="M1455.0,1490.0 C1457.5,1486.7 1462.5,1475.8 1470.0,1470.0 C1477.5,1464.2 1490.0,1458.0 1500.0,1455.0 C1510.0,1452.0 1518.3,1449.5 1530.0,1452.0 C1541.7,1454.5 1563.3,1467.0 1570.0,1470.0" stroke="#f6b860" stroke-width="7" fill="none" stroke-linecap="round" stroke-linejoin="round" opacity="1.0"/>
<path d="M1470.0,1485.0 C1473.3,1487.5 1483.3,1494.2 1490.0,1500.0 C1496.7,1505.8 1504.2,1512.5 1510.0,1520.0 C1515.8,1527.5 1522.2,1535.0 1525.0,1545.0 C1527.8,1555.0 1526.2,1567.5 1527.0,1580.0 C1527.8,1592.5 1528.3,1606.7 1530.0,1620.0 C1531.7,1633.3 1535.8,1653.3 1537.0,1660.0" stroke="#f6b860" stroke-width="7" fill="none" stroke-linecap="round" stroke-linejoin="round" opacity="1.0"/>
<path d="M1480.0,1520.0 C1481.7,1516.7 1485.0,1506.7 1490.0,1500.0 C1495.0,1493.3 1501.7,1485.0 1510.0,1480.0 C1518.3,1475.0 1529.2,1470.3 1540.0,1470.0 C1550.8,1469.7 1569.2,1476.7 1575.0,1478.0" stroke="#54e04a" stroke-width="7" fill="none" stroke-linecap="round" stroke-linejoin="round" opacity="1.0"/>
<path d="M1480.0,1520.0 C1485.0,1521.7 1500.8,1525.0 1510.0,1530.0 C1519.2,1535.0 1529.2,1541.7 1535.0,1550.0 C1540.8,1558.3 1543.3,1568.3 1545.0,1580.0 C1546.7,1591.7 1545.5,1608.7 1545.0,1620.0 C1544.5,1631.3 1542.5,1643.3 1542.0,1648.0" stroke="#54e04a" stroke-width="7" fill="none" stroke-linecap="round" stroke-linejoin="round" opacity="1.0"/>
<path d="M1179.0,1506.0 L1200.0,1492.0" stroke="#f59a1a" stroke-width="6.5" fill="none" stroke-linecap="round"/>
<path d="M1200.0,1492.0 L1220.0,1484.0" stroke="#f59a1a" stroke-width="6.5" fill="none" stroke-linecap="round"/>
<path d="M1220.0,1484.0 L1242.0,1449.0" stroke="#f59a1a" stroke-width="6.5" fill="none" stroke-linecap="round"/>
<path d="M1242.0,1449.0 L1259.0,1444.0" stroke="#f59a1a" stroke-width="6.5" fill="none" stroke-linecap="round"/>
<path d="M1259.0,1444.0 L1268.0,1428.0" stroke="#3b5ef0" stroke-width="6.5" fill="none" stroke-linecap="round"/>
<path d="M1268.0,1428.0 L1275.0,1413.0" stroke="#3b5ef0" stroke-width="6.5" fill="none" stroke-linecap="round"/>
<path d="M1275.0,1413.0 L1270.0,1405.0" stroke="#f59a1a" stroke-width="6" fill="none" stroke-linecap="round"/>
<path d="M1270.0,1405.0 L1264.0,1397.0" stroke="#3b5ef0" stroke-width="6" fill="none" stroke-linecap="round"/>
<path d="M1275.0,1413.0 L1290.0,1406.0" stroke="#f59a1a" stroke-width="6" fill="none" stroke-linecap="round"/>
<path d="M1290.0,1406.0 L1302.0,1402.0" stroke="#3b5ef0" stroke-width="6" fill="none" stroke-linecap="round"/>
<path d="M1436.0,1355.0 L1431.0,1372.0" stroke="#3b5ef0" stroke-width="6.5" fill="none" stroke-linecap="round"/>
<path d="M1431.0,1372.0 L1425.0,1387.0" stroke="#f59a1a" stroke-width="6.5" fill="none" stroke-linecap="round"/>
<path d="M1425.0,1387.0 L1418.0,1401.0" stroke="#f59a1a" stroke-width="6.5" fill="none" stroke-linecap="round"/>
<path d="M1418.0,1401.0 L1416.0,1415.0" stroke="#3b5ef0" stroke-width="6.5" fill="none" stroke-linecap="round"/>
<path d="M1416.0,1415.0 L1414.0,1428.0" stroke="#3b5ef0" stroke-width="6.5" fill="none" stroke-linecap="round"/>
<path d="M1414.0,1428.0 L1430.0,1440.0" stroke="#f59a1a" stroke-width="6.5" fill="none" stroke-linecap="round"/>
<path d="M1430.0,1440.0 L1446.0,1448.0" stroke="#f59a1a" stroke-width="6.5" fill="none" stroke-linecap="round"/>
<path d="M1446.0,1448.0 L1446.0,1470.0" stroke="#f59a1a" stroke-width="6.5" fill="none" stroke-linecap="round"/>
<path d="M1446.0,1470.0 L1455.0,1485.0" stroke="#f59a1a" stroke-width="6.5" fill="none" stroke-linecap="round"/>
<path d="M1418.0,1380.0 L1400.0,1382.0" stroke="#f59a1a" stroke-width="6.5" fill="none" stroke-linecap="round"/>
<path d="M1400.0,1382.0 L1387.0,1384.0" stroke="#3b5ef0" stroke-width="6.5" fill="none" stroke-linecap="round"/>
<path d="M1295.0,1569.0 L1315.0,1548.0" stroke="#2ee01a" stroke-width="6.5" fill="none" stroke-linecap="round"/>
<path d="M1315.0,1548.0 L1320.0,1530.0" stroke="#2ee01a" stroke-width="6.5" fill="none" stroke-linecap="round"/>
<path d="M1320.0,1530.0 L1340.0,1508.0" stroke="#2ee01a" stroke-width="6.5" fill="none" stroke-linecap="round"/>
<path d="M1340.0,1508.0 L1342.0,1500.0" stroke="#2ee01a" stroke-width="6.5" fill="none" stroke-linecap="round"/>
<path d="M1342.0,1500.0 L1356.0,1505.0" stroke="#ee1b1b" stroke-width="5.5" fill="none" stroke-linecap="round"/>
<path d="M1342.0,1500.0 L1342.0,1492.0" stroke="#ee1b1b" stroke-width="5.5" fill="none" stroke-linecap="round"/>
<path d="M1370.0,1440.0 L1380.0,1448.0" stroke="#3b5ef0" stroke-width="6.5" fill="none" stroke-linecap="round"/>
<path d="M1380.0,1448.0 L1393.0,1457.0" stroke="#2ee01a" stroke-width="6.5" fill="none" stroke-linecap="round"/>
<path d="M1393.0,1457.0 L1405.0,1463.0" stroke="#2ee01a" stroke-width="6.5" fill="none" stroke-linecap="round"/>
<path d="M1405.0,1463.0 L1415.0,1460.0" stroke="#3b5ef0" stroke-width="6.5" fill="none" stroke-linecap="round"/>
<path d="M1415.0,1460.0 L1430.0,1467.0" stroke="#2ee01a" stroke-width="6.5" fill="none" stroke-linecap="round"/>
<path d="M1430.0,1467.0 L1447.0,1482.0" stroke="#2ee01a" stroke-width="6.5" fill="none" stroke-linecap="round"/>
<path d="M1447.0,1482.0 L1452.0,1500.0" stroke="#2ee01a" stroke-width="6.5" fill="none" stroke-linecap="round"/>
<path d="M1452.0,1500.0 L1480.0,1510.0" stroke="#2ee01a" stroke-width="6.5" fill="none" stroke-linecap="round"/>
<path d="M1382.0,1459.0 L1376.0,1463.0" stroke="#3b5ef0" stroke-width="5.5" fill="none" stroke-linecap="round"/>
<path d="M1304.0,1399.0 L1369.0,1381.0" stroke="#d08a20" stroke-width="2" fill="none" stroke-dasharray="5,3.5"/>
<path d="M1377.0,1463.0 L1361.0,1500.0" stroke="#1f9a48" stroke-width="2" fill="none" stroke-dasharray="5,3.5"/>
</g>
<rect x="1117.2" y="1331.0" width="460.0" height="343.1" fill="none" stroke="#111" stroke-width="2" stroke-dasharray="3.8,2.2"/>
<circle cx="1355.7" cy="1447.2" r="8.2" fill="#d01818" stroke="#8a0c0c" stroke-width="1"/>
<line x1="1351.2" y1="1447.2" x2="1360.2" y2="1447.2" stroke="#300" stroke-width="2.2"/>
<line x1="1355.7" y1="1442.7" x2="1355.7" y2="1451.7" stroke="#300" stroke-width="2.2"/>
<circle cx="1329.2" cy="1489.5" r="8.2" fill="#d01818" stroke="#8a0c0c" stroke-width="1"/>
<line x1="1324.7" y1="1489.5" x2="1333.7" y2="1489.5" stroke="#300" stroke-width="2.2"/>
<text x="1425.4" y="1361.6" font-size="26.5" fill="#f0a030">R143</text>
<text x="1306.4" y="1377.4" font-size="26.5" fill="#f0a030">8.0 Å</text>
<text x="1221.1" y="1415.7" font-size="26.5" fill="#f0a030">R24</text>
<text x="1488.3" y="1415.7" font-size="26.5">ICL2</text>
<text x="1351.0" y="1429.4" font-size="26.5" fill="#1d7a40">R143</text>
<text x="1376.2" y="1497.7" font-size="26.5" fill="#2c9a3a">3.7 Å</text>
<text x="1329.7" y="1550.5" font-size="26.5" fill="#1d7a40">E28</text>
<text x="1156.0" y="1577.0" font-size="26.5">αN</text>
<clipPath id="ci"><rect x="1659.8" y="1328.1" width="459.20000000000005" height="345.10000000000014"/></clipPath><g clip-path="url(#ci)">
<path d="M1797.2,1472.7 C1794.4,1472.3 1785.4,1472.4 1780.5,1470.5 C1775.5,1468.7 1770.6,1465.1 1767.4,1461.6 C1764.1,1458.1 1761.9,1453.3 1761.2,1449.7 C1760.4,1446.0 1761.3,1441.9 1762.8,1439.6 C1764.4,1437.2 1767.7,1435.5 1770.7,1435.5 C1773.7,1435.5 1777.9,1437.0 1780.9,1439.7 C1784.0,1442.3 1787.3,1446.8 1788.9,1451.4 C1790.5,1456.1 1791.5,1462.3 1790.8,1467.6 C1790.1,1472.9 1787.9,1478.9 1784.8,1483.4 C1781.6,1487.8 1776.8,1492.0 1771.8,1494.3 C1766.9,1496.6 1760.6,1497.7 1755.2,1497.3 C1749.8,1497.0 1743.8,1494.9 1739.3,1492.3 C1734.9,1489.7 1730.9,1485.4 1728.6,1481.7 C1726.2,1478.0 1725.2,1473.2 1725.4,1469.9 C1725.6,1466.5 1727.5,1463.2 1729.7,1461.7 C1732.0,1460.1 1735.8,1459.6 1739.0,1460.6 C1742.2,1461.7 1746.3,1464.4 1748.9,1467.9 C1751.6,1471.4 1754.1,1476.7 1754.9,1481.8 C1755.8,1486.9 1755.6,1493.2 1753.9,1498.4 C1752.3,1503.6 1749.0,1509.1 1745.0,1512.8 C1741.1,1516.6 1732.7,1519.6 1730.2,1521.0" stroke="#b8f0b0" stroke-width="8.794659040359813" fill="none" opacity="0.3" stroke-linecap="round"/>
<path d="M1725.5,1418.4 C1725.1,1417.4 1722.8,1415.0 1722.6,1412.8 C1722.4,1410.5 1722.9,1407.5 1724.4,1404.9 C1725.8,1402.3 1728.3,1399.3 1731.3,1397.2 C1734.2,1395.0 1738.2,1393.0 1742.3,1392.1 C1746.4,1391.2 1751.2,1390.9 1755.6,1391.5 C1760.0,1392.2 1764.8,1393.8 1768.8,1396.2 C1772.7,1398.5 1776.5,1401.9 1779.3,1405.5 C1782.1,1409.1 1784.2,1413.6 1785.4,1417.8 C1786.6,1422.1 1786.9,1426.8 1786.5,1430.8 C1786.1,1434.9 1784.6,1438.9 1782.9,1441.9 C1781.2,1445.0 1778.7,1447.5 1776.4,1449.1 C1774.1,1450.6 1771.3,1451.2 1769.2,1451.1 C1767.1,1450.9 1765.0,1449.7 1763.9,1448.1 C1762.8,1446.5 1762.1,1443.9 1762.5,1441.4 C1762.8,1439.0 1764.0,1435.8 1766.0,1433.3 C1768.1,1430.8 1771.1,1428.0 1774.5,1426.3 C1778.0,1424.5 1782.4,1423.0 1786.6,1422.6 C1790.9,1422.2 1795.8,1422.6 1800.2,1423.8 C1804.5,1425.1 1809.1,1427.4 1812.7,1430.2 C1816.3,1433.0 1819.6,1436.9 1821.8,1440.8 C1824.1,1444.7 1825.6,1449.4 1826.2,1453.7 C1826.8,1457.9 1826.4,1462.6 1825.5,1466.3 C1824.6,1470.1 1822.7,1473.7 1820.7,1476.2 C1818.7,1478.8 1816.0,1480.7 1813.6,1481.6 C1811.3,1482.6 1808.7,1482.5 1806.8,1481.8 C1805.0,1481.1 1803.3,1479.4 1802.7,1477.4 C1802.0,1475.4 1802.0,1472.5 1802.9,1469.9 C1803.9,1467.3 1805.8,1464.2 1808.3,1461.9 C1810.9,1459.5 1814.5,1457.1 1818.3,1455.8 C1822.1,1454.4 1826.8,1453.5 1831.1,1453.7 C1835.5,1453.9 1840.4,1454.9 1844.6,1456.8 C1848.8,1458.6 1853.0,1461.5 1856.1,1464.8 C1859.3,1468.1 1862.1,1472.3 1863.8,1476.4 C1865.5,1480.6 1866.3,1485.4 1866.4,1489.5 C1866.4,1493.7 1865.4,1498.0 1864.1,1501.5 C1862.7,1504.9 1860.4,1507.9 1858.2,1510.0 C1856.0,1512.0 1853.2,1513.2 1850.9,1513.6 C1848.7,1513.9 1845.8,1512.3 1844.8,1512.0" stroke="#fadcb8" stroke-width="9.056971698098483" fill="none" opacity="0.3" stroke-linecap="round"/>
<path d="M2020.0,1401.1 C2021.1,1399.1 2023.6,1392.3 2026.5,1389.1 C2029.4,1385.9 2033.6,1382.9 2037.5,1381.7 C2041.4,1380.6 2046.2,1380.7 2050.1,1382.1 C2053.9,1383.5 2057.9,1386.8 2060.6,1390.2 C2063.3,1393.6 2065.4,1398.5 2066.4,1402.5 C2067.4,1406.5 2067.2,1411.2 2066.6,1414.1 C2066.1,1417.0 2064.3,1419.4 2063.0,1420.0 C2061.6,1420.6 2059.6,1419.8 2058.6,1417.9 C2057.6,1416.0 2056.7,1412.2 2057.1,1408.6 C2057.4,1405.0 2058.6,1400.0 2060.7,1396.2 C2062.8,1392.4 2066.1,1388.2 2069.7,1385.9 C2073.2,1383.5 2077.8,1382.0 2081.9,1382.0 C2085.9,1382.1 2090.5,1383.9 2093.9,1386.4 C2097.3,1388.9 2100.4,1393.2 2102.3,1397.1 C2104.2,1401.0 2105.2,1406.1 2105.4,1409.7 C2105.5,1413.4 2104.5,1417.2 2103.4,1419.1 C2102.3,1421.0 2100.2,1421.8 2098.9,1421.2 C2097.6,1420.5 2096.0,1418.1 2095.5,1415.3 C2095.1,1412.4 2095.2,1407.7 2096.4,1403.8 C2097.6,1399.9 2099.8,1395.0 2102.7,1391.8 C2105.6,1388.5 2109.7,1385.4 2113.6,1384.2 C2117.5,1382.9 2122.3,1383.0 2126.2,1384.3 C2130.0,1385.7 2134.0,1388.8 2136.8,1392.2 C2139.6,1395.5 2141.7,1400.5 2142.7,1404.5 C2143.8,1408.5 2143.7,1413.2 2143.1,1416.2 C2142.6,1419.1 2140.9,1421.6 2139.5,1422.3 C2138.2,1423.0 2136.2,1422.2 2135.2,1420.4 C2134.2,1418.6 2133.2,1414.9 2133.5,1411.3 C2133.8,1407.7 2134.9,1402.7 2137.0,1398.9 C2139.0,1395.1 2144.3,1390.2 2145.8,1388.4" stroke="#b8f0b0" stroke-width="8.604401574620404" fill="none" opacity="0.3" stroke-linecap="round"/>
<path d="M1987.4,1277.3 C1986.8,1279.4 1985.6,1286.4 1983.5,1290.3 C1981.3,1294.1 1977.9,1297.7 1974.4,1300.4 C1970.9,1303.0 1966.4,1304.9 1962.3,1306.0 C1958.3,1307.0 1953.7,1307.1 1950.1,1306.7 C1946.5,1306.2 1943.0,1304.7 1940.7,1303.2 C1938.4,1301.7 1936.7,1299.4 1936.2,1297.6 C1935.7,1295.7 1936.3,1293.6 1937.6,1292.2 C1938.9,1290.9 1941.5,1289.7 1944.2,1289.5 C1946.9,1289.3 1950.7,1289.8 1954.0,1291.2 C1957.4,1292.6 1961.3,1294.9 1964.2,1297.9 C1967.2,1300.8 1970.1,1304.7 1971.9,1308.8 C1973.6,1312.8 1974.7,1317.6 1974.7,1322.0 C1974.6,1326.5 1973.5,1331.3 1971.6,1335.2 C1969.7,1339.2 1966.6,1343.1 1963.3,1345.9 C1959.9,1348.8 1955.5,1351.0 1951.5,1352.4 C1947.5,1353.7 1942.9,1354.0 1939.1,1353.8 C1935.4,1353.6 1931.7,1352.3 1929.1,1350.9 C1926.5,1349.5 1924.5,1347.3 1923.7,1345.5 C1922.9,1343.6 1923.1,1341.3 1924.2,1339.9 C1925.2,1338.4 1927.5,1337.0 1930.1,1336.6 C1932.6,1336.2 1936.2,1336.4 1939.5,1337.5 C1942.8,1338.7 1946.8,1340.7 1949.9,1343.4 C1953.0,1346.1 1956.1,1349.8 1958.1,1353.7 C1960.1,1357.6 1961.5,1362.4 1961.8,1366.8 C1962.0,1371.2 1961.3,1376.1 1959.7,1380.2 C1958.1,1384.3 1955.2,1388.4 1952.1,1391.4 C1948.9,1394.5 1944.7,1397.0 1940.7,1398.6 C1936.7,1400.1 1932.0,1400.8 1928.2,1400.8 C1924.3,1400.8 1919.4,1398.9 1917.6,1398.5" stroke="#fadcb8" stroke-width="11.202533787351637" fill="none" opacity="0.3" stroke-linecap="round"/>
<path d="M2149.7,1492.3 C2151.0,1494.1 2156.6,1498.6 2157.7,1503.0 C2158.8,1507.4 2158.4,1513.8 2156.1,1518.7 C2153.8,1523.7 2149.1,1529.3 2143.8,1532.6 C2138.6,1535.9 2131.1,1538.2 2124.7,1538.4 C2118.4,1538.6 2110.9,1536.7 2105.8,1533.8 C2100.7,1530.9 2096.2,1525.7 2094.0,1521.2 C2091.9,1516.7 2091.8,1510.7 2093.0,1506.8 C2094.3,1502.8 2098.0,1499.0 2101.4,1497.5 C2104.8,1496.1 2110.1,1496.2 2113.5,1498.0 C2116.8,1499.8 2120.5,1504.0 2121.7,1508.4 C2122.9,1512.7 2122.7,1519.1 2120.5,1524.0 C2118.4,1529.0 2113.8,1534.7 2108.6,1538.1 C2103.5,1541.5 2096.0,1543.9 2089.6,1544.3 C2083.3,1544.6 2075.8,1542.8 2070.6,1540.0 C2065.4,1537.3 2060.7,1532.1 2058.5,1527.7 C2056.2,1523.2 2055.9,1517.2 2057.0,1513.2 C2058.2,1509.2 2061.8,1505.2 2065.2,1503.6 C2068.5,1502.0 2073.8,1502.0 2077.2,1503.7 C2080.6,1505.4 2084.4,1509.5 2085.7,1513.8 C2087.0,1518.0 2087.0,1524.4 2084.9,1529.4 C2082.9,1534.3 2078.4,1540.1 2073.4,1543.6 C2068.3,1547.0 2060.9,1549.7 2054.6,1550.1 C2048.2,1550.6 2040.7,1549.0 2035.4,1546.3 C2030.1,1543.6 2025.3,1538.6 2022.9,1534.1 C2020.5,1529.7 2020.1,1523.6 2021.1,1519.6 C2022.1,1515.5 2025.6,1511.4 2028.9,1509.7 C2032.2,1508.0 2037.5,1507.9 2040.9,1509.4 C2044.4,1511.0 2048.3,1514.9 2049.7,1519.2 C2051.1,1523.4 2051.3,1529.7 2049.3,1534.7 C2047.4,1539.6 2043.1,1545.5 2038.1,1549.1 C2033.2,1552.6 2025.8,1555.4 2019.5,1556.0 C2013.1,1556.6 2005.5,1555.1 2000.2,1552.5 C1994.8,1549.9 1989.9,1545.0 1987.3,1540.6 C1984.8,1536.1 1984.2,1530.1 1985.1,1526.0 C1986.0,1521.9 1991.4,1517.5 1992.7,1515.8" stroke="#b8f0b0" stroke-width="11.079404493770927" fill="none" opacity="0.3" stroke-linecap="round"/>
<path d="M1825.8,1337.4 C1827.4,1335.2 1830.8,1326.5 1835.2,1323.8 C1839.6,1321.2 1847.2,1320.0 1852.1,1321.5 C1857.1,1323.0 1862.7,1328.5 1864.9,1332.9 C1867.1,1337.3 1866.8,1344.5 1865.5,1347.9 C1864.2,1351.3 1859.4,1353.8 1857.0,1353.2 C1854.6,1352.6 1851.1,1348.2 1851.0,1344.2 C1850.9,1340.3 1853.0,1333.1 1856.5,1329.5 C1860.1,1326.0 1867.1,1322.6 1872.3,1322.8 C1877.4,1323.0 1884.3,1326.7 1887.6,1330.6 C1890.9,1334.4 1892.4,1341.9 1892.1,1346.0 C1891.7,1350.1 1887.9,1354.6 1885.4,1355.4 C1883.0,1356.1 1878.4,1353.6 1877.3,1350.4 C1876.2,1347.2 1876.4,1340.1 1878.9,1336.0 C1881.4,1331.9 1887.3,1326.8 1892.4,1325.6 C1897.4,1324.5 1904.9,1326.1 1909.1,1329.0 C1913.3,1332.0 1916.8,1339.0 1917.6,1343.5 C1918.3,1348.0 1915.8,1354.1 1913.7,1356.1 C1911.5,1358.1 1906.2,1355.7 1904.7,1355.6" stroke="#fadcb8" stroke-width="9.314287312457148" fill="none" opacity="0.3" stroke-linecap="round"/>
<path d="M1784.8,1321.4 C1784.3,1320.0 1782.0,1315.5 1781.5,1312.9 C1781.1,1310.4 1781.6,1307.8 1782.4,1306.1 C1783.3,1304.4 1784.9,1303.1 1786.7,1302.7 C1788.5,1302.3 1790.8,1302.6 1793.0,1303.7 C1795.1,1304.8 1797.6,1306.7 1799.5,1309.2 C1801.4,1311.8 1803.3,1315.2 1804.4,1318.8 C1805.5,1322.4 1806.3,1326.8 1806.2,1330.9 C1806.1,1335.1 1805.4,1339.8 1804.0,1343.9 C1802.6,1348.1 1800.3,1352.3 1797.5,1355.7 C1794.7,1359.2 1791.1,1362.4 1787.3,1364.6 C1783.5,1366.9 1779.0,1368.6 1774.7,1369.4 C1770.3,1370.2 1765.5,1370.2 1761.2,1369.5 C1756.9,1368.8 1752.5,1367.3 1748.8,1365.4 C1745.1,1363.5 1741.7,1360.8 1739.1,1358.1 C1736.5,1355.5 1734.4,1352.3 1733.2,1349.5 C1731.9,1346.7 1731.4,1343.7 1731.5,1341.4 C1731.6,1339.1 1732.6,1337.0 1733.8,1335.8 C1735.1,1334.5 1737.1,1333.8 1739.1,1334.0 C1741.0,1334.1 1743.5,1335.1 1745.6,1336.7 C1747.8,1338.4 1750.1,1341.0 1751.7,1344.0 C1753.4,1347.0 1754.9,1350.8 1755.6,1354.7 C1756.3,1358.6 1756.6,1363.2 1756.0,1367.4 C1755.4,1371.7 1754.1,1376.3 1752.1,1380.2 C1750.1,1384.1 1747.3,1388.0 1744.1,1391.1 C1740.8,1394.1 1736.8,1396.7 1732.7,1398.4 C1728.7,1400.2 1724.0,1401.2 1719.6,1401.4 C1715.1,1401.6 1710.4,1401.0 1706.3,1399.8 C1702.2,1398.6 1696.7,1395.2 1694.7,1394.3" stroke="#b8f0b0" stroke-width="9.246217267587099" fill="none" opacity="0.3" stroke-linecap="round"/>
<path d="M2080.7,1557.1 C2082.6,1557.5 2088.5,1557.7 2092.3,1559.2 C2096.1,1560.8 2100.3,1563.3 2103.4,1566.4 C2106.6,1569.5 2109.6,1573.7 2111.4,1578.0 C2113.1,1582.2 2114.2,1587.3 2114.2,1591.9 C2114.2,1596.5 2113.1,1601.6 2111.3,1605.7 C2109.5,1609.9 2106.6,1613.9 2103.6,1616.9 C2100.6,1619.9 2096.6,1622.3 2093.1,1623.7 C2089.7,1625.1 2085.7,1625.5 2082.8,1625.3 C2079.8,1625.0 2076.9,1623.8 2075.2,1622.3 C2073.5,1620.9 2072.5,1618.6 2072.6,1616.6 C2072.6,1614.7 2073.7,1612.2 2075.6,1610.6 C2077.5,1609.0 2080.5,1607.4 2083.7,1606.9 C2086.9,1606.4 2091.1,1606.4 2094.9,1607.4 C2098.7,1608.4 2103.0,1610.4 2106.5,1613.1 C2110.0,1615.7 2113.4,1619.5 2115.7,1623.4 C2117.9,1627.4 2119.6,1632.3 2120.2,1636.9 C2120.7,1641.5 2120.3,1646.7 2119.0,1651.1 C2117.8,1655.5 2115.3,1659.9 2112.6,1663.3 C2109.9,1666.7 2106.2,1669.6 2102.7,1671.5 C2099.3,1673.5 2095.2,1674.5 2092.0,1674.7 C2088.8,1675.0 2084.8,1673.3 2083.3,1673.0" stroke="#fadcb8" stroke-width="9.4475412014081" fill="none" opacity="0.3" stroke-linecap="round"/>
<path d="M1737.5,1413.9 C1737.5,1413.2 1736.8,1411.3 1737.6,1410.0 C1738.4,1408.8 1740.1,1407.3 1742.2,1406.4 C1744.4,1405.4 1747.4,1404.5 1750.6,1404.2 C1753.8,1403.9 1757.8,1403.9 1761.5,1404.6 C1765.3,1405.2 1769.5,1406.4 1773.2,1408.1 C1776.9,1409.8 1780.7,1412.1 1783.7,1414.8 C1786.8,1417.5 1789.6,1420.9 1791.5,1424.4 C1793.5,1427.8 1794.8,1431.9 1795.4,1435.8 C1795.9,1439.7 1795.7,1443.9 1794.7,1447.8 C1793.8,1451.7 1792.0,1455.7 1789.8,1459.1 C1787.6,1462.6 1784.6,1465.9 1781.5,1468.5 C1778.4,1471.2 1774.8,1473.5 1771.4,1475.1 C1768.0,1476.8 1764.3,1477.8 1761.2,1478.4 C1758.1,1479.0 1755.1,1479.0 1752.8,1478.6 C1750.6,1478.3 1748.7,1477.3 1747.7,1476.3 C1746.8,1475.3 1746.4,1473.9 1746.9,1472.6 C1747.4,1471.4 1750.0,1469.5 1750.6,1468.8" stroke="#b8f0b0" stroke-width="9.607668422642982" fill="none" opacity="0.3" stroke-linecap="round"/>
<path d="M1877.7,1323.1 C1879.7,1323.8 1886.2,1324.8 1890.1,1327.0 C1894.0,1329.1 1898.1,1332.3 1901.2,1336.0 C1904.3,1339.7 1907.1,1344.4 1908.7,1349.1 C1910.3,1353.7 1911.2,1359.1 1911.1,1364.0 C1911.0,1368.8 1909.8,1373.9 1908.1,1378.1 C1906.4,1382.3 1903.6,1386.3 1900.8,1389.1 C1897.9,1392.0 1894.3,1394.1 1891.1,1395.3 C1887.9,1396.5 1884.3,1396.6 1881.6,1396.1 C1878.9,1395.6 1876.3,1394.0 1874.9,1392.2 C1873.4,1390.4 1872.5,1387.8 1872.7,1385.5 C1872.9,1383.2 1874.1,1380.4 1876.0,1378.4 C1877.9,1376.4 1880.9,1374.4 1884.2,1373.5 C1887.5,1372.6 1891.7,1372.2 1895.7,1372.8 C1899.7,1373.5 1904.2,1375.1 1908.1,1377.5 C1911.9,1379.9 1915.9,1383.4 1918.8,1387.2 C1921.7,1391.1 1924.2,1396.0 1925.6,1400.7 C1927.0,1405.5 1927.5,1410.9 1927.1,1415.7 C1926.8,1420.5 1925.4,1425.5 1923.4,1429.5 C1921.5,1433.6 1918.5,1437.3 1915.6,1439.9 C1912.6,1442.5 1908.9,1444.3 1905.8,1445.2 C1902.6,1446.1 1899.1,1446.0 1896.5,1445.3 C1894.0,1444.5 1891.6,1442.7 1890.4,1440.8 C1889.1,1438.9 1888.6,1436.2 1889.0,1433.9 C1889.5,1431.6 1890.9,1428.8 1893.1,1427.0 C1895.2,1425.1 1898.5,1423.3 1901.9,1422.6 C1905.3,1421.9 1909.7,1421.8 1913.7,1422.7 C1917.7,1423.6 1922.3,1425.5 1926.0,1428.1 C1929.8,1430.8 1933.6,1434.5 1936.3,1438.6 C1939.0,1442.6 1941.2,1447.6 1942.3,1452.4 C1943.5,1457.2 1943.7,1462.7 1943.1,1467.4 C1942.5,1472.1 1940.8,1477.0 1938.6,1480.8 C1936.5,1484.7 1931.7,1488.9 1930.4,1490.5" stroke="#fadcb8" stroke-width="11.269558951378512" fill="none" opacity="0.3" stroke-linecap="round"/>
<path d="M1898.8,1491.6 C1899.7,1489.7 1901.6,1483.5 1904.2,1480.1 C1906.8,1476.8 1910.5,1473.3 1914.3,1471.2 C1918.2,1469.2 1923.0,1467.7 1927.4,1467.6 C1931.8,1467.4 1936.7,1468.5 1940.7,1470.3 C1944.7,1472.1 1948.6,1475.3 1951.4,1478.6 C1954.2,1481.9 1956.3,1486.3 1957.5,1490.1 C1958.7,1493.9 1958.9,1498.2 1958.5,1501.3 C1958.0,1504.5 1956.6,1507.4 1955.1,1509.0 C1953.6,1510.6 1951.3,1511.3 1949.7,1510.8 C1948.0,1510.4 1946.0,1508.7 1945.0,1506.3 C1944.0,1504.0 1943.3,1500.4 1943.7,1496.9 C1944.1,1493.4 1945.3,1489.0 1947.3,1485.4 C1949.4,1481.8 1952.5,1477.9 1956.0,1475.3 C1959.5,1472.7 1964.1,1470.5 1968.4,1469.7 C1972.7,1468.8 1977.7,1469.1 1981.9,1470.3 C1986.2,1471.5 1990.5,1474.0 1993.8,1476.9 C1997.0,1479.9 1999.8,1484.0 2001.6,1487.7 C2003.3,1491.5 2004.1,1496.0 2004.2,1499.4 C2004.3,1502.9 2003.3,1506.4 2002.1,1508.6 C2000.9,1510.8 1998.7,1512.3 1997.0,1512.5 C1995.3,1512.8 1993.1,1511.8 1991.8,1510.0 C1990.5,1508.3 1989.2,1505.2 1989.1,1502.0 C1989.0,1498.8 1989.5,1494.5 1991.0,1490.8 C1992.5,1487.1 1995.0,1482.9 1998.1,1479.8 C2001.2,1476.8 2005.4,1473.9 2009.5,1472.5 C2013.7,1471.0 2018.6,1470.4 2023.0,1470.9 C2027.4,1471.5 2032.0,1473.3 2035.7,1475.7 C2039.4,1478.1 2042.7,1481.9 2045.0,1485.5 C2047.3,1489.0 2048.8,1493.6 2049.4,1497.2 C2050.0,1500.9 2049.5,1504.9 2048.7,1507.6 C2047.9,1510.3 2046.0,1512.6 2044.3,1513.5 C2042.7,1514.4 2040.4,1514.3 2038.8,1513.1 C2037.3,1512.0 2035.6,1509.5 2035.1,1506.7 C2034.5,1503.9 2034.4,1499.9 2035.3,1496.2 C2036.2,1492.5 2038.1,1488.2 2040.7,1484.8 C2043.3,1481.4 2049.2,1477.4 2050.9,1475.9" stroke="#b8f0b0" stroke-width="9.051119801409921" fill="none" opacity="0.3" stroke-linecap="round"/>
<path d="M1872.2,1585.9 C1869.7,1585.8 1861.1,1587.2 1857.3,1585.6 C1853.5,1584.0 1850.2,1579.5 1849.5,1576.1 C1848.7,1572.7 1850.1,1567.6 1852.6,1565.1 C1855.0,1562.5 1860.1,1560.4 1864.2,1561.0 C1868.2,1561.6 1873.8,1564.5 1877.0,1568.6 C1880.2,1572.7 1882.9,1579.6 1883.1,1585.6 C1883.3,1591.7 1881.4,1599.5 1878.4,1604.8 C1875.3,1610.0 1869.6,1615.0 1864.8,1617.3 C1860.0,1619.5 1853.6,1619.6 1849.6,1618.3 C1845.5,1617.0 1841.8,1612.9 1840.6,1609.5 C1839.5,1606.2 1840.4,1601.0 1842.5,1598.2 C1844.7,1595.5 1849.5,1592.9 1853.5,1593.0 C1857.5,1593.2 1863.2,1595.5 1866.6,1599.3 C1870.0,1603.0 1873.2,1609.6 1873.8,1615.6 C1874.4,1621.5 1870.8,1631.7 1870.3,1634.9" stroke="#fadcb8" stroke-width="9.078069539627503" fill="none" opacity="0.3" stroke-linecap="round"/>
<path d="M1836.1,1617.6 C1834.4,1616.2 1827.9,1612.3 1825.6,1609.6 C1823.2,1606.9 1822.0,1603.2 1822.0,1601.3 C1822.0,1599.3 1823.7,1597.6 1825.6,1597.6 C1827.5,1597.7 1830.9,1599.2 1833.3,1601.7 C1835.7,1604.2 1838.7,1608.6 1840.0,1612.8 C1841.3,1617.0 1842.0,1622.6 1841.1,1627.0 C1840.3,1631.3 1837.9,1635.9 1834.7,1638.7 C1831.6,1641.6 1826.8,1643.5 1822.4,1643.9 C1818.0,1644.3 1812.5,1642.9 1808.5,1641.1 C1804.4,1639.3 1800.4,1635.8 1798.1,1633.1 C1795.8,1630.4 1794.7,1626.8 1794.7,1624.8 C1794.8,1622.9 1796.6,1621.2 1798.5,1621.4 C1800.4,1621.5 1803.8,1623.1 1806.2,1625.7 C1808.6,1628.3 1811.6,1632.7 1812.8,1636.9 C1814.1,1641.2 1814.7,1646.8 1813.8,1651.1 C1812.8,1655.4 1810.4,1660.0 1807.2,1662.7 C1804.0,1665.5 1799.1,1667.3 1794.7,1667.6 C1790.3,1667.9 1784.9,1666.5 1780.8,1664.7 C1776.8,1662.9 1772.9,1659.3 1770.6,1656.6 C1768.4,1653.9 1767.3,1650.3 1767.5,1648.4 C1767.6,1646.5 1769.4,1644.9 1771.4,1645.1 C1773.3,1645.3 1776.8,1647.0 1779.2,1649.6 C1781.5,1652.3 1784.4,1656.8 1785.7,1661.0 C1786.9,1665.3 1787.4,1670.9 1786.4,1675.2 C1785.4,1679.5 1782.8,1684.0 1779.6,1686.7 C1776.4,1689.4 1771.4,1691.1 1767.0,1691.4 C1762.6,1691.6 1757.2,1690.2 1753.2,1688.3 C1749.2,1686.4 1744.8,1681.5 1743.1,1680.1" stroke="#b8f0b0" stroke-width="9.164228731905226" fill="none" opacity="0.3" stroke-linecap="round"/>
<path d="M1927.9,1496.2 C1926.4,1497.9 1922.4,1504.1 1919.1,1506.5 C1915.9,1508.9 1911.9,1510.2 1908.6,1510.4 C1905.3,1510.7 1901.8,1509.6 1899.4,1508.1 C1897.1,1506.5 1895.1,1503.7 1894.5,1501.2 C1893.8,1498.6 1894.1,1495.3 1895.4,1492.8 C1896.6,1490.4 1899.1,1487.8 1902.1,1486.5 C1905.0,1485.2 1909.1,1484.5 1912.9,1485.1 C1916.7,1485.7 1921.3,1487.4 1925.0,1490.1 C1928.7,1492.8 1932.5,1496.8 1935.2,1501.2 C1937.8,1505.6 1939.9,1511.2 1940.8,1516.5 C1941.7,1521.7 1941.5,1527.7 1940.4,1532.6 C1939.4,1537.6 1937.1,1542.5 1934.5,1546.2 C1931.9,1549.8 1928.1,1552.8 1924.8,1554.5 C1921.4,1556.2 1917.4,1556.6 1914.3,1556.3 C1911.2,1555.9 1908.1,1554.1 1906.3,1552.1 C1904.4,1550.1 1903.2,1547.0 1903.2,1544.4 C1903.1,1541.7 1904.2,1538.5 1906.1,1536.3 C1907.9,1534.1 1911.1,1532.0 1914.4,1531.3 C1917.7,1530.6 1922.1,1530.6 1926.0,1531.9 C1929.9,1533.2 1934.3,1535.8 1937.8,1539.1 C1941.2,1542.4 1944.6,1547.1 1946.7,1551.9 C1948.8,1556.7 1950.2,1562.6 1950.4,1567.8 C1950.7,1573.1 1949.7,1578.9 1948.1,1583.5 C1946.5,1588.1 1943.6,1592.5 1940.6,1595.6 C1937.7,1598.6 1933.7,1600.8 1930.3,1601.8 C1926.9,1602.7 1923.1,1602.4 1920.3,1601.4 C1917.5,1600.4 1914.8,1596.7 1913.7,1595.8" stroke="#fadcb8" stroke-width="11.702681452668317" fill="none" opacity="0.3" stroke-linecap="round"/>
<path d="M1921.9,1433.2 C1922.4,1431.1 1922.3,1424.1 1925.1,1420.5 C1927.9,1417.0 1933.2,1413.3 1938.7,1411.9 C1944.1,1410.6 1951.7,1410.7 1957.7,1412.5 C1963.7,1414.3 1970.4,1418.4 1974.5,1422.7 C1978.6,1427.0 1981.7,1433.3 1982.5,1438.2 C1983.3,1443.1 1981.8,1448.8 1979.5,1452.1 C1977.3,1455.4 1972.6,1457.8 1969.0,1458.1 C1965.4,1458.4 1960.5,1456.5 1958.0,1454.0 C1955.5,1451.4 1953.6,1446.5 1954.0,1442.6 C1954.5,1438.7 1957.0,1433.5 1960.9,1430.5 C1964.7,1427.5 1971.1,1424.9 1977.0,1424.5 C1982.9,1424.2 1990.5,1425.7 1996.2,1428.4 C2001.8,1431.2 2007.5,1436.3 2010.6,1441.0 C2013.8,1445.8 2015.3,1452.2 2015.0,1456.8 C2014.8,1461.4 2011.9,1466.2 2009.0,1468.7 C2006.1,1471.1 2000.9,1472.1 1997.5,1471.4 C1994.0,1470.6 1989.7,1467.6 1988.0,1464.4 C1986.4,1461.1 1985.8,1455.8 1987.4,1452.0 C1989.0,1448.1 1993.0,1443.5 1997.7,1441.2 C2002.4,1438.9 2009.6,1437.5 2015.6,1438.2 C2021.7,1438.9 2029.1,1441.7 2034.1,1445.3 C2039.1,1448.9 2043.6,1454.8 2045.7,1459.7 C2047.7,1464.7 2047.7,1470.9 2046.4,1475.0 C2045.1,1479.1 2041.2,1482.8 2037.9,1484.2 C2034.5,1485.7 2029.3,1485.3 2026.1,1483.6 C2023.0,1481.9 2019.7,1477.8 2019.0,1474.2 C2018.3,1470.5 2019.2,1465.1 2021.9,1461.5 C2024.7,1457.9 2029.9,1454.1 2035.3,1452.7 C2040.7,1451.3 2048.3,1451.3 2054.3,1453.0 C2060.3,1454.7 2067.1,1458.8 2071.3,1463.0 C2075.5,1467.3 2078.6,1473.6 2079.5,1478.5 C2080.4,1483.4 2079.0,1489.1 2076.8,1492.5 C2074.6,1495.9 2070.0,1498.3 2066.4,1498.7 C2062.8,1499.1 2057.9,1497.4 2055.3,1494.8 C2052.8,1492.3 2050.7,1487.5 2051.1,1483.6 C2051.5,1479.7 2053.9,1474.5 2057.7,1471.4 C2061.4,1468.4 2067.7,1465.6 2073.6,1465.2 C2079.5,1464.8 2089.6,1468.3 2092.8,1468.9" stroke="#b8f0b0" stroke-width="9.395853438014663" fill="none" opacity="0.3" stroke-linecap="round"/>
<path d="M1860.9,1551.2 C1860.0,1550.4 1856.2,1548.2 1855.6,1546.7 C1855.0,1545.2 1855.7,1543.3 1857.2,1542.3 C1858.8,1541.4 1861.8,1540.6 1864.9,1540.9 C1868.0,1541.3 1872.3,1542.4 1875.8,1544.4 C1879.3,1546.3 1883.3,1549.4 1885.9,1552.8 C1888.5,1556.2 1890.7,1560.7 1891.5,1564.8 C1892.2,1568.9 1891.9,1573.7 1890.4,1577.6 C1888.9,1581.5 1886.0,1585.3 1882.7,1588.1 C1879.5,1590.9 1874.9,1593.0 1870.9,1594.2 C1866.9,1595.4 1862.1,1595.5 1858.6,1595.2 C1855.1,1594.8 1851.8,1593.3 1849.9,1592.0 C1848.0,1590.7 1847.1,1588.6 1847.4,1587.2 C1847.7,1585.8 1849.5,1584.2 1851.8,1583.7 C1854.1,1583.3 1857.8,1583.2 1861.3,1584.2 C1864.7,1585.2 1869.0,1587.2 1872.3,1589.8 C1875.6,1592.5 1879.0,1596.2 1880.9,1600.1 C1882.8,1603.9 1884.0,1608.6 1883.9,1612.7 C1883.7,1616.9 1882.2,1621.4 1879.9,1624.9 C1877.6,1628.4 1873.8,1631.7 1870.1,1633.8 C1866.3,1635.9 1859.6,1637.1 1857.5,1637.7" stroke="#fadcb8" stroke-width="10.175810462584872" fill="none" opacity="0.3" stroke-linecap="round"/>
<path d="M2070.0,1580.9 C2070.8,1583.6 2074.8,1591.9 2075.2,1597.5 C2075.7,1603.1 2074.5,1609.6 2072.5,1614.4 C2070.4,1619.2 2066.6,1623.8 2063.0,1626.5 C2059.4,1629.2 2054.5,1630.5 2050.8,1630.5 C2047.2,1630.5 2043.2,1628.7 2041.1,1626.5 C2038.9,1624.3 2037.5,1620.5 2037.8,1617.6 C2038.0,1614.7 2039.9,1610.9 2042.6,1608.9 C2045.3,1606.9 2049.7,1605.3 2053.8,1605.5 C2057.9,1605.7 2063.2,1607.4 2067.2,1610.3 C2071.2,1613.2 2075.4,1618.0 2077.8,1622.9 C2080.2,1627.9 2081.7,1634.4 2081.6,1640.0 C2081.5,1645.6 2079.8,1651.9 2077.4,1656.4 C2074.9,1660.9 2070.7,1664.9 2067.0,1667.1 C2063.2,1669.2 2058.4,1669.9 2054.9,1669.4 C2051.4,1669.0 2047.9,1666.6 2046.1,1664.1 C2044.3,1661.7 2043.6,1657.7 2044.4,1654.9 C2045.1,1652.0 2047.6,1648.5 2050.6,1646.8 C2053.7,1645.2 2058.4,1644.1 2062.7,1644.9 C2066.9,1645.6 2073.7,1650.2 2075.9,1651.3" stroke="#b8f0b0" stroke-width="10.827887842359608" fill="none" opacity="0.3" stroke-linecap="round"/>
<path d="M1940.9,1602.0 C1943.6,1603.1 1952.8,1605.2 1957.1,1608.8 C1961.4,1612.4 1965.3,1618.5 1966.9,1623.8 C1968.5,1629.1 1968.1,1635.8 1966.6,1640.4 C1965.1,1645.0 1961.1,1649.4 1957.8,1651.4 C1954.6,1653.4 1949.7,1653.6 1946.9,1652.4 C1944.1,1651.3 1941.4,1647.7 1941.1,1644.6 C1940.8,1641.4 1942.3,1636.5 1945.1,1633.7 C1948.0,1630.8 1953.3,1627.8 1958.3,1627.2 C1963.3,1626.7 1970.2,1627.7 1975.1,1630.3 C1980.0,1633.0 1985.2,1638.0 1987.9,1643.0 C1990.6,1647.9 1991.8,1654.8 1991.4,1659.9 C1990.9,1665.0 1988.0,1670.6 1985.1,1673.6 C1982.2,1676.7 1977.3,1678.5 1974.1,1678.4 C1970.8,1678.4 1967.0,1675.9 1965.6,1673.3 C1964.3,1670.7 1964.2,1665.9 1965.9,1662.6 C1967.7,1659.4 1974.5,1655.2 1976.3,1653.8" stroke="#fadcb8" stroke-width="10.96149720239102" fill="none" opacity="0.3" stroke-linecap="round"/>
<path d="M2018.4,1476.9 C2018.0,1479.1 2017.6,1486.1 2015.9,1490.0 C2014.2,1493.9 2010.9,1497.9 2008.2,1500.3 C2005.6,1502.7 2002.1,1504.0 2000.2,1504.2 C1998.3,1504.4 1996.7,1503.0 1996.9,1501.5 C1997.0,1499.9 1998.6,1497.0 2001.1,1494.9 C2003.6,1492.9 2007.9,1490.3 2011.9,1489.2 C2016.0,1488.2 2021.4,1487.7 2025.4,1488.7 C2029.5,1489.7 2033.7,1492.1 2036.2,1495.1 C2038.7,1498.1 2040.2,1502.8 2040.3,1506.9 C2040.4,1511.0 2038.8,1516.2 2036.9,1519.9 C2035.0,1523.7 2031.4,1527.4 2028.8,1529.4 C2026.2,1531.5 2022.8,1532.5 2021.1,1532.4 C2019.5,1532.3 2018.3,1530.6 2018.8,1528.8 C2019.3,1527.1 2021.3,1524.1 2024.1,1522.1 C2026.9,1520.1 2031.5,1517.7 2035.6,1516.9 C2039.8,1516.1 2045.2,1516.0 2049.1,1517.3 C2053.0,1518.6 2056.9,1521.4 2059.1,1524.7 C2061.2,1528.0 2062.3,1532.8 2062.0,1537.0 C2061.8,1541.1 2059.8,1546.2 2057.7,1549.8 C2055.6,1553.3 2051.9,1556.7 2049.4,1558.4 C2046.8,1560.2 2043.6,1560.8 2042.2,1560.4 C2040.8,1560.0 2040.1,1558.0 2040.9,1556.1 C2041.7,1554.3 2044.2,1551.2 2047.2,1549.3 C2050.3,1547.4 2055.1,1545.2 2059.4,1544.7 C2063.6,1544.2 2070.4,1545.9 2072.6,1546.1" stroke="#b8f0b0" stroke-width="9.553691053211315" fill="none" opacity="0.3" stroke-linecap="round"/>
<path d="M2044.0,1500.6 C2046.4,1500.7 2053.9,1500.2 2058.6,1501.3 C2063.3,1502.5 2068.2,1504.6 2072.2,1507.3 C2076.3,1509.9 2080.0,1513.6 2082.8,1517.5 C2085.6,1521.3 2087.7,1525.9 2088.9,1530.2 C2090.2,1534.5 2090.5,1539.2 2090.1,1543.2 C2089.8,1547.1 2088.5,1551.1 2086.9,1554.1 C2085.3,1557.1 2082.9,1559.6 2080.6,1561.1 C2078.3,1562.6 2075.6,1563.3 2073.3,1563.1 C2071.1,1562.9 2068.8,1561.7 2067.3,1560.0 C2065.8,1558.3 2064.7,1555.6 2064.5,1552.7 C2064.3,1549.9 2064.8,1546.4 2066.2,1543.1 C2067.6,1539.9 2069.9,1536.3 2072.8,1533.5 C2075.7,1530.6 2079.6,1527.8 2083.8,1526.0 C2087.9,1524.2 2092.8,1522.9 2097.6,1522.6 C2102.3,1522.3 2107.6,1522.9 2112.2,1524.3 C2116.9,1525.7 2121.6,1528.2 2125.4,1531.1 C2129.3,1534.0 2132.8,1537.9 2135.3,1541.9 C2137.8,1545.8 2139.6,1550.5 2140.6,1554.8 C2141.5,1559.1 2141.5,1563.7 2140.9,1567.6 C2140.3,1571.4 2138.8,1575.2 2137.0,1578.0 C2135.3,1580.7 2132.7,1582.9 2130.4,1584.2 C2128.1,1585.4 2125.3,1585.7 2123.2,1585.2 C2121.1,1584.7 2118.9,1583.2 2117.6,1581.3 C2116.3,1579.3 2115.4,1576.4 2115.5,1573.5 C2115.6,1570.5 2116.4,1566.9 2118.0,1563.7 C2119.7,1560.5 2122.3,1556.9 2125.5,1554.2 C2128.7,1551.5 2132.8,1548.9 2137.1,1547.4 C2141.4,1545.8 2146.5,1544.8 2151.2,1544.8 C2156.0,1544.8 2161.2,1545.8 2165.8,1547.4 C2170.3,1549.1 2176.4,1553.8 2178.5,1555.0" stroke="#fadcb8" stroke-width="8.663633950031853" fill="none" opacity="0.3" stroke-linecap="round"/>
<path d="M1708.5,1560.3 C1706.7,1561.0 1701.2,1564.5 1698.0,1564.6 C1694.8,1564.8 1691.2,1563.3 1689.2,1561.3 C1687.2,1559.3 1685.8,1555.7 1686.0,1552.6 C1686.3,1549.5 1687.9,1545.5 1690.6,1542.8 C1693.3,1540.1 1697.7,1537.4 1702.2,1536.4 C1706.7,1535.3 1712.5,1535.3 1717.6,1536.7 C1722.6,1538.2 1728.2,1541.2 1732.2,1544.9 C1736.3,1548.6 1739.9,1554.0 1741.9,1559.0 C1743.9,1564.1 1744.6,1570.2 1744.1,1575.2 C1743.5,1580.2 1741.3,1585.3 1738.8,1588.8 C1736.3,1592.3 1732.3,1595.0 1729.0,1596.2 C1725.7,1597.3 1721.6,1596.9 1719.0,1595.7 C1716.4,1594.4 1714.0,1591.5 1713.3,1588.7 C1712.6,1585.8 1713.0,1581.7 1714.8,1578.7 C1716.5,1575.7 1720.0,1572.2 1723.9,1570.4 C1727.8,1568.7 1733.3,1567.5 1738.3,1567.9 C1743.3,1568.4 1749.2,1570.2 1753.8,1573.1 C1758.4,1576.0 1763.0,1580.6 1765.9,1585.3 C1768.7,1590.0 1770.6,1596.1 1771.1,1601.2 C1771.5,1606.4 1770.3,1612.2 1768.5,1616.4 C1766.7,1620.6 1763.2,1624.4 1760.0,1626.5 C1756.8,1628.6 1752.6,1629.4 1749.5,1629.0 C1746.4,1628.7 1743.2,1626.6 1741.6,1624.2 C1740.1,1621.9 1739.3,1618.0 1740.1,1614.9 C1740.9,1611.8 1743.2,1607.9 1746.4,1605.4 C1749.6,1603.0 1754.5,1600.8 1759.2,1600.3 C1763.9,1599.8 1769.9,1600.4 1774.8,1602.4 C1779.8,1604.4 1785.1,1608.0 1788.7,1612.2 C1792.4,1616.3 1795.4,1622.0 1796.9,1627.1 C1798.3,1632.3 1798.3,1638.4 1797.2,1643.2 C1796.2,1647.9 1793.5,1652.6 1790.7,1655.6 C1787.9,1658.7 1783.7,1660.7 1780.4,1661.3 C1777.1,1661.8 1773.3,1660.8 1771.0,1659.1 C1768.7,1657.4 1766.9,1654.1 1766.7,1651.1 C1766.5,1648.1 1767.6,1644.0 1770.0,1641.1 C1772.3,1638.2 1776.3,1635.2 1780.5,1633.8 C1784.8,1632.4 1790.6,1631.9 1795.6,1632.9 C1800.6,1633.9 1806.4,1636.5 1810.7,1639.8 C1815.0,1643.2 1819.1,1648.3 1821.5,1653.2 C1823.8,1658.1 1825.0,1664.3 1824.9,1669.4 C1824.8,1674.5 1823.0,1679.9 1820.8,1683.7 C1818.5,1687.6 1813.0,1690.9 1811.4,1692.3" stroke="#b8f0b0" stroke-width="7" fill="none" opacity="0.6" stroke-linecap="round"/>
<path d="M1957.9,1611.9 C1956.7,1611.2 1952.3,1610.0 1950.6,1607.7 C1948.8,1605.4 1947.4,1601.8 1947.4,1598.2 C1947.4,1594.6 1948.3,1590.1 1950.5,1586.3 C1952.6,1582.6 1956.1,1578.6 1960.1,1575.8 C1964.1,1573.1 1969.5,1570.9 1974.6,1570.0 C1979.7,1569.1 1985.7,1569.4 1990.8,1570.7 C1995.8,1572.0 2001.0,1574.6 2004.8,1577.7 C2008.7,1580.8 2011.9,1585.1 2013.8,1589.1 C2015.7,1593.0 2016.3,1597.8 2016.1,1601.4 C2015.8,1605.0 2014.1,1608.7 2012.2,1610.9 C2010.3,1613.2 2007.2,1614.7 2004.7,1614.9 C2002.1,1615.1 1998.9,1614.1 1996.9,1612.2 C1994.9,1610.3 1993.0,1607.0 1992.5,1603.7 C1992.0,1600.3 1992.4,1595.8 1994.1,1592.0 C1995.7,1588.2 1998.7,1583.9 2002.3,1580.9 C2006.0,1577.9 2011.0,1575.1 2016.0,1573.8 C2020.9,1572.4 2026.9,1572.1 2032.1,1572.9 C2037.2,1573.7 2042.7,1575.9 2046.9,1578.6 C2051.1,1581.4 2054.9,1585.5 2057.2,1589.3 C2059.6,1593.2 2060.8,1597.9 2061.0,1601.7 C2061.2,1605.5 2060.0,1609.6 2058.4,1612.2 C2056.8,1614.8 2053.9,1616.9 2051.4,1617.6 C2048.9,1618.3 2045.6,1617.8 2043.4,1616.4 C2041.1,1614.9 2038.8,1612.1 2037.9,1609.0 C2037.0,1605.9 2036.9,1601.5 2038.0,1597.7 C2039.2,1593.9 2041.6,1589.5 2044.8,1586.2 C2048.1,1582.8 2052.7,1579.7 2057.5,1577.9 C2062.2,1576.1 2068.1,1575.2 2073.3,1575.5 C2078.6,1575.8 2084.3,1577.5 2088.8,1579.8 C2093.3,1582.2 2097.5,1585.9 2100.3,1589.6 C2103.2,1593.3 2105.0,1598.0 2105.7,1602.0 C2106.4,1605.9 2105.7,1610.2 2104.4,1613.2 C2103.2,1616.2 2100.5,1618.8 2098.1,1619.9 C2095.7,1621.1 2092.4,1621.2 2090.0,1620.2 C2087.6,1619.2 2084.9,1616.9 2083.7,1614.1 C2082.4,1611.3 2081.7,1607.1 2082.3,1603.4 C2083.0,1599.7 2086.7,1593.6 2087.6,1591.6" stroke="#b8f0b0" stroke-width="7" fill="none" opacity="0.6" stroke-linecap="round"/>
<path d="M1850.0,1560.0 C1858.3,1565.0 1885.0,1583.3 1900.0,1590.0 C1915.0,1596.7 1933.3,1598.3 1940.0,1600.0" stroke="#9ee898" stroke-width="9" fill="none" stroke-linecap="round" stroke-linejoin="round" opacity="0.6"/>
<path d="M1870.0,1673.0 C1872.5,1665.8 1880.8,1643.8 1885.0,1630.0 C1889.2,1616.2 1892.8,1603.3 1895.0,1590.0 C1897.2,1576.7 1896.3,1561.7 1898.0,1550.0 C1899.7,1538.3 1900.5,1530.0 1905.0,1520.0 C1909.5,1510.0 1918.3,1495.8 1925.0,1490.0 C1931.7,1484.2 1938.3,1483.3 1945.0,1485.0 C1951.7,1486.7 1958.3,1495.8 1965.0,1500.0 C1971.7,1504.2 1975.8,1507.5 1985.0,1510.0 C1994.2,1512.5 2007.5,1511.7 2020.0,1515.0 C2032.5,1518.3 2046.7,1524.2 2060.0,1530.0 C2073.3,1535.8 2090.8,1540.0 2100.0,1550.0 C2109.2,1560.0 2112.0,1578.3 2115.0,1590.0 C2118.0,1601.7 2119.7,1610.8 2118.0,1620.0 C2116.3,1629.2 2111.3,1639.2 2105.0,1645.0 C2098.7,1650.8 2087.5,1653.0 2080.0,1655.0 C2072.5,1657.0 2063.3,1656.7 2060.0,1657.0" stroke="#f6b860" stroke-width="6" fill="none" stroke-linecap="round" stroke-linejoin="round" opacity="1.0"/>
<path d="M1870.0,1673.0 C1871.7,1667.5 1876.7,1652.2 1880.0,1640.0 C1883.3,1627.8 1890.0,1611.7 1890.0,1600.0 C1890.0,1588.3 1880.8,1578.3 1880.0,1570.0 C1879.2,1561.7 1878.3,1556.2 1885.0,1550.0 C1891.7,1543.8 1909.2,1536.3 1920.0,1533.0 C1930.8,1529.7 1940.8,1528.8 1950.0,1530.0 C1959.2,1531.2 1966.7,1535.0 1975.0,1540.0 C1983.3,1545.0 1989.2,1557.5 2000.0,1560.0 C2010.8,1562.5 2026.7,1557.5 2040.0,1555.0 C2053.3,1552.5 2068.3,1545.8 2080.0,1545.0 C2091.7,1544.2 2103.3,1544.2 2110.0,1550.0 C2116.7,1555.8 2118.3,1575.0 2120.0,1580.0" stroke="#54e04a" stroke-width="6" fill="none" stroke-linecap="round" stroke-linejoin="round" opacity="1.0"/>
<path d="M2055.0,1657.0 C2057.5,1656.7 2067.5,1655.3 2070.0,1655.0" stroke="#f08a10" stroke-width="7" fill="none" stroke-linecap="round" stroke-linejoin="round" opacity="1.0"/>
<path d="M1733.0,1456.0 L1760.0,1437.0" stroke="#f6b860" stroke-width="6.5" fill="none" stroke-linecap="round"/>
<path d="M1760.0,1437.0 L1775.0,1445.0" stroke="#f6b860" stroke-width="6.5" fill="none" stroke-linecap="round"/>
<path d="M1763.0,1440.0 L1777.0,1437.0" stroke="#f59a1a" stroke-width="6.5" fill="none" stroke-linecap="round"/>
<path d="M1777.0,1437.0 L1798.0,1433.0" stroke="#f59a1a" stroke-width="6.5" fill="none" stroke-linecap="round"/>
<path d="M1798.0,1433.0 L1820.0,1442.0" stroke="#f59a1a" stroke-width="6.5" fill="none" stroke-linecap="round"/>
<path d="M1820.0,1442.0 L1848.0,1429.0" stroke="#f59a1a" stroke-width="6.5" fill="none" stroke-linecap="round"/>
<path d="M1848.0,1429.0 L1850.0,1440.0" stroke="#f59a1a" stroke-width="6.5" fill="none" stroke-linecap="round"/>
<path d="M1793.0,1450.0 L1804.0,1443.0" stroke="#54e04a" stroke-width="5.5" fill="none" stroke-linecap="round"/>
<path d="M1777.0,1420.0 L1778.0,1412.0" stroke="#54e04a" stroke-width="5.5" fill="none" stroke-linecap="round"/>
<path d="M1777.0,1437.0 L1805.0,1448.0" stroke="#2ee01a" stroke-width="6.5" fill="none" stroke-linecap="round"/>
<path d="M1805.0,1448.0 L1830.0,1458.0" stroke="#2ee01a" stroke-width="6.5" fill="none" stroke-linecap="round"/>
<path d="M1830.0,1458.0 L1842.0,1480.0" stroke="#2ee01a" stroke-width="6.5" fill="none" stroke-linecap="round"/>
<path d="M1842.0,1480.0 L1840.0,1495.0" stroke="#2ee01a" stroke-width="6.5" fill="none" stroke-linecap="round"/>
<path d="M1840.0,1495.0 L1845.0,1510.0" stroke="#2ee01a" stroke-width="6.5" fill="none" stroke-linecap="round"/>
<path d="M1845.0,1500.0 L1860.0,1480.0" stroke="#ee1b1b" stroke-width="6.5" fill="none" stroke-linecap="round"/>
<path d="M1845.0,1505.0 L1838.0,1517.0" stroke="#ee1b1b" stroke-width="6.5" fill="none" stroke-linecap="round"/>
<path d="M1886.0,1436.0 L1900.0,1425.0" stroke="#3b5ef0" stroke-width="6.5" fill="none" stroke-linecap="round"/>
<path d="M1900.0,1425.0 L1912.0,1420.0" stroke="#2ee01a" stroke-width="6.5" fill="none" stroke-linecap="round"/>
<path d="M1912.0,1420.0 L1930.0,1425.0" stroke="#2ee01a" stroke-width="6.5" fill="none" stroke-linecap="round"/>
<path d="M1930.0,1425.0 L1940.0,1437.0" stroke="#3b5ef0" stroke-width="6.5" fill="none" stroke-linecap="round"/>
<path d="M1940.0,1437.0 L1940.0,1445.0" stroke="#3b5ef0" stroke-width="6.5" fill="none" stroke-linecap="round"/>
<path d="M1910.0,1403.0 L1910.0,1418.0" stroke="#3b5ef0" stroke-width="5.5" fill="none" stroke-linecap="round"/>
<path d="M1940.0,1445.0 L1932.0,1460.0" stroke="#f59a1a" stroke-width="6.5" fill="none" stroke-linecap="round"/>
<path d="M1932.0,1460.0 L1940.0,1480.0" stroke="#f59a1a" stroke-width="6.5" fill="none" stroke-linecap="round"/>
<path d="M1940.0,1480.0 L1950.0,1490.0" stroke="#f59a1a" stroke-width="6.5" fill="none" stroke-linecap="round"/>
<path d="M1940.0,1440.0 L1958.0,1437.0" stroke="#f59a1a" stroke-width="6.5" fill="none" stroke-linecap="round"/>
<path d="M1958.0,1437.0 L1965.0,1428.0" stroke="#f59a1a" stroke-width="6.5" fill="none" stroke-linecap="round"/>
<path d="M1965.0,1428.0 L1978.0,1408.0" stroke="#3b5ef0" stroke-width="6.5" fill="none" stroke-linecap="round"/>
<path d="M1978.0,1408.0 L1993.0,1407.0" stroke="#3b5ef0" stroke-width="6.5" fill="none" stroke-linecap="round"/>
<path d="M1993.0,1407.0 L2005.0,1410.0" stroke="#f59a1a" stroke-width="6.5" fill="none" stroke-linecap="round"/>
<path d="M2005.0,1410.0 L2010.0,1393.0" stroke="#f59a1a" stroke-width="6.5" fill="none" stroke-linecap="round"/>
<path d="M2010.0,1393.0 L2013.0,1385.0" stroke="#3b5ef0" stroke-width="6.5" fill="none" stroke-linecap="round"/>
<path d="M2005.0,1410.0 L2012.0,1430.0" stroke="#3b5ef0" stroke-width="6.5" fill="none" stroke-linecap="round"/>
<path d="M1940.0,1445.0 L1945.0,1490.0" stroke="#2ee01a" stroke-width="6.5" fill="none" stroke-linecap="round"/>
<path d="M1945.0,1490.0 L1950.0,1530.0" stroke="#2ee01a" stroke-width="6.5" fill="none" stroke-linecap="round"/>
<path d="M1845.0,1437.0 L2012.0,1386.0" stroke="#d08a20" stroke-width="2" fill="none" stroke-dasharray="5,3.5"/>
<path d="M1885.0,1438.0 L1860.0,1478.0" stroke="#1f9a48" stroke-width="2" fill="none" stroke-dasharray="5,3.5"/>
</g>
<rect x="1659.8" y="1328.1" width="459.2" height="345.1" fill="none" stroke="#111" stroke-width="2" stroke-dasharray="3.8,2.2"/>
<circle cx="1879" cy="1399.8" r="8.5" fill="#d01818" stroke="#8a0c0c" stroke-width="1"/>
<line x1="1874.5" y1="1399.8" x2="1883.5" y2="1399.8" stroke="#300" stroke-width="2.2"/>
<line x1="1879.0" y1="1395.3" x2="1879.0" y2="1404.3" stroke="#300" stroke-width="2.2"/>
<circle cx="1863.3" cy="1500" r="9" fill="#d01818" stroke="#8a0c0c" stroke-width="1"/>
<line x1="1858.8" y1="1500.0" x2="1867.8" y2="1500.0" stroke="#300" stroke-width="2.2"/>
<text x="1921.5" y="1393.6" font-size="26.5" fill="#f0a030">7.8 Å</text>
<text x="1696.8" y="1429.6" font-size="26.5" fill="#f0a030">I323</text>
<text x="2013.5" y="1417.4" font-size="26.5" fill="#f0a030">R214</text>
<text x="1870.0" y="1472.9" font-size="26.5" fill="#2c9a3a">2.4 Å</text>
<text x="1740.7" y="1500.5" font-size="26.5" fill="#1d7a40">E318</text>
<text x="1941.8" y="1506.7" font-size="26.5" fill="#1d7a40">R214</text>
<text x="1678.7" y="1544.0" font-size="26.5">i3 loop</text>
<text x="2037.3" y="1583.9" font-size="26.5">ICL3</text>
<text x="0" y="0" font-size="58" font-weight="bold" fill="#000" transform="translate(3.0,1715.5) scale(1.1,1)">j</text>
<line x1="55.9" y1="1776.5" x2="1348.7" y2="1776.5" stroke="#111" stroke-width="3"/>
<line x1="393.4" y1="1820.4" x2="1348.7" y2="1820.4" stroke="#111" stroke-width="2.4"/>
<line x1="55.9" y1="1876.7" x2="1348.7" y2="1876.7" stroke="#111" stroke-width="3"/>
<line x1="55.9" y1="2400.2" x2="1348.7" y2="2400.2" stroke="#111" stroke-width="3"/>
<text x="78.1" y="1846.7" font-size="26.5" font-style="italic">B.W.</text>
<text x="216.8" y="1846.7" font-size="26.5" font-style="italic">SNP</text>
<text x="742.0" y="1804.6" font-size="26.5" font-style="italic">Signaling</text>
<text x="487.5" y="1863.7" font-size="26.5">Ligand</text>
<text x="684.8" y="1863.7" font-size="26.5" xml:space="preserve">Gi  dissociation</text>
<text x="912.5" y="1863.7" font-size="26.5">Calcium mobilization</text>
<text x="1174.6" y="1863.7" font-size="26.5">Degranulation</text>
<text x="77.5" y="1915.5" font-size="26.5">ICL2</text>
<text x="206.3" y="1915.5" font-size="26.5" fill="#d4202a">R140G</text>
<text x="439.5" y="1915.5" font-size="26.5">C48/80, PAMP-12</text>
<text x="768.8" y="1914.0" font-size="26.5">+++</text>
<text x="206.3" y="1965.0" font-size="26.5" fill="#d4202a">R140C</text>
<text x="439.5" y="1965.0" font-size="26.5">C48/80, PAMP-12</text>
<text x="768.8" y="1963.5" font-size="26.5">+++</text>
<text x="77.5" y="2054.9" font-size="26.5">5.38</text>
<text x="206.3" y="2054.9" font-size="26.5" fill="#d4202a">D184H</text>
<text x="392.6" y="2054.9" font-size="26.5">SP, HK-1, hBD3, icatibant</text>
<text x="434.4" y="2091.4" font-size="26.5">C48/80, PAMP-12</text>
<text x="762.0" y="2053.4" font-size="26.5">+++</text>
<text x="984.8" y="2053.4" font-size="26.5">+++</text>
<text x="1231.7" y="2053.4" font-size="26.5">++</text>
<text x="77.5" y="2177.7" font-size="26.5">6.55</text>
<text x="206.3" y="2177.7" font-size="26.5" fill="#d4202a">W243R</text>
<text x="396.5" y="2177.7" font-size="26.5">SP, HK-1, hBD3, icatibant</text>
<text x="438.3" y="2214.2" font-size="26.5">C48/80, PAMP-12</text>
<text x="766.5" y="2176.2" font-size="26.5">+++</text>
<text x="988.4" y="2176.2" font-size="26.5">+++</text>
<text x="1234.8" y="2176.2" font-size="26.5">++</text>
<text x="77.5" y="2279.2" font-size="26.5">7.33</text>
<text x="206.3" y="2279.2" font-size="26.5" fill="#d4202a">D252Y</text>
<text x="389.8" y="2279.2" font-size="26.5">SP, HK-1, hBD3, icatibant</text>
<text x="431.6" y="2315.7" font-size="26.5">C48/80, PAMP-12</text>
<text x="768.8" y="2277.7" font-size="26.5">++</text>
<text x="981.7" y="2277.7" font-size="26.5">+++</text>
<text x="1228.0" y="2277.7" font-size="26.5">++</text>
<text x="77.5" y="2381.6" font-size="26.5">7.26</text>
<text x="206.3" y="2381.6" font-size="26.5">H259Y</text>
<text x="389.8" y="2381.6" font-size="26.5">SP, HK-1, hBD3, icatibant</text>
<text x="981.7" y="2380.1" font-size="26.5">+++</text>
<text x="1228.0" y="2380.1" font-size="26.5">++</text>
<text x="128.1" y="2438.6" font-size="26.5">“+++” &gt; 5, “++” 1.5-5, “nd” &lt; 1.5</text>
</svg></body></html>
